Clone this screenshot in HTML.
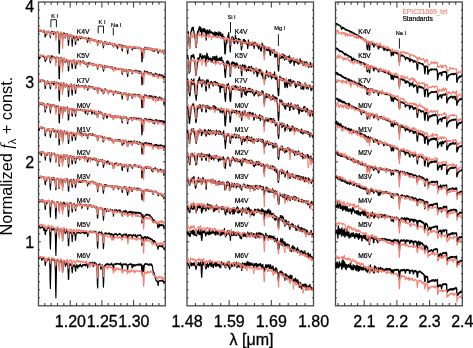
<!DOCTYPE html>
<html><head><meta charset="utf-8"><style>
html,body{margin:0;padding:0;background:#fff;overflow:hidden;width:473px;height:348px;}
svg{display:block;}
svg{will-change:transform;}
text{font-family:"Liberation Sans",sans-serif;}
.sl{font-size:6.7px;fill:#000;stroke:#000;stroke-width:0.22px;}
.ax{font-size:16px;fill:#000;stroke:#000;stroke-width:0.3px;}
.mk{font-size:5.6px;fill:#000;stroke:#000;stroke-width:0.18px;}
</style></head><body>
<svg width="473" height="348" viewBox="0 0 473 348">
<rect width="473" height="348" fill="#fff"/>
<rect x="38.50" y="2.00" width="126.80" height="303.80" stroke="#4a4a4a" stroke-width="1.3" fill="none"/>
<path d="M44.84 305.80v-2.8M44.84 2.00v2.8M51.18 305.80v-2.8M51.18 2.00v2.8M57.52 305.80v-2.8M57.52 2.00v2.8M63.86 305.80v-2.8M63.86 2.00v2.8M76.54 305.80v-2.8M76.54 2.00v2.8M82.88 305.80v-2.8M82.88 2.00v2.8M89.22 305.80v-2.8M89.22 2.00v2.8M95.56 305.80v-2.8M95.56 2.00v2.8M108.24 305.80v-2.8M108.24 2.00v2.8M114.58 305.80v-2.8M114.58 2.00v2.8M120.92 305.80v-2.8M120.92 2.00v2.8M127.26 305.80v-2.8M127.26 2.00v2.8M139.94 305.80v-2.8M139.94 2.00v2.8M146.28 305.80v-2.8M146.28 2.00v2.8M152.62 305.80v-2.8M152.62 2.00v2.8M158.96 305.80v-2.8M158.96 2.00v2.8M70.20 305.80v-5.6M70.20 2.00v5.6M101.90 305.80v-5.6M101.90 2.00v5.6M133.60 305.80v-5.6M133.60 2.00v5.6" stroke="#333" stroke-width="1" fill="none"/>
<path d="M38.50 297.81h1.3M165.30 297.81h-1.3M38.50 289.81h1.3M165.30 289.81h-1.3M38.50 281.82h1.3M165.30 281.82h-1.3M38.50 273.82h1.3M165.30 273.82h-1.3M38.50 265.83h1.3M165.30 265.83h-1.3M38.50 257.83h1.3M165.30 257.83h-1.3M38.50 249.84h1.3M165.30 249.84h-1.3M38.50 241.84h2.4M165.30 241.84h-2.4M38.50 233.85h1.3M165.30 233.85h-1.3M38.50 225.85h1.3M165.30 225.85h-1.3M38.50 217.86h1.3M165.30 217.86h-1.3M38.50 209.86h1.3M165.30 209.86h-1.3M38.50 201.87h1.3M165.30 201.87h-1.3M38.50 193.87h1.3M165.30 193.87h-1.3M38.50 185.88h1.3M165.30 185.88h-1.3M38.50 177.88h1.3M165.30 177.88h-1.3M38.50 169.89h1.3M165.30 169.89h-1.3M38.50 161.89h2.4M165.30 161.89h-2.4M38.50 153.90h1.3M165.30 153.90h-1.3M38.50 145.91h1.3M165.30 145.91h-1.3M38.50 137.91h1.3M165.30 137.91h-1.3M38.50 129.92h1.3M165.30 129.92h-1.3M38.50 121.92h1.3M165.30 121.92h-1.3M38.50 113.93h1.3M165.30 113.93h-1.3M38.50 105.93h1.3M165.30 105.93h-1.3M38.50 97.94h1.3M165.30 97.94h-1.3M38.50 89.94h1.3M165.30 89.94h-1.3M38.50 81.95h2.4M165.30 81.95h-2.4M38.50 73.95h1.3M165.30 73.95h-1.3M38.50 65.96h1.3M165.30 65.96h-1.3M38.50 57.96h1.3M165.30 57.96h-1.3M38.50 49.97h1.3M165.30 49.97h-1.3M38.50 41.97h1.3M165.30 41.97h-1.3M38.50 33.98h1.3M165.30 33.98h-1.3M38.50 25.98h1.3M165.30 25.98h-1.3M38.50 17.99h1.3M165.30 17.99h-1.3M38.50 9.99h1.3M165.30 9.99h-1.3" stroke="#333" stroke-width="1" fill="none"/>
<rect x="187.00" y="2.00" width="126.50" height="303.80" stroke="#4a4a4a" stroke-width="1.3" fill="none"/>
<path d="M195.43 305.80v-2.8M195.43 2.00v2.8M203.87 305.80v-2.8M203.87 2.00v2.8M212.30 305.80v-2.8M212.30 2.00v2.8M220.73 305.80v-2.8M220.73 2.00v2.8M237.60 305.80v-2.8M237.60 2.00v2.8M246.03 305.80v-2.8M246.03 2.00v2.8M254.47 305.80v-2.8M254.47 2.00v2.8M262.90 305.80v-2.8M262.90 2.00v2.8M279.77 305.80v-2.8M279.77 2.00v2.8M288.20 305.80v-2.8M288.20 2.00v2.8M296.63 305.80v-2.8M296.63 2.00v2.8M305.07 305.80v-2.8M305.07 2.00v2.8M229.17 305.80v-5.6M229.17 2.00v5.6M271.33 305.80v-5.6M271.33 2.00v5.6" stroke="#333" stroke-width="1" fill="none"/>
<path d="M187.00 297.81h1.3M313.50 297.81h-1.3M187.00 289.81h1.3M313.50 289.81h-1.3M187.00 281.82h1.3M313.50 281.82h-1.3M187.00 273.82h1.3M313.50 273.82h-1.3M187.00 265.83h1.3M313.50 265.83h-1.3M187.00 257.83h1.3M313.50 257.83h-1.3M187.00 249.84h1.3M313.50 249.84h-1.3M187.00 241.84h2.4M313.50 241.84h-2.4M187.00 233.85h1.3M313.50 233.85h-1.3M187.00 225.85h1.3M313.50 225.85h-1.3M187.00 217.86h1.3M313.50 217.86h-1.3M187.00 209.86h1.3M313.50 209.86h-1.3M187.00 201.87h1.3M313.50 201.87h-1.3M187.00 193.87h1.3M313.50 193.87h-1.3M187.00 185.88h1.3M313.50 185.88h-1.3M187.00 177.88h1.3M313.50 177.88h-1.3M187.00 169.89h1.3M313.50 169.89h-1.3M187.00 161.89h2.4M313.50 161.89h-2.4M187.00 153.90h1.3M313.50 153.90h-1.3M187.00 145.91h1.3M313.50 145.91h-1.3M187.00 137.91h1.3M313.50 137.91h-1.3M187.00 129.92h1.3M313.50 129.92h-1.3M187.00 121.92h1.3M313.50 121.92h-1.3M187.00 113.93h1.3M313.50 113.93h-1.3M187.00 105.93h1.3M313.50 105.93h-1.3M187.00 97.94h1.3M313.50 97.94h-1.3M187.00 89.94h1.3M313.50 89.94h-1.3M187.00 81.95h2.4M313.50 81.95h-2.4M187.00 73.95h1.3M313.50 73.95h-1.3M187.00 65.96h1.3M313.50 65.96h-1.3M187.00 57.96h1.3M313.50 57.96h-1.3M187.00 49.97h1.3M313.50 49.97h-1.3M187.00 41.97h1.3M313.50 41.97h-1.3M187.00 33.98h1.3M313.50 33.98h-1.3M187.00 25.98h1.3M313.50 25.98h-1.3M187.00 17.99h1.3M313.50 17.99h-1.3M187.00 9.99h1.3M313.50 9.99h-1.3" stroke="#333" stroke-width="1" fill="none"/>
<rect x="335.50" y="2.00" width="126.80" height="303.80" stroke="#4a4a4a" stroke-width="1.3" fill="none"/>
<path d="M338.05 305.80v-2.8M338.05 2.00v2.8M344.59 305.80v-2.8M344.59 2.00v2.8M351.13 305.80v-2.8M351.13 2.00v2.8M357.67 305.80v-2.8M357.67 2.00v2.8M370.75 305.80v-2.8M370.75 2.00v2.8M377.29 305.80v-2.8M377.29 2.00v2.8M383.83 305.80v-2.8M383.83 2.00v2.8M390.37 305.80v-2.8M390.37 2.00v2.8M403.44 305.80v-2.8M403.44 2.00v2.8M409.98 305.80v-2.8M409.98 2.00v2.8M416.52 305.80v-2.8M416.52 2.00v2.8M423.06 305.80v-2.8M423.06 2.00v2.8M436.14 305.80v-2.8M436.14 2.00v2.8M442.68 305.80v-2.8M442.68 2.00v2.8M449.22 305.80v-2.8M449.22 2.00v2.8M455.76 305.80v-2.8M455.76 2.00v2.8M364.21 305.80v-5.6M364.21 2.00v5.6M396.91 305.80v-5.6M396.91 2.00v5.6M429.60 305.80v-5.6M429.60 2.00v5.6" stroke="#333" stroke-width="1" fill="none"/>
<path d="M335.50 297.81h1.3M462.30 297.81h-1.3M335.50 289.81h1.3M462.30 289.81h-1.3M335.50 281.82h1.3M462.30 281.82h-1.3M335.50 273.82h1.3M462.30 273.82h-1.3M335.50 265.83h1.3M462.30 265.83h-1.3M335.50 257.83h1.3M462.30 257.83h-1.3M335.50 249.84h1.3M462.30 249.84h-1.3M335.50 241.84h2.4M462.30 241.84h-2.4M335.50 233.85h1.3M462.30 233.85h-1.3M335.50 225.85h1.3M462.30 225.85h-1.3M335.50 217.86h1.3M462.30 217.86h-1.3M335.50 209.86h1.3M462.30 209.86h-1.3M335.50 201.87h1.3M462.30 201.87h-1.3M335.50 193.87h1.3M462.30 193.87h-1.3M335.50 185.88h1.3M462.30 185.88h-1.3M335.50 177.88h1.3M462.30 177.88h-1.3M335.50 169.89h1.3M462.30 169.89h-1.3M335.50 161.89h2.4M462.30 161.89h-2.4M335.50 153.90h1.3M462.30 153.90h-1.3M335.50 145.91h1.3M462.30 145.91h-1.3M335.50 137.91h1.3M462.30 137.91h-1.3M335.50 129.92h1.3M462.30 129.92h-1.3M335.50 121.92h1.3M462.30 121.92h-1.3M335.50 113.93h1.3M462.30 113.93h-1.3M335.50 105.93h1.3M462.30 105.93h-1.3M335.50 97.94h1.3M462.30 97.94h-1.3M335.50 89.94h1.3M462.30 89.94h-1.3M335.50 81.95h2.4M462.30 81.95h-2.4M335.50 73.95h1.3M462.30 73.95h-1.3M335.50 65.96h1.3M462.30 65.96h-1.3M335.50 57.96h1.3M462.30 57.96h-1.3M335.50 49.97h1.3M462.30 49.97h-1.3M335.50 41.97h1.3M462.30 41.97h-1.3M335.50 33.98h1.3M462.30 33.98h-1.3M335.50 25.98h1.3M462.30 25.98h-1.3M335.50 17.99h1.3M462.30 17.99h-1.3M335.50 9.99h1.3M462.30 9.99h-1.3" stroke="#333" stroke-width="1" fill="none"/>
<polyline points="38.9,30.8 39.1,31.2 39.4,30.6 39.6,30.0 39.9,30.8 40.1,30.6 40.4,31.3 40.6,31.0 40.9,30.1 41.1,30.4 41.4,31.4 41.6,31.4 41.9,30.9 42.1,31.5 42.4,31.8 42.6,31.7 42.9,31.7 43.1,31.3 43.4,31.2 43.6,31.2 43.9,31.9 44.1,30.3 44.4,31.3 44.6,31.9 44.9,33.1 45.1,36.9 45.4,36.8 45.6,34.9 45.9,32.4 46.1,32.9 46.4,34.6 46.6,34.7 46.9,33.0 47.1,31.4 47.4,32.6 47.6,31.6 47.9,31.4 48.1,31.8 48.4,31.7 48.6,32.2 48.9,31.8 49.1,31.8 49.4,31.5 49.6,32.5 49.9,32.9 50.1,36.0 50.4,37.7 50.6,34.9 50.9,32.3 51.1,32.6 51.4,33.3 51.6,31.5 51.9,31.4 52.1,32.3 52.4,31.6 52.6,31.8 52.9,32.2 53.1,33.6 53.4,34.3 53.6,34.5 53.9,33.1 54.1,32.0 54.4,32.0 54.6,31.7 54.9,32.3 55.1,32.1 55.4,33.4 55.6,37.0 55.9,37.6 56.1,36.2 56.4,34.2 56.6,32.5 56.9,32.3 57.1,32.6 57.4,32.5 57.6,31.8 57.9,32.8 58.1,32.2 58.4,32.4 58.6,35.2 58.9,43.0 59.1,53.4 59.4,53.1 59.6,45.2 59.9,35.7 60.1,33.4 60.4,33.2 60.6,32.6 60.9,32.5 61.1,33.0 61.4,33.3 61.6,33.4 61.9,34.8 62.1,36.0 62.4,38.7 62.6,40.1 62.9,37.9 63.1,35.1 63.4,33.7 63.6,33.6 63.9,32.7 64.2,34.0 64.4,33.4 64.7,33.5 64.9,35.7 65.2,38.0 65.4,37.9 65.7,36.0 65.9,34.0 66.2,35.5 66.4,34.5 66.7,33.6 66.9,33.8 67.2,34.3 67.4,33.6 67.7,34.9 67.9,36.3 68.2,41.4 68.4,45.5 68.7,43.2 68.9,40.0 69.2,35.5 69.4,35.6 69.7,35.0 69.9,35.2 70.2,34.4 70.4,35.9 70.7,36.1 70.9,34.6 71.2,35.4 71.4,35.3 71.7,37.4 71.9,41.1 72.2,46.2 72.4,42.8 72.7,38.5 72.9,36.5 73.2,35.5 73.4,36.2 73.7,36.9 73.9,38.1 74.2,37.9 74.4,37.7 74.7,36.9 74.9,37.3 75.2,40.6 75.4,44.3 75.7,44.3 75.9,39.7 76.2,37.1 76.4,36.3 76.7,36.9 76.9,37.7 77.2,39.1 77.4,37.6 77.7,37.4 77.9,39.2 78.2,40.5 78.4,39.4 78.7,37.0 78.9,37.4 79.2,37.2 79.4,36.4 79.7,37.6 79.9,37.1 80.2,37.6 80.4,38.8 80.7,38.5 80.9,38.0 81.2,36.8 81.4,38.5 81.7,37.3 81.9,36.9 82.2,38.0 82.4,37.6 82.7,37.9 82.9,37.7 83.2,37.8 83.4,38.0 83.7,37.6 83.9,38.4 84.2,37.8 84.4,37.7 84.7,38.2 84.9,38.4 85.2,38.1 85.4,37.9 85.7,38.7 85.9,37.5 86.2,37.9 86.4,38.5 86.7,37.9 86.9,38.9 87.2,39.9 87.4,42.3 87.7,42.2 87.9,40.9 88.2,39.7 88.4,37.7 88.7,40.5 88.9,38.6 89.2,38.7 89.4,39.5 89.7,39.2 89.9,38.4 90.2,39.9 90.4,40.3 90.7,39.5 90.9,39.4 91.2,39.6 91.4,39.0 91.7,39.8 91.9,40.0 92.2,40.0 92.4,39.6 92.7,39.9 92.9,39.4 93.2,40.3 93.4,39.9 93.7,40.3 93.9,40.0 94.2,40.2 94.4,39.7 94.7,40.5 94.9,41.1 95.2,40.1 95.4,40.1 95.7,40.4 95.9,40.3 96.2,40.3 96.4,40.7 96.7,40.6 96.9,41.8 97.2,42.3 97.4,44.3 97.7,45.3 97.9,43.4 98.2,42.7 98.4,40.9 98.7,40.7 98.9,41.0 99.2,41.2 99.4,40.7 99.7,41.6 99.9,41.2 100.2,42.8 100.4,41.8 100.7,41.3 100.9,41.2 101.2,41.5 101.4,41.6 101.7,41.3 101.9,41.4 102.2,41.8 102.4,41.8 102.7,42.9 102.9,44.3 103.2,46.1 103.4,47.8 103.7,45.7 103.9,44.5 104.2,42.9 104.4,42.7 104.7,43.2 104.9,41.3 105.2,42.6 105.4,42.0 105.7,42.9 105.9,42.0 106.2,42.6 106.4,43.5 106.7,44.3 106.9,44.1 107.2,43.4 107.4,43.1 107.7,43.8 107.9,43.9 108.2,43.4 108.4,44.4 108.7,43.7 108.9,43.7 109.2,43.1 109.4,43.8 109.7,42.9 109.9,43.7 110.2,43.2 110.4,43.9 110.7,44.1 110.9,43.3 111.2,43.7 111.4,43.7 111.7,44.4 111.9,44.2 112.2,43.3 112.4,44.2 112.7,44.5 112.9,45.8 113.2,45.4 113.4,46.9 113.7,47.0 113.9,44.3 114.2,43.8 114.4,44.6 114.7,44.9 114.9,44.1 115.2,44.8 115.4,44.6 115.7,45.5 115.9,45.2 116.2,45.9 116.4,44.8 116.7,45.0 116.9,45.4 117.2,47.5 117.4,48.7 117.7,47.5 117.9,46.6 118.2,45.7 118.4,45.1 118.7,45.1 118.9,45.1 119.2,44.4 119.4,45.4 119.7,45.5 119.9,45.0 120.2,45.9 120.4,44.9 120.7,45.3 120.9,45.4 121.2,46.7 121.4,45.1 121.7,47.0 121.9,49.4 122.2,51.0 122.4,50.6 122.7,47.1 122.9,45.2 123.2,46.5 123.4,45.6 123.7,46.0 123.9,45.6 124.2,46.8 124.4,46.7 124.7,45.9 124.9,46.8 125.2,46.4 125.4,46.3 125.7,46.4 125.9,46.3 126.2,46.7 126.4,46.6 126.7,46.4 126.9,47.5 127.2,48.5 127.4,52.3 127.7,53.7 127.9,51.6 128.2,47.7 128.4,47.7 128.7,46.8 128.9,46.6 129.2,46.4 129.4,47.0 129.7,46.8 129.9,46.4 130.2,46.5 130.4,46.8 130.7,46.6 130.9,47.4 131.2,47.6 131.4,47.4 131.7,47.7 131.9,48.6 132.2,50.0 132.4,49.9 132.7,49.1 132.9,47.9 133.2,47.5 133.4,48.1 133.7,47.8 133.9,47.3 134.2,47.3 134.4,47.4 134.7,48.2 134.9,47.3 135.2,48.0 135.4,48.2 135.7,47.4 135.9,48.2 136.2,47.8 136.4,47.3 136.7,47.7 136.9,47.6 137.2,47.4 137.4,47.5 137.7,47.7 137.9,48.2 138.2,47.9 138.4,48.3 138.7,47.2 138.9,47.9 139.2,48.0 139.4,47.8 139.7,47.9 139.9,48.1 140.2,47.5 140.4,47.7 140.7,48.1 140.9,48.4 141.2,48.6 141.4,51.9 141.7,55.9 141.9,61.8 142.2,61.3 142.4,54.7 142.7,49.8 142.9,48.7 143.2,50.7 143.4,53.3 143.7,53.4 143.9,51.6 144.2,49.3 144.4,48.8 144.7,47.2 144.9,48.4 145.2,48.3 145.4,47.6 145.7,49.4 145.9,47.7 146.2,47.9 146.4,47.8 146.7,49.0 146.9,48.0 147.2,48.8 147.4,48.8 147.7,48.7 147.9,47.9 148.2,48.3 148.4,49.5 148.7,48.0 148.9,48.3 149.2,48.6 149.4,49.1 149.7,48.9 149.9,49.2 150.2,48.3 150.4,49.3 150.7,49.1 150.9,48.1 151.2,49.7 151.4,50.1 151.7,48.6 151.9,49.0 152.2,49.8 152.4,48.7 152.7,49.6 152.9,51.3 153.2,51.5 153.4,50.1 153.7,49.8 153.9,49.5 154.2,49.2 154.4,50.6 154.7,51.1 154.9,50.3 155.2,49.9 155.4,49.4 155.7,49.9 155.9,48.9 156.2,49.8 156.4,49.5 156.7,50.1 156.9,49.9 157.2,49.2 157.4,50.2 157.7,52.0 157.9,52.4 158.2,53.3 158.4,52.7 158.7,51.6 158.9,51.8 159.2,51.1 159.4,50.6 159.7,50.3 159.9,50.3 160.2,50.5 160.4,50.1 160.7,51.1 160.9,51.6 161.2,51.8 161.4,50.8 161.7,50.9 161.9,50.7 162.2,51.8 162.4,51.1 162.7,50.1 162.9,51.2 163.2,52.1 163.4,52.1 163.7,53.6 163.9,54.2 164.2,52.3 164.4,51.1 164.7,50.8" fill="none" stroke="#000" stroke-width="1.15" stroke-linejoin="round"/>
<polyline points="38.9,31.0 39.1,30.7 39.4,30.1 39.6,30.3 39.9,31.8 40.1,31.0 40.4,31.1 40.6,30.7 40.9,30.5 41.1,31.4 41.4,30.9 41.6,30.6 41.9,31.0 42.1,30.6 42.4,31.2 42.6,31.7 42.9,30.7 43.1,32.0 43.4,30.8 43.6,31.3 43.9,30.8 44.1,31.2 44.4,31.4 44.6,31.4 44.9,32.2 45.1,33.7 45.4,33.9 45.6,32.5 45.9,32.3 46.1,32.7 46.4,33.7 46.6,33.9 46.9,34.2 47.1,32.2 47.4,31.5 47.6,32.7 47.9,31.1 48.1,32.3 48.4,31.2 48.6,32.0 48.9,30.7 49.1,32.3 49.4,31.8 49.6,31.6 49.9,33.9 50.1,35.1 50.4,35.8 50.6,34.6 50.9,33.2 51.1,32.2 51.4,32.4 51.6,32.6 51.9,32.3 52.1,33.0 52.4,33.3 52.6,32.3 52.9,32.1 53.1,32.1 53.4,32.5 53.6,32.8 53.9,31.7 54.1,32.4 54.4,31.9 54.6,33.3 54.9,32.2 55.1,33.1 55.4,34.3 55.6,37.8 55.9,40.4 56.1,38.1 56.4,35.0 56.6,32.1 56.9,32.8 57.1,31.9 57.4,33.4 57.6,32.4 57.9,33.2 58.1,31.8 58.4,32.9 58.6,33.1 58.9,36.0 59.1,39.7 59.4,40.0 59.6,37.2 59.9,34.5 60.1,33.3 60.4,32.7 60.6,32.0 60.9,32.4 61.1,32.8 61.4,31.8 61.6,33.6 61.9,34.5 62.1,38.9 62.4,46.3 62.6,48.4 62.9,43.1 63.1,36.3 63.4,34.3 63.6,33.9 63.9,33.9 64.2,36.3 64.4,36.5 64.7,34.4 64.9,35.5 65.2,35.8 65.4,37.3 65.7,35.9 65.9,33.8 66.2,33.6 66.4,34.1 66.7,34.0 66.9,35.0 67.2,34.7 67.4,34.2 67.7,34.9 67.9,34.3 68.2,37.5 68.4,39.8 68.7,39.0 68.9,36.7 69.2,35.8 69.4,36.0 69.7,35.0 69.9,34.3 70.2,35.8 70.4,34.0 70.7,35.4 70.9,34.8 71.2,35.8 71.4,35.2 71.7,37.5 71.9,38.9 72.2,39.0 72.4,37.8 72.7,36.7 72.9,36.6 73.2,35.8 73.4,35.8 73.7,35.7 73.9,36.3 74.2,36.1 74.4,36.1 74.7,35.5 74.9,37.3 75.2,38.9 75.4,39.3 75.7,41.1 75.9,38.7 76.2,38.0 76.4,38.4 76.7,39.7 76.9,38.2 77.2,36.6 77.4,35.7 77.7,37.3 77.9,36.4 78.2,36.6 78.4,38.5 78.7,38.2 78.9,37.6 79.2,36.9 79.4,37.5 79.7,35.9 79.9,37.3 80.2,36.9 80.4,36.6 80.7,36.5 80.9,37.7 81.2,37.6 81.4,37.6 81.7,38.1 81.9,37.4 82.2,37.7 82.4,38.1 82.7,38.8 82.9,38.8 83.2,37.9 83.4,38.3 83.7,37.3 83.9,37.8 84.2,37.6 84.4,37.4 84.7,39.2 84.9,38.7 85.2,37.8 85.4,37.9 85.7,38.3 85.9,37.6 86.2,38.7 86.4,37.8 86.7,38.3 86.9,38.1 87.2,39.0 87.4,39.6 87.7,40.0 87.9,40.3 88.2,40.3 88.4,40.1 88.7,39.6 88.9,39.9 89.2,39.5 89.4,39.1 89.7,40.4 89.9,41.1 90.2,43.1 90.4,41.6 90.7,39.2 90.9,39.8 91.2,39.8 91.4,38.0 91.7,39.2 91.9,39.7 92.2,39.1 92.4,39.5 92.7,39.3 92.9,40.1 93.2,40.0 93.4,41.4 93.7,39.8 93.9,40.6 94.2,40.1 94.4,40.2 94.7,39.5 94.9,39.2 95.2,39.9 95.4,40.8 95.7,41.3 95.9,40.8 96.2,40.8 96.4,40.1 96.7,41.5 96.9,41.8 97.2,42.0 97.4,44.1 97.7,44.4 97.9,44.7 98.2,42.7 98.4,41.7 98.7,41.6 98.9,41.5 99.2,41.0 99.4,40.6 99.7,40.6 99.9,40.4 100.2,41.7 100.4,42.7 100.7,40.6 100.9,41.7 101.2,41.9 101.4,41.2 101.7,41.9 101.9,41.3 102.2,42.6 102.4,41.7 102.7,42.3 102.9,43.5 103.2,44.4 103.4,44.7 103.7,45.4 103.9,45.7 104.2,44.3 104.4,43.3 104.7,42.0 104.9,42.6 105.2,42.9 105.4,42.6 105.7,43.7 105.9,42.5 106.2,42.1 106.4,41.9 106.7,43.4 106.9,42.8 107.2,43.5 107.4,43.2 107.7,43.9 107.9,43.7 108.2,42.9 108.4,43.3 108.7,43.8 108.9,42.6 109.2,44.1 109.4,44.1 109.7,44.1 109.9,43.5 110.2,43.7 110.4,42.9 110.7,43.6 110.9,43.3 111.2,43.7 111.4,43.5 111.7,43.9 111.9,44.5 112.2,43.2 112.4,44.4 112.7,43.0 112.9,43.6 113.2,46.1 113.4,47.1 113.7,46.5 113.9,44.1 114.2,44.5 114.4,44.7 114.7,45.3 114.9,44.5 115.2,44.8 115.4,44.0 115.7,44.5 115.9,44.4 116.2,45.1 116.4,44.2 116.7,44.3 116.9,45.2 117.2,45.9 117.4,45.1 117.7,45.2 117.9,44.9 118.2,45.9 118.4,46.0 118.7,46.9 118.9,46.0 119.2,45.0 119.4,45.1 119.7,45.2 119.9,45.6 120.2,47.3 120.4,46.6 120.7,45.1 120.9,46.7 121.2,46.0 121.4,45.9 121.7,47.6 121.9,48.6 122.2,48.9 122.4,47.4 122.7,47.1 122.9,46.8 123.2,45.4 123.4,47.1 123.7,46.8 123.9,46.0 124.2,46.4 124.4,46.3 124.7,46.2 124.9,46.6 125.2,47.4 125.4,45.7 125.7,46.6 125.9,46.5 126.2,46.1 126.4,46.3 126.7,45.8 126.9,46.2 127.2,47.5 127.4,49.1 127.7,49.0 127.9,50.1 128.2,46.9 128.4,46.8 128.7,46.6 128.9,46.5 129.2,47.4 129.4,46.5 129.7,47.5 129.9,47.4 130.2,46.3 130.4,47.7 130.7,47.0 130.9,48.8 131.2,46.9 131.4,46.5 131.7,46.3 131.9,47.5 132.2,48.7 132.4,48.1 132.7,47.0 132.9,46.8 133.2,47.0 133.4,47.9 133.7,46.2 133.9,46.9 134.2,46.7 134.4,46.4 134.7,46.5 134.9,46.8 135.2,47.7 135.4,47.2 135.7,47.0 135.9,47.7 136.2,47.6 136.4,47.5 136.7,47.9 136.9,47.2 137.2,47.9 137.4,47.8 137.7,47.3 137.9,46.9 138.2,48.4 138.4,47.7 138.7,49.3 138.9,47.3 139.2,48.2 139.4,47.5 139.7,47.9 139.9,48.2 140.2,47.4 140.4,47.8 140.7,48.0 140.9,48.1 141.2,48.8 141.4,50.1 141.7,51.4 141.9,52.3 142.2,51.5 142.4,49.3 142.7,48.4 142.9,49.0 143.2,52.8 143.4,57.1 143.7,58.3 143.9,55.8 144.2,50.5 144.4,48.4 144.7,48.2 144.9,48.5 145.2,47.0 145.4,47.9 145.7,48.8 145.9,48.7 146.2,48.3 146.4,48.3 146.7,49.2 146.9,48.2 147.2,48.9 147.4,49.0 147.7,48.3 147.9,48.8 148.2,48.4 148.4,48.3 148.7,48.0 148.9,49.2 149.2,48.5 149.4,48.4 149.7,48.2 149.9,50.2 150.2,50.2 150.4,49.9 150.7,49.2 150.9,48.5 151.2,49.5 151.4,49.4 151.7,48.3 151.9,49.7 152.2,49.5 152.4,48.8 152.7,49.8 152.9,50.8 153.2,51.0 153.4,49.9 153.7,48.5 153.9,50.0 154.2,49.4 154.4,49.9 154.7,50.0 154.9,49.4 155.2,50.1 155.4,50.4 155.7,50.2 155.9,49.4 156.2,49.1 156.4,49.5 156.7,49.1 156.9,49.3 157.2,48.6 157.4,50.0 157.7,50.2 157.9,51.4 158.2,51.6 158.4,50.9 158.7,51.2 158.9,50.2 159.2,49.3 159.4,50.2 159.7,49.9 159.9,50.5 160.2,50.2 160.4,51.0 160.7,52.3 160.9,52.4 161.2,50.7 161.4,50.5 161.7,50.7 161.9,51.4 162.2,50.6 162.4,50.6 162.7,51.2 162.9,51.2 163.2,51.9 163.4,51.9 163.7,52.5 163.9,53.9 164.2,53.5 164.4,51.5 164.7,51.5" fill="none" stroke="#f47e70" stroke-width="1.1" stroke-linejoin="round"/>
<polyline points="187.4,32.7 187.7,32.7 187.9,34.0 188.2,31.6 188.4,33.4 188.7,37.5 188.9,39.0 189.2,45.5 189.4,46.0 189.7,48.1 189.9,44.1 190.2,41.2 190.4,38.8 190.7,36.4 190.9,32.2 191.2,31.6 191.4,29.9 191.7,31.2 191.9,27.9 192.2,30.0 192.4,27.7 192.7,27.3 192.9,27.7 193.2,27.1 193.4,29.0 193.7,30.7 193.9,31.0 194.2,33.3 194.4,35.3 194.7,34.2 194.9,36.1 195.2,38.6 195.4,40.3 195.7,46.2 195.9,44.5 196.2,47.5 196.4,44.8 196.7,43.3 196.9,38.4 197.2,34.3 197.4,33.5 197.7,31.3 197.9,32.1 198.2,32.5 198.4,31.0 198.7,29.8 198.9,28.5 199.2,29.3 199.4,26.7 199.7,29.2 199.9,28.0 200.2,31.3 200.4,31.5 200.7,27.1 200.9,29.8 201.2,30.3 201.4,31.3 201.7,35.3 201.9,33.0 202.2,28.9 202.4,29.6 202.7,29.5 202.9,30.2 203.2,29.2 203.4,31.8 203.7,31.4 203.9,28.5 204.2,28.9 204.4,29.7 204.7,29.1 204.9,32.1 205.2,30.3 205.4,29.8 205.7,33.2 205.9,37.7 206.2,40.1 206.4,33.1 206.7,31.0 206.9,30.9 207.2,30.3 207.4,33.6 207.7,29.9 207.9,31.5 208.2,31.2 208.4,32.9 208.7,31.3 208.9,34.5 209.2,31.1 209.4,31.0 209.7,29.9 209.9,30.6 210.2,32.4 210.4,32.8 210.7,32.4 210.9,33.0 211.2,32.5 211.4,31.7 211.7,33.0 211.9,33.0 212.2,32.3 212.4,33.3 212.7,34.0 212.9,32.9 213.2,32.8 213.4,34.7 213.7,36.1 213.9,33.1 214.2,33.3 214.4,33.5 214.7,35.6 214.9,31.8 215.2,34.4 215.4,35.0 215.7,32.3 215.9,35.4 216.2,34.2 216.4,33.0 216.7,34.3 216.9,32.7 217.2,34.5 217.4,37.3 217.7,33.3 217.9,36.7 218.2,34.2 218.4,35.7 218.7,34.5 218.9,31.6 219.2,33.8 219.4,34.9 219.7,33.2 219.9,33.0 220.2,35.3 220.4,34.0 220.7,32.7 220.9,34.0 221.2,36.1 221.4,34.5 221.7,36.8 221.9,38.0 222.2,36.1 222.4,34.3 222.7,34.1 222.9,36.3 223.2,37.8 223.4,36.7 223.7,37.0 223.9,36.6 224.2,39.5 224.4,42.2 224.7,49.1 224.9,53.8 225.2,53.8 225.4,51.9 225.7,46.8 225.9,42.6 226.2,41.2 226.4,38.8 226.7,43.4 226.9,41.4 227.2,37.9 227.4,38.1 227.7,36.9 227.9,35.5 228.2,37.8 228.4,35.5 228.7,32.6 228.9,38.0 229.2,37.2 229.4,42.1 229.7,42.9 229.9,46.1 230.2,51.9 230.4,47.6 230.7,45.9 230.9,43.8 231.2,39.4 231.4,37.9 231.7,37.7 231.9,38.6 232.2,36.5 232.4,38.4 232.7,38.4 232.9,40.8 233.2,37.7 233.4,38.1 233.7,42.3 233.9,42.1 234.2,43.4 234.4,43.4 234.7,43.4 234.9,38.9 235.2,38.6 235.4,35.2 235.7,37.4 235.9,40.6 236.2,38.0 236.4,38.5 236.7,38.9 236.9,42.0 237.2,41.7 237.4,40.6 237.7,43.6 237.9,41.9 238.2,41.1 238.4,38.7 238.7,41.7 238.9,40.0 239.2,39.4 239.4,39.0 239.7,39.4 239.9,40.9 240.2,39.5 240.4,41.4 240.7,41.2 240.9,43.7 241.2,46.6 241.4,50.0 241.7,48.5 241.9,47.5 242.2,43.9 242.4,41.3 242.7,41.4 242.9,40.1 243.2,40.3 243.4,39.7 243.7,42.8 243.9,41.3 244.2,40.5 244.4,39.5 244.7,41.1 244.9,43.3 245.2,42.1 245.4,40.6 245.7,43.5 245.9,43.6 246.2,43.2 246.4,43.3 246.7,44.0 246.9,43.3 247.2,44.5 247.4,44.4 247.7,48.5 247.9,45.4 248.2,46.0 248.4,40.0 248.7,43.6 248.9,44.5 249.2,43.7 249.4,45.2 249.7,44.9 249.9,44.1 250.2,42.4 250.4,42.9 250.7,44.5 250.9,44.9 251.2,43.4 251.4,43.4 251.7,43.7 251.9,45.1 252.2,42.9 252.4,42.8 252.7,44.4 252.9,42.4 253.2,43.1 253.4,44.4 253.7,46.5 253.9,46.3 254.2,48.5 254.4,43.4 254.7,45.2 254.9,42.1 255.2,42.5 255.4,45.1 255.7,43.8 255.9,43.3 256.1,43.8 256.4,45.1 256.6,44.5 256.9,44.6 257.1,46.0 257.4,43.9 257.6,44.5 257.9,44.8 258.1,47.5 258.4,48.0 258.6,49.0 258.9,46.7 259.1,45.5 259.4,46.4 259.6,44.8 259.9,46.7 260.1,47.9 260.4,48.3 260.6,50.4 260.9,49.7 261.1,51.0 261.4,50.8 261.6,46.3 261.9,46.1 262.1,43.1 262.4,46.4 262.6,46.2 262.9,45.0 263.1,47.8 263.4,45.7 263.6,49.3 263.9,52.4 264.1,53.2 264.4,56.2 264.6,53.7 264.9,47.5 265.1,46.1 265.4,48.9 265.6,48.9 265.9,47.7 266.1,48.8 266.4,49.6 266.6,49.9 266.9,50.4 267.1,48.9 267.4,50.5 267.6,50.0 267.9,49.2 268.1,49.8 268.4,50.3 268.6,49.6 268.9,47.2 269.1,50.0 269.4,49.2 269.6,52.0 269.9,51.8 270.1,54.7 270.4,55.3 270.6,55.3 270.9,51.1 271.1,49.5 271.4,50.1 271.6,49.3 271.9,50.2 272.1,50.1 272.4,50.6 272.6,52.9 272.9,50.1 273.1,50.9 273.4,50.7 273.6,51.8 273.9,49.5 274.1,50.3 274.4,51.9 274.6,54.8 274.9,57.0 275.1,57.5 275.4,55.0 275.6,54.5 275.9,55.8 276.1,56.2 276.4,56.6 276.6,55.4 276.9,52.2 277.1,53.0 277.4,54.4 277.6,58.0 277.9,62.0 278.1,65.1 278.4,70.9 278.6,71.1 278.9,65.4 279.1,62.0 279.4,58.5 279.6,57.6 279.9,54.3 280.1,58.5 280.4,55.9 280.6,58.1 280.9,56.6 281.1,56.4 281.4,56.7 281.6,57.8 281.9,55.5 282.1,55.9 282.4,55.4 282.6,53.9 282.9,57.9 283.1,56.6 283.4,55.7 283.6,57.3 283.9,54.6 284.1,56.1 284.4,59.4 284.6,60.2 284.9,57.6 285.1,55.7 285.4,56.8 285.6,58.4 285.9,56.7 286.1,57.9 286.4,59.4 286.6,57.1 286.9,57.9 287.1,58.3 287.4,57.9 287.6,57.9 287.9,56.7 288.1,58.3 288.4,57.1 288.6,59.4 288.9,61.2 289.1,57.0 289.4,55.7 289.6,59.6 289.9,62.6 290.1,63.4 290.4,61.8 290.6,58.2 290.9,57.8 291.1,60.7 291.4,58.3 291.6,61.9 291.9,60.0 292.1,60.7 292.4,60.3 292.6,60.3 292.9,60.5 293.1,58.2 293.4,60.1 293.6,60.5 293.9,62.7 294.1,65.4 294.4,62.7 294.6,60.4 294.9,59.7 295.1,60.6 295.4,62.2 295.6,59.8 295.9,62.0 296.1,60.9 296.4,60.6 296.6,60.0 296.9,62.6 297.1,62.8 297.4,59.0 297.6,62.8 297.9,63.5 298.1,61.7 298.4,61.8 298.6,64.3 298.9,63.1 299.1,61.0 299.4,62.9 299.6,62.6 299.9,61.9 300.1,58.7 300.4,62.7 300.6,60.9 300.9,62.0 301.1,61.7 301.4,63.1 301.6,61.6 301.9,61.1 302.1,62.9 302.4,64.1 302.6,62.2 302.9,65.1 303.1,64.2 303.4,62.9 303.6,65.1 303.9,61.9 304.1,64.9 304.4,63.6 304.6,64.8 304.9,62.0 305.1,62.1 305.4,64.6 305.6,63.5 305.9,63.4 306.1,62.9 306.4,64.1 306.6,61.8 306.9,62.3 307.1,63.9 307.4,63.6 307.6,64.0 307.9,64.6 308.1,64.4 308.4,64.6 308.6,67.5 308.9,66.6 309.1,66.8 309.4,65.6 309.6,65.5 309.9,64.2 310.1,64.9 310.4,62.3 310.6,64.2 310.9,66.0 311.1,67.2 311.4,66.4 311.6,64.1 311.9,66.0 312.1,64.4 312.4,66.5 312.6,65.4 312.9,66.8" fill="none" stroke="#000" stroke-width="1.25" stroke-linejoin="round"/>
<polyline points="187.4,33.0 187.7,35.7 187.9,34.3 188.2,34.4 188.4,36.3 188.7,36.5 188.9,36.5 189.2,40.9 189.4,46.4 189.7,48.6 189.9,43.5 190.2,38.6 190.4,36.5 190.7,34.8 190.9,35.0 191.2,34.9 191.4,33.5 191.7,33.7 191.9,32.4 192.2,34.9 192.4,37.8 192.7,37.0 192.9,38.0 193.2,36.2 193.4,34.5 193.7,34.4 193.9,34.5 194.2,33.7 194.4,34.2 194.7,34.4 194.9,35.0 195.2,35.9 195.4,37.3 195.7,43.8 195.9,47.2 196.2,47.1 196.4,42.2 196.7,37.1 196.9,35.1 197.2,35.7 197.4,36.1 197.7,36.3 197.9,35.6 198.2,35.7 198.4,34.5 198.7,36.1 198.9,34.8 199.2,32.3 199.4,34.3 199.7,36.0 199.9,34.7 200.2,34.4 200.4,34.1 200.7,35.9 200.9,35.7 201.2,35.8 201.4,36.4 201.7,38.0 201.9,37.2 202.2,34.6 202.4,35.7 202.7,35.1 202.9,34.9 203.2,35.7 203.4,35.1 203.7,32.9 203.9,37.0 204.2,36.8 204.4,35.7 204.7,35.1 204.9,35.5 205.2,34.3 205.4,35.9 205.7,36.6 205.9,37.9 206.2,37.3 206.4,36.1 206.7,36.6 206.9,36.5 207.2,35.9 207.4,35.4 207.7,34.8 207.9,36.1 208.2,36.9 208.4,34.7 208.7,37.6 208.9,35.5 209.2,37.0 209.4,37.2 209.7,35.3 209.9,34.7 210.2,36.0 210.4,36.5 210.7,35.6 210.9,37.7 211.2,37.4 211.4,40.1 211.7,37.9 211.9,36.8 212.2,36.6 212.4,36.3 212.7,37.5 212.9,37.8 213.2,36.5 213.4,36.0 213.7,35.2 213.9,35.6 214.2,36.2 214.4,36.3 214.7,36.5 214.9,36.6 215.2,37.3 215.4,36.2 215.7,36.4 215.9,37.7 216.2,37.2 216.4,36.0 216.7,37.5 216.9,35.9 217.2,36.3 217.4,35.0 217.7,37.2 217.9,36.6 218.2,37.4 218.4,37.2 218.7,36.7 218.9,36.8 219.2,37.7 219.4,36.7 219.7,36.7 219.9,37.0 220.2,37.6 220.4,37.8 220.7,38.9 220.9,37.7 221.2,38.9 221.4,37.1 221.7,38.1 221.9,37.9 222.2,39.3 222.4,38.2 222.7,37.2 222.9,38.0 223.2,37.9 223.4,37.4 223.7,37.4 223.9,37.0 224.2,40.0 224.4,38.1 224.7,39.4 224.9,39.4 225.2,41.6 225.4,42.7 225.7,40.8 225.9,39.7 226.2,37.5 226.4,38.7 226.7,39.5 226.9,37.6 227.2,39.1 227.4,37.6 227.7,38.7 227.9,38.8 228.2,39.9 228.4,38.1 228.7,38.8 228.9,39.5 229.2,37.9 229.4,39.1 229.7,39.7 229.9,42.3 230.2,45.4 230.4,44.7 230.7,44.4 230.9,43.3 231.2,43.8 231.4,41.6 231.7,39.9 231.9,39.6 232.2,37.6 232.4,41.0 232.7,39.7 232.9,39.7 233.2,39.9 233.4,40.8 233.7,41.4 233.9,40.3 234.2,40.9 234.4,40.5 234.7,39.9 234.9,40.8 235.2,40.6 235.4,39.4 235.7,41.4 235.9,39.1 236.2,40.4 236.4,39.4 236.7,39.6 236.9,39.7 237.2,40.9 237.4,39.4 237.7,40.3 237.9,41.8 238.2,40.0 238.4,40.6 238.7,41.2 238.9,40.2 239.2,41.1 239.4,40.3 239.7,41.4 239.9,41.0 240.2,40.2 240.4,42.2 240.7,41.1 240.9,41.5 241.2,42.6 241.4,45.4 241.7,46.2 241.9,44.3 242.2,43.1 242.4,40.5 242.7,41.2 242.9,42.5 243.2,41.7 243.4,42.0 243.7,43.0 243.9,42.0 244.2,42.2 244.4,41.9 244.7,43.7 244.9,44.0 245.2,43.4 245.4,44.1 245.7,41.9 245.9,43.2 246.2,42.8 246.4,42.1 246.7,42.0 246.9,41.2 247.2,43.8 247.4,43.3 247.7,42.9 247.9,43.3 248.2,42.1 248.4,42.2 248.7,42.4 248.9,42.6 249.2,46.7 249.4,45.1 249.7,44.6 249.9,45.5 250.2,42.3 250.4,44.3 250.7,43.6 250.9,42.5 251.2,43.7 251.4,41.8 251.7,43.5 251.9,44.2 252.2,41.7 252.4,42.4 252.7,43.8 252.9,44.3 253.2,43.9 253.4,44.6 253.7,45.1 253.9,44.6 254.2,45.6 254.4,43.9 254.7,43.0 254.9,42.8 255.2,45.5 255.4,44.3 255.7,45.9 255.9,43.2 256.1,44.0 256.4,44.6 256.6,44.3 256.9,44.9 257.1,44.6 257.4,44.1 257.6,42.8 257.9,43.9 258.1,46.1 258.4,45.4 258.6,46.0 258.9,44.5 259.1,44.8 259.4,44.4 259.6,45.4 259.9,45.3 260.1,46.0 260.4,47.7 260.6,45.8 260.9,46.6 261.1,44.6 261.4,46.5 261.6,45.4 261.9,45.8 262.1,46.0 262.4,47.4 262.6,46.1 262.9,45.9 263.1,45.5 263.4,47.4 263.6,48.8 263.9,53.8 264.1,59.1 264.4,60.0 264.6,54.5 264.9,50.8 265.1,49.4 265.4,46.2 265.6,48.4 265.9,49.2 266.1,47.1 266.4,48.1 266.6,46.6 266.9,48.1 267.1,47.7 267.4,48.3 267.6,47.4 267.9,47.7 268.1,48.0 268.4,47.9 268.6,48.0 268.9,48.5 269.1,47.8 269.4,48.7 269.6,49.3 269.9,47.2 270.1,49.3 270.4,48.7 270.6,48.7 270.9,49.0 271.1,49.6 271.4,49.4 271.6,50.2 271.9,49.1 272.1,51.6 272.4,50.4 272.6,51.3 272.9,51.4 273.1,49.5 273.4,51.5 273.6,52.5 273.9,50.9 274.1,52.8 274.4,53.3 274.6,53.2 274.9,52.0 275.1,51.3 275.4,52.3 275.6,52.7 275.9,52.2 276.1,53.5 276.4,53.2 276.6,52.9 276.9,51.9 277.1,54.1 277.4,53.9 277.6,51.8 277.9,54.8 278.1,59.6 278.4,64.6 278.6,64.4 278.9,59.2 279.1,56.0 279.4,54.8 279.6,53.1 279.9,55.4 280.1,56.2 280.4,57.3 280.6,56.1 280.9,54.1 281.1,53.9 281.4,54.8 281.6,55.0 281.9,54.8 282.1,56.0 282.4,55.0 282.6,54.4 282.9,55.2 283.1,55.4 283.4,55.5 283.6,56.7 283.9,56.4 284.1,57.1 284.4,57.1 284.6,57.2 284.9,59.0 285.1,57.9 285.4,57.5 285.6,55.9 285.9,56.8 286.1,56.7 286.4,57.5 286.6,58.8 286.9,59.2 287.1,58.0 287.4,57.3 287.6,58.7 287.9,59.7 288.1,60.5 288.4,60.4 288.6,58.7 288.9,57.6 289.1,59.1 289.4,57.9 289.6,58.7 289.9,60.7 290.1,59.5 290.4,58.3 290.6,58.1 290.9,59.0 291.1,59.0 291.4,59.1 291.6,58.6 291.9,58.3 292.1,59.9 292.4,58.1 292.6,59.2 292.9,58.4 293.1,59.2 293.4,59.5 293.6,60.7 293.9,57.5 294.1,60.9 294.4,59.2 294.6,60.2 294.9,60.7 295.1,59.5 295.4,60.1 295.6,60.7 295.9,60.2 296.1,59.8 296.4,60.7 296.6,60.8 296.9,59.8 297.1,62.1 297.4,61.1 297.6,59.0 297.9,60.3 298.1,62.5 298.4,62.5 298.6,61.5 298.9,60.0 299.1,61.2 299.4,62.2 299.6,61.8 299.9,61.3 300.1,61.1 300.4,62.6 300.6,62.2 300.9,62.8 301.1,62.7 301.4,63.4 301.6,62.3 301.9,63.0 302.1,62.6 302.4,66.0 302.6,65.2 302.9,63.2 303.1,60.8 303.4,62.2 303.6,63.0 303.9,65.5 304.1,65.3 304.4,65.3 304.6,64.5 304.9,64.4 305.1,62.8 305.4,64.0 305.6,65.4 305.9,67.2 306.1,66.1 306.4,64.7 306.6,63.0 306.9,63.9 307.1,63.5 307.4,66.4 307.6,64.6 307.9,66.9 308.1,66.0 308.4,63.6 308.6,65.3 308.9,65.2 309.1,63.9 309.4,66.2 309.6,66.0 309.9,66.5 310.1,65.3 310.4,65.5 310.6,65.6 310.9,65.2 311.1,65.0 311.4,65.3 311.6,64.5 311.9,65.6 312.1,63.4 312.4,66.7 312.6,65.6 312.9,66.0" fill="none" stroke="#f47e70" stroke-width="1.0" stroke-linejoin="round"/>
<polyline points="335.9,23.2 336.1,23.8 336.4,23.7 336.6,23.7 336.9,24.2 337.1,24.4 337.4,23.9 337.6,24.4 337.9,24.4 338.1,24.7 338.4,24.6 338.6,25.1 338.9,25.2 339.1,25.3 339.4,25.2 339.6,25.6 339.9,25.5 340.1,25.6 340.4,26.2 340.6,26.0 340.9,26.9 341.1,27.5 341.4,27.8 341.6,29.2 341.9,28.4 342.1,28.1 342.4,27.8 342.6,27.2 342.9,27.8 343.1,27.8 343.4,28.3 343.6,27.8 343.9,28.5 344.1,28.1 344.4,28.5 344.6,28.5 344.9,29.3 345.1,29.2 345.4,29.9 345.6,29.5 345.9,29.7 346.1,29.8 346.4,29.5 346.6,29.8 346.9,30.4 347.1,30.0 347.4,30.3 347.6,30.3 347.9,30.6 348.1,30.5 348.4,30.7 348.6,30.9 348.9,31.0 349.1,30.8 349.4,31.5 349.6,30.9 349.9,31.1 350.1,31.2 350.4,32.0 350.6,31.7 350.9,31.7 351.1,31.7 351.4,32.3 351.6,32.0 351.9,32.1 352.1,32.8 352.4,32.3 352.6,32.7 352.9,32.9 353.1,32.9 353.4,33.2 353.6,33.7 353.9,33.3 354.1,33.2 354.4,33.1 354.6,33.8 354.9,33.8 355.1,34.2 355.4,34.1 355.6,34.2 355.9,34.2 356.1,34.4 356.4,34.7 356.6,34.7 356.9,35.0 357.1,35.7 357.4,35.4 357.6,35.0 357.9,36.1 358.1,35.8 358.4,35.6 358.6,36.3 358.9,36.2 359.1,36.2 359.4,36.3 359.6,36.4 359.9,36.8 360.1,37.3 360.4,37.0 360.6,37.4 360.9,38.0 361.1,37.2 361.4,37.8 361.6,37.8 361.9,37.7 362.1,37.9 362.4,38.3 362.6,38.6 362.9,38.5 363.1,38.8 363.4,39.1 363.6,39.2 363.9,39.5 364.1,39.5 364.4,39.7 364.6,40.2 364.9,40.0 365.1,40.0 365.4,40.4 365.6,40.0 365.9,40.3 366.1,40.8 366.4,41.0 366.6,42.1 366.9,44.3 367.1,47.8 367.4,49.5 367.6,45.8 367.9,42.3 368.1,42.2 368.4,41.8 368.6,41.4 368.9,42.9 369.1,45.9 369.4,50.2 369.6,49.1 369.9,45.5 370.1,43.1 370.4,42.5 370.6,42.4 370.9,42.8 371.1,43.2 371.4,43.4 371.6,43.6 371.9,44.0 372.1,44.1 372.4,43.4 372.6,43.3 372.9,43.1 373.1,44.5 373.4,45.2 373.6,46.2 373.9,47.0 374.1,45.9 374.4,43.8 374.6,44.1 374.9,44.2 375.1,44.6 375.4,44.5 375.6,44.6 375.9,44.7 376.1,45.4 376.4,45.6 376.6,44.9 376.9,44.8 377.1,46.0 377.4,45.0 377.6,45.3 377.9,45.9 378.1,47.3 378.4,48.9 378.6,48.6 378.9,46.9 379.1,46.5 379.4,46.2 379.6,46.8 379.9,46.3 380.1,46.0 380.4,46.2 380.6,47.1 380.9,46.6 381.1,46.2 381.4,46.7 381.6,47.0 381.9,47.5 382.1,46.9 382.4,47.5 382.6,47.7 382.9,47.3 383.1,47.6 383.4,48.3 383.6,48.7 383.9,49.5 384.1,50.3 384.4,50.2 384.6,48.9 384.9,48.4 385.1,48.2 385.4,48.5 385.6,48.6 385.9,49.5 386.1,48.7 386.4,49.3 386.6,49.5 386.9,49.5 387.1,50.7 387.4,50.1 387.6,50.4 387.9,50.1 388.1,48.9 388.4,49.4 388.6,50.1 388.9,49.8 389.1,49.7 389.4,50.0 389.6,50.0 389.9,50.5 390.1,50.5 390.4,50.4 390.6,50.5 390.9,51.4 391.1,53.7 391.4,55.7 391.6,55.6 391.9,53.1 392.1,51.3 392.4,51.2 392.6,52.0 392.9,53.2 393.1,54.9 393.4,55.0 393.6,53.9 393.9,52.4 394.1,52.0 394.4,52.0 394.6,52.3 394.9,52.4 395.1,52.7 395.4,52.8 395.6,53.0 395.9,53.0 396.1,52.7 396.4,52.9 396.6,53.2 396.9,53.1 397.1,53.4 397.4,53.7 397.6,53.2 397.9,53.0 398.1,54.0 398.4,53.9 398.6,55.0 398.9,56.6 399.1,60.9 399.4,62.4 399.6,60.6 399.9,57.4 400.1,55.6 400.4,55.2 400.6,55.6 400.9,55.6 401.1,56.0 401.4,55.3 401.6,55.3 401.9,55.4 402.1,54.8 402.4,55.8 402.6,55.6 402.9,55.8 403.1,56.0 403.4,55.8 403.6,56.4 403.9,56.1 404.1,56.2 404.4,56.3 404.6,56.8 404.9,57.3 405.1,58.0 405.4,58.9 405.6,59.7 405.9,58.0 406.1,58.0 406.4,57.5 406.6,57.4 406.9,57.5 407.1,58.0 407.4,58.2 407.6,58.0 407.9,58.5 408.1,58.9 408.4,58.4 408.6,58.2 408.9,58.4 409.1,58.7 409.4,60.0 409.6,61.5 409.9,61.6 410.1,60.9 410.4,59.0 410.6,59.1 410.9,60.1 411.1,59.9 411.4,59.9 411.6,60.0 411.9,60.5 412.1,60.2 412.4,60.2 412.6,59.9 412.9,60.6 413.1,61.2 413.4,62.2 413.6,62.2 413.9,61.5 414.1,60.9 414.4,61.2 414.6,60.6 414.9,61.1 415.1,61.8 415.4,61.3 415.6,61.8 415.9,61.9 416.1,62.0 416.4,62.0 416.6,62.0 416.9,64.4 417.1,67.9 417.4,69.7 417.6,68.1 417.9,64.5 418.1,62.5 418.4,62.7 418.6,62.6 418.9,62.5 419.1,62.5 419.4,62.8 419.6,62.9 419.9,63.0 420.1,63.2 420.4,63.2 420.6,63.5 420.9,63.7 421.1,63.8 421.4,63.6 421.6,63.7 421.9,64.2 422.1,64.1 422.4,64.3 422.6,63.7 422.9,63.8 423.1,64.8 423.4,64.9 423.6,65.4 423.9,65.4 424.1,65.9 424.4,67.9 424.6,71.0 424.9,73.8 425.1,71.5 425.4,68.5 425.6,66.6 425.9,66.2 426.1,66.5 426.4,66.2 426.6,66.3 426.9,66.3 427.1,66.6 427.4,67.3 427.6,66.8 427.9,74.2 428.1,73.2 428.4,72.4 428.6,71.9 428.9,70.8 429.1,70.9 429.4,70.9 429.6,70.0 429.9,70.0 430.1,69.6 430.4,69.8 430.6,69.3 430.9,70.1 431.1,69.5 431.4,69.1 431.6,70.0 431.9,69.7 432.1,69.5 432.4,69.5 432.6,69.2 432.9,69.3 433.1,69.5 433.4,69.6 433.6,69.6 433.9,69.4 434.1,69.2 434.4,69.2 434.6,69.6 434.9,69.7 435.1,69.2 435.4,69.2 435.6,69.7 435.9,69.6 436.1,69.6 436.4,69.0 436.6,69.4 436.9,69.9 437.1,71.2 437.4,71.3 437.6,79.7 437.9,77.5 438.1,76.0 438.4,74.6 438.6,74.4 438.9,74.4 439.1,73.2 439.4,73.4 439.6,73.3 439.9,72.7 440.1,73.0 440.4,72.5 440.6,72.9 440.9,72.8 441.1,73.4 441.4,75.3 441.6,75.5 441.9,74.4 442.1,72.4 442.4,72.0 442.6,72.4 442.9,72.3 443.1,72.0 443.4,72.2 443.6,71.7 443.9,72.0 444.1,71.6 444.4,72.0 444.6,71.7 444.9,71.7 445.1,71.9 445.4,72.4 445.6,71.5 445.9,71.6 446.1,72.1 446.4,71.6 446.6,72.3 446.9,80.3 447.1,79.2 447.4,78.4 447.6,78.1 447.9,77.2 448.1,76.6 448.4,76.1 448.6,75.2 448.9,75.2 449.1,75.6 449.4,75.2 449.6,75.0 449.9,74.9 450.1,74.4 450.4,74.6 450.6,74.1 450.9,74.4 451.1,74.0 451.4,74.1 451.6,74.3 451.9,74.0 452.1,74.3 452.4,74.2 452.6,74.1 452.9,74.4 453.1,73.5 453.4,73.5 453.6,74.1 453.9,74.2 454.1,74.5 454.4,74.1 454.6,74.1 454.9,73.6 455.1,74.1 455.4,74.1 455.6,73.5 455.9,73.6 456.1,73.8 456.4,73.9 456.6,72.9 456.9,82.3 457.1,81.3 457.4,80.3 457.6,79.7 457.9,79.1 458.1,78.2 458.4,78.2 458.6,77.7 458.9,77.2 459.1,77.3 459.4,77.5 459.6,76.4 459.9,76.2 460.1,76.1 460.4,77.1 460.6,76.4 460.9,76.3 461.1,76.1 461.4,76.0 461.6,75.7 461.9,76.3" fill="none" stroke="#000" stroke-width="1.4" stroke-linejoin="round"/>
<polyline points="335.9,31.9 336.1,32.1 336.4,32.2 336.6,31.1 336.9,29.9 337.1,29.9 337.4,29.8 337.6,31.2 337.9,32.6 338.1,31.9 338.4,31.1 338.6,32.5 338.9,33.9 339.1,33.4 339.4,33.0 339.6,33.0 339.9,33.0 340.1,32.9 340.4,32.9 340.6,33.4 340.9,33.9 341.1,33.3 341.4,32.6 341.6,33.5 341.9,34.4 342.1,33.5 342.4,32.7 342.6,32.8 342.9,32.9 343.1,32.6 343.4,32.4 343.6,33.2 343.9,34.1 344.1,33.8 344.4,33.5 344.6,33.0 344.9,32.4 345.1,34.3 345.4,36.1 345.6,34.7 345.9,33.3 346.1,33.5 346.4,33.7 346.6,34.1 346.9,34.5 347.1,35.4 347.4,36.3 347.6,35.2 347.9,34.1 348.1,34.7 348.4,35.3 348.6,35.0 348.9,34.7 349.1,33.9 349.4,33.0 349.6,34.4 349.9,35.9 350.1,36.1 350.4,36.3 350.6,35.6 350.9,35.0 351.1,35.4 351.4,35.7 351.6,34.8 351.9,33.8 352.1,33.8 352.4,33.8 352.6,34.6 352.9,35.3 353.1,36.0 353.4,36.7 353.6,36.1 353.9,35.5 354.1,36.1 354.4,36.6 354.6,37.1 354.9,37.5 355.1,37.1 355.4,36.7 355.6,37.0 355.9,37.4 356.1,37.9 356.4,38.5 356.6,37.0 356.9,35.6 357.1,36.8 357.4,38.1 357.6,36.7 357.9,35.3 358.1,36.7 358.4,38.1 358.6,38.1 358.9,38.1 359.1,37.8 359.4,37.4 359.6,37.2 359.9,37.0 360.1,37.7 360.4,38.4 360.6,38.3 360.9,38.2 361.1,38.6 361.4,39.0 361.6,38.5 361.9,38.1 362.1,39.0 362.4,39.9 362.6,39.1 362.9,38.3 363.1,38.9 363.4,39.4 363.6,39.4 363.9,39.5 364.1,40.5 364.4,41.5 364.6,40.1 364.9,38.7 365.1,39.4 365.4,40.1 365.6,41.0 365.9,42.0 366.1,41.1 366.4,40.3 366.6,40.3 366.9,41.0 367.1,43.4 367.4,44.5 367.6,42.9 367.9,41.6 368.1,41.9 368.4,42.5 368.6,41.7 368.9,41.2 369.1,43.0 369.4,45.0 369.6,45.1 369.9,44.0 370.1,43.3 370.4,43.3 370.6,42.3 370.9,41.2 371.1,42.6 371.4,44.0 371.6,42.9 371.9,41.7 372.1,41.5 372.4,41.3 372.6,41.6 372.9,42.0 373.1,42.7 373.4,43.7 373.6,44.0 373.9,43.9 374.1,43.9 374.4,44.0 374.6,44.0 374.9,44.1 375.1,44.0 375.4,44.0 375.6,43.8 375.9,43.6 376.1,44.7 376.4,45.8 376.6,43.9 376.9,42.5 377.1,44.2 377.4,46.0 377.6,46.2 377.9,45.4 378.1,44.4 378.4,44.5 378.6,44.3 378.9,44.3 379.1,45.6 379.4,45.8 379.6,44.9 379.9,44.5 380.1,43.7 380.4,43.0 380.6,44.7 380.9,46.4 381.1,46.7 381.4,47.0 381.6,47.1 381.9,47.4 382.1,47.2 382.4,46.8 382.6,47.0 382.9,46.9 383.1,46.2 383.4,45.6 383.6,46.2 383.9,46.8 384.1,46.5 384.4,46.2 384.6,46.8 384.9,47.4 385.1,47.1 385.4,46.9 385.6,47.6 385.9,48.3 386.1,48.3 386.4,48.3 386.6,48.6 386.9,48.9 387.1,47.7 387.4,46.5 387.6,46.5 387.9,46.5 388.1,47.6 388.4,48.7 388.6,48.3 388.9,48.0 389.1,48.5 389.4,49.0 389.6,49.0 389.9,49.1 390.1,49.1 390.4,49.1 390.6,49.6 390.9,50.2 391.1,50.8 391.4,51.6 391.6,51.6 391.9,50.7 392.1,49.5 392.4,48.8 392.6,50.1 392.9,51.6 393.1,51.5 393.4,50.9 393.6,51.0 393.9,51.1 394.1,50.7 394.4,50.5 394.6,50.9 394.9,51.4 395.1,51.0 395.4,50.6 395.6,50.7 395.9,50.8 396.1,50.9 396.4,50.9 396.6,50.6 396.9,50.4 397.1,50.5 397.4,50.6 397.6,50.9 397.9,51.1 398.1,51.3 398.4,51.6 398.6,52.4 398.9,55.3 399.1,61.6 399.4,65.6 399.6,61.7 399.9,55.6 400.1,52.7 400.4,51.9 400.6,52.8 400.9,53.9 401.1,52.7 401.4,51.5 401.6,52.2 401.9,52.8 402.1,52.8 402.4,52.8 402.6,52.5 402.9,52.2 403.1,51.8 403.4,51.3 403.6,51.3 403.9,51.3 404.1,52.0 404.4,52.6 404.6,52.9 404.9,53.3 405.1,52.9 405.4,52.5 405.6,53.4 405.9,53.7 406.1,52.9 406.4,52.5 406.6,53.2 406.9,53.9 407.1,53.6 407.4,53.4 407.6,53.0 407.9,52.7 408.1,52.9 408.4,53.1 408.6,53.3 408.9,53.6 409.1,54.3 409.4,55.3 409.6,56.8 409.9,57.6 410.1,56.0 410.4,54.4 410.6,54.3 410.9,54.2 411.1,54.6 411.4,54.9 411.6,54.7 411.9,54.6 412.1,54.9 412.4,55.3 412.6,55.3 412.9,55.4 413.1,55.8 413.4,56.1 413.6,55.9 413.9,55.2 414.1,55.3 414.4,55.7 414.6,56.1 414.9,56.5 415.1,56.3 415.4,56.1 415.6,56.8 415.9,57.5 416.1,57.3 416.4,57.2 416.6,57.2 416.9,58.1 417.1,61.1 417.4,63.2 417.6,60.9 417.9,57.7 418.1,57.5 418.4,58.2 418.6,58.5 418.9,58.9 419.1,58.1 419.4,57.4 419.6,57.6 419.9,57.7 420.1,58.3 420.4,58.9 420.6,59.3 420.9,59.7 421.1,59.4 421.4,59.2 421.6,59.2 421.9,59.1 422.1,59.2 422.4,59.6 422.6,59.4 422.9,59.2 423.1,58.7 423.4,58.3 423.6,58.8 423.9,59.3 424.1,59.7 424.4,60.9 424.6,62.1 424.9,62.6 425.1,62.5 425.4,61.6 425.6,60.3 425.9,59.7 426.1,60.3 426.4,61.0 426.6,60.2 426.9,59.4 427.1,59.8 427.4,60.1 427.6,60.0 427.9,64.3 428.1,64.9 428.4,65.6 428.6,65.2 428.9,64.9 429.1,64.8 429.4,64.7 429.6,64.5 429.9,64.4 430.1,64.1 430.4,63.8 430.6,63.8 430.9,63.7 431.1,62.7 431.4,61.6 431.6,62.4 431.9,63.2 432.1,62.8 432.4,62.5 432.6,62.6 432.9,62.6 433.1,62.3 433.4,61.9 433.6,62.9 433.9,63.9 434.1,63.5 434.4,63.0 434.6,62.4 434.9,61.7 435.1,62.5 435.4,63.4 435.6,63.1 435.9,62.9 436.1,62.5 436.4,62.1 436.6,62.4 436.9,62.7 437.1,62.6 437.4,62.4 437.6,67.4 437.9,66.2 438.1,66.1 438.4,66.1 438.6,66.6 438.9,67.1 439.1,66.9 439.4,66.6 439.6,66.5 439.9,66.3 440.1,65.7 440.4,65.0 440.6,65.2 440.9,65.5 441.1,66.2 441.4,67.4 441.6,68.0 441.9,67.5 442.1,66.1 442.4,65.3 442.6,65.8 442.9,66.6 443.1,67.5 443.4,67.5 443.6,66.4 443.9,65.8 444.1,65.6 444.4,65.4 444.6,65.3 444.9,65.1 445.1,65.2 445.4,65.2 445.6,66.1 445.9,67.0 446.1,66.8 446.4,66.5 446.6,66.0 446.9,71.4 447.1,70.5 447.4,69.7 447.6,70.4 447.9,71.3 448.1,71.0 448.4,70.7 448.6,70.4 448.9,70.1 449.1,69.8 449.4,69.6 449.6,68.4 449.9,67.2 450.1,67.4 450.4,67.6 450.6,68.4 450.9,69.1 451.1,68.7 451.4,68.4 451.6,68.6 451.9,68.8 452.1,68.5 452.4,68.2 452.6,68.1 452.9,68.1 453.1,68.6 453.4,69.0 453.6,68.7 453.9,68.3 454.1,68.5 454.4,68.7 454.6,68.8 454.9,68.9 455.1,68.9 455.4,68.9 455.6,69.3 455.9,69.7 456.1,69.8 456.4,69.9 456.6,68.8 456.9,73.7 457.1,73.6 457.4,73.5 457.6,73.0 457.9,72.5 458.1,72.8 458.4,73.1 458.6,72.2 458.9,71.3 459.1,72.0 459.4,72.6 459.6,72.5 459.9,72.4 460.1,72.3 460.4,72.3 460.6,71.6 460.9,70.9 461.1,71.2 461.4,71.5 461.6,71.2 461.9,70.8" fill="none" stroke="#f47e70" stroke-width="1.1" stroke-linejoin="round"/>
<polyline points="38.9,55.7 39.1,57.4 39.4,58.8 39.6,58.7 39.9,57.5 40.1,56.7 40.4,57.5 40.6,56.1 40.9,55.7 41.1,55.9 41.4,55.6 41.6,55.6 41.9,55.2 42.1,55.8 42.4,55.6 42.6,56.4 42.9,56.4 43.1,56.4 43.4,57.0 43.6,56.3 43.9,56.9 44.1,56.8 44.4,57.7 44.6,57.0 44.9,59.4 45.1,61.2 45.4,61.4 45.6,59.4 45.9,56.8 46.1,57.4 46.4,59.8 46.6,58.8 46.9,57.8 47.1,57.0 47.4,56.7 47.6,56.3 47.9,56.3 48.1,56.8 48.4,56.7 48.6,56.0 48.9,56.5 49.1,56.6 49.4,56.1 49.6,57.2 49.9,58.1 50.1,61.7 50.4,62.8 50.6,61.3 50.9,58.4 51.1,57.2 51.4,55.9 51.6,56.3 51.9,57.1 52.1,55.9 52.4,57.4 52.6,56.2 52.9,57.4 53.1,56.7 53.4,57.5 53.6,57.2 53.9,56.4 54.1,57.9 54.4,58.0 54.6,57.3 54.9,57.3 55.1,57.7 55.4,58.6 55.6,62.0 55.9,62.5 56.1,61.5 56.4,58.9 56.6,57.7 56.9,57.0 57.1,58.3 57.4,57.6 57.6,58.2 57.9,57.8 58.1,57.5 58.4,58.4 58.6,61.4 58.9,69.9 59.1,78.7 59.4,78.8 59.6,69.4 59.9,61.6 60.1,59.7 60.4,57.9 60.6,57.7 60.9,58.4 61.1,59.0 61.4,57.6 61.6,58.4 61.9,58.9 62.1,60.5 62.4,65.0 62.6,66.1 62.9,64.3 63.1,61.2 63.4,60.1 63.6,59.1 63.9,59.7 64.2,59.7 64.4,59.4 64.7,60.4 64.9,60.3 65.2,62.5 65.4,62.7 65.7,61.6 65.9,61.1 66.2,61.3 66.4,60.0 66.7,59.5 66.9,59.6 67.2,60.3 67.4,60.2 67.7,60.3 67.9,61.5 68.2,65.4 68.4,70.9 68.7,70.4 68.9,65.1 69.2,61.7 69.4,60.6 69.7,60.7 69.9,61.3 70.2,60.8 70.4,61.5 70.7,60.2 70.9,61.6 71.2,61.5 71.4,61.4 71.7,63.0 71.9,66.5 72.2,68.6 72.4,66.8 72.7,63.8 72.9,60.6 73.2,60.6 73.4,61.0 73.7,59.9 73.9,59.8 74.2,61.0 74.4,60.9 74.7,60.9 74.9,62.0 75.2,64.8 75.4,68.2 75.7,68.4 75.9,64.1 76.2,61.6 76.4,63.2 76.7,64.2 76.9,64.3 77.2,62.2 77.4,61.4 77.7,60.9 77.9,61.0 78.2,61.6 78.4,61.1 78.7,61.7 78.9,61.8 79.2,62.7 79.4,61.0 79.7,62.2 79.9,61.7 80.2,61.8 80.4,61.1 80.7,61.7 80.9,62.3 81.2,62.0 81.4,62.1 81.7,62.0 81.9,62.7 82.2,62.2 82.4,61.1 82.7,61.9 82.9,61.3 83.2,60.8 83.4,62.2 83.7,63.1 83.9,62.5 84.2,62.0 84.4,62.1 84.7,63.3 84.9,63.1 85.2,63.7 85.4,64.3 85.7,64.2 85.9,63.8 86.2,63.3 86.4,63.1 86.7,62.5 86.9,63.6 87.2,64.1 87.4,66.9 87.7,66.5 87.9,65.6 88.2,64.0 88.4,62.8 88.7,64.3 88.9,64.2 89.2,63.3 89.4,63.9 89.7,63.8 89.9,62.3 90.2,63.8 90.4,63.7 90.7,63.8 90.9,63.3 91.2,63.7 91.4,63.8 91.7,64.5 91.9,64.2 92.2,64.0 92.4,64.8 92.7,63.8 92.9,64.0 93.2,63.3 93.4,65.0 93.7,64.8 93.9,64.8 94.2,64.7 94.4,64.6 94.7,65.2 94.9,65.5 95.2,65.5 95.4,65.0 95.7,65.5 95.9,64.9 96.2,64.6 96.4,64.4 96.7,64.5 96.9,66.1 97.2,66.8 97.4,68.7 97.7,69.3 97.9,67.5 98.2,66.2 98.4,65.7 98.7,64.9 98.9,65.0 99.2,65.0 99.4,65.2 99.7,64.4 99.9,65.1 100.2,64.9 100.4,65.8 100.7,65.0 100.9,65.7 101.2,66.2 101.4,65.4 101.7,65.3 101.9,65.7 102.2,65.7 102.4,65.3 102.7,66.4 102.9,68.2 103.2,69.2 103.4,71.1 103.7,70.4 103.9,69.0 104.2,66.4 104.4,65.7 104.7,66.8 104.9,65.7 105.2,66.8 105.4,67.0 105.7,66.4 105.9,66.6 106.2,67.4 106.4,66.4 106.7,66.2 106.9,65.9 107.2,66.6 107.4,67.4 107.7,67.2 107.9,66.3 108.2,66.5 108.4,66.9 108.7,67.4 108.9,67.1 109.2,67.2 109.4,67.2 109.7,66.9 109.9,67.1 110.2,67.3 110.4,67.2 110.7,67.5 110.9,68.3 111.2,67.7 111.4,67.5 111.7,66.6 111.9,67.7 112.2,66.6 112.4,66.9 112.7,68.2 112.9,68.8 113.2,69.8 113.4,70.0 113.7,69.8 113.9,68.3 114.2,68.4 114.4,69.2 114.7,68.2 114.9,67.7 115.2,67.6 115.4,68.3 115.7,68.4 115.9,68.3 116.2,69.1 116.4,68.3 116.7,69.2 116.9,69.1 117.2,69.2 117.4,68.5 117.7,69.2 117.9,69.3 118.2,69.5 118.4,69.4 118.7,68.5 118.9,68.3 119.2,69.4 119.4,68.9 119.7,69.2 119.9,69.6 120.2,68.3 120.4,68.9 120.7,69.4 120.9,69.5 121.2,69.2 121.4,70.1 121.7,70.5 121.9,72.0 122.2,74.1 122.4,74.1 122.7,71.6 122.9,69.1 123.2,70.5 123.4,70.2 123.7,70.6 123.9,69.7 124.2,69.8 124.4,69.4 124.7,71.3 124.9,69.9 125.2,70.8 125.4,69.8 125.7,70.4 125.9,69.7 126.2,70.5 126.4,71.0 126.7,69.7 126.9,71.2 127.2,72.6 127.4,75.1 127.7,76.6 127.9,74.1 128.2,71.5 128.4,70.3 128.7,70.0 128.9,70.2 129.2,69.9 129.4,69.8 129.7,70.4 129.9,70.9 130.2,69.7 130.4,70.5 130.7,70.2 130.9,70.1 131.2,71.0 131.4,70.5 131.7,72.0 131.9,72.1 132.2,73.9 132.4,73.0 132.7,71.3 132.9,71.3 133.2,70.7 133.4,71.1 133.7,70.8 133.9,70.3 134.2,70.8 134.4,70.9 134.7,71.4 134.9,70.5 135.2,71.0 135.4,70.2 135.7,71.4 135.9,70.5 136.2,70.3 136.4,71.3 136.7,71.9 136.9,70.6 137.2,70.7 137.4,70.9 137.7,70.7 137.9,71.5 138.2,70.9 138.4,71.0 138.7,71.9 138.9,71.9 139.2,73.5 139.4,73.1 139.7,72.1 139.9,70.9 140.2,72.5 140.4,71.4 140.7,71.7 140.9,71.6 141.2,72.2 141.4,74.3 141.7,80.5 141.9,84.7 142.2,84.6 142.4,79.5 142.7,74.3 142.9,73.4 143.2,74.3 143.4,75.5 143.7,76.1 143.9,75.0 144.2,73.8 144.4,70.8 144.7,72.2 144.9,71.4 145.2,72.5 145.4,71.5 145.7,72.0 145.9,71.4 146.2,71.7 146.4,73.0 146.7,72.7 146.9,72.2 147.2,72.0 147.4,71.5 147.7,72.3 147.9,72.6 148.2,72.6 148.4,72.9 148.7,73.0 148.9,74.1 149.2,74.0 149.4,74.0 149.7,74.0 149.9,72.9 150.2,72.6 150.4,73.0 150.7,72.8 150.9,72.8 151.2,73.2 151.4,72.9 151.7,74.2 151.9,74.2 152.2,74.3 152.4,74.1 152.7,74.8 152.9,76.0 153.2,76.2 153.4,74.7 153.7,74.2 153.9,74.3 154.2,74.6 154.4,76.4 154.7,75.3 154.9,74.6 155.2,74.1 155.4,73.1 155.7,74.2 155.9,74.3 156.2,74.2 156.4,74.1 156.7,74.2 156.9,73.9 157.2,74.4 157.4,74.6 157.7,76.1 157.9,76.9 158.2,77.4 158.4,76.0 158.7,75.0 158.9,74.6 159.2,75.2 159.4,74.1 159.7,75.2 159.9,75.2 160.2,75.2 160.4,75.3 160.7,74.9 160.9,75.1 161.2,75.6 161.4,75.6 161.7,75.5 161.9,74.7 162.2,75.8 162.4,76.1 162.7,76.1 162.9,75.9 163.2,75.5 163.4,77.8 163.7,78.7 163.9,78.3 164.2,79.2 164.4,77.0 164.7,76.1" fill="none" stroke="#000" stroke-width="1.15" stroke-linejoin="round"/>
<polyline points="38.9,55.3 39.1,55.7 39.4,56.3 39.6,55.8 39.9,55.2 40.1,54.4 40.4,56.9 40.6,55.9 40.9,56.4 41.1,55.5 41.4,56.7 41.6,56.0 41.9,55.8 42.1,55.3 42.4,56.0 42.6,55.5 42.9,55.7 43.1,55.0 43.4,55.6 43.6,56.0 43.9,55.3 44.1,56.0 44.4,56.4 44.6,56.2 44.9,57.1 45.1,58.7 45.4,59.8 45.6,57.0 45.9,56.6 46.1,56.7 46.4,57.9 46.6,58.2 46.9,56.9 47.1,57.8 47.4,56.5 47.6,55.6 47.9,55.9 48.1,56.5 48.4,56.8 48.6,55.7 48.9,56.9 49.1,55.8 49.4,56.2 49.6,57.4 49.9,58.8 50.1,59.4 50.4,60.4 50.6,60.9 50.9,58.8 51.1,58.6 51.4,57.7 51.6,57.7 51.9,57.7 52.1,58.3 52.4,59.3 52.6,57.7 52.9,57.9 53.1,56.8 53.4,56.6 53.6,57.0 53.9,57.2 54.1,57.6 54.4,57.2 54.6,57.7 54.9,58.0 55.1,58.0 55.4,59.7 55.6,64.5 55.9,66.1 56.1,62.5 56.4,59.6 56.6,58.3 56.9,57.0 57.1,57.3 57.4,57.0 57.6,58.6 57.9,58.6 58.1,58.3 58.4,58.9 58.6,58.8 58.9,61.6 59.1,66.3 59.4,64.9 59.6,63.0 59.9,58.9 60.1,58.5 60.4,59.3 60.6,58.3 60.9,57.8 61.1,59.6 61.4,58.1 61.6,58.6 61.9,60.1 62.1,62.8 62.4,69.5 62.6,71.9 62.9,67.9 63.1,63.6 63.4,61.3 63.6,60.5 63.9,57.4 64.2,58.8 64.4,59.1 64.7,58.1 64.9,60.5 65.2,61.6 65.4,61.9 65.7,60.7 65.9,59.9 66.2,59.5 66.4,58.8 66.7,59.7 66.9,60.1 67.2,60.2 67.4,59.5 67.7,60.3 67.9,61.3 68.2,63.5 68.4,65.8 68.7,65.4 68.9,62.4 69.2,61.0 69.4,60.6 69.7,60.7 69.9,60.0 70.2,60.5 70.4,61.0 70.7,60.3 70.9,62.0 71.2,62.1 71.4,61.3 71.7,61.0 71.9,62.7 72.2,63.3 72.4,63.9 72.7,62.6 72.9,60.1 73.2,60.4 73.4,61.4 73.7,60.8 73.9,60.8 74.2,60.7 74.4,61.6 74.7,61.7 74.9,61.4 75.2,61.9 75.4,63.3 75.7,64.9 75.9,62.5 76.2,62.3 76.4,61.5 76.7,60.5 76.9,61.4 77.2,61.9 77.4,60.8 77.7,61.1 77.9,62.4 78.2,60.5 78.4,60.9 78.7,62.2 78.9,61.8 79.2,61.1 79.4,61.1 79.7,62.9 79.9,65.0 80.2,66.0 80.4,65.3 80.7,64.4 80.9,62.6 81.2,61.6 81.4,63.2 81.7,61.4 81.9,62.1 82.2,62.2 82.4,63.0 82.7,61.9 82.9,62.2 83.2,61.4 83.4,62.6 83.7,62.7 83.9,62.9 84.2,62.1 84.4,62.8 84.7,62.2 84.9,62.6 85.2,62.9 85.4,63.8 85.7,63.2 85.9,63.6 86.2,62.9 86.4,62.8 86.7,62.7 86.9,63.1 87.2,64.2 87.4,64.2 87.7,66.0 87.9,65.4 88.2,66.3 88.4,65.3 88.7,64.5 88.9,63.8 89.2,64.2 89.4,63.7 89.7,64.2 89.9,63.4 90.2,63.5 90.4,64.6 90.7,62.8 90.9,63.3 91.2,63.8 91.4,64.9 91.7,63.9 91.9,65.2 92.2,66.2 92.4,65.0 92.7,64.4 92.9,65.1 93.2,63.9 93.4,63.7 93.7,64.8 93.9,64.2 94.2,65.3 94.4,64.8 94.7,63.5 94.9,64.6 95.2,64.5 95.4,64.3 95.7,65.5 95.9,64.0 96.2,64.3 96.4,64.7 96.7,65.8 96.9,65.0 97.2,66.5 97.4,67.9 97.7,68.0 97.9,67.4 98.2,65.3 98.4,65.0 98.7,65.4 98.9,65.2 99.2,65.7 99.4,65.6 99.7,65.2 99.9,64.5 100.2,64.6 100.4,65.4 100.7,64.9 100.9,67.2 101.2,65.0 101.4,65.7 101.7,64.7 101.9,65.4 102.2,65.3 102.4,65.6 102.7,66.7 102.9,66.7 103.2,67.6 103.4,69.3 103.7,67.9 103.9,66.9 104.2,67.1 104.4,66.6 104.7,66.7 104.9,66.5 105.2,66.2 105.4,65.4 105.7,66.0 105.9,66.1 106.2,66.8 106.4,67.0 106.7,66.8 106.9,66.1 107.2,67.6 107.4,67.4 107.7,66.6 107.9,66.9 108.2,67.1 108.4,66.9 108.7,66.8 108.9,67.2 109.2,67.0 109.4,67.2 109.7,66.2 109.9,66.3 110.2,68.1 110.4,66.4 110.7,67.5 110.9,67.5 111.2,67.5 111.4,67.0 111.7,68.0 111.9,67.7 112.2,67.4 112.4,66.9 112.7,67.7 112.9,68.3 113.2,69.5 113.4,71.5 113.7,70.6 113.9,69.2 114.2,68.2 114.4,68.0 114.7,69.0 114.9,69.3 115.2,70.7 115.4,69.9 115.7,68.7 115.9,69.2 116.2,69.8 116.4,68.7 116.7,68.5 116.9,68.3 117.2,69.7 117.4,68.6 117.7,68.6 117.9,68.9 118.2,68.0 118.4,68.7 118.7,68.2 118.9,68.9 119.2,69.3 119.4,69.6 119.7,68.9 119.9,69.6 120.2,69.0 120.4,68.4 120.7,69.7 120.9,69.3 121.2,69.5 121.4,68.1 121.7,70.2 121.9,71.5 122.2,72.7 122.4,72.7 122.7,70.5 122.9,71.2 123.2,70.3 123.4,70.2 123.7,68.6 123.9,68.9 124.2,70.8 124.4,70.3 124.7,70.6 124.9,69.9 125.2,70.1 125.4,70.5 125.7,69.8 125.9,71.0 126.2,69.7 126.4,70.4 126.7,70.2 126.9,70.8 127.2,72.1 127.4,72.2 127.7,73.7 127.9,72.4 128.2,71.6 128.4,70.6 128.7,70.3 128.9,70.9 129.2,71.4 129.4,71.1 129.7,70.8 129.9,71.0 130.2,69.9 130.4,70.5 130.7,70.7 130.9,70.6 131.2,70.5 131.4,71.0 131.7,71.6 131.9,73.3 132.2,72.6 132.4,72.2 132.7,72.3 132.9,71.3 133.2,70.7 133.4,72.0 133.7,71.1 133.9,71.1 134.2,70.9 134.4,70.8 134.7,71.4 134.9,70.8 135.2,72.8 135.4,71.6 135.7,71.3 135.9,71.1 136.2,71.7 136.4,72.1 136.7,71.7 136.9,71.0 137.2,71.6 137.4,70.8 137.7,72.8 137.9,73.0 138.2,73.5 138.4,73.5 138.7,72.3 138.9,72.0 139.2,72.5 139.4,72.0 139.7,72.4 139.9,72.2 140.2,72.3 140.4,72.3 140.7,72.8 140.9,72.3 141.2,73.6 141.4,73.9 141.7,75.3 141.9,76.2 142.2,76.6 142.4,74.2 142.7,73.9 142.9,73.2 143.2,77.1 143.4,81.1 143.7,84.1 143.9,79.6 144.2,75.7 144.4,73.0 144.7,72.5 144.9,73.0 145.2,71.9 145.4,72.3 145.7,73.8 145.9,72.6 146.2,73.6 146.4,72.7 146.7,72.4 146.9,73.1 147.2,73.9 147.4,73.4 147.7,73.3 147.9,74.1 148.2,73.4 148.4,74.5 148.7,74.3 148.9,73.4 149.2,74.4 149.4,74.6 149.7,73.9 149.9,74.1 150.2,74.0 150.4,73.6 150.7,74.7 150.9,73.8 151.2,74.7 151.4,74.1 151.7,73.9 151.9,74.9 152.2,74.8 152.4,76.0 152.7,75.7 152.9,76.8 153.2,76.7 153.4,75.8 153.7,76.2 153.9,76.2 154.2,75.6 154.4,74.7 154.7,75.5 154.9,75.3 155.2,75.1 155.4,74.6 155.7,76.0 155.9,76.2 156.2,75.8 156.4,76.0 156.7,76.7 156.9,76.9 157.2,76.1 157.4,74.7 157.7,77.5 157.9,78.1 158.2,78.4 158.4,76.8 158.7,76.0 158.9,76.8 159.2,76.4 159.4,76.7 159.7,76.9 159.9,76.8 160.2,76.0 160.4,77.2 160.7,76.7 160.9,76.9 161.2,77.3 161.4,76.4 161.7,77.1 161.9,76.3 162.2,77.1 162.4,77.7 162.7,77.6 162.9,78.0 163.2,79.2 163.4,79.2 163.7,79.0 163.9,80.6 164.2,79.5 164.4,79.0 164.7,78.0" fill="none" stroke="#f47e70" stroke-width="1.1" stroke-linejoin="round"/>
<polyline points="187.4,56.0 187.7,55.4 187.9,57.7 188.2,59.7 188.4,60.6 188.7,60.5 188.9,63.4 189.2,73.0 189.4,70.8 189.7,71.7 189.9,71.4 190.2,67.8 190.4,66.9 190.7,61.3 190.9,60.7 191.2,55.3 191.4,57.7 191.7,56.9 191.9,56.2 192.2,56.0 192.4,55.9 192.7,56.7 192.9,56.9 193.2,54.4 193.4,57.1 193.7,54.8 193.9,56.8 194.2,57.3 194.4,59.5 194.7,59.9 194.9,63.4 195.2,66.0 195.4,69.7 195.7,75.4 195.9,75.4 196.2,74.3 196.4,72.9 196.7,67.8 196.9,68.2 197.2,64.2 197.4,63.7 197.7,59.6 197.9,58.0 198.2,58.3 198.4,58.7 198.7,58.7 198.9,60.2 199.2,58.8 199.4,57.3 199.7,57.6 199.9,54.0 200.2,56.4 200.4,56.2 200.7,53.8 200.9,56.6 201.2,57.0 201.4,56.5 201.7,58.6 201.9,59.3 202.2,58.4 202.4,57.7 202.7,55.3 202.9,55.9 203.2,57.5 203.4,58.1 203.7,56.7 203.9,56.7 204.2,57.7 204.4,57.6 204.7,56.9 204.9,55.3 205.2,56.3 205.4,58.5 205.7,61.7 205.9,65.2 206.2,62.0 206.4,59.3 206.7,56.0 206.9,53.2 207.2,55.5 207.4,54.7 207.7,58.8 207.9,57.7 208.2,56.5 208.4,58.0 208.7,58.9 208.9,60.5 209.2,58.7 209.4,59.4 209.7,58.1 209.9,59.3 210.2,59.5 210.4,58.9 210.7,58.0 210.9,60.1 211.2,58.9 211.4,61.6 211.7,59.9 211.9,59.9 212.2,62.5 212.4,58.3 212.7,58.4 212.9,56.7 213.2,57.2 213.4,57.8 213.7,57.0 213.9,59.9 214.2,57.4 214.4,56.9 214.7,60.2 214.9,60.0 215.2,56.4 215.4,59.5 215.7,63.2 215.9,61.4 216.2,60.5 216.4,59.1 216.7,56.0 216.9,57.8 217.2,60.0 217.4,60.9 217.7,59.0 217.9,59.0 218.2,59.9 218.4,59.5 218.7,60.0 218.9,58.3 219.2,59.5 219.4,60.2 219.7,60.4 219.9,57.7 220.2,60.8 220.4,60.1 220.7,60.4 220.9,58.1 221.2,60.6 221.4,58.3 221.7,57.0 221.9,60.4 222.2,60.4 222.4,60.7 222.7,61.0 222.9,60.7 223.2,62.2 223.4,61.9 223.7,63.1 223.9,64.7 224.2,63.4 224.4,65.9 224.7,71.6 224.9,73.1 225.2,77.0 225.4,77.4 225.7,71.9 225.9,70.8 226.2,67.8 226.4,61.8 226.7,61.6 226.9,63.8 227.2,64.6 227.4,60.8 227.7,64.2 227.9,63.6 228.2,61.1 228.4,62.2 228.7,61.8 228.9,62.9 229.2,63.8 229.4,65.6 229.7,69.3 229.9,73.1 230.2,76.4 230.4,76.3 230.7,72.9 230.9,66.6 231.2,64.0 231.4,62.9 231.7,65.2 231.9,63.9 232.2,62.3 232.4,61.9 232.7,62.1 232.9,63.6 233.2,62.2 233.4,63.9 233.7,66.1 233.9,64.4 234.2,65.8 234.4,62.7 234.7,65.7 234.9,65.7 235.2,63.7 235.4,66.3 235.7,64.4 235.9,63.5 236.2,64.1 236.4,65.8 236.7,62.9 236.9,64.9 237.2,63.5 237.4,65.2 237.7,64.3 237.9,65.1 238.2,67.0 238.4,67.3 238.7,68.1 238.9,67.3 239.2,66.2 239.4,65.8 239.7,65.6 239.9,66.4 240.2,67.2 240.4,68.2 240.7,68.2 240.9,65.2 241.2,69.0 241.4,73.1 241.7,75.7 241.9,72.7 242.2,66.5 242.4,67.7 242.7,64.7 242.9,66.1 243.2,65.5 243.4,65.9 243.7,68.9 243.9,66.2 244.2,66.3 244.4,67.2 244.7,68.5 244.9,65.0 245.2,69.4 245.4,66.4 245.7,66.2 245.9,67.7 246.2,68.5 246.4,71.2 246.7,69.0 246.9,67.3 247.2,68.4 247.4,68.0 247.7,70.0 247.9,69.9 248.2,68.5 248.4,70.6 248.7,66.7 248.9,68.1 249.2,67.4 249.4,67.9 249.7,66.6 249.9,70.1 250.2,67.7 250.4,68.8 250.7,70.6 250.9,71.2 251.2,70.7 251.4,66.3 251.7,68.9 251.9,68.9 252.2,68.5 252.4,68.4 252.7,68.8 252.9,70.3 253.2,69.1 253.4,68.4 253.7,69.7 253.9,73.7 254.2,71.1 254.4,72.4 254.7,69.7 254.9,69.4 255.2,70.5 255.4,69.8 255.7,71.2 255.9,68.6 256.1,67.9 256.4,73.0 256.6,71.2 256.9,69.1 257.1,76.6 257.4,72.8 257.6,75.6 257.9,73.7 258.1,72.0 258.4,70.9 258.6,70.0 258.9,72.6 259.1,70.8 259.4,72.7 259.6,70.8 259.9,69.1 260.1,70.2 260.4,71.3 260.6,70.6 260.9,71.5 261.1,70.3 261.4,74.4 261.6,73.0 261.9,75.4 262.1,71.9 262.4,74.2 262.6,75.7 262.9,77.2 263.1,78.3 263.4,76.4 263.6,76.9 263.9,78.0 264.1,78.3 264.4,81.1 264.6,81.0 264.9,77.8 265.1,77.6 265.4,75.5 265.6,78.3 265.9,74.2 266.1,75.0 266.4,73.5 266.6,70.7 266.9,72.1 267.1,72.6 267.4,75.0 267.6,73.2 267.9,73.6 268.1,73.8 268.4,77.0 268.6,73.4 268.9,76.4 269.1,73.8 269.4,72.5 269.6,73.9 269.9,73.2 270.1,73.9 270.4,72.4 270.6,73.1 270.9,77.0 271.1,75.0 271.4,75.6 271.6,78.6 271.9,75.1 272.1,77.7 272.4,75.2 272.6,75.2 272.9,74.3 273.1,75.4 273.4,76.9 273.6,77.0 273.9,75.9 274.1,76.7 274.4,74.2 274.6,72.0 274.9,77.3 275.1,78.7 275.4,76.8 275.6,75.6 275.9,77.0 276.1,79.4 276.4,76.7 276.6,78.0 276.9,78.4 277.1,76.9 277.4,82.8 277.6,84.3 277.9,90.1 278.1,91.4 278.4,95.4 278.6,95.8 278.9,90.5 279.1,87.1 279.4,79.3 279.6,79.4 279.9,76.1 280.1,78.2 280.4,79.8 280.6,79.3 280.9,77.3 281.1,79.1 281.4,79.7 281.6,78.8 281.9,79.9 282.1,80.4 282.4,80.6 282.6,78.6 282.9,79.8 283.1,78.5 283.4,79.4 283.6,81.1 283.9,79.5 284.1,79.1 284.4,79.4 284.6,83.0 284.9,87.5 285.1,87.4 285.4,84.1 285.6,83.9 285.9,83.1 286.1,83.1 286.4,81.2 286.6,85.5 286.9,86.5 287.1,86.7 287.4,87.6 287.6,84.5 287.9,82.6 288.1,83.6 288.4,81.4 288.6,79.7 288.9,82.1 289.1,79.8 289.4,80.4 289.6,82.6 289.9,84.7 290.1,85.9 290.4,82.5 290.6,79.4 290.9,80.8 291.1,82.1 291.4,82.3 291.6,83.4 291.9,82.2 292.1,82.5 292.4,83.0 292.6,82.8 292.9,81.0 293.1,81.2 293.4,80.9 293.6,83.5 293.9,81.4 294.1,82.1 294.4,81.4 294.6,81.4 294.9,82.8 295.1,85.2 295.4,84.8 295.6,87.4 295.9,84.5 296.1,84.4 296.4,86.6 296.6,86.6 296.9,84.1 297.1,83.7 297.4,83.3 297.6,84.4 297.9,81.4 298.1,83.4 298.4,84.4 298.6,83.4 298.9,82.7 299.1,85.6 299.4,82.1 299.6,83.5 299.9,83.4 300.1,83.6 300.4,83.0 300.6,86.0 300.9,86.0 301.1,89.0 301.4,84.3 301.6,85.9 301.9,84.9 302.1,87.8 302.4,88.8 302.6,85.4 302.9,88.5 303.1,87.4 303.4,88.3 303.6,89.3 303.9,87.8 304.1,85.9 304.4,86.0 304.6,85.6 304.9,84.9 305.1,82.8 305.4,85.1 305.6,84.8 305.9,86.5 306.1,84.7 306.4,88.5 306.6,86.7 306.9,85.4 307.1,86.9 307.4,85.7 307.6,87.8 307.9,86.0 308.1,89.1 308.4,86.4 308.6,87.6 308.9,86.7 309.1,85.4 309.4,86.1 309.6,86.6 309.9,85.1 310.1,85.6 310.4,87.4 310.6,86.0 310.9,89.7 311.1,90.7 311.4,88.8 311.6,89.4 311.9,88.6 312.1,88.2 312.4,86.5 312.6,88.2 312.9,86.6" fill="none" stroke="#000" stroke-width="1.25" stroke-linejoin="round"/>
<polyline points="187.4,59.0 187.7,61.0 187.9,60.4 188.2,60.5 188.4,61.4 188.7,60.2 188.9,61.4 189.2,65.3 189.4,69.8 189.7,71.4 189.9,68.3 190.2,63.7 190.4,61.4 190.7,59.9 190.9,60.7 191.2,61.4 191.4,60.6 191.7,61.1 191.9,60.1 192.2,61.1 192.4,61.2 192.7,60.3 192.9,59.6 193.2,60.7 193.4,60.9 193.7,62.0 193.9,60.6 194.2,62.2 194.4,59.0 194.7,60.7 194.9,60.7 195.2,61.5 195.4,64.0 195.7,69.5 195.9,75.5 196.2,73.5 196.4,69.4 196.7,63.7 196.9,61.8 197.2,59.3 197.4,61.2 197.7,61.6 197.9,60.2 198.2,60.7 198.4,60.5 198.7,62.8 198.9,60.4 199.2,60.6 199.4,59.0 199.7,59.9 199.9,61.3 200.2,60.1 200.4,59.0 200.7,60.9 200.9,61.3 201.2,61.8 201.4,62.8 201.7,63.1 201.9,65.4 202.2,61.6 202.4,61.7 202.7,60.1 202.9,60.6 203.2,59.9 203.4,61.3 203.7,60.8 203.9,60.5 204.2,60.0 204.4,62.5 204.7,62.6 204.9,62.3 205.2,61.8 205.4,63.7 205.7,65.7 205.9,66.6 206.2,66.6 206.4,63.2 206.7,61.9 206.9,60.1 207.2,62.8 207.4,60.6 207.7,61.4 207.9,61.7 208.2,60.6 208.4,61.2 208.7,61.8 208.9,61.2 209.2,61.1 209.4,61.1 209.7,60.8 209.9,61.3 210.2,61.7 210.4,61.8 210.7,62.4 210.9,61.6 211.2,61.2 211.4,62.3 211.7,61.9 211.9,62.4 212.2,61.8 212.4,62.1 212.7,62.1 212.9,62.5 213.2,61.7 213.4,62.9 213.7,63.1 213.9,63.8 214.2,62.0 214.4,62.3 214.7,61.8 214.9,60.4 215.2,63.2 215.4,63.5 215.7,65.2 215.9,63.4 216.2,63.8 216.4,62.9 216.7,61.4 216.9,62.9 217.2,61.9 217.4,62.7 217.7,60.9 217.9,61.6 218.2,61.9 218.4,61.6 218.7,63.4 218.9,64.4 219.2,62.9 219.4,63.2 219.7,64.0 219.9,64.1 220.2,64.7 220.4,63.9 220.7,64.7 220.9,63.1 221.2,62.9 221.4,64.0 221.7,63.8 221.9,62.0 222.2,63.3 222.4,62.9 222.7,64.0 222.9,63.4 223.2,64.1 223.4,62.9 223.7,63.1 223.9,63.0 224.2,63.4 224.4,63.5 224.7,65.3 224.9,65.5 225.2,68.7 225.4,68.3 225.7,66.8 225.9,66.0 226.2,64.0 226.4,64.5 226.7,63.5 226.9,63.7 227.2,64.5 227.4,65.7 227.7,64.8 227.9,64.3 228.2,65.3 228.4,64.9 228.7,65.5 228.9,65.0 229.2,65.3 229.4,67.8 229.7,69.7 229.9,72.0 230.2,74.3 230.4,71.8 230.7,69.7 230.9,65.1 231.2,64.7 231.4,64.9 231.7,65.6 231.9,64.9 232.2,65.6 232.4,65.9 232.7,66.8 232.9,65.2 233.2,65.1 233.4,65.2 233.7,64.1 233.9,64.9 234.2,66.5 234.4,66.7 234.7,68.3 234.9,67.0 235.2,67.2 235.4,68.6 235.7,67.0 235.9,66.3 236.2,65.6 236.4,65.9 236.7,67.8 236.9,65.9 237.2,65.6 237.4,66.2 237.7,66.9 237.9,66.7 238.2,67.0 238.4,65.4 238.7,65.7 238.9,66.3 239.2,66.6 239.4,67.7 239.7,65.6 239.9,67.2 240.2,66.6 240.4,67.3 240.7,66.5 240.9,66.2 241.2,69.4 241.4,70.8 241.7,69.8 241.9,70.4 242.2,67.4 242.4,67.7 242.7,67.6 242.9,66.4 243.2,68.3 243.4,67.1 243.7,69.1 243.9,68.7 244.2,69.0 244.4,69.1 244.7,71.2 244.9,69.0 245.2,68.4 245.4,67.7 245.7,68.9 245.9,68.8 246.2,68.1 246.4,68.3 246.7,66.8 246.9,69.4 247.2,68.1 247.4,68.4 247.7,68.1 247.9,69.0 248.2,68.3 248.4,68.6 248.7,68.7 248.9,68.2 249.2,68.2 249.4,69.1 249.7,69.1 249.9,69.5 250.2,70.1 250.4,68.0 250.7,67.6 250.9,68.8 251.2,70.2 251.4,69.4 251.7,68.4 251.9,71.5 252.2,70.7 252.4,69.3 252.7,69.7 252.9,70.0 253.2,69.3 253.4,69.8 253.7,71.1 253.9,71.7 254.2,72.7 254.4,70.5 254.7,71.3 254.9,69.5 255.2,69.1 255.4,68.4 255.7,69.5 255.9,70.3 256.1,71.0 256.4,67.6 256.6,70.3 256.9,69.7 257.1,71.0 257.4,70.1 257.6,70.8 257.9,72.1 258.1,70.8 258.4,70.6 258.6,71.6 258.9,71.3 259.1,71.7 259.4,72.1 259.6,74.2 259.9,73.1 260.1,73.9 260.4,73.0 260.6,71.7 260.9,72.9 261.1,70.5 261.4,71.8 261.6,71.6 261.9,70.7 262.1,72.1 262.4,72.5 262.6,73.0 262.9,72.2 263.1,72.9 263.4,72.3 263.6,76.0 263.9,80.8 264.1,84.4 264.4,85.1 264.6,79.7 264.9,75.8 265.1,73.1 265.4,73.0 265.6,71.7 265.9,74.3 266.1,73.1 266.4,73.9 266.6,73.5 266.9,73.0 267.1,74.8 267.4,74.2 267.6,72.2 267.9,73.5 268.1,73.4 268.4,73.0 268.6,75.5 268.9,72.9 269.1,75.2 269.4,72.6 269.6,75.1 269.9,73.7 270.1,72.4 270.4,74.5 270.6,74.7 270.9,73.7 271.1,75.3 271.4,73.2 271.6,75.5 271.9,75.2 272.1,76.3 272.4,74.8 272.6,76.1 272.9,75.0 273.1,76.0 273.4,75.7 273.6,76.7 273.9,75.7 274.1,77.2 274.4,76.6 274.6,77.2 274.9,75.7 275.1,75.9 275.4,76.7 275.6,76.7 275.9,74.3 276.1,76.2 276.4,77.2 276.6,76.4 276.9,75.3 277.1,76.6 277.4,77.0 277.6,77.0 277.9,79.9 278.1,83.2 278.4,87.8 278.6,87.6 278.9,84.9 279.1,80.1 279.4,79.3 279.6,78.3 279.9,77.7 280.1,78.4 280.4,80.0 280.6,77.9 280.9,78.3 281.1,80.6 281.4,78.9 281.6,78.3 281.9,80.7 282.1,78.9 282.4,79.8 282.6,79.1 282.9,79.2 283.1,79.3 283.4,80.4 283.6,81.4 283.9,79.8 284.1,81.4 284.4,79.8 284.6,80.6 284.9,82.2 285.1,81.2 285.4,79.9 285.6,81.3 285.9,79.5 286.1,78.3 286.4,77.5 286.6,80.5 286.9,80.4 287.1,82.5 287.4,80.6 287.6,80.4 287.9,80.9 288.1,81.8 288.4,82.0 288.6,81.4 288.9,81.3 289.1,81.9 289.4,82.8 289.6,82.1 289.9,82.7 290.1,83.3 290.4,82.3 290.6,81.9 290.9,84.3 291.1,85.2 291.4,86.6 291.6,85.7 291.9,83.5 292.1,82.9 292.4,83.1 292.6,82.6 292.9,83.1 293.1,83.6 293.4,82.8 293.6,83.8 293.9,81.8 294.1,82.6 294.4,83.4 294.6,81.9 294.9,82.0 295.1,82.6 295.4,83.2 295.6,83.2 295.9,83.5 296.1,84.7 296.4,83.3 296.6,83.2 296.9,84.2 297.1,83.6 297.4,84.2 297.6,84.3 297.9,82.7 298.1,81.9 298.4,84.1 298.6,83.7 298.9,84.1 299.1,83.2 299.4,84.6 299.6,83.9 299.9,84.6 300.1,84.9 300.4,84.4 300.6,84.4 300.9,84.3 301.1,87.6 301.4,84.7 301.6,86.0 301.9,83.8 302.1,84.2 302.4,86.0 302.6,84.4 302.9,85.9 303.1,84.8 303.4,85.9 303.6,84.1 303.9,84.4 304.1,86.6 304.4,85.9 304.6,85.0 304.9,85.5 305.1,83.5 305.4,85.4 305.6,84.6 305.9,85.0 306.1,87.0 306.4,85.4 306.6,85.4 306.9,85.1 307.1,86.7 307.4,87.0 307.6,86.2 307.9,85.4 308.1,86.2 308.4,86.4 308.6,84.8 308.9,87.5 309.1,86.1 309.4,87.0 309.6,86.1 309.9,86.0 310.1,87.4 310.4,86.8 310.6,85.5 310.9,87.1 311.1,87.6 311.4,86.9 311.6,87.9 311.9,86.3 312.1,87.8 312.4,87.3 312.6,87.3 312.9,88.3" fill="none" stroke="#f47e70" stroke-width="1.0" stroke-linejoin="round"/>
<polyline points="335.9,47.9 336.1,47.9 336.4,48.7 336.6,48.5 336.9,48.2 337.1,48.7 337.4,49.0 337.6,48.9 337.9,48.9 338.1,49.6 338.4,50.1 338.6,49.8 338.9,49.9 339.1,50.8 339.4,51.5 339.6,51.3 339.9,51.3 340.1,51.3 340.4,50.9 340.6,50.8 340.9,51.4 341.1,51.5 341.4,51.9 341.6,51.3 341.9,51.6 342.1,51.7 342.4,51.5 342.6,52.3 342.9,52.6 343.1,52.3 343.4,53.2 343.6,53.2 343.9,53.3 344.1,53.5 344.4,54.3 344.6,54.3 344.9,55.1 345.1,54.6 345.4,53.5 345.6,54.3 345.9,54.2 346.1,54.7 346.4,54.4 346.6,54.7 346.9,55.0 347.1,54.7 347.4,55.4 347.6,55.3 347.9,55.6 348.1,55.4 348.4,56.1 348.6,56.1 348.9,56.0 349.1,56.4 349.4,56.8 349.6,57.1 349.9,56.1 350.1,57.1 350.4,57.1 350.6,57.0 350.9,56.9 351.1,57.8 351.4,57.2 351.6,58.5 351.9,60.2 352.1,60.7 352.4,60.8 352.6,59.1 352.9,58.8 353.1,59.1 353.4,59.4 353.6,58.2 353.9,58.8 354.1,59.5 354.4,60.0 354.6,59.7 354.9,59.4 355.1,59.9 355.4,59.9 355.6,60.0 355.9,59.9 356.1,60.5 356.4,60.6 356.6,60.6 356.9,60.6 357.1,60.4 357.4,60.8 357.6,61.5 357.9,61.1 358.1,60.7 358.4,61.8 358.6,61.6 358.9,62.3 359.1,61.7 359.4,61.6 359.6,61.3 359.9,62.4 360.1,63.0 360.4,61.9 360.6,62.0 360.9,62.6 361.1,62.2 361.4,62.5 361.6,62.6 361.9,62.8 362.1,63.3 362.4,63.0 362.6,63.4 362.9,63.0 363.1,63.4 363.4,62.6 363.6,63.0 363.9,63.9 364.1,63.5 364.4,64.0 364.6,64.1 364.9,64.5 365.1,64.4 365.4,64.6 365.6,64.3 365.9,64.2 366.1,64.3 366.4,64.5 366.6,65.0 366.9,67.5 367.1,71.1 367.4,71.7 367.6,68.6 367.9,65.5 368.1,65.4 368.4,65.5 368.6,66.0 368.9,66.8 369.1,69.1 369.4,72.2 369.6,72.8 369.9,69.2 370.1,67.4 370.4,67.1 370.6,66.1 370.9,66.6 371.1,66.7 371.4,66.8 371.6,66.9 371.9,66.9 372.1,67.0 372.4,66.5 372.6,67.1 372.9,67.0 373.1,67.7 373.4,68.5 373.6,70.4 373.9,70.8 374.1,69.4 374.4,68.3 374.6,68.0 374.9,67.9 375.1,68.1 375.4,68.1 375.6,68.5 375.9,68.4 376.1,68.7 376.4,68.2 376.6,69.0 376.9,68.6 377.1,68.7 377.4,69.0 377.6,69.0 377.9,69.7 378.1,70.6 378.4,71.9 378.6,71.9 378.9,71.3 379.1,70.0 379.4,69.4 379.6,69.9 379.9,69.5 380.1,70.7 380.4,69.7 380.6,70.5 380.9,70.6 381.1,70.0 381.4,70.7 381.6,71.1 381.9,71.0 382.1,71.0 382.4,71.3 382.6,71.2 382.9,71.3 383.1,71.3 383.4,71.6 383.6,71.2 383.9,71.9 384.1,71.5 384.4,71.4 384.6,72.0 384.9,72.6 385.1,72.4 385.4,72.0 385.6,72.6 385.9,72.2 386.1,72.5 386.4,72.6 386.6,71.9 386.9,72.9 387.1,72.5 387.4,72.8 387.6,72.6 387.9,72.7 388.1,73.0 388.4,73.7 388.6,74.1 388.9,73.6 389.1,74.1 389.4,73.7 389.6,73.3 389.9,74.1 390.1,74.3 390.4,74.1 390.6,74.6 390.9,75.3 391.1,76.8 391.4,78.9 391.6,79.1 391.9,76.9 392.1,75.4 392.4,75.6 392.6,76.2 392.9,76.8 393.1,79.2 393.4,79.7 393.6,77.9 393.9,76.7 394.1,75.8 394.4,76.3 394.6,76.8 394.9,76.5 395.1,76.1 395.4,76.6 395.6,77.0 395.9,76.8 396.1,76.6 396.4,77.4 396.6,76.5 396.9,77.3 397.1,77.2 397.4,76.9 397.6,77.8 397.9,77.6 398.1,77.3 398.4,78.3 398.6,78.9 398.9,80.7 399.1,84.3 399.4,86.3 399.6,84.8 399.9,81.5 400.1,79.4 400.4,79.0 400.6,78.7 400.9,79.3 401.1,79.0 401.4,79.2 401.6,79.4 401.9,78.9 402.1,79.2 402.4,80.0 402.6,79.7 402.9,79.6 403.1,80.0 403.4,79.8 403.6,80.2 403.9,79.9 404.1,80.4 404.4,79.9 404.6,81.0 404.9,80.8 405.1,81.4 405.4,83.1 405.6,83.0 405.9,82.1 406.1,81.0 406.4,81.5 406.6,82.7 406.9,81.1 407.1,81.7 407.4,81.6 407.6,81.9 407.9,81.3 408.1,81.7 408.4,82.3 408.6,82.3 408.9,83.0 409.1,82.6 409.4,83.9 409.6,86.4 409.9,85.4 410.1,84.1 410.4,83.4 410.6,83.2 410.9,83.6 411.1,83.5 411.4,83.7 411.6,84.4 411.9,85.2 412.1,84.4 412.4,82.9 412.6,83.9 412.9,84.0 413.1,85.4 413.4,86.1 413.6,87.0 413.9,86.4 414.1,86.7 414.4,86.3 414.6,85.5 414.9,85.1 415.1,85.4 415.4,85.2 415.6,85.0 415.9,85.7 416.1,85.4 416.4,85.5 416.6,85.9 416.9,88.0 417.1,91.5 417.4,92.8 417.6,92.3 417.9,88.8 418.1,86.7 418.4,86.7 418.6,86.5 418.9,86.6 419.1,85.7 419.4,86.5 419.6,86.9 419.9,87.4 420.1,87.6 420.4,87.5 420.6,86.7 420.9,86.5 421.1,87.5 421.4,87.4 421.6,87.9 421.9,87.6 422.1,87.8 422.4,87.3 422.6,88.1 422.9,87.9 423.1,88.2 423.4,88.4 423.6,88.3 423.9,88.6 424.1,89.1 424.4,91.4 424.6,94.9 424.9,96.6 425.1,94.7 425.4,92.2 425.6,89.7 425.9,89.7 426.1,89.5 426.4,89.2 426.6,89.3 426.9,89.7 427.1,89.8 427.4,90.0 427.6,89.5 427.9,96.7 428.1,96.0 428.4,95.8 428.6,93.8 428.9,94.2 429.1,93.5 429.4,93.5 429.6,92.9 429.9,92.9 430.1,93.2 430.4,92.6 430.6,92.5 430.9,92.4 431.1,92.0 431.4,92.4 431.6,92.0 431.9,91.8 432.1,92.0 432.4,91.9 432.6,92.2 432.9,91.9 433.1,91.7 433.4,92.4 433.6,92.2 433.9,92.3 434.1,92.1 434.4,91.9 434.6,91.7 434.9,91.8 435.1,92.2 435.4,91.9 435.6,91.4 435.9,91.9 436.1,91.4 436.4,92.0 436.6,91.5 436.9,91.5 437.1,92.0 437.4,91.9 437.6,99.4 437.9,99.3 438.1,99.1 438.4,97.2 438.6,97.8 438.9,96.5 439.1,96.2 439.4,96.0 439.6,95.3 439.9,96.1 440.1,95.7 440.4,95.1 440.6,95.2 440.9,94.8 441.1,96.0 441.4,98.0 441.6,97.7 441.9,96.8 442.1,95.6 442.4,95.3 442.6,95.3 442.9,94.6 443.1,94.4 443.4,94.8 443.6,94.5 443.9,94.5 444.1,94.9 444.4,95.1 444.6,94.6 444.9,94.4 445.1,94.6 445.4,93.8 445.6,94.4 445.9,94.0 446.1,95.2 446.4,94.6 446.6,94.3 446.9,102.9 447.1,101.1 447.4,101.3 447.6,100.9 447.9,99.5 448.1,99.4 448.4,99.0 448.6,97.9 448.9,98.5 449.1,98.4 449.4,97.8 449.6,97.5 449.9,97.6 450.1,96.7 450.4,97.2 450.6,97.4 450.9,96.5 451.1,97.2 451.4,96.7 451.6,96.1 451.9,96.7 452.1,96.4 452.4,97.2 452.6,97.4 452.9,98.4 453.1,97.2 453.4,96.9 453.6,96.4 453.9,96.4 454.1,96.9 454.4,96.5 454.6,96.4 454.9,96.8 455.1,99.0 455.4,99.6 455.6,98.3 455.9,97.1 456.1,96.1 456.4,96.0 456.6,96.0 456.9,105.2 457.1,104.1 457.4,102.8 457.6,102.6 457.9,102.0 458.1,101.3 458.4,101.2 458.6,100.4 458.9,100.2 459.1,100.1 459.4,99.7 459.6,99.9 459.9,99.0 460.1,99.8 460.4,98.9 460.6,99.1 460.9,98.6 461.1,99.2 461.4,99.4 461.6,99.3 461.9,99.1" fill="none" stroke="#000" stroke-width="1.4" stroke-linejoin="round"/>
<polyline points="335.9,56.7 336.1,57.7 336.4,57.7 336.6,57.0 336.9,56.5 337.1,56.1 337.4,55.8 337.6,56.9 337.9,57.9 338.1,56.4 338.4,54.9 338.6,56.5 338.9,58.2 339.1,57.3 339.4,56.4 339.6,56.5 339.9,56.6 340.1,56.1 340.4,55.6 340.6,56.5 340.9,57.3 341.1,57.3 341.4,57.3 341.6,57.6 341.9,58.0 342.1,57.5 342.4,57.1 342.6,57.6 342.9,58.0 343.1,59.2 343.4,60.3 343.6,59.5 343.9,58.6 344.1,58.1 344.4,57.5 344.6,58.5 344.9,59.5 345.1,58.9 345.4,58.3 345.6,58.8 345.9,59.3 346.1,59.4 346.4,59.5 346.6,59.0 346.9,58.5 347.1,57.6 347.4,56.7 347.6,57.8 347.9,58.9 348.1,59.6 348.4,60.2 348.6,59.7 348.9,59.3 349.1,59.9 349.4,60.5 349.6,60.9 349.9,61.4 350.1,60.7 350.4,60.0 350.6,61.1 350.9,62.1 351.1,62.4 351.4,62.7 351.6,62.5 351.9,62.2 352.1,62.4 352.4,62.5 352.6,62.6 352.9,62.6 353.1,63.4 353.4,64.2 353.6,63.1 353.9,61.9 354.1,61.9 354.4,61.9 354.6,62.4 354.9,62.8 355.1,62.0 355.4,61.3 355.6,61.0 355.9,60.7 356.1,61.2 356.4,61.7 356.6,62.5 356.9,63.3 357.1,63.4 357.4,63.6 357.6,62.5 357.9,61.4 358.1,61.4 358.4,61.4 358.6,62.3 358.9,63.2 359.1,63.3 359.4,63.7 359.6,64.1 359.9,64.2 360.1,64.4 360.4,64.6 360.6,64.9 360.9,65.3 361.1,64.8 361.4,64.3 361.6,64.6 361.9,64.9 362.1,64.0 362.4,63.1 362.6,63.1 362.9,63.1 363.1,64.0 363.4,64.8 363.6,65.1 363.9,65.4 364.1,65.6 364.4,66.0 364.6,66.8 364.9,67.5 365.1,67.3 365.4,66.6 365.6,66.2 365.9,66.1 366.1,64.8 366.4,63.5 366.6,64.4 366.9,66.2 367.1,68.7 367.4,69.8 367.6,68.5 367.9,67.1 368.1,65.5 368.4,64.3 368.6,65.9 368.9,67.8 369.1,68.5 369.4,69.5 369.6,69.4 369.9,67.7 370.1,66.8 370.4,66.8 370.6,67.0 370.9,67.3 371.1,66.3 371.4,65.2 371.6,66.5 371.9,67.9 372.1,67.5 372.4,67.0 372.6,66.7 372.9,66.3 373.1,66.7 373.4,67.4 373.6,66.9 373.9,66.1 374.1,66.5 374.4,67.0 374.6,67.4 374.9,67.8 375.1,67.4 375.4,67.1 375.6,67.3 375.9,67.6 376.1,67.7 376.4,67.9 376.6,68.1 376.9,68.2 377.1,68.8 377.4,69.3 377.6,68.9 377.9,68.6 378.1,68.9 378.4,69.3 378.6,69.7 378.9,69.7 379.1,70.2 379.4,71.2 379.6,70.6 379.9,70.1 380.1,70.4 380.4,70.3 380.6,68.9 380.9,67.9 381.1,69.4 381.4,70.9 381.6,70.6 381.9,70.4 382.1,70.8 382.4,71.2 382.6,70.6 382.9,70.0 383.1,69.6 383.4,69.2 383.6,70.2 383.9,71.2 384.1,71.2 384.4,71.2 384.6,70.6 384.9,69.9 385.1,69.7 385.4,69.5 385.6,70.5 385.9,71.4 386.1,71.2 386.4,71.0 386.6,72.4 386.9,73.7 387.1,72.3 387.4,71.0 387.6,71.1 387.9,71.2 388.1,71.5 388.4,71.7 388.6,71.1 388.9,70.5 389.1,70.9 389.4,71.4 389.6,72.6 389.9,73.8 390.1,73.1 390.4,72.4 390.6,72.3 390.9,72.4 391.1,73.0 391.4,73.6 391.6,74.4 391.9,74.4 392.1,73.9 392.4,73.8 392.6,73.8 392.9,74.0 393.1,74.3 393.4,74.2 393.6,74.1 393.9,74.1 394.1,74.1 394.4,74.2 394.6,73.9 394.9,73.5 395.1,74.1 395.4,74.8 395.6,73.7 395.9,72.7 396.1,73.1 396.4,73.5 396.6,74.0 396.9,74.5 397.1,74.7 397.4,74.9 397.6,74.5 397.9,74.2 398.1,74.9 398.4,75.8 398.6,77.4 398.9,81.1 399.1,86.1 399.4,88.6 399.6,85.9 399.9,80.8 400.1,77.7 400.4,76.8 400.6,76.5 400.9,76.4 401.1,75.8 401.4,75.3 401.6,75.7 401.9,76.1 402.1,76.8 402.4,77.5 402.6,76.6 402.9,75.7 403.1,76.2 403.4,76.9 403.6,77.3 403.9,78.3 404.1,78.7 404.4,77.8 404.6,76.8 404.9,76.6 405.1,77.6 405.4,78.8 405.6,78.8 405.9,78.3 406.1,77.9 406.4,77.8 406.6,77.2 406.9,76.5 407.1,77.1 407.4,77.6 407.6,77.9 407.9,78.2 408.1,78.6 408.4,78.9 408.6,78.8 408.9,78.8 409.1,79.1 409.4,79.7 409.6,80.6 409.9,80.8 410.1,80.2 410.4,79.6 410.6,78.9 410.9,78.3 411.1,78.7 411.4,79.2 411.6,79.0 411.9,78.8 412.1,78.2 412.4,77.6 412.6,78.0 412.9,78.5 413.1,80.5 413.4,82.6 413.6,81.3 413.9,79.6 414.1,79.0 414.4,78.5 414.6,79.3 414.9,80.1 415.1,81.0 415.4,81.9 415.6,81.4 415.9,80.9 416.1,81.2 416.4,81.5 416.6,81.7 416.9,82.7 417.1,85.0 417.4,86.5 417.6,85.9 417.9,84.3 418.1,83.0 418.4,82.6 418.6,82.3 418.9,82.1 419.1,82.5 419.4,83.0 419.6,83.3 419.9,83.7 420.1,83.7 420.4,83.5 420.6,83.5 420.9,83.3 421.1,83.2 421.4,83.2 421.6,82.9 421.9,82.7 422.1,83.5 422.4,84.3 422.6,83.8 422.9,83.4 423.1,83.2 423.4,83.1 423.6,82.8 423.9,82.5 424.1,83.0 424.4,84.2 424.6,87.1 424.9,89.3 425.1,87.3 425.4,84.6 425.6,84.3 425.9,84.8 426.1,84.5 426.4,84.2 426.6,84.7 426.9,85.1 427.1,85.2 427.4,85.3 427.6,84.8 427.9,88.8 428.1,88.5 428.4,88.2 428.6,88.0 428.9,87.8 429.1,87.6 429.4,87.4 429.6,87.2 429.9,87.0 430.1,86.7 430.4,86.5 430.6,86.8 430.9,87.2 431.1,87.4 431.4,87.6 431.6,87.3 431.9,87.0 432.1,86.4 432.4,85.9 432.6,86.4 432.9,86.8 433.1,86.7 433.4,86.5 433.6,86.7 433.9,86.9 434.1,87.4 434.4,88.0 434.6,87.2 434.9,86.4 435.1,86.5 435.4,86.5 435.6,86.2 435.9,85.9 436.1,86.1 436.4,86.4 436.6,86.3 436.9,86.2 437.1,87.0 437.4,87.9 437.6,93.0 437.9,92.0 438.1,91.2 438.4,90.5 438.6,91.2 438.9,91.9 439.1,90.4 439.4,89.0 439.6,89.7 439.9,90.5 440.1,90.5 440.4,90.4 440.6,90.2 440.9,90.1 441.1,90.3 441.4,90.9 441.6,91.3 441.9,90.5 442.1,89.6 442.4,89.2 442.6,89.6 442.9,90.0 443.1,88.8 443.4,87.8 443.6,89.2 443.9,90.8 444.1,91.1 444.4,90.5 444.6,89.5 444.9,89.0 445.1,88.5 445.4,88.0 445.6,88.6 445.9,89.3 446.1,89.1 446.4,88.9 446.6,89.5 446.9,96.1 447.1,95.8 447.4,95.5 447.6,94.6 447.9,93.7 448.1,92.6 448.4,91.7 448.6,92.4 448.9,92.9 449.1,92.4 449.4,91.9 449.6,92.4 449.9,93.0 450.1,93.4 450.4,93.7 450.6,93.1 450.9,92.6 451.1,93.2 451.4,93.9 451.6,93.7 451.9,93.5 452.1,93.2 452.4,92.8 452.6,92.2 452.9,91.6 453.1,92.0 453.4,92.4 453.6,91.8 453.9,91.2 454.1,92.1 454.4,93.1 454.6,92.8 454.9,92.6 455.1,93.2 455.4,93.6 455.6,93.0 455.9,92.5 456.1,91.6 456.4,90.7 456.6,91.7 456.9,98.8 457.1,98.2 457.4,97.8 457.6,97.7 457.9,97.7 458.1,96.3 458.4,95.0 458.6,94.8 458.9,94.7 459.1,94.9 459.4,95.2 459.6,94.7 459.9,94.1 460.1,93.9 460.4,93.7 460.6,93.8 460.9,93.9 461.1,95.3 461.4,96.7 461.6,95.4 461.9,94.1" fill="none" stroke="#f47e70" stroke-width="1.1" stroke-linejoin="round"/>
<polyline points="38.9,79.0 39.1,80.3 39.4,80.2 39.6,79.7 39.9,80.0 40.1,81.1 40.4,80.0 40.6,79.9 40.9,80.6 41.1,80.4 41.4,80.5 41.6,80.1 41.9,80.5 42.1,80.8 42.4,79.8 42.6,80.1 42.9,81.5 43.1,81.3 43.4,80.6 43.6,80.3 43.9,80.8 44.1,80.4 44.4,80.9 44.6,82.6 44.9,84.3 45.1,88.5 45.4,88.4 45.6,85.4 45.9,83.3 46.1,81.8 46.4,83.6 46.6,84.3 46.9,83.5 47.1,82.9 47.4,82.0 47.6,80.9 47.9,81.6 48.1,81.4 48.4,81.5 48.6,83.2 48.9,82.2 49.1,83.6 49.4,83.3 49.6,83.8 49.9,84.6 50.1,87.4 50.4,89.0 50.6,87.9 50.9,83.8 51.1,82.3 51.4,81.7 51.6,82.8 51.9,82.0 52.1,81.7 52.4,82.0 52.6,83.5 52.9,82.3 53.1,83.3 53.4,84.2 53.6,84.8 53.9,83.9 54.1,82.9 54.4,82.4 54.6,81.4 54.9,83.8 55.1,83.4 55.4,84.4 55.6,86.7 55.9,87.8 56.1,87.3 56.4,84.3 56.6,83.3 56.9,82.0 57.1,82.9 57.4,83.7 57.6,82.6 57.9,83.1 58.1,82.8 58.4,83.8 58.6,86.0 58.9,91.8 59.1,99.4 59.4,100.9 59.6,93.6 59.9,86.2 60.1,83.9 60.4,83.4 60.6,82.7 60.9,83.1 61.1,84.7 61.4,83.7 61.6,83.5 61.9,85.4 62.1,86.2 62.4,88.6 62.6,90.2 62.9,87.9 63.1,85.7 63.4,84.6 63.6,82.7 63.9,84.3 64.2,83.2 64.4,84.1 64.7,84.5 64.9,85.6 65.2,87.0 65.4,87.3 65.7,85.3 65.9,84.8 66.2,84.8 66.4,84.8 66.7,85.9 66.9,85.3 67.2,85.2 67.4,85.6 67.7,85.1 67.9,86.2 68.2,90.2 68.4,96.5 68.7,95.6 68.9,90.8 69.2,86.4 69.4,85.4 69.7,86.3 69.9,86.2 70.2,86.1 70.4,86.1 70.7,86.3 70.9,84.7 71.2,84.1 71.4,85.1 71.7,88.0 71.9,93.1 72.2,95.1 72.4,92.2 72.7,87.5 72.9,85.9 73.2,85.4 73.4,85.1 73.7,85.3 73.9,85.1 74.2,86.4 74.4,84.4 74.7,86.0 74.9,86.6 75.2,90.5 75.4,93.4 75.7,93.1 75.9,89.3 76.2,86.6 76.4,86.3 76.7,85.1 76.9,86.2 77.2,85.7 77.4,86.0 77.7,86.6 77.9,86.4 78.2,86.9 78.4,84.8 78.7,85.5 78.9,86.5 79.2,85.4 79.4,85.9 79.7,86.9 79.9,86.5 80.2,85.6 80.4,86.4 80.7,86.5 80.9,86.2 81.2,86.2 81.4,86.3 81.7,85.5 81.9,86.3 82.2,85.8 82.4,86.5 82.7,86.6 82.9,85.9 83.2,86.7 83.4,86.6 83.7,86.4 83.9,86.8 84.2,86.3 84.4,86.4 84.7,86.6 84.9,86.5 85.2,87.1 85.4,85.4 85.7,86.5 85.9,85.6 86.2,86.4 86.4,86.8 86.7,86.7 86.9,87.5 87.2,88.2 87.4,88.6 87.7,90.2 87.9,90.0 88.2,88.4 88.4,87.0 88.7,86.1 88.9,88.0 89.2,85.9 89.4,87.1 89.7,86.9 89.9,87.2 90.2,86.6 90.4,87.1 90.7,87.8 90.9,86.9 91.2,86.4 91.4,87.1 91.7,87.2 91.9,87.1 92.2,86.8 92.4,87.5 92.7,87.3 92.9,86.8 93.2,87.5 93.4,87.6 93.7,88.2 93.9,88.4 94.2,89.4 94.4,89.3 94.7,88.7 94.9,88.1 95.2,88.0 95.4,88.3 95.7,88.5 95.9,88.9 96.2,88.3 96.4,87.9 96.7,88.5 96.9,87.8 97.2,90.2 97.4,92.0 97.7,93.0 97.9,91.8 98.2,89.7 98.4,88.1 98.7,88.5 98.9,88.3 99.2,88.8 99.4,89.0 99.7,88.4 99.9,89.3 100.2,89.6 100.4,88.9 100.7,89.5 100.9,88.5 101.2,89.4 101.4,90.9 101.7,90.0 101.9,90.2 102.2,89.3 102.4,90.2 102.7,90.4 102.9,90.7 103.2,93.2 103.4,93.1 103.7,93.9 103.9,92.2 104.2,91.9 104.4,89.4 104.7,90.3 104.9,89.8 105.2,88.7 105.4,89.7 105.7,90.0 105.9,90.5 106.2,90.3 106.4,90.1 106.7,90.7 106.9,90.5 107.2,90.2 107.4,90.2 107.7,91.5 107.9,92.2 108.2,93.2 108.4,91.9 108.7,92.6 108.9,91.4 109.2,91.4 109.4,90.3 109.7,90.4 109.9,90.7 110.2,91.4 110.4,91.0 110.7,91.4 110.9,91.2 111.2,91.6 111.4,91.2 111.7,90.9 111.9,91.5 112.2,91.3 112.4,92.2 112.7,91.4 112.9,92.2 113.2,93.4 113.4,95.1 113.7,94.1 113.9,92.8 114.2,91.4 114.4,91.3 114.7,92.1 114.9,92.3 115.2,92.6 115.4,91.0 115.7,91.9 115.9,91.2 116.2,91.6 116.4,92.1 116.7,92.7 116.9,92.0 117.2,91.9 117.4,92.2 117.7,93.0 117.9,93.6 118.2,91.7 118.4,92.4 118.7,92.4 118.9,93.2 119.2,92.9 119.4,93.5 119.7,92.3 119.9,92.9 120.2,92.7 120.4,92.4 120.7,92.9 120.9,92.5 121.2,94.2 121.4,93.5 121.7,93.6 121.9,96.0 122.2,99.1 122.4,97.1 122.7,95.4 122.9,94.1 123.2,94.1 123.4,93.9 123.7,93.5 123.9,93.3 124.2,92.8 124.4,93.7 124.7,93.8 124.9,93.6 125.2,93.7 125.4,93.2 125.7,94.9 125.9,93.6 126.2,93.3 126.4,93.6 126.7,93.9 126.9,94.7 127.2,94.8 127.4,99.3 127.7,100.0 127.9,97.8 128.2,95.8 128.4,94.7 128.7,93.8 128.9,94.1 129.2,95.1 129.4,95.0 129.7,95.0 129.9,94.8 130.2,95.2 130.4,94.6 130.7,94.1 130.9,93.9 131.2,94.7 131.4,94.8 131.7,95.9 131.9,96.4 132.2,98.3 132.4,96.8 132.7,96.1 132.9,95.0 133.2,94.3 133.4,94.1 133.7,94.6 133.9,94.5 134.2,95.2 134.4,94.4 134.7,94.0 134.9,94.7 135.2,95.7 135.4,95.6 135.7,94.5 135.9,94.7 136.2,95.0 136.4,94.6 136.7,94.8 136.9,94.8 137.2,94.4 137.4,94.7 137.7,94.8 137.9,95.2 138.2,94.5 138.4,95.1 138.7,94.6 138.9,94.7 139.2,94.6 139.4,97.2 139.7,95.8 139.9,95.9 140.2,95.7 140.4,95.2 140.7,95.5 140.9,96.1 141.2,97.4 141.4,100.2 141.7,105.4 141.9,107.7 142.2,107.7 142.4,102.4 142.7,97.3 142.9,96.3 143.2,98.3 143.4,99.8 143.7,101.4 143.9,98.9 144.2,97.0 144.4,95.4 144.7,94.7 144.9,95.5 145.2,95.7 145.4,95.6 145.7,95.1 145.9,96.1 146.2,95.9 146.4,96.0 146.7,95.7 146.9,96.9 147.2,96.8 147.4,96.4 147.7,96.4 147.9,96.8 148.2,97.3 148.4,97.7 148.7,96.2 148.9,96.0 149.2,95.4 149.4,97.7 149.7,95.8 149.9,96.8 150.2,96.7 150.4,97.1 150.7,96.0 150.9,95.7 151.2,96.6 151.4,96.8 151.7,97.2 151.9,95.8 152.2,96.5 152.4,97.0 152.7,97.6 152.9,99.6 153.2,100.0 153.4,98.4 153.7,96.9 153.9,97.4 154.2,97.5 154.4,97.3 154.7,97.4 154.9,96.2 155.2,97.3 155.4,97.4 155.7,97.0 155.9,97.2 156.2,96.9 156.4,97.9 156.7,97.2 156.9,96.9 157.2,97.6 157.4,98.0 157.7,99.5 157.9,100.5 158.2,100.6 158.4,99.6 158.7,99.3 158.9,98.0 159.2,97.1 159.4,97.9 159.7,97.5 159.9,97.0 160.2,97.6 160.4,97.8 160.7,98.5 160.9,99.0 161.2,98.8 161.4,98.6 161.7,98.0 161.9,98.4 162.2,98.5 162.4,99.4 162.7,98.7 162.9,99.2 163.2,100.3 163.4,100.4 163.7,102.2 163.9,104.7 164.2,103.5 164.4,100.8 164.7,99.6" fill="none" stroke="#000" stroke-width="1.15" stroke-linejoin="round"/>
<polyline points="38.9,80.3 39.1,79.6 39.4,80.6 39.6,80.7 39.9,79.9 40.1,79.0 40.4,80.0 40.6,79.5 40.9,79.6 41.1,80.2 41.4,81.1 41.6,80.4 41.9,80.4 42.1,79.6 42.4,80.5 42.6,80.3 42.9,81.4 43.1,80.6 43.4,80.8 43.6,80.8 43.9,80.8 44.1,81.5 44.4,81.3 44.6,81.2 44.9,82.7 45.1,84.7 45.4,85.4 45.6,83.2 45.9,82.7 46.1,81.8 46.4,83.3 46.6,83.9 46.9,85.0 47.1,82.7 47.4,81.6 47.6,82.2 47.9,81.4 48.1,81.4 48.4,82.3 48.6,81.8 48.9,82.4 49.1,81.7 49.4,82.4 49.6,82.9 49.9,83.4 50.1,86.3 50.4,86.2 50.6,85.2 50.9,83.5 51.1,83.0 51.4,82.0 51.6,81.9 51.9,82.3 52.1,82.9 52.4,82.0 52.6,81.6 52.9,82.2 53.1,82.6 53.4,82.0 53.6,82.4 53.9,81.3 54.1,82.4 54.4,82.5 54.6,82.8 54.9,82.7 55.1,83.5 55.4,84.3 55.6,88.4 55.9,89.0 56.1,87.8 56.4,85.5 56.6,83.6 56.9,81.7 57.1,83.0 57.4,82.5 57.6,82.6 57.9,84.2 58.1,85.6 58.4,86.5 58.6,84.6 58.9,86.8 59.1,90.1 59.4,89.5 59.6,88.1 59.9,85.5 60.1,83.0 60.4,83.3 60.6,83.0 60.9,83.3 61.1,82.8 61.4,83.7 61.6,82.9 61.9,85.4 62.1,88.2 62.4,94.5 62.6,94.2 62.9,91.2 63.1,85.8 63.4,84.2 63.6,84.0 63.9,83.3 64.2,83.0 64.4,83.0 64.7,84.3 64.9,85.9 65.2,87.3 65.4,86.9 65.7,85.1 65.9,84.4 66.2,83.5 66.4,83.4 66.7,84.9 66.9,84.3 67.2,85.0 67.4,85.7 67.7,87.8 67.9,88.4 68.2,88.3 68.4,90.1 68.7,89.5 68.9,88.3 69.2,86.4 69.4,84.9 69.7,86.2 69.9,85.0 70.2,84.4 70.4,84.0 70.7,85.1 70.9,85.3 71.2,84.9 71.4,85.5 71.7,86.6 71.9,87.7 72.2,89.7 72.4,89.4 72.7,86.9 72.9,85.3 73.2,85.7 73.4,85.7 73.7,86.6 73.9,85.2 74.2,84.6 74.4,85.7 74.7,85.8 74.9,85.9 75.2,87.9 75.4,89.6 75.7,89.9 75.9,87.1 76.2,86.6 76.4,87.6 76.7,87.4 76.9,87.5 77.2,86.4 77.4,85.8 77.7,86.7 77.9,86.2 78.2,86.4 78.4,86.4 78.7,85.9 78.9,85.9 79.2,86.0 79.4,85.4 79.7,85.9 79.9,86.5 80.2,86.3 80.4,85.6 80.7,87.5 80.9,85.6 81.2,86.5 81.4,86.6 81.7,87.0 81.9,85.9 82.2,86.5 82.4,86.4 82.7,87.1 82.9,86.6 83.2,86.6 83.4,86.7 83.7,87.7 83.9,87.7 84.2,89.3 84.4,89.1 84.7,89.0 84.9,86.6 85.2,87.2 85.4,86.7 85.7,86.2 85.9,86.0 86.2,86.6 86.4,86.8 86.7,86.4 86.9,86.7 87.2,87.3 87.4,88.1 87.7,88.7 87.9,88.2 88.2,88.0 88.4,87.3 88.7,86.7 88.9,87.9 89.2,87.7 89.4,86.9 89.7,87.6 89.9,86.8 90.2,86.7 90.4,86.7 90.7,88.0 90.9,87.2 91.2,87.4 91.4,87.3 91.7,87.1 91.9,87.7 92.2,87.9 92.4,88.5 92.7,87.0 92.9,88.3 93.2,87.9 93.4,86.7 93.7,88.2 93.9,88.6 94.2,88.4 94.4,88.0 94.7,88.0 94.9,86.8 95.2,88.2 95.4,88.1 95.7,87.6 95.9,88.3 96.2,87.8 96.4,89.5 96.7,87.7 96.9,88.3 97.2,89.0 97.4,92.3 97.7,93.9 97.9,92.5 98.2,89.9 98.4,89.5 98.7,88.9 98.9,89.4 99.2,88.8 99.4,87.9 99.7,88.9 99.9,88.4 100.2,89.5 100.4,88.8 100.7,89.0 100.9,89.2 101.2,88.4 101.4,89.1 101.7,89.8 101.9,89.1 102.2,89.4 102.4,89.6 102.7,89.5 102.9,90.6 103.2,92.6 103.4,93.1 103.7,92.5 103.9,90.9 104.2,89.5 104.4,89.2 104.7,91.0 104.9,90.7 105.2,89.9 105.4,90.6 105.7,90.7 105.9,90.7 106.2,90.0 106.4,89.4 106.7,89.6 106.9,90.2 107.2,91.1 107.4,91.4 107.7,90.7 107.9,91.6 108.2,93.7 108.4,94.6 108.7,91.9 108.9,91.5 109.2,90.9 109.4,90.6 109.7,90.7 109.9,90.7 110.2,90.9 110.4,90.3 110.7,91.5 110.9,92.5 111.2,92.6 111.4,92.1 111.7,91.5 111.9,91.4 112.2,92.4 112.4,91.3 112.7,91.6 112.9,92.9 113.2,93.6 113.4,93.8 113.7,93.4 113.9,92.2 114.2,91.7 114.4,91.5 114.7,92.3 114.9,92.2 115.2,92.2 115.4,91.7 115.7,92.6 115.9,92.6 116.2,93.3 116.4,91.8 116.7,92.1 116.9,93.0 117.2,91.7 117.4,92.5 117.7,92.5 117.9,92.5 118.2,92.0 118.4,92.6 118.7,91.8 118.9,93.3 119.2,92.5 119.4,93.0 119.7,93.0 119.9,93.3 120.2,93.6 120.4,94.1 120.7,93.9 120.9,94.0 121.2,93.0 121.4,92.8 121.7,93.3 121.9,94.5 122.2,95.5 122.4,95.5 122.7,95.2 122.9,95.0 123.2,94.7 123.4,94.6 123.7,94.1 123.9,95.2 124.2,92.8 124.4,93.9 124.7,93.0 124.9,94.5 125.2,93.7 125.4,94.1 125.7,94.0 125.9,94.3 126.2,92.4 126.4,93.4 126.7,94.1 126.9,93.9 127.2,96.7 127.4,99.3 127.7,98.1 127.9,96.4 128.2,95.3 128.4,95.3 128.7,94.9 128.9,94.8 129.2,94.0 129.4,94.5 129.7,94.5 129.9,94.1 130.2,94.7 130.4,94.3 130.7,94.3 130.9,95.7 131.2,94.5 131.4,95.8 131.7,94.9 131.9,95.9 132.2,96.1 132.4,96.3 132.7,97.1 132.9,96.2 133.2,94.8 133.4,96.2 133.7,94.8 133.9,95.3 134.2,95.7 134.4,94.9 134.7,97.3 134.9,97.4 135.2,96.0 135.4,95.7 135.7,95.1 135.9,94.9 136.2,95.1 136.4,94.5 136.7,95.1 136.9,95.1 137.2,96.4 137.4,94.6 137.7,96.2 137.9,95.9 138.2,95.6 138.4,95.2 138.7,96.6 138.9,96.4 139.2,95.7 139.4,95.6 139.7,95.8 139.9,96.8 140.2,95.3 140.4,95.9 140.7,96.5 140.9,95.2 141.2,96.1 141.4,97.4 141.7,98.1 141.9,99.8 142.2,98.9 142.4,98.3 142.7,96.3 142.9,97.2 143.2,100.8 143.4,105.3 143.7,107.8 143.9,104.1 144.2,99.4 144.4,97.5 144.7,96.4 144.9,95.3 145.2,97.0 145.4,97.0 145.7,96.3 145.9,96.2 146.2,97.3 146.4,96.5 146.7,96.6 146.9,96.6 147.2,98.3 147.4,96.6 147.7,95.6 147.9,97.0 148.2,96.8 148.4,97.0 148.7,98.5 148.9,97.9 149.2,98.1 149.4,97.1 149.7,97.9 149.9,97.9 150.2,97.4 150.4,97.8 150.7,98.5 150.9,98.1 151.2,97.1 151.4,97.9 151.7,97.9 151.9,98.4 152.2,97.7 152.4,98.7 152.7,98.8 152.9,99.8 153.2,99.6 153.4,98.8 153.7,98.1 153.9,98.3 154.2,97.7 154.4,97.6 154.7,98.5 154.9,99.6 155.2,100.6 155.4,102.2 155.7,102.2 155.9,101.5 156.2,98.4 156.4,99.7 156.7,97.3 156.9,97.6 157.2,98.8 157.4,98.4 157.7,99.6 157.9,100.4 158.2,99.9 158.4,99.0 158.7,98.9 158.9,99.2 159.2,99.4 159.4,99.2 159.7,98.9 159.9,99.8 160.2,98.0 160.4,99.3 160.7,100.0 160.9,100.4 161.2,100.4 161.4,100.5 161.7,100.3 161.9,99.8 162.2,98.5 162.4,99.5 162.7,99.6 162.9,100.7 163.2,99.7 163.4,100.2 163.7,101.7 163.9,101.5 164.2,101.5 164.4,100.9 164.7,100.0" fill="none" stroke="#f47e70" stroke-width="1.1" stroke-linejoin="round"/>
<polyline points="187.4,80.6 187.7,79.0 187.9,80.1 188.2,81.8 188.4,86.0 188.7,86.3 188.9,89.3 189.2,93.8 189.4,93.8 189.7,95.4 189.9,95.9 190.2,93.2 190.4,90.1 190.7,89.4 190.9,84.2 191.2,81.9 191.4,79.2 191.7,80.9 191.9,81.7 192.2,80.4 192.4,84.3 192.7,83.6 192.9,84.0 193.2,81.0 193.4,82.0 193.7,81.5 193.9,78.8 194.2,83.5 194.4,86.5 194.7,86.6 194.9,90.1 195.2,93.6 195.4,94.7 195.7,95.3 195.9,97.9 196.2,100.2 196.4,96.6 196.7,95.7 196.9,91.9 197.2,88.3 197.4,87.0 197.7,80.9 197.9,83.4 198.2,81.7 198.4,81.0 198.7,78.9 198.9,81.5 199.2,80.5 199.4,77.2 199.7,79.3 199.9,79.5 200.2,79.8 200.4,80.4 200.7,80.1 200.9,83.3 201.2,83.3 201.4,83.4 201.7,86.7 201.9,87.0 202.2,83.2 202.4,79.9 202.7,81.9 202.9,83.3 203.2,80.1 203.4,81.5 203.7,82.7 203.9,83.1 204.2,82.7 204.4,82.1 204.7,81.4 204.9,80.9 205.2,83.5 205.4,85.5 205.7,87.9 205.9,90.7 206.2,91.1 206.4,86.3 206.7,81.5 206.9,79.7 207.2,82.0 207.4,82.9 207.7,83.2 207.9,83.0 208.2,80.0 208.4,82.4 208.7,82.8 208.9,83.5 209.2,88.0 209.4,83.4 209.7,82.9 209.9,82.0 210.2,83.3 210.4,84.0 210.7,82.1 210.9,82.5 211.2,82.0 211.4,81.3 211.7,82.5 211.9,83.3 212.2,83.2 212.4,83.9 212.7,82.9 212.9,85.6 213.2,84.3 213.4,85.8 213.7,83.5 213.9,82.9 214.2,81.7 214.4,82.7 214.7,83.2 214.9,83.6 215.2,81.3 215.4,82.7 215.7,84.8 215.9,83.7 216.2,83.5 216.4,84.0 216.7,82.5 216.9,82.3 217.2,83.2 217.4,85.4 217.7,85.3 217.9,83.7 218.2,84.9 218.4,84.8 218.7,86.0 218.9,83.5 219.2,84.7 219.4,86.2 219.7,85.3 219.9,90.2 220.2,92.3 220.4,90.3 220.7,87.1 220.9,85.7 221.2,85.9 221.4,86.4 221.7,85.2 221.9,87.6 222.2,84.2 222.4,85.0 222.7,87.0 222.9,86.8 223.2,85.6 223.4,84.5 223.7,87.0 223.9,84.8 224.2,84.9 224.4,91.4 224.7,93.1 224.9,97.4 225.2,99.2 225.4,101.3 225.7,97.7 225.9,94.5 226.2,90.2 226.4,87.2 226.7,86.6 226.9,84.7 227.2,85.3 227.4,84.8 227.7,86.4 227.9,86.9 228.2,87.0 228.4,83.6 228.7,88.7 228.9,86.7 229.2,87.8 229.4,89.8 229.7,93.1 229.9,99.0 230.2,100.7 230.4,101.6 230.7,100.2 230.9,97.0 231.2,91.2 231.4,88.8 231.7,86.6 231.9,86.5 232.2,89.6 232.4,89.5 232.7,89.3 232.9,89.2 233.2,88.3 233.4,88.8 233.7,89.3 233.9,86.1 234.2,89.1 234.4,88.6 234.7,86.3 234.9,87.7 235.2,87.2 235.4,85.8 235.7,87.9 235.9,85.8 236.2,88.2 236.4,87.1 236.7,87.8 236.9,89.0 237.2,88.0 237.4,86.8 237.7,88.2 237.9,88.9 238.2,89.4 238.4,87.3 238.7,90.1 238.9,88.4 239.2,87.8 239.4,90.1 239.7,89.6 239.9,89.9 240.2,89.1 240.4,86.4 240.7,89.3 240.9,89.8 241.2,91.0 241.4,97.2 241.7,96.7 241.9,95.7 242.2,91.7 242.4,88.1 242.7,87.7 242.9,88.4 243.2,88.8 243.4,89.8 243.7,88.2 243.9,87.7 244.2,92.0 244.4,90.0 244.7,91.8 244.9,94.3 245.2,91.3 245.4,87.6 245.7,92.2 245.9,92.7 246.2,95.4 246.4,90.4 246.7,91.4 246.9,91.8 247.2,92.6 247.4,91.6 247.7,91.1 247.9,89.8 248.2,89.8 248.4,88.5 248.7,91.1 248.9,91.9 249.2,90.7 249.4,88.9 249.7,88.2 249.9,89.4 250.2,92.2 250.4,90.4 250.7,89.0 250.9,89.9 251.2,91.5 251.4,89.6 251.7,89.9 251.9,89.9 252.2,89.5 252.4,93.3 252.7,89.8 252.9,91.2 253.2,92.5 253.4,91.4 253.7,92.6 253.9,95.0 254.2,95.9 254.4,95.4 254.7,94.3 254.9,92.7 255.2,92.1 255.4,93.9 255.7,91.1 255.9,92.7 256.1,91.5 256.4,90.6 256.6,90.7 256.9,93.3 257.1,91.7 257.4,93.7 257.6,92.1 257.9,94.6 258.1,91.6 258.4,95.2 258.6,96.0 258.9,95.3 259.1,93.9 259.4,94.8 259.6,93.7 259.9,92.8 260.1,94.0 260.4,92.8 260.6,93.4 260.9,95.0 261.1,94.1 261.4,93.9 261.6,94.2 261.9,93.0 262.1,90.6 262.4,93.0 262.6,93.5 262.9,92.3 263.1,91.6 263.4,95.0 263.6,94.9 263.9,99.4 264.1,102.3 264.4,104.2 264.6,100.6 264.9,98.3 265.1,97.4 265.4,94.9 265.6,97.0 265.9,97.3 266.1,93.3 266.4,94.0 266.6,95.6 266.9,97.7 267.1,95.2 267.4,94.4 267.6,94.3 267.9,96.8 268.1,96.4 268.4,95.2 268.6,96.5 268.9,95.7 269.1,97.8 269.4,94.6 269.6,95.9 269.9,98.2 270.1,96.5 270.4,96.8 270.6,97.5 270.9,99.8 271.1,97.6 271.4,99.2 271.6,96.8 271.9,98.4 272.1,99.4 272.4,98.4 272.6,97.2 272.9,95.0 273.1,98.7 273.4,99.1 273.6,98.9 273.9,96.3 274.1,96.9 274.4,98.2 274.6,97.8 274.9,100.4 275.1,97.6 275.4,98.7 275.6,97.8 275.9,97.1 276.1,100.8 276.4,99.8 276.6,98.9 276.9,100.1 277.1,98.2 277.4,105.3 277.6,105.7 277.9,108.8 278.1,114.7 278.4,120.5 278.6,120.2 278.9,116.1 279.1,110.3 279.4,105.3 279.6,104.3 279.9,99.6 280.1,102.3 280.4,102.3 280.6,102.2 280.9,101.7 281.1,101.3 281.4,101.4 281.6,100.1 281.9,101.7 282.1,103.9 282.4,104.5 282.6,102.1 282.9,102.5 283.1,103.7 283.4,105.2 283.6,105.1 283.9,104.8 284.1,106.2 284.4,103.4 284.6,106.8 284.9,108.5 285.1,108.0 285.4,107.3 285.6,109.1 285.9,105.4 286.1,106.2 286.4,104.2 286.6,104.1 286.9,104.4 287.1,105.2 287.4,104.6 287.6,103.7 287.9,106.4 288.1,106.3 288.4,103.0 288.6,105.2 288.9,104.6 289.1,104.7 289.4,105.9 289.6,110.4 289.9,108.2 290.1,110.0 290.4,104.8 290.6,105.6 290.9,106.5 291.1,103.0 291.4,106.9 291.6,106.1 291.9,105.4 292.1,105.4 292.4,105.7 292.6,105.9 292.9,106.3 293.1,108.8 293.4,109.6 293.6,107.1 293.9,108.5 294.1,108.9 294.4,108.8 294.6,107.5 294.9,105.5 295.1,106.9 295.4,107.1 295.6,106.8 295.9,105.0 296.1,107.8 296.4,108.7 296.6,106.8 296.9,108.4 297.1,107.6 297.4,108.0 297.6,109.0 297.9,104.8 298.1,109.6 298.4,109.1 298.6,107.0 298.9,112.9 299.1,113.9 299.4,112.0 299.6,109.8 299.9,107.5 300.1,110.1 300.4,109.3 300.6,110.2 300.9,110.7 301.1,108.8 301.4,109.4 301.6,111.5 301.9,111.6 302.1,111.0 302.4,109.0 302.6,110.9 302.9,111.2 303.1,108.6 303.4,109.9 303.6,106.9 303.9,109.1 304.1,108.0 304.4,109.6 304.6,108.7 304.9,106.5 305.1,110.5 305.4,108.6 305.6,111.7 305.9,112.1 306.1,110.9 306.4,110.0 306.6,110.4 306.9,108.4 307.1,110.4 307.4,111.6 307.6,111.4 307.9,109.2 308.1,112.6 308.4,111.6 308.6,110.4 308.9,113.0 309.1,111.1 309.4,111.1 309.6,112.0 309.9,115.2 310.1,116.4 310.4,110.5 310.6,111.6 310.9,111.3 311.1,112.4 311.4,112.1 311.6,110.9 311.9,112.2 312.1,111.2 312.4,112.1 312.6,115.7 312.9,115.9" fill="none" stroke="#000" stroke-width="1.25" stroke-linejoin="round"/>
<polyline points="187.4,81.3 187.7,80.2 187.9,79.9 188.2,80.1 188.4,80.6 188.7,81.9 188.9,83.1 189.2,87.5 189.4,93.0 189.7,92.4 189.9,87.9 190.2,83.8 190.4,80.7 190.7,80.9 190.9,80.8 191.2,82.3 191.4,80.0 191.7,81.1 191.9,81.1 192.2,81.2 192.4,80.9 192.7,83.3 192.9,81.7 193.2,81.8 193.4,82.1 193.7,81.6 193.9,82.8 194.2,80.8 194.4,82.4 194.7,82.9 194.9,82.9 195.2,83.5 195.4,84.4 195.7,88.3 195.9,94.8 196.2,93.7 196.4,90.1 196.7,85.4 196.9,85.5 197.2,83.7 197.4,81.7 197.7,82.1 197.9,82.5 198.2,81.7 198.4,81.6 198.7,81.6 198.9,82.0 199.2,82.1 199.4,83.7 199.7,82.5 199.9,80.7 200.2,82.7 200.4,81.9 200.7,82.0 200.9,82.1 201.2,83.2 201.4,81.4 201.7,83.9 201.9,84.0 202.2,82.5 202.4,80.8 202.7,81.0 202.9,82.2 203.2,83.2 203.4,80.6 203.7,81.7 203.9,82.4 204.2,82.6 204.4,83.5 204.7,85.1 204.9,85.5 205.2,83.6 205.4,84.8 205.7,84.8 205.9,86.0 206.2,86.5 206.4,84.7 206.7,85.0 206.9,84.1 207.2,83.7 207.4,83.6 207.7,82.4 207.9,83.0 208.2,83.6 208.4,83.5 208.7,83.3 208.9,82.0 209.2,82.0 209.4,82.0 209.7,84.4 209.9,82.9 210.2,83.7 210.4,83.1 210.7,83.1 210.9,83.1 211.2,82.9 211.4,83.4 211.7,84.4 211.9,83.6 212.2,85.2 212.4,84.8 212.7,84.3 212.9,84.8 213.2,85.1 213.4,82.6 213.7,83.8 213.9,84.6 214.2,84.4 214.4,82.5 214.7,84.3 214.9,83.6 215.2,83.6 215.4,84.6 215.7,83.2 215.9,84.3 216.2,84.8 216.4,83.7 216.7,83.4 216.9,86.0 217.2,83.5 217.4,85.4 217.7,83.9 217.9,84.6 218.2,84.1 218.4,84.7 218.7,84.7 218.9,83.8 219.2,84.6 219.4,85.5 219.7,84.2 219.9,83.0 220.2,85.1 220.4,84.2 220.7,85.2 220.9,84.7 221.2,84.4 221.4,84.9 221.7,85.4 221.9,85.6 222.2,84.6 222.4,84.6 222.7,84.6 222.9,86.4 223.2,85.5 223.4,84.7 223.7,85.3 223.9,86.6 224.2,84.7 224.4,85.6 224.7,87.7 224.9,90.3 225.2,92.7 225.4,91.2 225.7,89.2 225.9,85.1 226.2,85.8 226.4,85.5 226.7,85.6 226.9,87.1 227.2,86.4 227.4,86.9 227.7,87.7 227.9,88.1 228.2,85.7 228.4,86.9 228.7,86.2 228.9,85.2 229.2,86.1 229.4,87.1 229.7,87.9 229.9,90.2 230.2,92.6 230.4,91.6 230.7,89.7 230.9,89.0 231.2,90.9 231.4,87.8 231.7,88.3 231.9,86.7 232.2,87.7 232.4,86.1 232.7,85.2 232.9,87.5 233.2,88.0 233.4,85.9 233.7,88.2 233.9,88.9 234.2,88.1 234.4,88.7 234.7,87.0 234.9,88.3 235.2,88.6 235.4,88.1 235.7,89.6 235.9,91.1 236.2,89.1 236.4,88.6 236.7,88.2 236.9,89.7 237.2,88.9 237.4,88.1 237.7,87.2 237.9,88.3 238.2,88.5 238.4,88.0 238.7,89.2 238.9,87.9 239.2,88.2 239.4,85.9 239.7,89.6 239.9,87.9 240.2,87.5 240.4,87.8 240.7,87.1 240.9,88.6 241.2,91.1 241.4,92.6 241.7,93.0 241.9,91.4 242.2,89.6 242.4,88.5 242.7,88.3 242.9,88.8 243.2,89.0 243.4,88.4 243.7,89.1 243.9,88.0 244.2,87.5 244.4,87.5 244.7,89.7 244.9,89.9 245.2,91.8 245.4,91.1 245.7,90.1 245.9,89.7 246.2,88.2 246.4,88.8 246.7,90.6 246.9,91.0 247.2,89.6 247.4,89.7 247.7,89.1 247.9,88.8 248.2,90.3 248.4,90.7 248.7,90.1 248.9,90.2 249.2,89.3 249.4,90.8 249.7,90.1 249.9,89.5 250.2,90.9 250.4,89.4 250.7,89.4 250.9,90.3 251.2,89.5 251.4,89.5 251.7,90.9 251.9,90.6 252.2,90.2 252.4,91.2 252.7,91.0 252.9,91.8 253.2,92.2 253.4,92.3 253.7,91.3 253.9,93.7 254.2,92.9 254.4,92.4 254.7,91.5 254.9,92.0 255.2,91.3 255.4,91.1 255.7,92.0 255.9,91.3 256.1,90.7 256.4,91.5 256.6,91.5 256.9,91.5 257.1,91.8 257.4,91.5 257.6,91.9 257.9,95.1 258.1,92.4 258.4,94.1 258.6,94.6 258.9,93.4 259.1,92.5 259.4,91.7 259.6,91.6 259.9,94.1 260.1,92.8 260.4,94.1 260.6,95.7 260.9,92.9 261.1,94.3 261.4,93.1 261.6,94.3 261.9,92.6 262.1,92.8 262.4,94.1 262.6,93.3 262.9,93.1 263.1,94.6 263.4,94.4 263.6,95.8 263.9,101.0 264.1,106.4 264.4,106.5 264.6,104.3 264.9,98.2 265.1,95.5 265.4,95.3 265.6,95.9 265.9,94.6 266.1,94.8 266.4,95.2 266.6,95.1 266.9,95.2 267.1,93.2 267.4,94.9 267.6,95.4 267.9,96.4 268.1,95.0 268.4,95.9 268.6,96.1 268.9,96.9 269.1,98.3 269.4,97.7 269.6,97.7 269.9,95.6 270.1,96.1 270.4,98.0 270.6,97.6 270.9,99.5 271.1,100.8 271.4,96.7 271.6,98.2 271.9,97.8 272.1,98.3 272.4,97.7 272.6,96.5 272.9,97.5 273.1,97.3 273.4,97.0 273.6,98.1 273.9,98.6 274.1,98.0 274.4,100.0 274.6,100.7 274.9,101.6 275.1,101.0 275.4,99.4 275.6,101.3 275.9,99.8 276.1,100.2 276.4,99.3 276.6,99.7 276.9,100.5 277.1,99.3 277.4,100.4 277.6,102.1 277.9,102.9 278.1,107.5 278.4,110.4 278.6,111.6 278.9,108.8 279.1,105.6 279.4,103.9 279.6,102.1 279.9,101.9 280.1,102.8 280.4,102.5 280.6,102.0 280.9,103.3 281.1,102.0 281.4,102.1 281.6,102.8 281.9,104.2 282.1,102.3 282.4,102.4 282.6,102.6 282.9,102.5 283.1,102.4 283.4,104.3 283.6,104.6 283.9,104.0 284.1,103.6 284.4,103.2 284.6,104.9 284.9,105.5 285.1,104.7 285.4,104.5 285.6,103.0 285.9,103.5 286.1,103.2 286.4,104.4 286.6,103.4 286.9,104.3 287.1,103.0 287.4,104.4 287.6,105.1 287.9,105.4 288.1,105.8 288.4,105.7 288.6,105.5 288.9,104.8 289.1,104.4 289.4,103.9 289.6,104.7 289.9,106.4 290.1,106.1 290.4,106.0 290.6,105.8 290.9,105.3 291.1,104.8 291.4,105.1 291.6,105.9 291.9,104.2 292.1,106.2 292.4,106.2 292.6,105.3 292.9,105.8 293.1,105.9 293.4,106.9 293.6,106.5 293.9,105.6 294.1,103.9 294.4,108.5 294.6,108.3 294.9,107.3 295.1,105.8 295.4,106.2 295.6,105.8 295.9,108.0 296.1,108.1 296.4,106.7 296.6,108.5 296.9,107.4 297.1,108.4 297.4,107.7 297.6,106.3 297.9,106.2 298.1,107.4 298.4,108.1 298.6,108.6 298.9,108.6 299.1,107.6 299.4,107.9 299.6,108.2 299.9,107.8 300.1,108.9 300.4,108.0 300.6,109.4 300.9,109.8 301.1,109.7 301.4,109.9 301.6,108.7 301.9,109.1 302.1,108.8 302.4,108.8 302.6,109.9 302.9,108.5 303.1,108.8 303.4,109.6 303.6,109.4 303.9,109.2 304.1,109.0 304.4,108.2 304.6,109.5 304.9,109.0 305.1,110.3 305.4,109.9 305.6,107.9 305.9,110.2 306.1,110.9 306.4,110.3 306.6,110.5 306.9,110.5 307.1,111.2 307.4,111.3 307.6,114.0 307.9,115.7 308.1,112.6 308.4,112.5 308.6,109.4 308.9,111.2 309.1,111.8 309.4,111.9 309.6,110.7 309.9,113.8 310.1,112.2 310.4,112.4 310.6,110.6 310.9,110.9 311.1,111.7 311.4,113.7 311.6,115.4 311.9,113.7 312.1,113.3 312.4,112.8 312.6,112.8 312.9,111.7" fill="none" stroke="#f47e70" stroke-width="1.0" stroke-linejoin="round"/>
<polyline points="335.9,73.2 336.1,72.5 336.4,72.8 336.6,73.3 336.9,73.2 337.1,72.6 337.4,74.6 337.6,73.3 337.9,73.6 338.1,73.8 338.4,74.5 338.6,75.1 338.9,74.4 339.1,74.5 339.4,74.9 339.6,74.8 339.9,75.1 340.1,74.8 340.4,75.6 340.6,75.7 340.9,74.7 341.1,75.8 341.4,76.1 341.6,76.4 341.9,76.0 342.1,75.9 342.4,76.2 342.6,77.0 342.9,76.5 343.1,76.7 343.4,77.6 343.6,77.0 343.9,77.1 344.1,77.6 344.4,77.8 344.6,78.3 344.9,77.7 345.1,77.6 345.4,78.3 345.6,78.8 345.9,78.0 346.1,78.5 346.4,79.0 346.6,79.0 346.9,79.1 347.1,79.0 347.4,78.9 347.6,79.0 347.9,79.9 348.1,79.1 348.4,80.1 348.6,79.2 348.9,81.0 349.1,79.2 349.4,80.7 349.6,79.8 349.9,80.2 350.1,80.3 350.4,80.2 350.6,81.4 350.9,80.7 351.1,80.2 351.4,81.1 351.6,81.2 351.9,80.6 352.1,81.3 352.4,81.3 352.6,81.7 352.9,81.7 353.1,81.5 353.4,81.5 353.6,82.1 353.9,82.0 354.1,81.3 354.4,81.8 354.6,81.9 354.9,82.1 355.1,83.2 355.4,82.3 355.6,82.9 355.9,83.9 356.1,83.9 356.4,83.8 356.6,83.7 356.9,83.2 357.1,83.3 357.4,83.6 357.6,83.6 357.9,83.3 358.1,83.2 358.4,83.8 358.6,84.5 358.9,84.0 359.1,84.6 359.4,84.5 359.6,84.3 359.9,83.5 360.1,84.8 360.4,84.7 360.6,84.3 360.9,85.3 361.1,85.2 361.4,85.5 361.6,85.2 361.9,85.7 362.1,85.5 362.4,86.4 362.6,86.4 362.9,86.3 363.1,86.9 363.4,86.6 363.6,86.4 363.9,86.1 364.1,87.1 364.4,86.5 364.6,87.6 364.9,86.8 365.1,87.2 365.4,87.3 365.6,87.5 365.9,88.7 366.1,87.5 366.4,88.7 366.6,88.8 366.9,90.3 367.1,94.0 367.4,94.3 367.6,91.8 367.9,88.8 368.1,88.9 368.4,88.5 368.6,88.8 368.9,89.5 369.1,91.9 369.4,95.3 369.6,94.5 369.9,90.8 370.1,90.2 370.4,89.3 370.6,89.4 370.9,88.7 371.1,89.6 371.4,89.4 371.6,90.0 371.9,89.9 372.1,90.1 372.4,89.7 372.6,89.2 372.9,90.4 373.1,90.5 373.4,91.3 373.6,92.7 373.9,92.8 374.1,91.2 374.4,90.4 374.6,90.6 374.9,91.3 375.1,90.9 375.4,91.4 375.6,90.4 375.9,91.4 376.1,90.8 376.4,91.7 376.6,91.6 376.9,91.2 377.1,91.4 377.4,91.9 377.6,91.2 377.9,91.1 378.1,93.5 378.4,95.4 378.6,93.7 378.9,93.2 379.1,91.7 379.4,91.9 379.6,91.7 379.9,92.5 380.1,92.0 380.4,92.2 380.6,91.9 380.9,92.7 381.1,92.3 381.4,92.4 381.6,92.6 381.9,92.2 382.1,92.9 382.4,92.3 382.6,92.9 382.9,92.9 383.1,92.9 383.4,93.1 383.6,93.0 383.9,93.6 384.1,93.7 384.4,93.9 384.6,94.1 384.9,93.6 385.1,93.7 385.4,93.6 385.6,93.1 385.9,94.6 386.1,93.8 386.4,93.8 386.6,94.3 386.9,93.4 387.1,94.1 387.4,94.5 387.6,94.3 387.9,94.5 388.1,94.4 388.4,94.5 388.6,94.7 388.9,94.9 389.1,94.5 389.4,95.2 389.6,95.4 389.9,95.2 390.1,95.4 390.4,95.8 390.6,96.4 390.9,97.1 391.1,98.4 391.4,100.8 391.6,100.7 391.9,98.8 392.1,97.2 392.4,97.2 392.6,98.0 392.9,99.0 393.1,101.1 393.4,101.5 393.6,99.4 393.9,98.3 394.1,98.0 394.4,98.0 394.6,98.9 394.9,98.7 395.1,97.5 395.4,98.4 395.6,98.9 395.9,99.1 396.1,98.9 396.4,99.3 396.6,99.4 396.9,99.5 397.1,100.1 397.4,100.0 397.6,99.9 397.9,100.2 398.1,100.5 398.4,100.3 398.6,101.5 398.9,104.2 399.1,107.7 399.4,108.2 399.6,108.6 399.9,104.2 400.1,102.8 400.4,101.3 400.6,102.1 400.9,101.9 401.1,102.0 401.4,102.0 401.6,102.2 401.9,102.7 402.1,102.2 402.4,102.5 402.6,102.6 402.9,102.2 403.1,103.0 403.4,103.1 403.6,103.0 403.9,102.8 404.1,103.3 404.4,103.5 404.6,103.8 404.9,104.2 405.1,104.7 405.4,106.9 405.6,106.8 405.9,105.8 406.1,105.1 406.4,105.3 406.6,105.0 406.9,105.3 407.1,105.1 407.4,105.1 407.6,105.4 407.9,105.0 408.1,105.3 408.4,105.6 408.6,105.4 408.9,104.8 409.1,105.9 409.4,106.9 409.6,109.1 409.9,108.3 410.1,107.6 410.4,107.5 410.6,105.6 410.9,106.5 411.1,106.5 411.4,106.1 411.6,106.9 411.9,106.7 412.1,106.1 412.4,107.0 412.6,107.0 412.9,108.3 413.1,108.7 413.4,109.1 413.6,109.6 413.9,109.4 414.1,107.6 414.4,107.6 414.6,108.1 414.9,108.2 415.1,108.4 415.4,107.8 415.6,108.6 415.9,108.2 416.1,108.4 416.4,109.3 416.6,109.2 416.9,111.8 417.1,115.0 417.4,117.3 417.6,115.4 417.9,112.2 418.1,110.4 418.4,109.4 418.6,110.4 418.9,110.1 419.1,110.3 419.4,110.4 419.6,109.9 419.9,110.2 420.1,110.4 420.4,110.5 420.6,111.2 420.9,111.4 421.1,112.1 421.4,111.6 421.6,111.6 421.9,111.0 422.1,110.8 422.4,111.2 422.6,111.2 422.9,111.0 423.1,111.4 423.4,111.8 423.6,111.8 423.9,112.3 424.1,112.8 424.4,114.7 424.6,118.6 424.9,120.2 425.1,118.4 425.4,115.6 425.6,113.5 425.9,112.1 426.1,112.8 426.4,113.5 426.6,113.1 426.9,113.5 427.1,112.5 427.4,113.4 427.6,112.5 427.9,120.8 428.1,119.1 428.4,119.4 428.6,118.0 428.9,117.8 429.1,117.3 429.4,116.8 429.6,115.9 429.9,116.6 430.1,115.9 430.4,116.9 430.6,115.7 430.9,115.8 431.1,115.5 431.4,116.3 431.6,116.1 431.9,115.7 432.1,115.9 432.4,115.0 432.6,115.0 432.9,115.9 433.1,115.0 433.4,115.2 433.6,114.6 433.9,115.1 434.1,115.4 434.4,115.2 434.6,114.6 434.9,115.5 435.1,115.3 435.4,114.2 435.6,114.7 435.9,115.0 436.1,115.0 436.4,115.2 436.6,115.6 436.9,115.1 437.1,115.1 437.4,115.7 437.6,124.1 437.9,122.4 438.1,122.4 438.4,120.4 438.6,121.2 438.9,120.3 439.1,119.5 439.4,119.3 439.6,119.3 439.9,119.6 440.1,119.2 440.4,118.8 440.6,118.5 440.9,118.8 441.1,119.1 441.4,121.1 441.6,121.6 441.9,120.4 442.1,119.3 442.4,118.5 442.6,117.6 442.9,118.5 443.1,118.0 443.4,118.1 443.6,117.6 443.9,117.8 444.1,117.7 444.4,118.4 444.6,117.3 444.9,118.1 445.1,117.7 445.4,117.9 445.6,117.4 445.9,116.9 446.1,117.9 446.4,117.4 446.6,117.7 446.9,126.7 447.1,124.7 447.4,124.3 447.6,123.7 447.9,123.4 448.1,122.9 448.4,122.5 448.6,121.8 448.9,122.1 449.1,121.3 449.4,121.1 449.6,120.7 449.9,120.3 450.1,120.6 450.4,120.6 450.6,120.6 450.9,121.2 451.1,120.4 451.4,120.4 451.6,119.7 451.9,120.0 452.1,120.1 452.4,120.2 452.6,119.9 452.9,120.1 453.1,119.5 453.4,120.3 453.6,120.3 453.9,119.4 454.1,119.2 454.4,119.5 454.6,119.8 454.9,119.4 455.1,119.8 455.4,120.0 455.6,120.0 455.9,120.1 456.1,119.0 456.4,118.8 456.6,119.7 456.9,128.2 457.1,127.1 457.4,126.1 457.6,125.6 457.9,125.4 458.1,124.1 458.4,123.7 458.6,124.3 458.9,123.8 459.1,122.7 459.4,122.4 459.6,123.1 459.9,123.1 460.1,123.5 460.4,122.8 460.6,122.7 460.9,122.3 461.1,122.3 461.4,122.0 461.6,122.6 461.9,122.3" fill="none" stroke="#000" stroke-width="1.4" stroke-linejoin="round"/>
<polyline points="335.9,80.1 336.1,80.0 336.4,79.9 336.6,80.0 336.9,80.1 337.1,80.6 337.4,81.1 337.6,80.3 337.9,79.4 338.1,80.4 338.4,81.3 338.6,80.8 338.9,80.3 339.1,80.5 339.4,80.7 339.6,80.6 339.9,80.4 340.1,81.2 340.4,82.0 340.6,81.9 340.9,81.9 341.1,81.4 341.4,81.0 341.6,80.8 341.9,80.5 342.1,82.1 342.4,83.6 342.6,82.8 342.9,82.0 343.1,81.0 343.4,80.0 343.6,80.7 343.9,81.5 344.1,81.5 344.4,81.5 344.6,82.1 344.9,82.6 345.1,82.1 345.4,81.5 345.6,81.3 345.9,81.0 346.1,82.4 346.4,83.8 346.6,81.8 346.9,79.8 347.1,80.2 347.4,80.6 347.6,81.3 347.9,81.9 348.1,82.0 348.4,82.0 348.6,82.4 348.9,82.7 349.1,82.8 349.4,83.0 349.6,83.6 349.9,84.3 350.1,82.9 350.4,81.4 350.6,84.3 350.9,87.3 351.1,86.3 351.4,85.0 351.6,83.9 351.9,82.9 352.1,83.0 352.4,83.2 352.6,83.3 352.9,83.4 353.1,82.5 353.4,81.5 353.6,83.1 353.9,84.8 354.1,84.0 354.4,83.1 354.6,83.5 354.9,84.0 355.1,83.7 355.4,83.5 355.6,83.8 355.9,84.2 356.1,84.6 356.4,85.1 356.6,84.4 356.9,83.7 357.1,85.5 357.4,87.2 357.6,85.7 357.9,84.2 358.1,84.7 358.4,85.3 358.6,85.6 358.9,86.0 359.1,86.5 359.4,86.9 359.6,86.8 359.9,86.7 360.1,86.7 360.4,86.7 360.6,87.0 360.9,87.4 361.1,87.4 361.4,87.4 361.6,86.8 361.9,86.1 362.1,87.1 362.4,88.1 362.6,87.5 362.9,86.9 363.1,86.7 363.4,86.5 363.6,87.2 363.9,87.9 364.1,87.8 364.4,87.7 364.6,88.2 364.9,88.7 365.1,88.8 365.4,88.9 365.6,88.5 365.9,88.1 366.1,88.8 366.4,89.4 366.6,89.6 366.9,90.6 367.1,91.6 367.4,91.1 367.6,91.2 367.9,91.6 368.1,90.4 368.4,89.6 368.6,89.6 368.9,90.2 369.1,92.6 369.4,95.4 369.6,94.0 369.9,90.5 370.1,89.3 370.4,89.3 370.6,90.2 370.9,91.3 371.1,90.0 371.4,88.6 371.6,89.0 371.9,89.5 372.1,90.8 372.4,92.1 372.6,91.6 372.9,91.1 373.1,90.4 373.4,90.0 373.6,91.1 373.9,91.7 374.1,91.7 374.4,91.7 374.6,90.9 374.9,90.3 375.1,91.1 375.4,91.7 375.6,91.8 375.9,91.7 376.1,91.4 376.4,91.3 376.6,92.0 376.9,92.8 377.1,92.2 377.4,91.5 377.6,91.5 377.9,91.5 378.1,92.1 378.4,92.8 378.6,92.5 378.9,91.8 379.1,91.3 379.4,91.1 379.6,91.4 379.9,91.8 380.1,91.6 380.4,91.5 380.6,92.7 380.9,94.0 381.1,94.2 381.4,94.4 381.6,93.2 381.9,92.1 382.1,91.0 382.4,89.9 382.6,91.1 382.9,92.3 383.1,92.9 383.4,93.4 383.6,92.9 383.9,92.3 384.1,93.0 384.4,93.7 384.6,93.7 384.9,93.7 385.1,93.2 385.4,92.7 385.6,93.0 385.9,93.4 386.1,93.3 386.4,93.0 386.6,93.1 386.9,93.3 387.1,93.0 387.4,92.7 387.6,93.1 387.9,93.4 388.1,94.3 388.4,95.3 388.6,94.6 388.9,93.8 389.1,94.5 389.4,95.2 389.6,95.0 389.9,94.7 390.1,94.0 390.4,93.3 390.6,94.0 390.9,95.0 391.1,95.6 391.4,96.4 391.6,96.1 391.9,94.9 392.1,94.6 392.4,94.9 392.6,95.8 392.9,96.9 393.1,97.5 393.4,97.6 393.6,96.5 393.9,95.6 394.1,95.4 394.4,95.3 394.6,95.7 394.9,96.1 395.1,96.3 395.4,96.6 395.6,97.2 395.9,97.7 396.1,96.9 396.4,96.2 396.6,96.1 396.9,96.0 397.1,96.5 397.4,96.9 397.6,96.2 397.9,95.5 398.1,96.4 398.4,97.5 398.6,99.0 398.9,102.9 399.1,107.4 399.4,109.5 399.6,107.9 399.9,103.7 400.1,99.7 400.4,98.0 400.6,98.0 400.9,98.3 401.1,98.4 401.4,98.5 401.6,98.6 401.9,98.8 402.1,99.0 402.4,99.2 402.6,99.1 402.9,99.0 403.1,98.5 403.4,98.1 403.6,99.4 403.9,100.6 404.1,100.4 404.4,100.1 404.6,100.5 404.9,101.1 405.1,101.6 405.4,102.3 405.6,102.7 405.9,102.5 406.1,101.7 406.4,101.5 406.6,102.0 406.9,102.6 407.1,103.7 407.4,104.4 407.6,103.6 407.9,103.3 408.1,103.6 408.4,104.3 408.6,104.8 408.9,104.4 409.1,104.0 409.4,104.5 409.6,103.9 409.9,102.6 410.1,102.7 410.4,102.8 410.6,103.0 410.9,103.4 411.1,103.6 411.4,103.9 411.6,103.4 411.9,103.0 412.1,103.4 412.4,103.8 412.6,103.4 412.9,103.1 413.1,103.9 413.4,104.7 413.6,104.0 413.9,103.0 414.1,103.3 414.4,103.9 414.6,104.8 414.9,105.7 415.1,104.7 415.4,103.6 415.6,104.4 415.9,105.2 416.1,104.6 416.4,104.0 416.6,104.7 416.9,106.6 417.1,110.3 417.4,112.6 417.6,109.8 417.9,106.3 418.1,105.4 418.4,105.5 418.6,105.4 418.9,105.3 419.1,104.5 419.4,103.6 419.6,104.7 419.9,105.8 420.1,106.2 420.4,106.7 420.6,105.9 420.9,105.2 421.1,105.3 421.4,105.5 421.6,105.7 421.9,106.0 422.1,106.6 422.4,107.3 422.6,106.8 422.9,106.4 423.1,107.2 423.4,108.0 423.6,108.0 423.9,108.1 424.1,107.4 424.4,107.5 424.6,109.5 424.9,110.8 425.1,110.4 425.4,109.3 425.6,108.3 425.9,108.6 426.1,110.4 426.4,111.3 426.6,110.6 426.9,110.0 427.1,109.1 427.4,108.4 427.6,109.2 427.9,114.4 428.1,113.8 428.4,113.2 428.6,112.6 428.9,112.1 429.1,112.2 429.4,112.5 429.6,111.7 429.9,111.1 430.1,111.3 430.4,111.5 430.6,111.1 430.9,110.6 431.1,110.5 431.4,110.4 431.6,111.3 431.9,112.3 432.1,112.3 432.4,112.4 432.6,111.8 432.9,111.2 433.1,111.5 433.4,111.9 433.6,111.3 433.9,110.8 434.1,110.6 434.4,110.5 434.6,111.0 434.9,111.5 435.1,111.9 435.4,112.3 435.6,111.7 435.9,111.1 436.1,111.2 436.4,111.2 436.6,111.2 436.9,111.1 437.1,110.8 437.4,110.4 437.6,115.7 437.9,114.7 438.1,115.1 438.4,115.5 438.6,114.6 438.9,113.8 439.1,114.8 439.4,115.8 439.6,115.1 439.9,114.4 440.1,114.5 440.4,114.6 440.6,114.6 440.9,114.8 441.1,114.5 441.4,114.7 441.6,115.0 441.9,114.2 442.1,114.3 442.4,115.0 442.6,114.6 442.9,114.2 443.1,114.0 443.4,113.8 443.6,114.1 443.9,114.3 444.1,113.1 444.4,112.0 444.6,113.2 444.9,114.4 445.1,114.1 445.4,113.7 445.6,113.8 445.9,113.9 446.1,114.0 446.4,114.1 446.6,114.6 446.9,121.1 447.1,120.0 447.4,118.9 447.6,118.2 447.9,117.5 448.1,116.9 448.4,116.3 448.6,117.5 448.9,118.7 449.1,116.7 449.4,114.8 449.6,115.4 449.9,116.0 450.1,115.9 450.4,115.8 450.6,115.5 450.9,115.1 451.1,115.2 451.4,115.3 451.6,115.4 451.9,115.6 452.1,115.1 452.4,114.6 452.6,114.9 452.9,115.2 453.1,115.5 453.4,115.7 453.6,115.0 453.9,114.2 454.1,114.8 454.4,115.5 454.6,115.6 454.9,115.7 455.1,115.6 455.4,115.4 455.6,115.5 455.9,115.5 456.1,115.5 456.4,115.5 456.6,115.4 456.9,121.3 457.1,120.6 457.4,120.1 457.6,120.6 457.9,121.5 458.1,121.2 458.4,120.3 458.6,119.6 458.9,119.3 459.1,119.7 459.4,120.2 459.6,120.0 459.9,119.8 460.1,119.2 460.4,118.5 460.6,119.4 460.9,120.2 461.1,119.5 461.4,118.8 461.6,119.3 461.9,119.7" fill="none" stroke="#f47e70" stroke-width="1.1" stroke-linejoin="round"/>
<polyline points="38.9,104.2 39.1,104.0 39.4,103.5 39.6,102.9 39.9,104.0 40.1,104.5 40.4,104.1 40.6,103.1 40.9,104.3 41.1,103.4 41.4,102.6 41.6,103.9 41.9,102.4 42.1,103.9 42.4,104.4 42.6,104.4 42.9,105.3 43.1,104.3 43.4,103.5 43.6,104.3 43.9,104.3 44.1,103.8 44.4,103.5 44.6,105.5 44.9,108.3 45.1,112.0 45.4,112.0 45.6,108.7 45.9,105.9 46.1,106.3 46.4,106.8 46.6,108.0 46.9,105.4 47.1,104.9 47.4,103.7 47.6,103.9 47.9,104.9 48.1,104.0 48.4,105.2 48.6,105.3 48.9,104.8 49.1,104.4 49.4,104.2 49.6,104.9 49.9,107.4 50.1,110.5 50.4,112.9 50.6,110.5 50.9,107.8 51.1,104.6 51.4,105.3 51.6,105.5 51.9,104.6 52.1,105.9 52.4,106.0 52.6,105.7 52.9,104.7 53.1,105.6 53.4,104.6 53.6,105.2 53.9,104.9 54.1,105.6 54.4,105.2 54.6,105.8 54.9,106.2 55.1,105.8 55.4,108.0 55.6,110.1 55.9,111.8 56.1,110.3 56.4,107.5 56.6,106.2 56.9,106.6 57.1,106.6 57.4,106.2 57.6,106.6 57.9,106.8 58.1,106.7 58.4,105.7 58.6,108.8 58.9,115.3 59.1,122.0 59.4,122.9 59.6,116.9 59.9,111.6 60.1,108.7 60.4,108.0 60.6,107.0 60.9,106.9 61.1,107.2 61.4,107.6 61.6,107.1 61.9,108.1 62.1,110.1 62.4,113.2 62.6,115.1 62.9,112.8 63.1,109.5 63.4,107.8 63.6,107.4 63.9,106.9 64.2,107.5 64.4,108.4 64.7,107.8 64.9,108.9 65.2,111.1 65.4,110.7 65.7,109.5 65.9,107.7 66.2,108.4 66.4,108.7 66.7,108.0 66.9,108.6 67.2,108.6 67.4,106.9 67.7,109.4 67.9,109.9 68.2,115.4 68.4,120.1 68.7,119.2 68.9,114.1 69.2,110.1 69.4,108.7 69.7,108.5 69.9,108.4 70.2,108.7 70.4,108.9 70.7,108.7 70.9,109.0 71.2,108.5 71.4,109.2 71.7,110.8 71.9,114.6 72.2,116.2 72.4,115.8 72.7,111.8 72.9,108.9 73.2,109.6 73.4,109.8 73.7,110.2 73.9,110.2 74.2,109.9 74.4,109.4 74.7,110.1 74.9,110.5 75.2,113.5 75.4,116.1 75.7,116.0 75.9,112.5 76.2,109.8 76.4,109.0 76.7,109.2 76.9,110.0 77.2,109.7 77.4,109.7 77.7,109.5 77.9,109.7 78.2,110.0 78.4,109.5 78.7,109.8 78.9,109.6 79.2,109.5 79.4,109.8 79.7,109.7 79.9,109.9 80.2,109.3 80.4,109.3 80.7,109.4 80.9,109.4 81.2,110.5 81.4,109.5 81.7,110.1 81.9,110.3 82.2,110.7 82.4,109.9 82.7,109.7 82.9,110.1 83.2,111.0 83.4,110.0 83.7,110.6 83.9,110.6 84.2,109.6 84.4,110.8 84.7,110.8 84.9,110.6 85.2,113.3 85.4,113.7 85.7,111.9 85.9,110.9 86.2,110.8 86.4,110.6 86.7,110.0 86.9,110.1 87.2,111.4 87.4,113.3 87.7,114.7 87.9,112.3 88.2,110.9 88.4,110.2 88.7,111.2 88.9,111.4 89.2,110.9 89.4,111.1 89.7,111.0 89.9,110.3 90.2,110.6 90.4,111.3 90.7,111.2 90.9,109.9 91.2,110.6 91.4,111.7 91.7,112.6 91.9,114.3 92.2,113.3 92.4,112.3 92.7,110.6 92.9,111.1 93.2,112.0 93.4,111.5 93.7,112.0 93.9,111.6 94.2,112.5 94.4,113.1 94.7,114.1 94.9,113.8 95.2,112.6 95.4,111.5 95.7,112.3 95.9,112.9 96.2,114.4 96.4,113.4 96.7,113.5 96.9,113.9 97.2,115.3 97.4,117.6 97.7,116.7 97.9,115.4 98.2,114.0 98.4,112.2 98.7,111.0 98.9,111.9 99.2,113.4 99.4,112.3 99.7,111.9 99.9,112.4 100.2,113.3 100.4,112.5 100.7,112.2 100.9,113.7 101.2,112.9 101.4,113.3 101.7,112.2 101.9,113.8 102.2,113.2 102.4,114.0 102.7,114.2 102.9,114.9 103.2,117.2 103.4,118.5 103.7,118.8 103.9,115.7 104.2,114.9 104.4,114.5 104.7,113.5 104.9,113.9 105.2,115.0 105.4,114.2 105.7,113.8 105.9,114.6 106.2,114.7 106.4,116.9 106.7,117.4 106.9,118.1 107.2,117.7 107.4,117.0 107.7,115.7 107.9,115.4 108.2,114.9 108.4,114.9 108.7,114.9 108.9,114.9 109.2,115.6 109.4,115.0 109.7,115.8 109.9,114.6 110.2,114.4 110.4,116.9 110.7,115.0 110.9,116.1 111.2,115.8 111.4,116.3 111.7,117.1 111.9,116.1 112.2,116.4 112.4,115.9 112.7,116.6 112.9,116.3 113.2,119.1 113.4,119.3 113.7,117.9 113.9,117.0 114.2,116.4 114.4,117.0 114.7,115.6 114.9,116.0 115.2,116.8 115.4,116.2 115.7,116.5 115.9,116.8 116.2,116.1 116.4,116.8 116.7,116.0 116.9,116.3 117.2,117.1 117.4,116.4 117.7,116.3 117.9,116.2 118.2,116.7 118.4,116.6 118.7,116.8 118.9,117.1 119.2,117.7 119.4,116.7 119.7,117.5 119.9,117.0 120.2,117.1 120.4,118.1 120.7,117.4 120.9,118.0 121.2,116.6 121.4,117.3 121.7,118.4 121.9,120.4 122.2,123.0 122.4,120.6 122.7,118.8 122.9,117.6 123.2,117.9 123.4,116.5 123.7,116.4 123.9,117.2 124.2,117.9 124.4,117.7 124.7,117.5 124.9,117.4 125.2,117.6 125.4,117.9 125.7,117.2 125.9,116.9 126.2,117.7 126.4,117.1 126.7,118.5 126.9,117.9 127.2,119.8 127.4,121.9 127.7,123.8 127.9,121.1 128.2,118.6 128.4,118.5 128.7,118.8 128.9,119.4 129.2,118.7 129.4,118.7 129.7,118.2 129.9,117.7 130.2,118.4 130.4,117.8 130.7,117.7 130.9,117.7 131.2,118.3 131.4,117.5 131.7,117.7 131.9,119.7 132.2,120.7 132.4,120.3 132.7,119.3 132.9,119.3 133.2,118.3 133.4,118.0 133.7,117.6 133.9,117.9 134.2,117.7 134.4,117.6 134.7,118.3 134.9,119.0 135.2,118.6 135.4,118.5 135.7,118.2 135.9,118.4 136.2,118.4 136.4,118.1 136.7,119.4 136.9,119.1 137.2,119.1 137.4,118.3 137.7,119.5 137.9,119.3 138.2,118.2 138.4,118.1 138.7,118.2 138.9,119.1 139.2,119.4 139.4,118.5 139.7,118.1 139.9,118.3 140.2,119.1 140.4,118.9 140.7,118.7 140.9,118.5 141.2,118.9 141.4,122.5 141.7,129.0 141.9,135.0 142.2,132.4 142.4,126.3 142.7,120.8 142.9,119.9 143.2,122.2 143.4,124.1 143.7,124.0 143.9,123.6 144.2,120.1 144.4,119.4 144.7,118.4 144.9,119.1 145.2,119.6 145.4,120.1 145.7,120.2 145.9,119.7 146.2,120.2 146.4,118.7 146.7,120.0 146.9,119.4 147.2,119.6 147.4,119.5 147.7,119.4 147.9,119.9 148.2,119.4 148.4,119.8 148.7,119.8 148.9,119.9 149.2,120.5 149.4,120.7 149.7,119.1 149.9,120.4 150.2,119.5 150.4,119.9 150.7,120.5 150.9,119.1 151.2,120.3 151.4,119.9 151.7,119.9 151.9,120.1 152.2,119.8 152.4,119.9 152.7,121.5 152.9,122.6 153.2,123.3 153.4,121.1 153.7,121.0 153.9,120.4 154.2,122.6 154.4,123.9 154.7,122.9 154.9,121.0 155.2,121.8 155.4,119.5 155.7,120.9 155.9,120.0 156.2,119.9 156.4,119.8 156.7,119.9 156.9,120.1 157.2,120.6 157.4,121.6 157.7,122.5 157.9,123.4 158.2,123.0 158.4,121.8 158.7,122.4 158.9,120.1 159.2,121.7 159.4,121.1 159.7,120.9 159.9,122.5 160.2,121.2 160.4,120.6 160.7,121.2 160.9,121.6 161.2,121.5 161.4,121.3 161.7,120.9 161.9,120.6 162.2,121.3 162.4,121.6 162.7,121.0 162.9,120.7 163.2,120.7 163.4,121.3 163.7,123.3 163.9,123.7 164.2,124.0 164.4,121.3 164.7,121.1" fill="none" stroke="#000" stroke-width="1.15" stroke-linejoin="round"/>
<polyline points="38.9,102.9 39.1,102.8 39.4,104.3 39.6,104.2 39.9,104.0 40.1,103.6 40.4,103.4 40.6,104.0 40.9,103.8 41.1,103.4 41.4,102.7 41.6,102.3 41.9,103.0 42.1,103.7 42.4,104.3 42.6,103.6 42.9,104.3 43.1,104.6 43.4,105.3 43.6,104.1 43.9,104.8 44.1,104.2 44.4,103.4 44.6,103.2 44.9,105.9 45.1,108.3 45.4,109.6 45.6,106.2 45.9,105.3 46.1,104.9 46.4,104.6 46.6,106.5 46.9,105.3 47.1,104.0 47.4,105.5 47.6,104.7 47.9,106.0 48.1,105.6 48.4,104.8 48.6,104.6 48.9,105.0 49.1,104.3 49.4,103.9 49.6,106.2 49.9,106.7 50.1,108.1 50.4,109.8 50.6,107.8 50.9,106.7 51.1,106.4 51.4,104.7 51.6,106.0 51.9,105.7 52.1,105.0 52.4,105.3 52.6,105.1 52.9,105.1 53.1,104.3 53.4,106.3 53.6,105.1 53.9,105.7 54.1,105.6 54.4,106.0 54.6,106.0 54.9,105.2 55.1,106.6 55.4,108.3 55.6,111.6 55.9,114.6 56.1,112.4 56.4,108.0 56.6,107.2 56.9,107.9 57.1,108.7 57.4,107.8 57.6,107.3 57.9,105.6 58.1,105.5 58.4,106.7 58.6,107.2 58.9,111.0 59.1,113.2 59.4,113.9 59.6,110.7 59.9,106.9 60.1,107.2 60.4,107.2 60.6,107.3 60.9,106.8 61.1,107.3 61.4,106.9 61.6,107.1 61.9,107.8 62.1,111.4 62.4,115.8 62.6,118.4 62.9,114.2 63.1,109.5 63.4,107.9 63.6,107.5 63.9,106.6 64.2,106.9 64.4,107.3 64.7,108.1 64.9,109.2 65.2,110.8 65.4,110.5 65.7,108.9 65.9,107.5 66.2,108.1 66.4,107.8 66.7,108.3 66.9,108.6 67.2,109.2 67.4,107.7 67.7,108.8 67.9,108.5 68.2,112.3 68.4,113.5 68.7,113.8 68.9,110.8 69.2,110.3 69.4,109.1 69.7,109.2 69.9,108.6 70.2,109.0 70.4,108.2 70.7,108.6 70.9,109.8 71.2,108.5 71.4,110.5 71.7,112.0 71.9,112.9 72.2,113.6 72.4,112.4 72.7,111.5 72.9,109.9 73.2,109.7 73.4,108.5 73.7,109.4 73.9,109.2 74.2,109.4 74.4,108.2 74.7,108.7 74.9,109.7 75.2,110.7 75.4,113.5 75.7,114.0 75.9,111.2 76.2,110.4 76.4,109.8 76.7,109.6 76.9,109.0 77.2,110.0 77.4,108.8 77.7,109.2 77.9,109.2 78.2,108.9 78.4,109.2 78.7,109.5 78.9,110.2 79.2,109.6 79.4,110.4 79.7,109.9 79.9,109.8 80.2,110.2 80.4,110.0 80.7,110.6 80.9,110.0 81.2,109.9 81.4,110.8 81.7,109.4 81.9,109.4 82.2,109.9 82.4,110.1 82.7,109.8 82.9,110.5 83.2,110.2 83.4,110.2 83.7,109.4 83.9,111.0 84.2,110.2 84.4,109.7 84.7,110.9 84.9,110.2 85.2,109.8 85.4,109.6 85.7,110.3 85.9,110.0 86.2,109.8 86.4,110.4 86.7,110.4 86.9,110.3 87.2,111.6 87.4,112.8 87.7,113.2 87.9,111.5 88.2,110.6 88.4,109.7 88.7,110.4 88.9,110.1 89.2,110.7 89.4,110.5 89.7,111.0 89.9,110.7 90.2,111.0 90.4,111.1 90.7,109.5 90.9,110.2 91.2,110.9 91.4,110.8 91.7,110.9 91.9,110.6 92.2,111.3 92.4,110.7 92.7,110.9 92.9,110.7 93.2,111.5 93.4,111.6 93.7,111.2 93.9,111.5 94.2,110.2 94.4,111.9 94.7,110.5 94.9,111.7 95.2,111.8 95.4,113.7 95.7,113.2 95.9,113.5 96.2,111.3 96.4,110.7 96.7,113.3 96.9,114.5 97.2,116.6 97.4,117.6 97.7,117.1 97.9,116.8 98.2,114.4 98.4,112.9 98.7,112.2 98.9,112.3 99.2,112.6 99.4,111.5 99.7,112.0 99.9,113.4 100.2,113.3 100.4,112.8 100.7,113.1 100.9,113.4 101.2,113.7 101.4,112.9 101.7,112.7 101.9,113.7 102.2,113.0 102.4,112.8 102.7,113.9 102.9,114.5 103.2,116.4 103.4,117.5 103.7,117.0 103.9,115.0 104.2,114.3 104.4,113.8 104.7,114.5 104.9,114.6 105.2,114.3 105.4,114.9 105.7,113.9 105.9,114.0 106.2,115.4 106.4,114.6 106.7,114.2 106.9,114.9 107.2,114.7 107.4,115.5 107.7,115.2 107.9,114.5 108.2,115.8 108.4,114.6 108.7,116.3 108.9,115.5 109.2,114.2 109.4,116.6 109.7,115.0 109.9,114.2 110.2,116.7 110.4,115.2 110.7,115.6 110.9,115.7 111.2,115.9 111.4,116.3 111.7,115.0 111.9,117.5 112.2,116.5 112.4,116.2 112.7,116.8 112.9,117.2 113.2,118.9 113.4,119.7 113.7,119.0 113.9,117.4 114.2,116.5 114.4,116.6 114.7,116.3 114.9,116.8 115.2,115.7 115.4,115.8 115.7,117.5 115.9,116.9 116.2,118.5 116.4,118.3 116.7,115.9 116.9,116.9 117.2,117.6 117.4,116.3 117.7,117.5 117.9,116.0 118.2,115.4 118.4,116.1 118.7,116.2 118.9,117.2 119.2,116.6 119.4,116.4 119.7,116.4 119.9,117.6 120.2,115.7 120.4,116.0 120.7,116.5 120.9,116.8 121.2,117.3 121.4,117.6 121.7,117.1 121.9,119.1 122.2,119.3 122.4,120.9 122.7,118.0 122.9,116.5 123.2,117.7 123.4,117.2 123.7,117.8 123.9,117.7 124.2,116.3 124.4,117.7 124.7,117.1 124.9,117.1 125.2,117.4 125.4,117.4 125.7,117.6 125.9,118.2 126.2,117.9 126.4,118.2 126.7,118.8 126.9,117.9 127.2,119.1 127.4,120.4 127.7,121.6 127.9,119.3 128.2,118.6 128.4,118.6 128.7,118.2 128.9,118.4 129.2,118.0 129.4,118.4 129.7,118.1 129.9,118.7 130.2,118.2 130.4,118.0 130.7,118.4 130.9,118.1 131.2,119.9 131.4,118.8 131.7,118.9 131.9,119.6 132.2,121.0 132.4,119.9 132.7,119.1 132.9,118.5 133.2,118.5 133.4,118.5 133.7,118.2 133.9,119.0 134.2,118.2 134.4,119.1 134.7,119.5 134.9,118.6 135.2,118.7 135.4,119.6 135.7,118.7 135.9,119.4 136.2,119.8 136.4,120.1 136.7,119.5 136.9,119.8 137.2,119.3 137.4,119.1 137.7,119.1 137.9,118.7 138.2,119.7 138.4,119.7 138.7,120.3 138.9,119.1 139.2,120.5 139.4,119.6 139.7,120.3 139.9,118.7 140.2,119.8 140.4,120.0 140.7,118.9 140.9,120.0 141.2,120.5 141.4,120.1 141.7,122.7 141.9,123.9 142.2,124.1 142.4,121.7 142.7,120.1 142.9,121.0 143.2,124.5 143.4,128.0 143.7,131.2 143.9,127.4 144.2,122.8 144.4,119.2 144.7,119.7 144.9,120.1 145.2,120.0 145.4,120.5 145.7,119.9 145.9,120.0 146.2,120.9 146.4,120.8 146.7,120.4 146.9,120.2 147.2,119.6 147.4,120.9 147.7,120.4 147.9,121.6 148.2,120.4 148.4,120.8 148.7,120.5 148.9,121.1 149.2,122.4 149.4,120.8 149.7,120.5 149.9,121.3 150.2,121.2 150.4,120.2 150.7,121.7 150.9,120.6 151.2,121.8 151.4,121.4 151.7,121.0 151.9,121.6 152.2,121.1 152.4,121.0 152.7,122.2 152.9,123.4 153.2,122.6 153.4,122.4 153.7,121.2 153.9,122.1 154.2,121.9 154.4,122.2 154.7,121.3 154.9,122.5 155.2,120.9 155.4,121.6 155.7,121.1 155.9,122.8 156.2,121.9 156.4,122.1 156.7,122.4 156.9,121.9 157.2,122.6 157.4,121.7 157.7,123.8 157.9,124.5 158.2,124.1 158.4,122.1 158.7,121.6 158.9,121.8 159.2,122.2 159.4,122.9 159.7,122.4 159.9,122.5 160.2,122.6 160.4,122.3 160.7,122.3 160.9,122.6 161.2,123.3 161.4,122.9 161.7,123.1 161.9,123.7 162.2,122.1 162.4,122.6 162.7,123.7 162.9,124.3 163.2,124.5 163.4,124.0 163.7,125.1 163.9,125.4 164.2,125.3 164.4,123.5 164.7,123.6" fill="none" stroke="#f47e70" stroke-width="1.1" stroke-linejoin="round"/>
<polyline points="187.4,107.0 187.7,107.7 187.9,107.6 188.2,109.1 188.4,111.3 188.7,113.3 188.9,117.0 189.2,119.7 189.4,123.5 189.7,121.8 189.9,119.2 190.2,116.5 190.4,114.2 190.7,113.4 190.9,110.3 191.2,106.1 191.4,106.6 191.7,106.4 191.9,106.4 192.2,106.0 192.4,105.0 192.7,106.1 192.9,105.2 193.2,103.5 193.4,105.0 193.7,105.1 193.9,107.1 194.2,107.8 194.4,106.8 194.7,109.8 194.9,112.2 195.2,113.7 195.4,116.3 195.7,120.9 195.9,122.6 196.2,121.7 196.4,117.9 196.7,117.8 196.9,114.2 197.2,110.9 197.4,109.0 197.7,106.5 197.9,107.4 198.2,107.0 198.4,107.3 198.7,108.6 198.9,107.4 199.2,105.4 199.4,106.9 199.7,106.5 199.9,104.6 200.2,105.4 200.4,106.4 200.7,105.4 200.9,107.6 201.2,108.7 201.4,108.7 201.7,111.1 201.9,111.6 202.2,107.1 202.4,105.5 202.7,105.8 202.9,104.8 203.2,104.8 203.4,106.4 203.7,105.8 203.9,106.6 204.2,106.9 204.4,105.8 204.7,106.3 204.9,106.1 205.2,105.8 205.4,106.4 205.7,109.8 205.9,112.0 206.2,112.1 206.4,110.0 206.7,108.1 206.9,105.5 207.2,105.7 207.4,106.3 207.7,106.7 207.9,107.6 208.2,105.8 208.4,106.5 208.7,107.4 208.9,108.5 209.2,108.8 209.4,106.7 209.7,107.6 209.9,107.1 210.2,108.6 210.4,108.1 210.7,107.4 210.9,107.3 211.2,108.4 211.4,109.2 211.7,107.5 211.9,107.8 212.2,108.2 212.4,108.0 212.7,108.2 212.9,106.9 213.2,107.3 213.4,105.8 213.7,108.0 213.9,109.0 214.2,105.9 214.4,107.4 214.7,109.0 214.9,108.1 215.2,106.5 215.4,109.6 215.7,107.0 215.9,109.7 216.2,107.8 216.4,107.7 216.7,108.5 216.9,108.5 217.2,109.2 217.4,109.1 217.7,108.5 217.9,110.0 218.2,109.5 218.4,109.1 218.7,109.0 218.9,108.8 219.2,108.8 219.4,109.8 219.7,110.2 219.9,110.8 220.2,112.4 220.4,110.4 220.7,110.1 220.9,110.1 221.2,108.0 221.4,109.0 221.7,111.4 221.9,109.9 222.2,113.2 222.4,111.3 222.7,112.1 222.9,109.3 223.2,109.0 223.4,109.0 223.7,108.9 223.9,110.9 224.2,111.7 224.4,114.0 224.7,117.1 224.9,123.1 225.2,125.9 225.4,125.6 225.7,121.3 225.9,118.6 226.2,114.6 226.4,111.5 226.7,111.0 226.9,110.6 227.2,109.5 227.4,110.5 227.7,110.7 227.9,111.0 228.2,110.1 228.4,109.6 228.7,110.1 228.9,111.7 229.2,113.5 229.4,112.9 229.7,115.7 229.9,120.5 230.2,122.4 230.4,121.7 230.7,118.9 230.9,113.8 231.2,112.8 231.4,111.8 231.7,112.1 231.9,112.3 232.2,111.5 232.4,112.8 232.7,110.1 232.9,110.9 233.2,110.9 233.4,111.2 233.7,111.8 233.9,110.5 234.2,112.6 234.4,112.2 234.7,111.5 234.9,112.2 235.2,111.6 235.4,110.7 235.7,112.9 235.9,112.6 236.2,111.9 236.4,110.3 236.7,110.9 236.9,113.2 237.2,112.2 237.4,112.3 237.7,111.6 237.9,112.8 238.2,113.3 238.4,112.6 238.7,111.4 238.9,112.1 239.2,111.0 239.4,111.6 239.7,112.6 239.9,111.6 240.2,112.4 240.4,114.7 240.7,113.5 240.9,114.5 241.2,114.9 241.4,117.8 241.7,120.4 241.9,117.0 242.2,112.1 242.4,111.9 242.7,112.9 242.9,115.1 243.2,112.8 243.4,113.0 243.7,113.5 243.9,113.2 244.2,112.6 244.4,114.7 244.7,114.4 244.9,110.7 245.2,114.2 245.4,113.8 245.7,114.3 245.9,113.5 246.2,114.3 246.4,115.4 246.7,115.3 246.9,115.4 247.2,114.7 247.4,114.6 247.7,114.7 247.9,112.7 248.2,116.1 248.4,114.2 248.7,114.3 248.9,114.2 249.2,114.6 249.4,112.1 249.7,114.5 249.9,113.1 250.2,113.4 250.4,112.6 250.7,112.8 250.9,115.1 251.2,114.1 251.4,114.5 251.7,114.5 251.9,113.6 252.2,114.1 252.4,113.6 252.7,114.6 252.9,112.7 253.2,114.7 253.4,116.5 253.7,118.3 253.9,120.1 254.2,119.2 254.4,115.9 254.7,116.6 254.9,115.9 255.2,115.7 255.4,114.2 255.7,115.9 255.9,117.0 256.1,116.5 256.4,116.2 256.6,117.8 256.9,117.5 257.1,117.0 257.4,117.0 257.6,116.4 257.9,116.8 258.1,118.3 258.4,117.7 258.6,116.8 258.9,117.2 259.1,115.8 259.4,117.0 259.6,114.9 259.9,118.6 260.1,118.4 260.4,120.6 260.6,115.5 260.9,115.4 261.1,118.2 261.4,117.0 261.6,117.2 261.9,117.1 262.1,117.2 262.4,117.8 262.6,116.6 262.9,117.9 263.1,120.0 263.4,120.2 263.6,121.1 263.9,123.6 264.1,126.5 264.4,125.3 264.6,122.6 264.9,120.3 265.1,119.3 265.4,119.6 265.6,118.1 265.9,119.1 266.1,120.6 266.4,118.1 266.6,119.9 266.9,120.1 267.1,119.3 267.4,118.5 267.6,120.5 267.9,121.7 268.1,120.2 268.4,119.4 268.6,119.4 268.9,120.9 269.1,120.5 269.4,119.3 269.6,118.4 269.9,118.3 270.1,119.3 270.4,119.3 270.6,119.9 270.9,118.6 271.1,119.7 271.4,120.5 271.6,118.5 271.9,122.6 272.1,120.9 272.4,120.8 272.6,119.1 272.9,119.4 273.1,121.6 273.4,121.6 273.6,118.6 273.9,122.5 274.1,122.0 274.4,121.9 274.6,120.4 274.9,122.8 275.1,123.6 275.4,125.5 275.6,125.9 275.9,123.6 276.1,124.3 276.4,123.7 276.6,122.7 276.9,123.0 277.1,124.0 277.4,125.8 277.6,127.0 277.9,131.4 278.1,135.2 278.4,136.8 278.6,138.3 278.9,135.4 279.1,130.3 279.4,126.9 279.6,123.0 279.9,123.9 280.1,124.9 280.4,123.5 280.6,124.2 280.9,124.1 281.1,123.1 281.4,124.3 281.6,123.6 281.9,127.6 282.1,124.8 282.4,123.4 282.6,123.2 282.9,126.7 283.1,126.0 283.4,125.6 283.6,123.6 283.9,124.3 284.1,123.8 284.4,126.7 284.6,126.7 284.9,131.2 285.1,130.2 285.4,128.8 285.6,130.0 285.9,125.8 286.1,126.2 286.4,126.0 286.6,127.2 286.9,127.2 287.1,126.5 287.4,124.5 287.6,125.8 287.9,125.4 288.1,127.8 288.4,126.3 288.6,127.4 288.9,128.7 289.1,127.0 289.4,128.3 289.6,128.9 289.9,131.2 290.1,131.2 290.4,129.3 290.6,128.1 290.9,127.5 291.1,130.2 291.4,127.9 291.6,128.6 291.9,127.9 292.1,125.9 292.4,129.2 292.6,128.6 292.9,127.1 293.1,127.8 293.4,127.0 293.6,129.0 293.9,130.4 294.1,130.2 294.4,128.3 294.6,128.4 294.9,130.6 295.1,131.3 295.4,129.4 295.6,130.3 295.9,128.0 296.1,129.3 296.4,129.9 296.6,129.2 296.9,129.4 297.1,130.4 297.4,129.2 297.6,128.9 297.9,130.9 298.1,130.8 298.4,129.7 298.6,131.0 298.9,129.8 299.1,131.1 299.4,130.9 299.6,130.9 299.9,130.3 300.1,131.0 300.4,130.7 300.6,132.7 300.9,130.8 301.1,129.6 301.4,133.0 301.6,129.0 301.9,132.8 302.1,130.4 302.4,132.9 302.6,132.1 302.9,134.0 303.1,133.8 303.4,132.9 303.6,132.6 303.9,131.2 304.1,132.3 304.4,130.8 304.6,131.2 304.9,131.5 305.1,132.0 305.4,133.4 305.6,131.4 305.9,131.5 306.1,131.3 306.4,132.1 306.6,133.2 306.9,132.2 307.1,133.1 307.4,133.1 307.6,133.8 307.9,131.5 308.1,134.0 308.4,134.2 308.6,132.4 308.9,133.3 309.1,132.7 309.4,134.9 309.6,134.8 309.9,137.0 310.1,133.8 310.4,133.2 310.6,133.8 310.9,133.0 311.1,134.4 311.4,134.5 311.6,135.4 311.9,135.5 312.1,135.3 312.4,136.8 312.6,135.5 312.9,135.6" fill="none" stroke="#000" stroke-width="1.25" stroke-linejoin="round"/>
<polyline points="187.4,105.8 187.7,105.7 187.9,104.5 188.2,105.7 188.4,104.8 188.7,105.4 188.9,106.7 189.2,111.3 189.4,114.4 189.7,116.2 189.9,113.5 190.2,110.0 190.4,108.1 190.7,106.0 190.9,107.5 191.2,106.2 191.4,106.6 191.7,106.5 191.9,105.2 192.2,105.6 192.4,105.4 192.7,105.9 192.9,107.0 193.2,105.9 193.4,106.0 193.7,109.5 193.9,106.6 194.2,106.5 194.4,105.8 194.7,104.6 194.9,106.4 195.2,107.4 195.4,109.4 195.7,115.0 195.9,119.2 196.2,116.8 196.4,113.0 196.7,107.2 196.9,105.4 197.2,106.0 197.4,106.4 197.7,105.0 197.9,106.8 198.2,108.0 198.4,107.4 198.7,107.2 198.9,106.7 199.2,105.7 199.4,105.2 199.7,106.4 199.9,106.6 200.2,105.9 200.4,106.2 200.7,105.8 200.9,105.6 201.2,105.7 201.4,106.1 201.7,108.8 201.9,107.4 202.2,106.8 202.4,107.7 202.7,105.8 202.9,106.6 203.2,105.1 203.4,105.7 203.7,106.8 203.9,106.0 204.2,105.1 204.4,105.1 204.7,106.6 204.9,105.6 205.2,107.0 205.4,107.0 205.7,107.7 205.9,109.2 206.2,109.7 206.4,107.7 206.7,106.0 206.9,106.8 207.2,106.3 207.4,106.4 207.7,107.1 207.9,106.9 208.2,107.5 208.4,106.6 208.7,106.4 208.9,106.6 209.2,107.2 209.4,106.3 209.7,106.7 209.9,106.4 210.2,106.6 210.4,107.5 210.7,110.4 210.9,108.6 211.2,108.7 211.4,107.9 211.7,107.4 211.9,107.6 212.2,109.3 212.4,107.7 212.7,109.2 212.9,108.3 213.2,107.1 213.4,107.3 213.7,107.5 213.9,107.3 214.2,110.2 214.4,111.7 214.7,112.9 214.9,110.5 215.2,110.5 215.4,109.4 215.7,111.4 215.9,108.9 216.2,108.8 216.4,108.8 216.7,108.1 216.9,108.2 217.2,108.3 217.4,109.3 217.7,108.1 217.9,108.6 218.2,109.0 218.4,108.5 218.7,107.8 218.9,107.9 219.2,108.6 219.4,108.2 219.7,109.7 219.9,109.0 220.2,109.0 220.4,108.2 220.7,109.4 220.9,108.8 221.2,108.3 221.4,108.6 221.7,111.0 221.9,108.7 222.2,108.5 222.4,110.1 222.7,109.8 222.9,109.0 223.2,110.4 223.4,108.2 223.7,109.0 223.9,108.1 224.2,110.5 224.4,109.6 224.7,112.3 224.9,112.7 225.2,115.3 225.4,114.4 225.7,112.0 225.9,110.3 226.2,110.5 226.4,108.8 226.7,107.8 226.9,110.3 227.2,110.4 227.4,109.0 227.7,110.0 227.9,110.6 228.2,110.8 228.4,109.1 228.7,111.0 228.9,110.6 229.2,111.4 229.4,110.5 229.7,110.5 229.9,114.0 230.2,116.4 230.4,113.9 230.7,111.4 230.9,110.3 231.2,110.1 231.4,109.8 231.7,108.9 231.9,109.1 232.2,110.4 232.4,110.8 232.7,109.8 232.9,110.8 233.2,112.4 233.4,111.2 233.7,111.2 233.9,110.9 234.2,111.5 234.4,111.1 234.7,111.1 234.9,110.7 235.2,111.3 235.4,111.4 235.7,111.2 235.9,113.1 236.2,112.7 236.4,115.4 236.7,113.6 236.9,112.8 237.2,113.0 237.4,111.5 237.7,111.4 237.9,111.6 238.2,112.7 238.4,113.0 238.7,112.4 238.9,114.5 239.2,117.5 239.4,116.7 239.7,113.7 239.9,113.2 240.2,113.2 240.4,113.4 240.7,112.2 240.9,113.7 241.2,113.5 241.4,117.6 241.7,116.8 241.9,116.6 242.2,113.6 242.4,113.8 242.7,114.2 242.9,114.1 243.2,113.6 243.4,112.2 243.7,112.2 243.9,110.4 244.2,114.2 244.4,114.1 244.7,114.4 244.9,113.6 245.2,117.3 245.4,114.0 245.7,114.5 245.9,112.4 246.2,113.6 246.4,115.2 246.7,115.0 246.9,113.7 247.2,116.0 247.4,118.3 247.7,115.5 247.9,116.2 248.2,113.3 248.4,114.8 248.7,115.2 248.9,118.8 249.2,119.8 249.4,118.7 249.7,115.9 249.9,113.9 250.2,114.2 250.4,113.6 250.7,114.0 250.9,115.1 251.2,114.5 251.4,116.3 251.7,117.0 251.9,117.2 252.2,114.8 252.4,115.4 252.7,116.1 252.9,115.7 253.2,116.1 253.4,116.6 253.7,115.0 253.9,117.5 254.2,117.4 254.4,115.9 254.7,114.4 254.9,115.5 255.2,115.3 255.4,117.0 255.7,116.6 255.9,115.3 256.1,114.9 256.4,115.4 256.6,116.4 256.9,116.1 257.1,118.4 257.4,115.6 257.6,116.2 257.9,116.3 258.1,116.9 258.4,116.3 258.6,116.7 258.9,116.6 259.1,116.6 259.4,115.9 259.6,116.1 259.9,116.6 260.1,118.0 260.4,115.6 260.6,117.1 260.9,118.0 261.1,115.9 261.4,118.8 261.6,119.6 261.9,118.8 262.1,119.0 262.4,118.8 262.6,117.2 262.9,117.6 263.1,117.2 263.4,119.2 263.6,122.8 263.9,126.6 264.1,131.7 264.4,130.3 264.6,125.1 264.9,122.3 265.1,120.7 265.4,120.4 265.6,119.5 265.9,118.2 266.1,117.9 266.4,119.6 266.6,119.1 266.9,118.6 267.1,118.9 267.4,118.4 267.6,118.0 267.9,118.5 268.1,118.9 268.4,117.7 268.6,117.9 268.9,117.9 269.1,119.3 269.4,120.7 269.6,119.8 269.9,121.1 270.1,122.1 270.4,122.4 270.6,120.2 270.9,119.9 271.1,120.4 271.4,123.3 271.6,120.8 271.9,119.8 272.1,119.8 272.4,120.9 272.6,121.1 272.9,120.7 273.1,119.4 273.4,122.2 273.6,122.4 273.9,121.9 274.1,121.4 274.4,121.1 274.6,122.3 274.9,121.8 275.1,124.1 275.4,123.5 275.6,123.8 275.9,124.0 276.1,123.4 276.4,122.4 276.6,122.9 276.9,124.1 277.1,123.0 277.4,122.8 277.6,124.7 277.9,125.4 278.1,130.4 278.4,134.3 278.6,134.2 278.9,128.3 279.1,126.1 279.4,124.2 279.6,121.5 279.9,123.1 280.1,123.0 280.4,123.7 280.6,123.5 280.9,123.0 281.1,123.5 281.4,124.1 281.6,124.0 281.9,123.9 282.1,125.9 282.4,124.7 282.6,123.5 282.9,124.5 283.1,124.8 283.4,123.9 283.6,124.8 283.9,124.2 284.1,123.2 284.4,125.6 284.6,126.6 284.9,127.6 285.1,127.0 285.4,125.8 285.6,125.9 285.9,126.0 286.1,126.5 286.4,126.9 286.6,126.6 286.9,125.8 287.1,127.2 287.4,127.9 287.6,130.3 287.9,128.9 288.1,128.1 288.4,127.1 288.6,128.0 288.9,126.3 289.1,127.2 289.4,127.1 289.6,128.0 289.9,127.7 290.1,128.5 290.4,126.7 290.6,127.5 290.9,127.1 291.1,127.8 291.4,126.4 291.6,127.5 291.9,128.0 292.1,127.1 292.4,131.6 292.6,131.3 292.9,129.5 293.1,130.5 293.4,129.9 293.6,127.6 293.9,131.0 294.1,132.9 294.4,135.1 294.6,133.6 294.9,131.8 295.1,130.8 295.4,128.3 295.6,129.9 295.9,130.6 296.1,129.5 296.4,130.4 296.6,130.8 296.9,129.8 297.1,130.0 297.4,130.1 297.6,129.5 297.9,131.7 298.1,130.3 298.4,130.5 298.6,130.9 298.9,131.4 299.1,129.2 299.4,129.5 299.6,130.6 299.9,130.9 300.1,129.6 300.4,129.6 300.6,131.3 300.9,131.4 301.1,130.6 301.4,130.7 301.6,130.6 301.9,130.4 302.1,131.2 302.4,132.4 302.6,131.9 302.9,132.4 303.1,130.4 303.4,130.2 303.6,132.0 303.9,130.9 304.1,131.5 304.4,131.9 304.6,130.9 304.9,130.8 305.1,132.3 305.4,130.1 305.6,133.1 305.9,131.5 306.1,133.5 306.4,132.9 306.6,133.0 306.9,133.7 307.1,133.8 307.4,132.6 307.6,134.3 307.9,133.7 308.1,133.8 308.4,133.1 308.6,133.0 308.9,134.0 309.1,134.1 309.4,133.6 309.6,132.6 309.9,132.9 310.1,132.9 310.4,134.7 310.6,134.3 310.9,134.0 311.1,134.1 311.4,134.1 311.6,135.5 311.9,133.8 312.1,133.8 312.4,135.1 312.6,135.0 312.9,134.6" fill="none" stroke="#f47e70" stroke-width="1.0" stroke-linejoin="round"/>
<polyline points="335.9,98.3 336.1,98.7 336.4,98.6 336.6,98.7 336.9,98.7 337.1,99.1 337.4,98.6 337.6,99.3 337.9,100.0 338.1,99.2 338.4,99.7 338.6,101.1 338.9,99.5 339.1,99.3 339.4,100.0 339.6,101.1 339.9,101.4 340.1,100.0 340.4,101.0 340.6,100.8 340.9,100.7 341.1,100.2 341.4,101.7 341.6,100.9 341.9,101.6 342.1,101.6 342.4,102.5 342.6,102.4 342.9,101.4 343.1,102.0 343.4,102.7 343.6,101.7 343.9,102.3 344.1,102.7 344.4,102.0 344.6,102.3 344.9,102.2 345.1,103.2 345.4,102.9 345.6,103.7 345.9,103.5 346.1,103.8 346.4,103.7 346.6,104.2 346.9,103.9 347.1,103.6 347.4,104.7 347.6,104.8 347.9,105.5 348.1,104.5 348.4,104.4 348.6,104.2 348.9,103.2 349.1,104.5 349.4,105.4 349.6,105.0 349.9,104.4 350.1,106.1 350.4,105.6 350.6,105.8 350.9,105.8 351.1,106.0 351.4,106.4 351.6,105.6 351.9,106.4 352.1,106.4 352.4,107.3 352.6,106.4 352.9,107.7 353.1,107.3 353.4,107.9 353.6,107.0 353.9,107.8 354.1,107.7 354.4,107.0 354.6,107.7 354.9,107.7 355.1,107.6 355.4,107.9 355.6,107.7 355.9,108.2 356.1,108.7 356.4,108.3 356.6,108.1 356.9,109.4 357.1,108.9 357.4,109.1 357.6,109.1 357.9,109.1 358.1,109.7 358.4,109.3 358.6,109.6 358.9,109.1 359.1,109.1 359.4,109.7 359.6,110.9 359.9,110.2 360.1,111.1 360.4,110.6 360.6,110.9 360.9,111.4 361.1,113.2 361.4,114.5 361.6,113.1 361.9,111.1 362.1,110.9 362.4,111.7 362.6,111.0 362.9,111.9 363.1,111.4 363.4,112.3 363.6,112.6 363.9,112.2 364.1,112.0 364.4,112.0 364.6,112.0 364.9,112.1 365.1,112.8 365.4,112.9 365.6,112.6 365.9,112.0 366.1,112.4 366.4,112.9 366.6,113.3 366.9,114.4 367.1,117.8 367.4,119.0 367.6,115.2 367.9,114.0 368.1,114.2 368.4,113.3 368.6,113.4 368.9,114.3 369.1,116.4 369.4,118.3 369.6,118.6 369.9,115.1 370.1,114.7 370.4,114.2 370.6,114.0 370.9,114.3 371.1,114.3 371.4,114.9 371.6,114.2 371.9,114.4 372.1,113.9 372.4,114.1 372.6,114.6 372.9,114.1 373.1,114.7 373.4,115.5 373.6,117.4 373.9,117.9 374.1,117.1 374.4,114.7 374.6,115.2 374.9,115.7 375.1,116.0 375.4,116.1 375.6,114.9 375.9,115.4 376.1,116.0 376.4,116.2 376.6,116.0 376.9,116.1 377.1,116.1 377.4,115.8 377.6,116.3 377.9,117.0 378.1,117.7 378.4,119.8 378.6,117.9 378.9,117.7 379.1,117.8 379.4,117.2 379.6,117.6 379.9,117.1 380.1,116.6 380.4,117.0 380.6,118.0 380.9,116.6 381.1,117.1 381.4,116.8 381.6,117.5 381.9,117.6 382.1,118.2 382.4,117.6 382.6,118.9 382.9,118.5 383.1,118.1 383.4,118.0 383.6,117.8 383.9,118.7 384.1,119.6 384.4,118.7 384.6,118.4 384.9,119.0 385.1,118.9 385.4,118.8 385.6,118.5 385.9,119.4 386.1,120.2 386.4,120.2 386.6,120.1 386.9,119.9 387.1,120.1 387.4,120.5 387.6,120.1 387.9,120.3 388.1,120.1 388.4,120.9 388.6,120.1 388.9,120.9 389.1,121.1 389.4,121.2 389.6,121.3 389.9,120.8 390.1,120.9 390.4,121.1 390.6,121.3 390.9,121.6 391.1,123.9 391.4,126.1 391.6,125.8 391.9,124.1 392.1,122.2 392.4,122.3 392.6,123.3 392.9,124.8 393.1,126.0 393.4,126.8 393.6,124.8 393.9,124.4 394.1,123.7 394.4,123.5 394.6,123.2 394.9,123.7 395.1,124.5 395.4,124.2 395.6,123.8 395.9,124.0 396.1,123.2 396.4,123.0 396.6,123.5 396.9,123.6 397.1,124.2 397.4,123.9 397.6,124.3 397.9,123.6 398.1,125.3 398.4,125.1 398.6,125.4 398.9,128.2 399.1,131.9 399.4,133.6 399.6,131.5 399.9,128.7 400.1,126.8 400.4,125.3 400.6,125.1 400.9,125.6 401.1,126.4 401.4,126.8 401.6,126.3 401.9,127.0 402.1,126.9 402.4,126.5 402.6,126.3 402.9,126.5 403.1,126.9 403.4,127.6 403.6,127.5 403.9,126.6 404.1,126.8 404.4,127.8 404.6,127.7 404.9,127.6 405.1,129.4 405.4,130.9 405.6,130.6 405.9,129.2 406.1,129.1 406.4,128.2 406.6,128.2 406.9,128.2 407.1,129.6 407.4,129.8 407.6,128.9 407.9,129.3 408.1,129.4 408.4,129.7 408.6,129.9 408.9,129.8 409.1,129.9 409.4,130.7 409.6,132.0 409.9,131.6 410.1,131.5 410.4,130.2 410.6,130.3 410.9,130.3 411.1,130.0 411.4,130.3 411.6,130.8 411.9,130.8 412.1,130.4 412.4,130.6 412.6,131.3 412.9,131.5 413.1,132.4 413.4,133.2 413.6,133.5 413.9,132.4 414.1,133.0 414.4,131.5 414.6,131.5 414.9,132.7 415.1,132.0 415.4,131.8 415.6,132.4 415.9,131.3 416.1,132.7 416.4,132.7 416.6,133.6 416.9,135.1 417.1,139.5 417.4,141.1 417.6,139.1 417.9,136.0 418.1,133.7 418.4,133.5 418.6,132.8 418.9,133.0 419.1,133.8 419.4,133.8 419.6,134.2 419.9,133.6 420.1,134.0 420.4,133.8 420.6,134.3 420.9,134.7 421.1,134.9 421.4,134.8 421.6,134.3 421.9,134.8 422.1,134.4 422.4,134.1 422.6,135.1 422.9,135.3 423.1,135.9 423.4,136.1 423.6,135.1 423.9,135.3 424.1,136.2 424.4,138.3 424.6,142.0 424.9,143.3 425.1,141.9 425.4,139.0 425.6,138.0 425.9,136.9 426.1,138.8 426.4,137.7 426.6,136.5 426.9,137.4 427.1,136.4 427.4,136.4 427.6,137.3 427.9,144.7 428.1,143.3 428.4,142.2 428.6,141.2 428.9,141.4 429.1,139.9 429.4,139.9 429.6,140.8 429.9,140.3 430.1,140.4 430.4,139.9 430.6,139.0 430.9,139.7 431.1,138.6 431.4,139.6 431.6,139.8 431.9,138.7 432.1,139.6 432.4,139.1 432.6,139.0 432.9,138.1 433.1,138.9 433.4,139.3 433.6,138.1 433.9,138.7 434.1,138.5 434.4,138.1 434.6,139.3 434.9,138.8 435.1,138.8 435.4,139.2 435.6,138.4 435.9,140.2 436.1,138.5 436.4,138.2 436.6,139.0 436.9,138.9 437.1,138.3 437.4,138.3 437.6,147.7 437.9,146.5 438.1,145.7 438.4,145.3 438.6,144.1 438.9,144.5 439.1,143.6 439.4,143.6 439.6,142.6 439.9,143.1 440.1,142.7 440.4,143.6 440.6,142.3 440.9,143.2 441.1,143.7 441.4,146.0 441.6,146.1 441.9,144.6 442.1,141.6 442.4,141.4 442.6,142.3 442.9,142.3 443.1,143.3 443.4,143.6 443.6,143.5 443.9,142.0 444.1,141.6 444.4,142.0 444.6,141.9 444.9,141.2 445.1,141.3 445.4,141.4 445.6,141.2 445.9,141.2 446.1,140.8 446.4,141.4 446.6,140.6 446.9,149.9 447.1,149.8 447.4,149.2 447.6,148.4 447.9,147.1 448.1,146.2 448.4,146.4 448.6,146.4 448.9,145.4 449.1,144.9 449.4,144.1 449.6,143.9 449.9,145.3 450.1,143.7 450.4,144.0 450.6,144.1 450.9,144.2 451.1,143.4 451.4,144.2 451.6,144.1 451.9,143.9 452.1,143.5 452.4,143.6 452.6,142.8 452.9,143.9 453.1,143.4 453.4,142.9 453.6,143.5 453.9,143.7 454.1,143.6 454.4,143.7 454.6,143.9 454.9,143.1 455.1,143.4 455.4,143.4 455.6,142.6 455.9,143.7 456.1,143.0 456.4,143.3 456.6,143.3 456.9,152.0 457.1,151.6 457.4,150.8 457.6,149.7 457.9,147.7 458.1,149.1 458.4,148.0 458.6,147.4 458.9,147.1 459.1,146.6 459.4,146.7 459.6,147.0 459.9,146.1 460.1,146.5 460.4,146.0 460.6,146.1 460.9,145.9 461.1,146.2 461.4,146.4 461.6,145.9 461.9,146.2" fill="none" stroke="#000" stroke-width="1.4" stroke-linejoin="round"/>
<polyline points="335.9,105.0 336.1,105.8 336.4,106.5 336.6,105.2 336.9,103.9 337.1,103.1 337.4,102.2 337.6,102.8 337.9,103.3 338.1,104.1 338.4,104.8 338.6,106.3 338.9,107.8 339.1,107.0 339.4,106.1 339.6,106.6 339.9,107.2 340.1,105.8 340.4,104.4 340.6,104.7 340.9,105.0 341.1,105.1 341.4,105.3 341.6,106.3 341.9,107.3 342.1,106.3 342.4,105.2 342.6,105.4 342.9,105.7 343.1,106.9 343.4,108.2 343.6,106.7 343.9,105.1 344.1,105.7 344.4,106.3 344.6,105.5 344.9,104.7 345.1,105.5 345.4,106.2 345.6,106.9 345.9,107.7 346.1,108.0 346.4,108.4 346.6,107.0 346.9,105.5 347.1,104.7 347.4,104.0 347.6,105.9 347.9,107.9 348.1,108.7 348.4,109.4 348.6,108.1 348.9,106.7 349.1,107.4 349.4,108.0 349.6,108.0 349.9,107.9 350.1,106.6 350.4,105.4 350.6,105.2 350.9,104.9 351.1,106.6 351.4,108.2 351.6,108.6 351.9,109.0 352.1,107.9 352.4,106.8 352.6,107.6 352.9,108.4 353.1,108.2 353.4,108.0 353.6,108.0 353.9,107.9 354.1,107.8 354.4,107.7 354.6,109.2 354.9,110.8 355.1,110.1 355.4,109.5 355.6,109.5 355.9,109.4 356.1,109.3 356.4,109.3 356.6,109.9 356.9,110.4 357.1,110.0 357.4,109.5 357.6,110.0 357.9,110.5 358.1,110.0 358.4,109.5 358.6,110.3 358.9,111.0 359.1,110.7 359.4,110.4 359.6,110.9 359.9,111.5 360.1,110.4 360.4,109.2 360.6,109.7 360.9,110.2 361.1,110.1 361.4,109.9 361.6,111.5 361.9,113.2 362.1,112.0 362.4,110.9 362.6,111.3 362.9,111.6 363.1,110.8 363.4,110.0 363.6,110.5 363.9,111.0 364.1,110.6 364.4,110.3 364.6,111.2 364.9,112.2 365.1,111.8 365.4,111.4 365.6,112.8 365.9,114.2 366.1,113.0 366.4,111.8 366.6,113.2 366.9,115.6 367.1,116.9 367.4,116.7 367.6,115.3 367.9,114.3 368.1,113.1 368.4,112.4 368.6,113.0 368.9,114.2 369.1,116.5 369.4,119.1 369.6,118.5 369.9,115.4 370.1,114.3 370.4,114.6 370.6,113.5 370.9,112.5 371.1,113.3 371.4,114.0 371.6,114.1 371.9,114.1 372.1,114.4 372.4,114.6 372.6,114.0 372.9,113.5 373.1,114.6 373.4,115.9 373.6,115.6 373.9,115.0 374.1,114.8 374.4,114.6 374.6,114.4 374.9,114.3 375.1,114.6 375.4,115.0 375.6,115.5 375.9,115.9 376.1,117.3 376.4,118.6 376.6,115.9 376.9,113.4 377.1,115.9 377.4,118.6 377.6,118.6 377.9,117.9 378.1,118.1 378.4,118.7 378.6,118.1 378.9,117.2 379.1,117.0 379.4,117.1 379.6,117.8 379.9,118.6 380.1,117.8 380.4,117.1 380.6,117.2 380.9,117.4 381.1,117.4 381.4,117.4 381.6,117.7 381.9,118.0 382.1,118.7 382.4,119.4 382.6,118.2 382.9,117.1 383.1,118.1 383.4,119.2 383.6,117.6 383.9,116.1 384.1,117.5 384.4,118.8 384.6,118.5 384.9,118.2 385.1,119.1 385.4,119.9 385.6,119.8 385.9,119.7 386.1,119.7 386.4,119.8 386.6,119.9 386.9,119.9 387.1,119.9 387.4,119.9 387.6,118.9 387.9,117.9 388.1,118.9 388.4,120.0 388.6,119.4 388.9,118.7 389.1,119.9 389.4,121.1 389.6,120.4 389.9,119.7 390.1,120.1 390.4,120.5 390.6,120.4 390.9,120.6 391.1,121.7 391.4,122.9 391.6,122.9 391.9,122.1 392.1,121.7 392.4,121.8 392.6,121.2 392.9,120.8 393.1,122.6 393.4,124.0 393.6,122.5 393.9,121.1 394.1,121.5 394.4,121.9 394.6,121.0 394.9,120.0 395.1,121.4 395.4,122.7 395.6,123.1 395.9,123.5 396.1,123.7 396.4,123.9 396.6,123.7 396.9,123.5 397.1,123.6 397.4,123.7 397.6,123.3 397.9,122.9 398.1,123.2 398.4,123.6 398.6,125.1 398.9,129.1 399.1,135.3 399.4,139.4 399.6,136.7 399.9,130.3 400.1,126.0 400.4,124.5 400.6,124.6 400.9,125.0 401.1,124.9 401.4,124.9 401.6,124.8 401.9,124.8 402.1,124.6 402.4,124.4 402.6,124.9 402.9,125.5 403.1,125.5 403.4,125.6 403.6,126.2 403.9,126.8 404.1,126.3 404.4,125.8 404.6,126.3 404.9,126.9 405.1,126.6 405.4,126.5 405.6,127.7 405.9,128.3 406.1,126.7 406.4,125.4 406.6,126.0 406.9,126.7 407.1,126.8 407.4,127.0 407.6,127.4 407.9,127.5 408.1,127.9 408.4,128.0 408.6,127.5 408.9,127.0 409.1,127.4 409.4,128.1 409.6,129.0 409.9,129.2 410.1,129.0 410.4,128.9 410.6,128.8 410.9,128.9 411.1,129.2 411.4,129.5 411.6,129.0 411.9,128.6 412.1,128.2 412.4,127.7 412.6,129.1 412.9,130.5 413.1,130.3 413.4,130.1 413.6,128.9 413.9,127.2 414.1,128.3 414.4,129.6 414.6,129.3 414.9,129.0 415.1,128.9 415.4,128.7 415.6,128.8 415.9,129.0 416.1,129.3 416.4,129.7 416.6,129.8 416.9,130.7 417.1,133.4 417.4,135.1 417.6,133.8 417.9,131.5 418.1,130.4 418.4,130.1 418.6,130.4 418.9,130.7 419.1,130.8 419.4,130.8 419.6,131.4 419.9,132.0 420.1,131.6 420.4,131.2 420.6,130.7 420.9,130.3 421.1,130.7 421.4,131.2 421.6,132.0 421.9,132.8 422.1,132.9 422.4,133.0 422.6,132.1 422.9,131.2 423.1,131.9 423.4,132.6 423.6,132.2 423.9,131.9 424.1,132.3 424.4,133.5 424.6,134.8 424.9,135.4 425.1,134.5 425.4,132.9 425.6,132.5 425.9,132.9 426.1,133.1 426.4,133.4 426.6,133.6 426.9,133.8 427.1,133.4 427.4,133.0 427.6,133.3 427.9,138.1 428.1,137.7 428.4,137.4 428.6,137.0 428.9,137.0 429.1,136.7 429.4,136.3 429.6,136.5 429.9,136.0 430.1,135.7 430.4,136.0 430.6,136.1 430.9,136.3 431.1,135.7 431.4,135.0 431.6,135.7 431.9,136.5 432.1,134.8 432.4,133.2 432.6,134.9 432.9,136.5 433.1,135.7 433.4,134.9 433.6,135.1 433.9,135.4 434.1,135.0 434.4,134.6 434.6,134.5 434.9,134.4 435.1,134.7 435.4,135.0 435.6,135.2 435.9,135.3 436.1,134.8 436.4,134.3 436.6,135.1 436.9,135.8 437.1,135.3 437.4,134.8 437.6,140.6 437.9,140.2 438.1,139.5 438.4,138.8 438.6,138.5 438.9,138.5 439.1,138.9 439.4,138.9 439.6,137.9 439.9,137.0 440.1,137.6 440.4,138.3 440.6,137.5 440.9,136.7 441.1,137.9 441.4,139.4 441.6,139.1 441.9,137.7 442.1,137.2 442.4,137.3 442.6,137.0 442.9,136.8 443.1,137.6 443.4,138.3 443.6,138.5 443.9,138.7 444.1,137.9 444.4,137.0 444.6,137.4 444.9,137.7 445.1,137.7 445.4,137.6 445.6,137.9 445.9,138.1 446.1,138.3 446.4,138.3 446.6,138.6 446.9,144.9 447.1,143.6 447.4,142.4 447.6,141.3 447.9,140.2 448.1,140.9 448.4,141.7 448.6,141.1 448.9,140.5 449.1,140.5 449.4,140.5 449.6,140.9 449.9,141.4 450.1,141.5 450.4,141.6 450.6,141.0 450.9,140.4 451.1,140.8 451.4,141.3 451.6,141.0 451.9,140.6 452.1,140.8 452.4,140.9 452.6,140.6 452.9,140.2 453.1,140.8 453.4,141.3 453.6,140.6 453.9,139.8 454.1,140.0 454.4,140.3 454.6,140.6 454.9,140.9 455.1,140.2 455.4,139.4 455.6,139.9 455.9,140.5 456.1,140.5 456.4,140.5 456.6,140.7 456.9,146.8 457.1,146.5 457.4,146.4 457.6,144.4 457.9,142.5 458.1,143.5 458.4,144.5 458.6,144.0 458.9,143.6 459.1,143.8 459.4,144.0 459.6,143.7 459.9,143.4 460.1,142.8 460.4,142.2 460.6,142.2 460.9,142.2 461.1,142.0 461.4,141.8 461.6,142.6 461.9,143.5" fill="none" stroke="#f47e70" stroke-width="1.1" stroke-linejoin="round"/>
<polyline points="38.9,128.2 39.1,130.5 39.4,128.9 39.6,128.8 39.9,128.1 40.1,128.2 40.4,127.2 40.6,127.5 40.9,128.3 41.1,127.9 41.4,127.9 41.6,128.4 41.9,126.7 42.1,127.8 42.4,128.8 42.6,127.8 42.9,128.1 43.1,128.3 43.4,128.4 43.6,128.4 43.9,127.8 44.1,128.5 44.4,128.2 44.6,130.0 44.9,131.3 45.1,135.4 45.4,135.8 45.6,133.1 45.9,130.0 46.1,130.2 46.4,130.9 46.6,131.6 46.9,130.3 47.1,129.4 47.4,129.0 47.6,128.8 47.9,129.2 48.1,130.2 48.4,129.7 48.6,129.1 48.9,128.9 49.1,128.8 49.4,129.5 49.6,129.7 49.9,131.7 50.1,135.3 50.4,137.5 50.6,136.1 50.9,134.2 51.1,132.3 51.4,131.8 51.6,129.8 51.9,129.6 52.1,130.2 52.4,128.7 52.6,129.0 52.9,129.4 53.1,128.6 53.4,131.0 53.6,129.8 53.9,131.7 54.1,131.4 54.4,131.7 54.6,130.7 54.9,129.9 55.1,130.6 55.4,131.6 55.6,134.6 55.9,137.5 56.1,135.3 56.4,132.6 56.6,132.4 56.9,130.3 57.1,131.0 57.4,131.9 57.6,130.6 57.9,130.1 58.1,131.2 58.4,130.6 58.6,132.9 58.9,138.2 59.1,145.0 59.4,143.9 59.6,138.6 59.9,133.5 60.1,131.4 60.4,130.3 60.6,130.8 60.9,131.6 61.1,130.7 61.4,131.0 61.6,130.7 61.9,130.9 62.1,135.4 62.4,139.7 62.6,142.3 62.9,139.7 63.1,135.6 63.4,133.1 63.6,132.4 63.9,131.4 64.2,131.3 64.4,130.8 64.7,132.1 64.9,132.0 65.2,133.0 65.4,134.0 65.7,133.7 65.9,133.1 66.2,133.7 66.4,133.0 66.7,132.5 66.9,132.5 67.2,132.6 67.4,133.0 67.7,132.9 67.9,134.6 68.2,138.5 68.4,143.4 68.7,143.2 68.9,138.0 69.2,134.2 69.4,133.3 69.7,132.9 69.9,132.6 70.2,132.4 70.4,133.0 70.7,132.9 70.9,132.7 71.2,132.9 71.4,133.2 71.7,132.9 71.9,137.2 72.2,141.0 72.4,140.0 72.7,135.4 72.9,134.2 73.2,133.5 73.4,133.3 73.7,133.8 73.9,135.2 74.2,135.6 74.4,134.3 74.7,133.3 74.9,134.3 75.2,137.0 75.4,140.0 75.7,139.7 75.9,136.3 76.2,133.0 76.4,133.0 76.7,134.0 76.9,134.1 77.2,133.4 77.4,133.1 77.7,133.4 77.9,133.5 78.2,133.4 78.4,132.3 78.7,133.5 78.9,133.7 79.2,133.5 79.4,134.5 79.7,132.7 79.9,132.6 80.2,135.2 80.4,133.0 80.7,132.3 80.9,133.3 81.2,134.0 81.4,133.3 81.7,133.4 81.9,134.1 82.2,134.7 82.4,134.1 82.7,133.9 82.9,133.6 83.2,134.2 83.4,135.3 83.7,133.3 83.9,133.4 84.2,133.7 84.4,134.3 84.7,134.3 84.9,133.9 85.2,133.8 85.4,134.7 85.7,134.4 85.9,135.2 86.2,134.9 86.4,135.7 86.7,134.3 86.9,135.6 87.2,135.3 87.4,137.3 87.7,138.4 87.9,136.6 88.2,134.8 88.4,134.7 88.7,134.1 88.9,135.4 89.2,134.1 89.4,135.0 89.7,134.4 89.9,133.9 90.2,133.5 90.4,134.6 90.7,134.0 90.9,134.9 91.2,134.5 91.4,134.7 91.7,134.7 91.9,135.6 92.2,134.7 92.4,134.1 92.7,133.7 92.9,135.4 93.2,135.0 93.4,135.7 93.7,134.3 93.9,135.0 94.2,134.8 94.4,135.5 94.7,135.1 94.9,136.0 95.2,135.2 95.4,135.3 95.7,135.2 95.9,135.8 96.2,136.1 96.4,135.9 96.7,135.5 96.9,135.8 97.2,137.4 97.4,140.2 97.7,140.8 97.9,139.3 98.2,137.9 98.4,136.6 98.7,136.2 98.9,135.9 99.2,136.1 99.4,136.1 99.7,136.3 99.9,136.3 100.2,136.5 100.4,136.1 100.7,137.2 100.9,136.8 101.2,136.8 101.4,137.1 101.7,136.2 101.9,136.2 102.2,136.2 102.4,136.8 102.7,138.0 102.9,139.0 103.2,141.9 103.4,141.7 103.7,141.4 103.9,138.3 104.2,137.2 104.4,136.9 104.7,138.2 104.9,137.7 105.2,138.3 105.4,137.8 105.7,138.2 105.9,138.2 106.2,138.3 106.4,138.1 106.7,138.7 106.9,138.5 107.2,138.6 107.4,138.5 107.7,138.2 107.9,137.7 108.2,138.2 108.4,139.5 108.7,138.9 108.9,138.5 109.2,139.0 109.4,139.6 109.7,140.0 109.9,138.1 110.2,138.3 110.4,138.1 110.7,139.0 110.9,138.9 111.2,140.0 111.4,139.8 111.7,139.3 111.9,140.8 112.2,139.4 112.4,140.0 112.7,140.4 112.9,140.2 113.2,142.1 113.4,143.2 113.7,142.2 113.9,141.6 114.2,140.7 114.4,140.1 114.7,140.7 114.9,140.1 115.2,140.7 115.4,140.2 115.7,140.6 115.9,140.3 116.2,139.6 116.4,140.4 116.7,140.0 116.9,141.2 117.2,140.0 117.4,140.8 117.7,139.3 117.9,140.2 118.2,139.6 118.4,140.5 118.7,140.0 118.9,141.2 119.2,140.8 119.4,141.3 119.7,140.1 119.9,139.4 120.2,140.6 120.4,141.3 120.7,140.8 120.9,141.6 121.2,140.6 121.4,140.5 121.7,141.9 121.9,144.3 122.2,145.5 122.4,144.5 122.7,142.1 122.9,142.2 123.2,140.0 123.4,142.2 123.7,142.7 123.9,144.1 124.2,143.0 124.4,141.0 124.7,141.3 124.9,140.8 125.2,140.8 125.4,140.4 125.7,141.8 125.9,140.2 126.2,141.3 126.4,142.2 126.7,141.5 126.9,142.4 127.2,143.6 127.4,146.5 127.7,146.5 127.9,144.9 128.2,142.7 128.4,141.7 128.7,141.0 128.9,141.0 129.2,141.7 129.4,142.4 129.7,142.8 129.9,141.7 130.2,141.7 130.4,141.4 130.7,141.8 130.9,141.2 131.2,141.7 131.4,141.2 131.7,142.1 131.9,143.9 132.2,145.2 132.4,143.6 132.7,142.9 132.9,141.7 133.2,142.8 133.4,142.1 133.7,142.0 133.9,142.9 134.2,140.5 134.4,141.6 134.7,142.4 134.9,142.1 135.2,142.6 135.4,142.3 135.7,142.5 135.9,142.6 136.2,142.9 136.4,143.3 136.7,141.7 136.9,142.6 137.2,141.3 137.4,142.3 137.7,143.2 137.9,143.5 138.2,144.5 138.4,144.1 138.7,144.3 138.9,142.9 139.2,142.3 139.4,141.7 139.7,142.4 139.9,143.0 140.2,143.8 140.4,142.8 140.7,142.6 140.9,142.7 141.2,143.4 141.4,145.5 141.7,149.9 141.9,154.0 142.2,153.6 142.4,148.4 142.7,145.2 142.9,143.0 143.2,145.4 143.4,147.2 143.7,147.9 143.9,146.4 144.2,144.3 144.4,142.9 144.7,143.1 144.9,143.2 145.2,143.3 145.4,143.6 145.7,143.1 145.9,142.3 146.2,143.2 146.4,143.4 146.7,143.5 146.9,142.5 147.2,143.9 147.4,144.3 147.7,143.6 147.9,144.1 148.2,144.2 148.4,144.4 148.7,143.0 148.9,144.2 149.2,143.6 149.4,143.1 149.7,143.9 149.9,143.8 150.2,144.4 150.4,144.4 150.7,143.6 150.9,144.3 151.2,144.4 151.4,143.4 151.7,144.3 151.9,144.1 152.2,144.9 152.4,145.0 152.7,145.5 152.9,146.8 153.2,145.9 153.4,146.3 153.7,145.3 153.9,145.1 154.2,145.0 154.4,145.5 154.7,144.7 154.9,145.0 155.2,145.0 155.4,144.8 155.7,145.8 155.9,144.8 156.2,144.4 156.4,144.3 156.7,145.3 156.9,144.7 157.2,144.8 157.4,145.0 157.7,146.0 157.9,148.3 158.2,146.9 158.4,147.5 158.7,145.2 158.9,145.7 159.2,145.1 159.4,145.7 159.7,145.7 159.9,145.6 160.2,146.4 160.4,144.9 160.7,145.5 160.9,145.2 161.2,145.7 161.4,145.4 161.7,145.2 161.9,145.6 162.2,145.6 162.4,145.8 162.7,145.9 162.9,145.4 163.2,145.8 163.4,146.7 163.7,149.5 163.9,150.4 164.2,149.1 164.4,147.3 164.7,145.7" fill="none" stroke="#000" stroke-width="1.15" stroke-linejoin="round"/>
<polyline points="38.9,126.6 39.1,127.0 39.4,127.3 39.6,128.0 39.9,127.8 40.1,127.5 40.4,127.4 40.6,128.5 40.9,127.4 41.1,127.3 41.4,127.5 41.6,128.0 41.9,127.9 42.1,127.6 42.4,127.7 42.6,128.3 42.9,128.4 43.1,128.3 43.4,127.7 43.6,128.3 43.9,129.0 44.1,128.0 44.4,129.4 44.6,129.0 44.9,130.7 45.1,131.5 45.4,133.2 45.6,130.8 45.9,129.6 46.1,129.9 46.4,131.4 46.6,130.8 46.9,130.7 47.1,129.7 47.4,128.4 47.6,128.5 47.9,128.4 48.1,129.1 48.4,129.4 48.6,129.6 48.9,129.9 49.1,129.5 49.4,128.8 49.6,130.8 49.9,131.1 50.1,132.9 50.4,133.6 50.6,133.6 50.9,130.3 51.1,130.6 51.4,129.8 51.6,128.6 51.9,129.4 52.1,130.7 52.4,128.6 52.6,129.4 52.9,128.5 53.1,129.8 53.4,130.8 53.6,129.7 53.9,129.7 54.1,129.6 54.4,129.6 54.6,129.6 54.9,130.3 55.1,131.0 55.4,130.7 55.6,133.4 55.9,137.2 56.1,135.5 56.4,131.3 56.6,130.3 56.9,130.3 57.1,130.4 57.4,130.1 57.6,130.3 57.9,130.0 58.1,130.6 58.4,130.4 58.6,131.4 58.9,134.2 59.1,137.5 59.4,138.6 59.6,135.4 59.9,133.0 60.1,132.1 60.4,132.3 60.6,131.4 60.9,130.4 61.1,129.6 61.4,130.6 61.6,130.9 61.9,133.1 62.1,135.9 62.4,140.5 62.6,143.1 62.9,137.9 63.1,133.9 63.4,132.1 63.6,131.2 63.9,131.4 64.2,132.3 64.4,132.4 64.7,133.1 64.9,131.8 65.2,134.4 65.4,135.3 65.7,132.7 65.9,131.5 66.2,131.9 66.4,131.7 66.7,132.0 66.9,131.5 67.2,132.0 67.4,132.3 67.7,130.9 67.9,133.5 68.2,137.0 68.4,139.2 68.7,138.4 68.9,136.2 69.2,132.9 69.4,132.7 69.7,132.8 69.9,132.9 70.2,131.6 70.4,132.7 70.7,132.4 70.9,132.5 71.2,135.0 71.4,135.5 71.7,134.4 71.9,135.8 72.2,136.9 72.4,136.0 72.7,133.0 72.9,133.4 73.2,132.0 73.4,131.9 73.7,132.4 73.9,133.5 74.2,133.2 74.4,133.7 74.7,132.8 74.9,133.8 75.2,134.8 75.4,136.5 75.7,136.8 75.9,134.7 76.2,132.4 76.4,133.5 76.7,132.8 76.9,134.2 77.2,133.2 77.4,133.4 77.7,132.4 77.9,133.9 78.2,133.7 78.4,132.8 78.7,133.1 78.9,132.7 79.2,134.5 79.4,132.7 79.7,134.1 79.9,132.9 80.2,134.8 80.4,134.4 80.7,134.1 80.9,133.9 81.2,134.4 81.4,135.8 81.7,136.4 81.9,136.4 82.2,137.1 82.4,135.2 82.7,133.8 82.9,133.8 83.2,134.1 83.4,134.2 83.7,133.9 83.9,134.0 84.2,133.0 84.4,135.0 84.7,133.9 84.9,133.4 85.2,134.4 85.4,133.2 85.7,134.0 85.9,132.6 86.2,133.9 86.4,133.6 86.7,134.1 86.9,134.9 87.2,135.6 87.4,135.6 87.7,137.1 87.9,137.1 88.2,136.8 88.4,135.9 88.7,135.5 88.9,135.4 89.2,133.6 89.4,135.0 89.7,134.5 89.9,135.8 90.2,134.5 90.4,135.0 90.7,134.3 90.9,133.9 91.2,134.7 91.4,134.2 91.7,135.2 91.9,135.2 92.2,134.9 92.4,134.7 92.7,134.9 92.9,134.6 93.2,134.9 93.4,135.1 93.7,135.3 93.9,134.9 94.2,135.3 94.4,134.6 94.7,135.4 94.9,136.4 95.2,135.5 95.4,135.4 95.7,135.3 95.9,134.8 96.2,135.7 96.4,136.0 96.7,135.9 96.9,136.0 97.2,137.5 97.4,139.0 97.7,140.6 97.9,138.4 98.2,137.5 98.4,135.9 98.7,135.6 98.9,136.2 99.2,136.2 99.4,136.0 99.7,136.8 99.9,135.6 100.2,136.3 100.4,136.6 100.7,136.4 100.9,137.0 101.2,136.0 101.4,135.9 101.7,136.8 101.9,136.9 102.2,137.6 102.4,137.8 102.7,138.4 102.9,139.4 103.2,140.8 103.4,140.6 103.7,140.6 103.9,138.6 104.2,138.2 104.4,137.0 104.7,138.3 104.9,138.4 105.2,137.9 105.4,139.0 105.7,137.0 105.9,137.6 106.2,138.0 106.4,138.4 106.7,138.2 106.9,138.4 107.2,138.6 107.4,138.1 107.7,139.3 107.9,139.8 108.2,139.5 108.4,139.8 108.7,140.3 108.9,139.7 109.2,139.6 109.4,139.0 109.7,139.3 109.9,138.4 110.2,139.1 110.4,139.2 110.7,139.5 110.9,139.6 111.2,139.6 111.4,139.5 111.7,138.9 111.9,139.5 112.2,140.6 112.4,140.3 112.7,140.4 112.9,139.8 113.2,142.4 113.4,143.4 113.7,142.0 113.9,139.9 114.2,140.9 114.4,139.7 114.7,140.1 114.9,140.5 115.2,140.6 115.4,140.5 115.7,138.9 115.9,140.2 116.2,139.9 116.4,140.4 116.7,139.9 116.9,141.3 117.2,139.5 117.4,141.0 117.7,140.4 117.9,140.8 118.2,140.4 118.4,140.4 118.7,140.5 118.9,141.8 119.2,140.9 119.4,140.5 119.7,140.8 119.9,140.7 120.2,140.4 120.4,140.8 120.7,140.9 120.9,141.6 121.2,140.1 121.4,139.7 121.7,141.0 121.9,143.6 122.2,144.1 122.4,143.2 122.7,141.6 122.9,140.2 123.2,141.7 123.4,141.6 123.7,142.2 123.9,141.2 124.2,142.7 124.4,142.0 124.7,141.6 124.9,140.6 125.2,141.2 125.4,140.8 125.7,141.3 125.9,140.3 126.2,140.7 126.4,141.1 126.7,140.5 126.9,142.7 127.2,145.3 127.4,146.8 127.7,146.3 127.9,144.0 128.2,143.0 128.4,142.8 128.7,143.5 128.9,143.2 129.2,142.4 129.4,142.3 129.7,142.5 129.9,143.3 130.2,142.8 130.4,142.9 130.7,144.0 130.9,143.7 131.2,143.2 131.4,142.7 131.7,142.1 131.9,143.1 132.2,144.4 132.4,144.4 132.7,142.9 132.9,143.7 133.2,142.7 133.4,142.6 133.7,141.9 133.9,143.0 134.2,142.3 134.4,142.5 134.7,141.6 134.9,143.3 135.2,143.7 135.4,142.8 135.7,142.6 135.9,142.8 136.2,142.6 136.4,143.2 136.7,143.2 136.9,142.8 137.2,142.3 137.4,142.7 137.7,143.0 137.9,142.7 138.2,144.2 138.4,142.3 138.7,142.6 138.9,143.1 139.2,143.8 139.4,143.1 139.7,143.0 139.9,143.8 140.2,144.4 140.4,143.2 140.7,144.1 140.9,144.3 141.2,143.9 141.4,144.2 141.7,146.1 141.9,147.5 142.2,147.8 142.4,145.4 142.7,145.9 142.9,145.8 143.2,148.4 143.4,153.3 143.7,154.8 143.9,150.6 144.2,146.9 144.4,145.0 144.7,144.1 144.9,144.7 145.2,144.3 145.4,144.6 145.7,144.5 145.9,145.4 146.2,143.9 146.4,144.4 146.7,144.3 146.9,145.4 147.2,143.9 147.4,144.7 147.7,145.2 147.9,144.6 148.2,145.4 148.4,144.8 148.7,145.1 148.9,145.5 149.2,145.5 149.4,144.7 149.7,145.8 149.9,144.8 150.2,146.3 150.4,144.9 150.7,145.6 150.9,145.1 151.2,146.1 151.4,146.1 151.7,145.7 151.9,145.9 152.2,144.5 152.4,146.1 152.7,148.2 152.9,149.4 153.2,148.7 153.4,147.3 153.7,147.1 153.9,146.1 154.2,146.0 154.4,146.2 154.7,146.6 154.9,146.7 155.2,146.5 155.4,147.1 155.7,146.5 155.9,146.6 156.2,146.4 156.4,147.3 156.7,146.6 156.9,147.4 157.2,146.4 157.4,147.3 157.7,147.8 157.9,148.1 158.2,147.0 158.4,149.2 158.7,149.1 158.9,148.3 159.2,147.1 159.4,147.6 159.7,147.2 159.9,146.5 160.2,148.8 160.4,147.2 160.7,147.0 160.9,147.6 161.2,146.6 161.4,147.5 161.7,148.5 161.9,147.7 162.2,147.7 162.4,147.9 162.7,147.6 162.9,146.8 163.2,148.0 163.4,148.7 163.7,149.1 163.9,149.6 164.2,149.5 164.4,148.6 164.7,149.0" fill="none" stroke="#f47e70" stroke-width="1.1" stroke-linejoin="round"/>
<polyline points="187.4,129.6 187.7,132.5 187.9,132.6 188.2,132.3 188.4,134.9 188.7,133.9 188.9,138.8 189.2,140.6 189.4,143.6 189.7,142.7 189.9,141.2 190.2,138.7 190.4,136.4 190.7,135.2 190.9,133.2 191.2,131.8 191.4,133.2 191.7,130.8 191.9,129.0 192.2,130.9 192.4,130.1 192.7,130.8 192.9,131.4 193.2,129.2 193.4,128.6 193.7,129.5 193.9,131.6 194.2,133.1 194.4,133.8 194.7,133.0 194.9,135.0 195.2,137.5 195.4,138.6 195.7,141.3 195.9,142.1 196.2,143.3 196.4,140.5 196.7,140.8 196.9,137.5 197.2,134.7 197.4,131.3 197.7,132.0 197.9,131.3 198.2,132.6 198.4,132.1 198.7,134.4 198.9,131.8 199.2,129.9 199.4,132.1 199.7,129.8 199.9,130.9 200.2,130.0 200.4,131.9 200.7,129.9 200.9,132.0 201.2,130.6 201.4,135.5 201.7,134.5 201.9,134.7 202.2,133.5 202.4,131.2 202.7,131.6 202.9,132.8 203.2,131.3 203.4,131.1 203.7,132.4 203.9,131.9 204.2,132.0 204.4,132.8 204.7,130.1 204.9,129.4 205.2,130.9 205.4,132.7 205.7,133.1 205.9,135.7 206.2,136.2 206.4,134.2 206.7,132.5 206.9,130.8 207.2,131.9 207.4,131.2 207.7,131.6 207.9,132.6 208.2,134.0 208.4,129.7 208.7,130.9 208.9,130.0 209.2,130.5 209.4,133.1 209.7,134.6 209.9,133.2 210.2,131.8 210.4,130.6 210.7,130.0 210.9,133.0 211.2,132.8 211.4,131.5 211.7,133.1 211.9,132.7 212.2,133.4 212.4,132.1 212.7,133.7 212.9,130.7 213.2,132.4 213.4,133.5 213.7,131.7 213.9,132.5 214.2,132.4 214.4,131.9 214.7,131.4 214.9,131.2 215.2,132.3 215.4,135.2 215.7,132.7 215.9,132.8 216.2,134.2 216.4,130.1 216.7,131.4 216.9,131.8 217.2,132.5 217.4,131.8 217.7,132.2 217.9,131.8 218.2,132.0 218.4,132.6 218.7,131.3 218.9,134.4 219.2,130.6 219.4,133.6 219.7,133.6 219.9,132.9 220.2,133.6 220.4,131.5 220.7,134.0 220.9,133.3 221.2,133.8 221.4,134.2 221.7,134.0 221.9,134.7 222.2,133.8 222.4,134.7 222.7,132.4 222.9,134.5 223.2,131.8 223.4,133.0 223.7,130.9 223.9,134.6 224.2,137.3 224.4,135.1 224.7,138.6 224.9,142.5 225.2,145.4 225.4,148.4 225.7,142.8 225.9,142.6 226.2,138.6 226.4,135.2 226.7,136.3 226.9,134.7 227.2,133.9 227.4,134.4 227.7,135.6 227.9,134.5 228.2,134.4 228.4,134.4 228.7,133.9 228.9,135.5 229.2,135.7 229.4,136.1 229.7,139.0 229.9,141.9 230.2,142.0 230.4,143.3 230.7,140.3 230.9,139.1 231.2,135.9 231.4,136.1 231.7,136.1 231.9,137.1 232.2,137.5 232.4,137.5 232.7,136.3 232.9,135.1 233.2,134.6 233.4,137.5 233.7,135.3 233.9,135.2 234.2,134.3 234.4,135.4 234.7,133.9 234.9,135.4 235.2,136.3 235.4,135.6 235.7,138.1 235.9,136.7 236.2,137.7 236.4,135.1 236.7,134.9 236.9,135.1 237.2,136.9 237.4,134.9 237.7,136.8 237.9,136.4 238.2,138.0 238.4,136.1 238.7,136.2 238.9,137.8 239.2,135.2 239.4,137.5 239.7,137.1 239.9,136.5 240.2,136.7 240.4,138.0 240.7,138.1 240.9,138.7 241.2,140.3 241.4,141.7 241.7,144.6 241.9,142.5 242.2,142.6 242.4,139.8 242.7,138.4 242.9,136.8 243.2,138.8 243.4,138.9 243.7,138.7 243.9,138.1 244.2,140.5 244.4,141.5 244.7,139.0 244.9,138.5 245.2,138.7 245.4,140.0 245.7,140.0 245.9,140.6 246.2,137.0 246.4,137.6 246.7,136.9 246.9,139.1 247.2,138.1 247.4,138.9 247.7,136.0 247.9,136.9 248.2,138.4 248.4,139.0 248.7,140.4 248.9,139.8 249.2,137.9 249.4,137.6 249.7,137.2 249.9,140.5 250.2,139.8 250.4,139.3 250.7,141.1 250.9,140.5 251.2,138.9 251.4,141.1 251.7,137.2 251.9,140.4 252.2,140.6 252.4,141.0 252.7,142.2 252.9,139.2 253.2,141.5 253.4,139.9 253.7,139.1 253.9,142.4 254.2,143.0 254.4,140.4 254.7,139.1 254.9,139.3 255.2,139.9 255.4,140.9 255.7,140.6 255.9,140.4 256.1,140.0 256.4,141.0 256.6,140.2 256.9,138.9 257.1,141.5 257.4,140.6 257.6,140.1 257.9,141.5 258.1,140.9 258.4,139.9 258.6,138.9 258.9,140.4 259.1,140.2 259.4,139.7 259.6,139.6 259.9,140.2 260.1,140.4 260.4,141.1 260.6,140.2 260.9,139.0 261.1,140.0 261.4,140.3 261.6,140.3 261.9,139.8 262.1,142.4 262.4,140.1 262.6,139.3 262.9,139.6 263.1,141.6 263.4,140.5 263.6,143.1 263.9,145.3 264.1,147.2 264.4,147.8 264.6,146.4 264.9,143.1 265.1,143.0 265.4,141.8 265.6,145.6 265.9,141.3 266.1,144.0 266.4,143.1 266.6,143.3 266.9,141.8 267.1,142.4 267.4,141.0 267.6,142.3 267.9,142.1 268.1,143.1 268.4,143.7 268.6,145.0 268.9,144.1 269.1,144.3 269.4,142.2 269.6,143.6 269.9,144.3 270.1,144.2 270.4,143.2 270.6,144.2 270.9,143.2 271.1,143.9 271.4,143.1 271.6,143.2 271.9,144.6 272.1,143.4 272.4,145.6 272.6,145.0 272.9,143.4 273.1,148.1 273.4,145.9 273.6,144.7 273.9,144.4 274.1,144.3 274.4,144.9 274.6,145.6 274.9,147.3 275.1,147.1 275.4,145.0 275.6,144.4 275.9,143.4 276.1,146.3 276.4,144.5 276.6,145.8 276.9,145.8 277.1,145.5 277.4,147.7 277.6,149.6 277.9,152.5 278.1,157.6 278.4,158.8 278.6,159.3 278.9,157.1 279.1,154.7 279.4,150.0 279.6,148.5 279.9,149.4 280.1,148.6 280.4,150.0 280.6,147.5 280.9,147.0 281.1,147.9 281.4,146.2 281.6,146.6 281.9,148.6 282.1,149.9 282.4,146.4 282.6,148.8 282.9,150.5 283.1,149.1 283.4,148.7 283.6,149.7 283.9,149.8 284.1,150.3 284.4,148.9 284.6,151.1 284.9,152.9 285.1,151.7 285.4,150.1 285.6,148.8 285.9,149.4 286.1,149.4 286.4,151.6 286.6,151.9 286.9,151.6 287.1,149.2 287.4,147.9 287.6,150.2 287.9,148.6 288.1,150.3 288.4,150.2 288.6,149.8 288.9,147.9 289.1,150.3 289.4,150.7 289.6,153.9 289.9,154.3 290.1,153.2 290.4,150.2 290.6,152.0 290.9,149.4 291.1,149.9 291.4,150.9 291.6,150.5 291.9,151.7 292.1,150.6 292.4,151.9 292.6,151.9 292.9,150.2 293.1,150.1 293.4,151.5 293.6,152.1 293.9,153.0 294.1,151.0 294.4,151.9 294.6,155.3 294.9,154.1 295.1,153.9 295.4,151.4 295.6,153.5 295.9,151.6 296.1,152.6 296.4,151.9 296.6,152.2 296.9,154.1 297.1,152.4 297.4,154.4 297.6,154.4 297.9,153.7 298.1,152.7 298.4,150.9 298.6,150.9 298.9,153.9 299.1,151.9 299.4,153.1 299.6,153.1 299.9,154.6 300.1,153.2 300.4,155.0 300.6,156.0 300.9,156.5 301.1,155.8 301.4,155.9 301.6,155.8 301.9,156.7 302.1,153.0 302.4,153.0 302.6,154.2 302.9,158.8 303.1,156.5 303.4,155.0 303.6,154.7 303.9,156.6 304.1,156.0 304.4,157.2 304.6,157.7 304.9,156.5 305.1,155.3 305.4,156.8 305.6,157.9 305.9,156.5 306.1,155.2 306.4,154.6 306.6,156.6 306.9,156.0 307.1,155.7 307.4,157.0 307.6,154.7 307.9,156.0 308.1,155.0 308.4,156.5 308.6,156.3 308.9,158.0 309.1,158.3 309.4,158.9 309.6,158.3 309.9,156.8 310.1,157.7 310.4,157.0 310.6,159.0 310.9,156.0 311.1,160.3 311.4,159.2 311.6,159.0 311.9,160.1 312.1,158.9 312.4,161.8 312.6,158.8 312.9,159.6" fill="none" stroke="#000" stroke-width="1.25" stroke-linejoin="round"/>
<polyline points="187.4,129.2 187.7,130.0 187.9,129.5 188.2,130.0 188.4,129.9 188.7,130.3 188.9,132.2 189.2,136.1 189.4,143.4 189.7,142.1 189.9,138.0 190.2,132.2 190.4,131.6 190.7,130.0 190.9,130.9 191.2,131.1 191.4,133.1 191.7,132.6 191.9,131.3 192.2,131.3 192.4,131.1 192.7,129.8 192.9,128.8 193.2,129.3 193.4,131.2 193.7,130.4 193.9,131.2 194.2,129.1 194.4,130.5 194.7,129.9 194.9,130.1 195.2,130.4 195.4,132.6 195.7,137.7 195.9,142.2 196.2,142.1 196.4,140.1 196.7,136.3 196.9,132.0 197.2,130.1 197.4,131.2 197.7,132.5 197.9,136.3 198.2,136.9 198.4,134.5 198.7,132.1 198.9,131.7 199.2,130.4 199.4,130.7 199.7,128.1 199.9,129.4 200.2,132.6 200.4,130.3 200.7,130.4 200.9,130.3 201.2,131.2 201.4,131.5 201.7,132.0 201.9,131.9 202.2,131.2 202.4,132.0 202.7,131.1 202.9,131.0 203.2,131.2 203.4,132.3 203.7,133.3 203.9,134.7 204.2,133.8 204.4,132.1 204.7,132.2 204.9,131.5 205.2,133.1 205.4,132.0 205.7,133.9 205.9,134.3 206.2,134.0 206.4,132.5 206.7,131.6 206.9,131.4 207.2,130.3 207.4,131.0 207.7,131.3 207.9,132.4 208.2,131.9 208.4,131.0 208.7,132.4 208.9,132.2 209.2,131.3 209.4,133.9 209.7,132.2 209.9,133.5 210.2,133.6 210.4,131.1 210.7,131.7 210.9,133.1 211.2,132.1 211.4,133.0 211.7,134.0 211.9,135.2 212.2,132.1 212.4,131.2 212.7,133.5 212.9,132.2 213.2,131.0 213.4,132.0 213.7,132.9 213.9,132.0 214.2,133.0 214.4,131.5 214.7,132.3 214.9,130.4 215.2,132.0 215.4,131.5 215.7,133.7 215.9,132.8 216.2,133.0 216.4,132.5 216.7,131.7 216.9,131.8 217.2,132.1 217.4,132.0 217.7,132.1 217.9,133.9 218.2,131.7 218.4,132.0 218.7,131.6 218.9,133.1 219.2,132.2 219.4,131.9 219.7,134.3 219.9,132.9 220.2,133.2 220.4,133.7 220.7,133.6 220.9,133.0 221.2,133.1 221.4,133.3 221.7,133.3 221.9,132.5 222.2,133.7 222.4,132.9 222.7,134.2 222.9,134.8 223.2,134.1 223.4,134.5 223.7,134.3 223.9,134.8 224.2,134.3 224.4,135.6 224.7,136.0 224.9,136.5 225.2,139.7 225.4,138.5 225.7,136.6 225.9,134.5 226.2,133.4 226.4,134.3 226.7,136.0 226.9,133.6 227.2,134.2 227.4,135.0 227.7,134.1 227.9,133.9 228.2,134.9 228.4,134.9 228.7,135.3 228.9,134.4 229.2,135.1 229.4,135.2 229.7,136.4 229.9,139.7 230.2,140.9 230.4,139.7 230.7,138.8 230.9,135.8 231.2,134.8 231.4,135.0 231.7,133.7 231.9,136.0 232.2,134.8 232.4,135.8 232.7,135.2 232.9,135.9 233.2,134.4 233.4,135.6 233.7,136.5 233.9,134.5 234.2,136.4 234.4,136.2 234.7,135.6 234.9,136.7 235.2,136.0 235.4,135.0 235.7,136.4 235.9,135.5 236.2,136.3 236.4,135.6 236.7,134.8 236.9,135.8 237.2,136.7 237.4,135.1 237.7,137.5 237.9,136.5 238.2,137.0 238.4,136.9 238.7,137.3 238.9,136.3 239.2,135.7 239.4,135.9 239.7,137.1 239.9,136.4 240.2,137.2 240.4,137.0 240.7,137.8 240.9,136.7 241.2,137.0 241.4,141.4 241.7,141.5 241.9,138.4 242.2,137.8 242.4,139.2 242.7,136.3 242.9,138.3 243.2,137.3 243.4,136.1 243.7,137.6 243.9,137.9 244.2,138.6 244.4,137.2 244.7,139.0 244.9,138.2 245.2,136.6 245.4,138.3 245.7,137.3 245.9,137.6 246.2,138.1 246.4,138.8 246.7,140.2 246.9,141.1 247.2,143.4 247.4,140.8 247.7,139.4 247.9,138.8 248.2,137.5 248.4,137.0 248.7,139.3 248.9,138.8 249.2,139.7 249.4,139.8 249.7,137.7 249.9,139.6 250.2,139.1 250.4,137.6 250.7,139.5 250.9,140.2 251.2,140.3 251.4,140.0 251.7,139.9 251.9,138.2 252.2,140.3 252.4,140.3 252.7,139.8 252.9,143.8 253.2,140.4 253.4,140.8 253.7,141.1 253.9,143.0 254.2,142.8 254.4,142.8 254.7,141.0 254.9,139.8 255.2,139.1 255.4,142.0 255.7,139.2 255.9,139.9 256.1,141.3 256.4,139.1 256.6,141.6 256.9,139.0 257.1,140.2 257.4,140.1 257.6,139.7 257.9,140.3 258.1,139.5 258.4,139.7 258.6,139.7 258.9,139.8 259.1,138.8 259.4,139.9 259.6,139.9 259.9,140.9 260.1,140.1 260.4,140.1 260.6,140.7 260.9,139.3 261.1,140.0 261.4,141.2 261.6,140.3 261.9,140.5 262.1,141.0 262.4,140.8 262.6,140.3 262.9,141.3 263.1,143.6 263.4,145.6 263.6,147.4 263.9,150.1 264.1,154.1 264.4,154.0 264.6,149.4 264.9,145.6 265.1,141.0 265.4,141.0 265.6,143.4 265.9,140.7 266.1,141.6 266.4,141.5 266.6,141.8 266.9,142.7 267.1,142.4 267.4,141.8 267.6,142.7 267.9,143.0 268.1,142.1 268.4,142.8 268.6,142.1 268.9,143.4 269.1,143.4 269.4,144.2 269.6,141.8 269.9,142.6 270.1,144.0 270.4,143.5 270.6,142.6 270.9,143.0 271.1,143.9 271.4,143.4 271.6,144.6 271.9,143.9 272.1,144.7 272.4,144.6 272.6,144.1 272.9,144.4 273.1,144.6 273.4,144.6 273.6,143.8 273.9,144.5 274.1,145.8 274.4,142.3 274.6,144.5 274.9,144.8 275.1,145.2 275.4,146.4 275.6,145.9 275.9,144.6 276.1,145.6 276.4,145.8 276.6,144.5 276.9,145.6 277.1,146.0 277.4,146.4 277.6,146.0 277.9,149.1 278.1,152.7 278.4,156.7 278.6,155.8 278.9,150.8 279.1,149.0 279.4,147.6 279.6,147.7 279.9,147.1 280.1,148.4 280.4,147.6 280.6,147.1 280.9,148.1 281.1,145.7 281.4,149.2 281.6,147.3 281.9,147.6 282.1,147.0 282.4,148.1 282.6,147.3 282.9,147.7 283.1,148.8 283.4,150.7 283.6,152.0 283.9,152.0 284.1,148.9 284.4,148.4 284.6,149.6 284.9,150.8 285.1,150.5 285.4,148.5 285.6,149.6 285.9,149.5 286.1,149.8 286.4,148.8 286.6,149.9 286.9,150.0 287.1,148.7 287.4,148.2 287.6,150.5 287.9,149.7 288.1,150.9 288.4,149.6 288.6,148.4 288.9,149.3 289.1,149.5 289.4,150.6 289.6,153.8 289.9,157.8 290.1,159.9 290.4,156.9 290.6,152.2 290.9,151.0 291.1,149.8 291.4,152.3 291.6,151.8 291.9,150.9 292.1,150.0 292.4,150.8 292.6,151.1 292.9,150.1 293.1,151.6 293.4,150.8 293.6,150.4 293.9,150.7 294.1,151.4 294.4,153.0 294.6,151.4 294.9,152.8 295.1,153.5 295.4,152.8 295.6,154.8 295.9,156.0 296.1,156.0 296.4,155.5 296.6,152.9 296.9,152.2 297.1,151.9 297.4,153.6 297.6,153.7 297.9,153.4 298.1,154.0 298.4,151.9 298.6,153.7 298.9,152.7 299.1,151.9 299.4,154.7 299.6,152.4 299.9,154.3 300.1,154.2 300.4,156.7 300.6,156.5 300.9,156.7 301.1,153.7 301.4,153.7 301.6,154.1 301.9,155.7 302.1,154.1 302.4,154.7 302.6,154.0 302.9,155.6 303.1,155.2 303.4,156.7 303.6,156.0 303.9,155.9 304.1,155.3 304.4,157.2 304.6,158.8 304.9,157.5 305.1,158.2 305.4,155.7 305.6,156.6 305.9,155.8 306.1,155.3 306.4,155.9 306.6,154.3 306.9,157.1 307.1,157.9 307.4,157.7 307.6,159.5 307.9,162.2 308.1,167.3 308.4,168.2 308.6,166.3 308.9,162.8 309.1,162.9 309.4,161.6 309.6,159.3 309.9,158.5 310.1,157.1 310.4,158.3 310.6,161.2 310.9,164.5 311.1,165.4 311.4,161.9 311.6,161.8 311.9,158.9 312.1,160.4 312.4,161.9 312.6,160.7 312.9,160.5" fill="none" stroke="#f47e70" stroke-width="1.0" stroke-linejoin="round"/>
<polyline points="335.9,124.2 336.1,122.6 336.4,122.6 336.6,121.3 336.9,121.7 337.1,124.4 337.4,124.9 337.6,123.6 337.9,123.4 338.1,124.2 338.4,123.0 338.6,124.6 338.9,124.9 339.1,126.0 339.4,123.9 339.6,124.8 339.9,125.1 340.1,125.5 340.4,124.7 340.6,124.7 340.9,123.8 341.1,126.1 341.4,126.4 341.6,125.7 341.9,127.1 342.1,126.9 342.4,127.5 342.6,127.4 342.9,126.3 343.1,126.7 343.4,127.4 343.6,127.3 343.9,126.7 344.1,128.2 344.4,128.5 344.6,128.1 344.9,128.0 345.1,128.2 345.4,128.5 345.6,127.3 345.9,128.9 346.1,127.8 346.4,128.6 346.6,128.5 346.9,128.9 347.1,129.8 347.4,129.2 347.6,128.9 347.9,129.4 348.1,129.2 348.4,128.3 348.6,128.3 348.9,129.1 349.1,130.7 349.4,129.5 349.6,130.1 349.9,130.6 350.1,129.2 350.4,130.8 350.6,130.6 350.9,130.5 351.1,130.9 351.4,129.3 351.6,130.9 351.9,130.5 352.1,132.1 352.4,131.6 352.6,131.0 352.9,131.4 353.1,130.1 353.4,131.3 353.6,132.5 353.9,132.0 354.1,131.0 354.4,131.9 354.6,131.6 354.9,132.1 355.1,131.3 355.4,132.3 355.6,132.1 355.9,131.6 356.1,132.7 356.4,133.2 356.6,133.1 356.9,131.2 357.1,132.9 357.4,133.0 357.6,132.8 357.9,132.9 358.1,133.3 358.4,133.6 358.6,132.9 358.9,133.5 359.1,133.4 359.4,133.2 359.6,133.9 359.9,133.5 360.1,133.0 360.4,133.8 360.6,133.2 360.9,134.7 361.1,134.2 361.4,134.9 361.6,133.5 361.9,135.4 362.1,135.0 362.4,134.3 362.6,136.0 362.9,134.7 363.1,134.6 363.4,135.2 363.6,135.5 363.9,135.9 364.1,136.7 364.4,135.2 364.6,134.9 364.9,136.0 365.1,135.4 365.4,135.6 365.6,136.8 365.9,137.9 366.1,136.7 366.4,136.4 366.6,136.9 366.9,138.3 367.1,141.1 367.4,140.9 367.6,138.5 367.9,138.7 368.1,136.9 368.4,136.5 368.6,137.7 368.9,138.2 369.1,140.4 369.4,142.3 369.6,142.0 369.9,139.9 370.1,138.8 370.4,137.1 370.6,138.2 370.9,138.2 371.1,139.3 371.4,138.1 371.6,139.1 371.9,139.0 372.1,138.4 372.4,139.1 372.6,139.3 372.9,139.6 373.1,139.8 373.4,140.4 373.6,142.2 373.9,142.0 374.1,140.7 374.4,139.8 374.6,139.5 374.9,139.5 375.1,140.6 375.4,139.3 375.6,140.3 375.9,140.4 376.1,139.9 376.4,141.0 376.6,140.1 376.9,140.7 377.1,140.0 377.4,140.3 377.6,140.6 377.9,141.5 378.1,143.3 378.4,143.6 378.6,144.3 378.9,142.4 379.1,142.1 379.4,141.9 379.6,141.7 379.9,141.9 380.1,141.1 380.4,142.2 380.6,142.5 380.9,142.1 381.1,142.5 381.4,142.6 381.6,142.8 381.9,142.2 382.1,142.4 382.4,143.0 382.6,143.0 382.9,143.4 383.1,143.1 383.4,144.1 383.6,145.2 383.9,145.7 384.1,145.2 384.4,143.8 384.6,143.7 384.9,143.6 385.1,143.6 385.4,143.8 385.6,143.9 385.9,143.6 386.1,143.8 386.4,144.0 386.6,144.4 386.9,144.3 387.1,143.8 387.4,145.4 387.6,144.7 387.9,144.5 388.1,144.8 388.4,144.8 388.6,144.9 388.9,145.2 389.1,145.3 389.4,145.3 389.6,145.7 389.9,145.1 390.1,146.3 390.4,145.8 390.6,145.5 390.9,145.8 391.1,148.5 391.4,150.8 391.6,150.2 391.9,148.2 392.1,146.8 392.4,146.9 392.6,147.2 392.9,147.9 393.1,150.6 393.4,150.8 393.6,149.3 393.9,147.5 394.1,147.7 394.4,148.0 394.6,146.8 394.9,148.0 395.1,147.8 395.4,147.9 395.6,147.9 395.9,148.0 396.1,148.3 396.4,148.2 396.6,147.6 396.9,148.8 397.1,148.7 397.4,149.0 397.6,148.3 397.9,149.2 398.1,148.9 398.4,149.7 398.6,150.4 398.9,153.1 399.1,156.5 399.4,158.9 399.6,156.6 399.9,154.4 400.1,151.5 400.4,150.3 400.6,150.6 400.9,150.4 401.1,150.6 401.4,150.8 401.6,150.4 401.9,150.7 402.1,150.2 402.4,151.1 402.6,150.9 402.9,151.2 403.1,150.8 403.4,150.9 403.6,151.4 403.9,151.9 404.1,150.9 404.4,151.0 404.6,151.5 404.9,152.5 405.1,153.2 405.4,154.8 405.6,154.2 405.9,152.8 406.1,152.4 406.4,152.5 406.6,152.0 406.9,152.6 407.1,152.6 407.4,152.6 407.6,153.0 407.9,152.4 408.1,152.7 408.4,153.3 408.6,153.2 408.9,153.5 409.1,153.9 409.4,155.4 409.6,156.5 409.9,157.0 410.1,155.2 410.4,154.5 410.6,154.0 410.9,153.7 411.1,153.9 411.4,154.0 411.6,153.9 411.9,154.0 412.1,155.0 412.4,154.0 412.6,154.4 412.9,154.0 413.1,155.4 413.4,156.6 413.6,156.9 413.9,155.2 414.1,155.1 414.4,154.8 414.6,155.1 414.9,154.8 415.1,155.2 415.4,155.4 415.6,155.3 415.9,156.0 416.1,155.7 416.4,155.8 416.6,155.5 416.9,158.4 417.1,161.5 417.4,163.7 417.6,161.2 417.9,158.5 418.1,157.5 418.4,156.3 418.6,156.3 418.9,156.5 419.1,156.8 419.4,156.3 419.6,156.6 419.9,156.1 420.1,156.1 420.4,156.4 420.6,156.5 420.9,156.3 421.1,156.5 421.4,156.8 421.6,157.3 421.9,157.4 422.1,157.7 422.4,157.5 422.6,157.4 422.9,157.3 423.1,158.0 423.4,157.9 423.6,158.3 423.9,157.9 424.1,158.4 424.4,160.5 424.6,164.9 424.9,165.9 425.1,164.1 425.4,161.1 425.6,159.0 425.9,159.7 426.1,158.6 426.4,159.0 426.6,159.2 426.9,158.9 427.1,159.2 427.4,159.2 427.6,159.7 427.9,166.8 428.1,166.3 428.4,165.6 428.6,163.9 428.9,164.3 429.1,163.7 429.4,163.0 429.6,163.3 429.9,162.8 430.1,162.2 430.4,161.8 430.6,162.2 430.9,162.3 431.1,161.7 431.4,162.7 431.6,161.2 431.9,162.0 432.1,161.6 432.4,162.2 432.6,161.9 432.9,161.8 433.1,161.5 433.4,161.4 433.6,162.1 433.9,161.4 434.1,161.6 434.4,161.3 434.6,161.5 434.9,160.8 435.1,162.3 435.4,162.0 435.6,161.1 435.9,161.2 436.1,161.6 436.4,161.8 436.6,161.7 436.9,161.1 437.1,161.7 437.4,161.5 437.6,170.1 437.9,169.9 438.1,168.8 438.4,168.3 438.6,167.6 438.9,167.0 439.1,167.5 439.4,166.3 439.6,165.5 439.9,165.9 440.1,165.3 440.4,166.0 440.6,166.1 440.9,165.6 441.1,166.9 441.4,168.4 441.6,169.6 441.9,168.2 442.1,166.0 442.4,165.2 442.6,164.8 442.9,164.3 443.1,164.7 443.4,164.9 443.6,164.9 443.9,165.1 444.1,165.0 444.4,164.9 444.6,165.3 444.9,164.3 445.1,165.1 445.4,164.4 445.6,164.9 445.9,165.1 446.1,165.2 446.4,164.6 446.6,164.5 446.9,174.4 447.1,173.3 447.4,172.3 447.6,171.3 447.9,170.4 448.1,169.9 448.4,170.8 448.6,169.3 448.9,169.3 449.1,169.5 449.4,168.4 449.6,168.4 449.9,168.9 450.1,168.5 450.4,167.7 450.6,167.9 450.9,168.0 451.1,167.9 451.4,168.2 451.6,167.7 451.9,167.4 452.1,167.7 452.4,168.3 452.6,167.4 452.9,167.7 453.1,167.8 453.4,167.6 453.6,168.2 453.9,167.1 454.1,167.4 454.4,167.8 454.6,167.7 454.9,167.8 455.1,167.3 455.4,167.7 455.6,167.0 455.9,167.1 456.1,167.6 456.4,167.1 456.6,167.6 456.9,176.8 457.1,175.7 457.4,174.6 457.6,173.2 457.9,174.0 458.1,172.5 458.4,172.7 458.6,172.2 458.9,171.6 459.1,171.3 459.4,171.6 459.6,171.3 459.9,170.9 460.1,171.1 460.4,170.8 460.6,170.6 460.9,170.5 461.1,170.5 461.4,170.6 461.6,170.0 461.9,170.2" fill="none" stroke="#000" stroke-width="1.4" stroke-linejoin="round"/>
<polyline points="335.9,126.2 336.1,125.8 336.4,125.3 336.6,126.3 336.9,127.2 337.1,127.7 337.4,128.3 337.6,127.6 337.9,127.0 338.1,126.8 338.4,126.6 338.6,126.9 338.9,127.2 339.1,127.5 339.4,127.8 339.6,127.2 339.9,126.6 340.1,127.0 340.4,127.5 340.6,127.2 340.9,126.9 341.1,127.6 341.4,128.2 341.6,129.5 341.9,130.7 342.1,129.8 342.4,128.8 342.6,130.0 342.9,131.3 343.1,129.6 343.4,127.9 343.6,127.7 343.9,127.5 344.1,128.1 344.4,128.7 344.6,128.9 344.9,129.2 345.1,129.5 345.4,129.7 345.6,129.7 345.9,129.8 346.1,129.5 346.4,129.1 346.6,130.0 346.9,130.8 347.1,130.4 347.4,129.9 347.6,130.5 347.9,131.0 348.1,131.0 348.4,130.9 348.6,130.9 348.9,130.9 349.1,131.5 349.4,133.1 349.6,134.0 349.9,132.9 350.1,132.1 350.4,132.0 350.6,131.9 350.9,132.0 351.1,131.5 351.4,130.9 351.6,132.9 351.9,134.8 352.1,133.5 352.4,132.1 352.6,131.4 352.9,130.6 353.1,130.5 353.4,130.5 353.6,131.0 353.9,131.5 354.1,130.8 354.4,130.1 354.6,131.8 354.9,133.4 355.1,132.6 355.4,131.9 355.6,132.8 355.9,133.8 356.1,132.8 356.4,131.9 356.6,133.0 356.9,134.0 357.1,134.6 357.4,135.2 357.6,135.0 357.9,134.8 358.1,133.6 358.4,132.3 358.6,133.5 358.9,134.6 359.1,134.4 359.4,134.3 359.6,135.3 359.9,136.3 360.1,135.9 360.4,135.6 360.6,136.5 360.9,137.5 361.1,136.6 361.4,135.8 361.6,135.2 361.9,134.6 362.1,134.8 362.4,135.0 362.6,136.2 362.9,137.5 363.1,136.4 363.4,135.3 363.6,136.0 363.9,136.7 364.1,137.9 364.4,139.1 364.6,138.1 364.9,137.1 365.1,137.2 365.4,137.6 365.6,139.1 365.9,139.5 366.1,138.5 366.4,138.1 366.6,137.6 366.9,138.2 367.1,141.4 367.4,142.8 367.6,140.8 367.9,138.9 368.1,138.8 368.4,139.0 368.6,138.5 368.9,138.5 369.1,141.8 369.4,145.4 369.6,144.3 369.9,140.6 370.1,139.7 370.4,140.2 370.6,139.0 370.9,137.8 371.1,138.6 371.4,139.4 371.6,139.5 371.9,139.6 372.1,138.8 372.4,138.1 372.6,137.8 372.9,137.6 373.1,138.4 373.4,139.4 373.6,139.9 373.9,140.0 374.1,139.7 374.4,139.4 374.6,139.7 374.9,140.0 375.1,141.2 375.4,142.5 375.6,141.5 375.9,140.6 376.1,141.4 376.4,142.3 376.6,142.1 376.9,142.2 377.1,142.6 377.4,142.5 377.6,141.9 377.9,141.7 378.1,141.9 378.4,142.2 378.6,142.4 378.9,142.2 379.1,142.8 379.4,143.7 379.6,141.9 379.9,140.1 380.1,141.1 380.4,142.1 380.6,142.4 380.9,142.7 381.1,141.9 381.4,141.1 381.6,142.0 381.9,143.0 382.1,142.9 382.4,142.8 382.6,143.4 382.9,144.0 383.1,143.8 383.4,143.6 383.6,143.4 383.9,143.2 384.1,143.4 384.4,143.6 384.6,142.6 384.9,141.5 385.1,143.6 385.4,145.6 385.6,144.9 385.9,144.3 386.1,143.7 386.4,143.0 386.6,143.2 386.9,143.4 387.1,143.8 387.4,144.3 387.6,144.2 387.9,144.1 388.1,144.5 388.4,145.0 388.6,144.7 388.9,144.4 389.1,145.0 389.4,145.7 389.6,145.5 389.9,145.3 390.1,145.5 390.4,145.5 390.6,145.0 390.9,144.7 391.1,145.8 391.4,147.0 391.6,147.2 391.9,146.6 392.1,145.7 392.4,145.3 392.6,145.7 392.9,146.4 393.1,146.9 393.4,147.1 393.6,146.2 393.9,145.3 394.1,146.4 394.4,147.6 394.6,146.6 394.9,145.7 395.1,147.1 395.4,148.4 395.6,148.2 395.9,148.0 396.1,147.9 396.4,147.8 396.6,147.6 396.9,147.4 397.1,147.2 397.4,146.9 397.6,148.0 397.9,149.1 398.1,149.4 398.4,149.9 398.6,150.2 398.9,152.9 399.1,159.7 399.4,163.7 399.6,160.5 399.9,154.7 400.1,150.9 400.4,149.6 400.6,149.3 400.9,149.2 401.1,148.9 401.4,148.7 401.6,148.8 401.9,149.0 402.1,149.2 402.4,149.4 402.6,149.9 402.9,150.4 403.1,149.5 403.4,148.5 403.6,149.2 403.9,149.8 404.1,149.4 404.4,148.9 404.6,149.5 404.9,150.2 405.1,150.7 405.4,151.3 405.6,151.1 405.9,150.3 406.1,150.4 406.4,150.9 406.6,151.0 406.9,151.1 407.1,150.4 407.4,149.7 407.6,150.0 407.9,150.3 408.1,150.8 408.4,151.4 408.6,151.0 408.9,150.7 409.1,151.3 409.4,152.1 409.6,151.7 409.9,151.0 410.1,152.6 410.4,154.7 410.6,154.7 410.9,153.2 411.1,152.3 411.4,152.2 411.6,153.0 411.9,153.8 412.1,152.9 412.4,152.0 412.6,152.1 412.9,152.3 413.1,153.4 413.4,154.6 413.6,154.0 413.9,153.0 414.1,153.4 414.4,154.1 414.6,153.8 414.9,153.6 415.1,152.6 415.4,151.7 415.6,152.5 415.9,153.4 416.1,154.1 416.4,154.9 416.6,155.4 416.9,157.1 417.1,159.6 417.4,160.0 417.6,158.0 417.9,155.6 418.1,154.5 418.4,154.2 418.6,154.7 418.9,155.2 419.1,155.0 419.4,154.8 419.6,154.7 419.9,154.7 420.1,155.6 420.4,156.5 420.6,155.1 420.9,153.7 421.1,154.1 421.4,154.5 421.6,154.7 421.9,155.0 422.1,155.1 422.4,155.1 422.6,154.7 422.9,154.3 423.1,156.1 423.4,158.0 423.6,157.0 423.9,156.0 424.1,156.6 424.4,157.9 424.6,159.5 424.9,160.4 425.1,159.1 425.4,156.9 425.6,157.5 425.9,158.7 426.1,157.8 426.4,156.9 426.6,157.1 426.9,157.3 427.1,157.4 427.4,157.4 427.6,157.6 427.9,162.3 428.1,162.3 428.4,162.3 428.6,161.3 428.9,160.5 429.1,158.9 429.4,157.4 429.6,158.3 429.9,159.3 430.1,159.1 430.4,158.8 430.6,159.4 430.9,160.1 431.1,159.7 431.4,159.2 431.6,159.6 431.9,159.9 432.1,159.8 432.4,159.6 432.6,159.3 432.9,159.0 433.1,159.5 433.4,160.0 433.6,159.6 433.9,159.3 434.1,159.1 434.4,159.1 434.6,158.9 434.9,158.5 435.1,158.5 435.4,158.6 435.6,158.0 435.9,157.3 436.1,158.4 436.4,159.4 436.6,159.5 436.9,159.6 437.1,159.1 437.4,158.5 437.6,163.7 437.9,162.7 438.1,162.7 438.4,162.8 438.6,163.3 438.9,163.9 439.1,163.2 439.4,162.6 439.6,162.6 439.9,162.6 440.1,162.6 440.4,162.5 440.6,162.4 440.9,162.4 441.1,162.8 441.4,163.6 441.6,164.3 441.9,163.8 442.1,163.0 442.4,162.6 442.6,162.0 442.9,161.5 443.1,161.5 443.4,161.5 443.6,161.7 443.9,162.0 444.1,162.1 444.4,162.3 444.6,162.5 444.9,162.7 445.1,162.6 445.4,162.3 445.6,162.1 445.9,161.9 446.1,161.5 446.4,161.1 446.6,162.1 446.9,169.0 447.1,167.9 447.4,167.0 447.6,166.9 447.9,166.8 448.1,166.1 448.4,165.5 448.6,165.0 448.9,164.5 449.1,164.6 449.4,164.7 449.6,164.6 449.9,164.5 450.1,164.9 450.4,165.3 450.6,164.9 450.9,164.5 451.1,165.1 451.4,165.7 451.6,165.5 451.9,165.2 452.1,166.0 452.4,166.8 452.6,165.1 452.9,163.4 453.1,164.7 453.4,165.9 453.6,165.2 453.9,164.4 454.1,164.6 454.4,164.8 454.6,164.9 454.9,165.1 455.1,165.4 455.4,165.8 455.6,165.4 455.9,165.0 456.1,164.8 456.4,164.6 456.6,165.4 456.9,172.3 457.1,170.8 457.4,169.3 457.6,169.6 457.9,169.9 458.1,169.2 458.4,168.5 458.6,168.8 458.9,169.3 459.1,168.6 459.4,168.0 459.6,167.6 459.9,167.3 460.1,167.1 460.4,166.9 460.6,167.1 460.9,167.2 461.1,167.8 461.4,168.3 461.6,168.6 461.9,168.8" fill="none" stroke="#f47e70" stroke-width="1.1" stroke-linejoin="round"/>
<polyline points="38.9,151.9 39.1,152.9 39.4,152.3 39.6,152.4 39.9,152.0 40.1,151.7 40.4,152.3 40.6,151.8 40.9,153.3 41.1,155.3 41.4,155.6 41.6,154.5 41.9,152.6 42.1,152.7 42.4,152.5 42.6,151.5 42.9,151.8 43.1,152.0 43.4,152.9 43.6,153.1 43.9,153.5 44.1,153.3 44.4,153.2 44.6,153.8 44.9,155.4 45.1,158.5 45.4,160.2 45.6,156.4 45.9,153.9 46.1,153.7 46.4,154.5 46.6,154.9 46.9,155.3 47.1,154.6 47.4,154.5 47.6,153.8 47.9,153.3 48.1,152.7 48.4,152.9 48.6,152.7 48.9,152.6 49.1,153.1 49.4,154.0 49.6,152.8 49.9,156.3 50.1,160.4 50.4,161.8 50.6,160.3 50.9,156.3 51.1,153.8 51.4,153.3 51.6,152.8 51.9,154.4 52.1,154.8 52.4,154.4 52.6,153.5 52.9,153.9 53.1,154.0 53.4,153.4 53.6,153.8 53.9,154.2 54.1,153.8 54.4,153.2 54.6,153.5 54.9,154.3 55.1,154.6 55.4,156.6 55.6,160.9 55.9,162.2 56.1,160.0 56.4,157.2 56.6,156.8 56.9,154.7 57.1,155.8 57.4,155.5 57.6,154.6 57.9,154.6 58.1,155.5 58.4,155.3 58.6,156.3 58.9,161.3 59.1,165.3 59.4,166.0 59.6,161.6 59.9,157.1 60.1,155.6 60.4,155.1 60.6,155.9 60.9,156.9 61.1,157.4 61.4,157.0 61.6,156.6 61.9,156.7 62.1,158.3 62.4,162.7 62.6,162.7 62.9,160.5 63.1,157.7 63.4,155.1 63.6,156.3 63.9,155.0 64.2,154.8 64.4,155.2 64.7,155.5 64.9,157.0 65.2,158.5 65.4,159.4 65.7,157.4 65.9,156.3 66.2,155.3 66.4,156.1 66.7,155.4 66.9,154.9 67.2,156.5 67.4,155.4 67.7,155.8 67.9,157.9 68.2,163.3 68.4,166.9 68.7,166.9 68.9,162.2 69.2,158.8 69.4,156.3 69.7,156.2 69.9,155.7 70.2,157.2 70.4,156.1 70.7,156.2 70.9,156.3 71.2,155.8 71.4,156.5 71.7,157.2 71.9,161.9 72.2,164.2 72.4,162.7 72.7,159.6 72.9,156.4 73.2,157.2 73.4,157.3 73.7,156.1 73.9,156.9 74.2,156.7 74.4,157.9 74.7,158.5 74.9,158.9 75.2,161.4 75.4,163.4 75.7,163.0 75.9,160.1 76.2,158.1 76.4,157.4 76.7,156.9 76.9,158.6 77.2,158.0 77.4,157.9 77.7,156.9 77.9,157.6 78.2,157.2 78.4,157.0 78.7,157.1 78.9,156.2 79.2,158.1 79.4,159.4 79.7,159.8 79.9,159.6 80.2,158.1 80.4,157.5 80.7,157.1 80.9,157.6 81.2,157.6 81.4,157.3 81.7,157.2 81.9,157.1 82.2,157.0 82.4,157.6 82.7,157.1 82.9,156.7 83.2,157.5 83.4,158.0 83.7,157.3 83.9,157.9 84.2,157.8 84.4,157.0 84.7,157.7 84.9,157.5 85.2,158.0 85.4,156.2 85.7,158.1 85.9,158.1 86.2,157.3 86.4,158.3 86.7,157.7 86.9,158.1 87.2,159.5 87.4,161.7 87.7,161.9 87.9,160.7 88.2,158.9 88.4,157.7 88.7,158.8 88.9,158.4 89.2,158.1 89.4,158.6 89.7,158.3 89.9,157.8 90.2,158.6 90.4,158.2 90.7,158.5 90.9,158.7 91.2,158.7 91.4,159.2 91.7,158.5 91.9,158.7 92.2,159.2 92.4,159.7 92.7,159.9 92.9,159.1 93.2,158.2 93.4,158.3 93.7,158.5 93.9,159.5 94.2,158.3 94.4,159.0 94.7,158.2 94.9,159.1 95.2,160.3 95.4,159.2 95.7,160.2 95.9,158.4 96.2,159.3 96.4,158.8 96.7,159.4 96.9,159.9 97.2,162.3 97.4,164.7 97.7,165.7 97.9,163.7 98.2,162.3 98.4,161.1 98.7,160.6 98.9,160.0 99.2,160.3 99.4,161.1 99.7,160.0 99.9,161.0 100.2,159.6 100.4,159.9 100.7,160.5 100.9,160.6 101.2,160.7 101.4,161.2 101.7,160.3 101.9,161.0 102.2,160.7 102.4,159.3 102.7,160.7 102.9,162.4 103.2,165.4 103.4,167.3 103.7,165.9 103.9,165.0 104.2,162.9 104.4,162.5 104.7,162.1 104.9,160.9 105.2,162.1 105.4,162.0 105.7,161.5 105.9,161.6 106.2,161.7 106.4,161.8 106.7,162.5 106.9,162.2 107.2,161.3 107.4,161.3 107.7,162.4 107.9,160.9 108.2,161.5 108.4,162.1 108.7,162.4 108.9,163.2 109.2,162.7 109.4,164.4 109.7,162.8 109.9,163.2 110.2,163.4 110.4,162.9 110.7,163.5 110.9,163.4 111.2,163.4 111.4,163.3 111.7,163.7 111.9,164.2 112.2,163.6 112.4,163.8 112.7,164.1 112.9,165.1 113.2,167.0 113.4,168.4 113.7,167.5 113.9,166.2 114.2,164.8 114.4,163.7 114.7,163.5 114.9,164.2 115.2,163.1 115.4,163.6 115.7,164.4 115.9,163.8 116.2,163.6 116.4,164.6 116.7,162.7 116.9,164.0 117.2,163.8 117.4,163.9 117.7,164.8 117.9,165.5 118.2,165.4 118.4,165.0 118.7,164.8 118.9,164.7 119.2,164.7 119.4,163.7 119.7,164.1 119.9,164.6 120.2,164.3 120.4,164.8 120.7,163.6 120.9,164.2 121.2,164.0 121.4,165.2 121.7,165.6 121.9,168.5 122.2,170.6 122.4,169.8 122.7,166.4 122.9,164.9 123.2,166.2 123.4,165.2 123.7,166.2 123.9,165.8 124.2,167.0 124.4,166.5 124.7,166.6 124.9,166.2 125.2,166.0 125.4,165.2 125.7,165.1 125.9,164.6 126.2,164.4 126.4,165.8 126.7,165.4 126.9,166.0 127.2,167.2 127.4,169.7 127.7,171.7 127.9,169.8 128.2,166.1 128.4,165.8 128.7,165.8 128.9,164.8 129.2,165.5 129.4,165.2 129.7,165.9 129.9,165.9 130.2,164.3 130.4,165.2 130.7,166.1 130.9,165.8 131.2,165.4 131.4,166.0 131.7,166.0 131.9,167.7 132.2,167.8 132.4,168.5 132.7,167.0 132.9,166.6 133.2,166.2 133.4,166.1 133.7,166.1 133.9,166.0 134.2,164.7 134.4,166.0 134.7,165.4 134.9,164.6 135.2,166.6 135.4,165.8 135.7,165.0 135.9,166.0 136.2,166.1 136.4,166.0 136.7,166.7 136.9,165.4 137.2,166.5 137.4,165.5 137.7,166.3 137.9,166.4 138.2,165.9 138.4,167.4 138.7,165.3 138.9,165.4 139.2,166.0 139.4,165.8 139.7,166.8 139.9,166.0 140.2,167.0 140.4,166.1 140.7,166.8 140.9,166.8 141.2,166.9 141.4,168.9 141.7,172.9 141.9,178.0 142.2,177.6 142.4,171.6 142.7,168.5 142.9,168.0 143.2,168.9 143.4,171.8 143.7,172.9 143.9,169.0 144.2,167.7 144.4,167.7 144.7,167.3 144.9,167.0 145.2,167.3 145.4,167.3 145.7,167.9 145.9,166.6 146.2,167.4 146.4,168.4 146.7,168.3 146.9,167.4 147.2,167.2 147.4,166.4 147.7,166.5 147.9,166.9 148.2,167.9 148.4,167.9 148.7,168.2 148.9,168.0 149.2,168.0 149.4,167.8 149.7,167.3 149.9,168.4 150.2,167.7 150.4,167.0 150.7,168.2 150.9,168.1 151.2,169.4 151.4,168.7 151.7,170.6 151.9,170.9 152.2,171.1 152.4,170.1 152.7,170.3 152.9,171.9 153.2,170.7 153.4,170.1 153.7,168.6 153.9,168.8 154.2,168.2 154.4,168.3 154.7,168.7 154.9,169.2 155.2,168.9 155.4,167.7 155.7,169.3 155.9,168.9 156.2,169.4 156.4,169.7 156.7,169.6 156.9,168.9 157.2,169.2 157.4,170.1 157.7,171.5 157.9,172.0 158.2,172.0 158.4,170.5 158.7,170.3 158.9,169.6 159.2,171.1 159.4,170.5 159.7,170.7 159.9,170.5 160.2,170.0 160.4,169.1 160.7,171.1 160.9,170.6 161.2,169.6 161.4,172.1 161.7,171.1 161.9,171.7 162.2,170.9 162.4,170.2 162.7,170.8 162.9,171.7 163.2,170.4 163.4,171.8 163.7,174.1 163.9,175.3 164.2,174.1 164.4,171.4 164.7,171.8" fill="none" stroke="#000" stroke-width="1.15" stroke-linejoin="round"/>
<polyline points="38.9,152.2 39.1,151.6 39.4,152.2 39.6,152.0 39.9,152.2 40.1,151.2 40.4,151.9 40.6,152.4 40.9,152.0 41.1,151.7 41.4,151.3 41.6,151.8 41.9,153.0 42.1,151.9 42.4,152.9 42.6,152.0 42.9,152.9 43.1,152.1 43.4,152.7 43.6,153.0 43.9,153.3 44.1,152.6 44.4,153.1 44.6,153.6 44.9,155.3 45.1,156.5 45.4,156.4 45.6,155.0 45.9,152.7 46.1,152.9 46.4,154.0 46.6,154.6 46.9,153.6 47.1,153.7 47.4,152.6 47.6,153.9 47.9,152.9 48.1,153.5 48.4,152.3 48.6,152.7 48.9,153.0 49.1,154.0 49.4,153.1 49.6,154.3 49.9,154.3 50.1,157.8 50.4,157.9 50.6,156.1 50.9,153.8 51.1,153.9 51.4,153.4 51.6,153.6 51.9,153.5 52.1,153.9 52.4,154.5 52.6,153.6 52.9,153.9 53.1,153.6 53.4,152.9 53.6,153.8 53.9,154.8 54.1,153.6 54.4,155.3 54.6,154.4 54.9,154.5 55.1,155.2 55.4,156.3 55.6,159.2 55.9,161.6 56.1,158.9 56.4,156.5 56.6,154.4 56.9,154.7 57.1,156.4 57.4,155.5 57.6,154.7 57.9,154.5 58.1,155.9 58.4,155.9 58.6,156.2 58.9,160.6 59.1,164.1 59.4,164.5 59.6,160.7 59.9,157.5 60.1,155.3 60.4,154.9 60.6,156.0 60.9,155.2 61.1,154.6 61.4,155.6 61.6,155.3 61.9,156.7 62.1,161.5 62.4,165.6 62.6,166.2 62.9,162.1 63.1,158.3 63.4,155.6 63.6,155.8 63.9,155.8 64.2,156.0 64.4,155.7 64.7,155.2 64.9,156.9 65.2,158.4 65.4,158.7 65.7,158.0 65.9,155.6 66.2,155.8 66.4,155.5 66.7,155.4 66.9,156.3 67.2,155.6 67.4,157.1 67.7,155.1 67.9,159.1 68.2,161.7 68.4,163.6 68.7,162.9 68.9,159.4 69.2,157.6 69.4,157.0 69.7,155.8 69.9,156.2 70.2,156.4 70.4,156.4 70.7,156.1 70.9,157.0 71.2,156.5 71.4,155.7 71.7,157.3 71.9,158.7 72.2,160.2 72.4,160.1 72.7,158.1 72.9,156.9 73.2,156.8 73.4,157.0 73.7,156.2 73.9,156.6 74.2,157.3 74.4,156.3 74.7,156.4 74.9,156.9 75.2,159.3 75.4,160.2 75.7,160.8 75.9,158.2 76.2,157.3 76.4,157.0 76.7,156.5 76.9,156.3 77.2,157.4 77.4,156.7 77.7,157.2 77.9,157.3 78.2,156.2 78.4,157.7 78.7,157.3 78.9,157.2 79.2,157.4 79.4,157.9 79.7,158.6 79.9,159.4 80.2,157.7 80.4,156.8 80.7,157.1 80.9,158.4 81.2,157.3 81.4,158.3 81.7,156.9 81.9,156.9 82.2,156.7 82.4,156.8 82.7,157.3 82.9,157.5 83.2,156.4 83.4,156.9 83.7,157.0 83.9,157.3 84.2,158.3 84.4,159.0 84.7,159.7 84.9,161.1 85.2,159.6 85.4,158.8 85.7,156.9 85.9,157.8 86.2,158.4 86.4,159.0 86.7,158.3 86.9,158.0 87.2,157.9 87.4,158.1 87.7,159.4 87.9,158.0 88.2,158.0 88.4,157.7 88.7,157.1 88.9,156.9 89.2,157.8 89.4,157.6 89.7,158.4 89.9,159.4 90.2,161.3 90.4,162.2 90.7,160.5 90.9,159.4 91.2,159.6 91.4,157.7 91.7,158.0 91.9,159.0 92.2,158.6 92.4,158.0 92.7,158.6 92.9,158.1 93.2,159.0 93.4,158.5 93.7,158.6 93.9,158.8 94.2,157.6 94.4,158.7 94.7,159.1 94.9,158.9 95.2,158.7 95.4,159.0 95.7,159.9 95.9,159.5 96.2,159.0 96.4,160.5 96.7,161.1 96.9,161.4 97.2,161.2 97.4,163.8 97.7,163.4 97.9,162.7 98.2,161.4 98.4,160.3 98.7,159.1 98.9,159.3 99.2,160.2 99.4,160.5 99.7,160.0 99.9,159.9 100.2,161.1 100.4,161.1 100.7,160.3 100.9,160.1 101.2,160.7 101.4,159.7 101.7,160.5 101.9,160.6 102.2,161.2 102.4,161.0 102.7,160.0 102.9,163.2 103.2,164.4 103.4,164.2 103.7,163.4 103.9,162.8 104.2,160.7 104.4,161.7 104.7,160.7 104.9,160.5 105.2,162.3 105.4,162.5 105.7,161.5 105.9,163.1 106.2,163.4 106.4,164.2 106.7,163.3 106.9,163.4 107.2,164.0 107.4,164.0 107.7,163.9 107.9,163.6 108.2,163.2 108.4,162.7 108.7,163.3 108.9,163.0 109.2,162.4 109.4,162.1 109.7,162.3 109.9,162.0 110.2,162.5 110.4,163.2 110.7,164.2 110.9,163.9 111.2,163.6 111.4,163.4 111.7,163.4 111.9,164.1 112.2,163.6 112.4,162.6 112.7,163.8 112.9,163.8 113.2,166.3 113.4,168.1 113.7,166.4 113.9,164.9 114.2,165.4 114.4,165.6 114.7,167.6 114.9,166.7 115.2,165.2 115.4,163.9 115.7,164.8 115.9,164.3 116.2,164.4 116.4,164.1 116.7,164.8 116.9,163.3 117.2,164.3 117.4,164.6 117.7,165.7 117.9,163.3 118.2,163.6 118.4,164.1 118.7,164.4 118.9,163.8 119.2,164.7 119.4,164.2 119.7,164.4 119.9,163.6 120.2,164.6 120.4,164.5 120.7,165.2 120.9,164.9 121.2,165.3 121.4,164.8 121.7,164.7 121.9,166.8 122.2,166.7 122.4,166.2 122.7,165.3 122.9,165.5 123.2,165.9 123.4,165.0 123.7,165.6 123.9,165.9 124.2,164.6 124.4,163.9 124.7,164.8 124.9,165.8 125.2,165.1 125.4,165.5 125.7,166.7 125.9,165.5 126.2,164.4 126.4,165.4 126.7,165.7 126.9,165.0 127.2,166.1 127.4,167.9 127.7,168.2 127.9,167.8 128.2,166.5 128.4,165.8 128.7,166.1 128.9,165.1 129.2,164.8 129.4,164.6 129.7,165.0 129.9,164.7 130.2,165.2 130.4,165.9 130.7,166.3 130.9,165.8 131.2,165.8 131.4,165.7 131.7,166.2 131.9,166.5 132.2,167.2 132.4,166.6 132.7,166.1 132.9,166.0 133.2,165.6 133.4,165.8 133.7,166.8 133.9,166.0 134.2,166.1 134.4,165.8 134.7,166.1 134.9,165.3 135.2,166.2 135.4,166.3 135.7,166.4 135.9,165.1 136.2,165.8 136.4,166.7 136.7,166.4 136.9,165.2 137.2,165.6 137.4,165.4 137.7,166.3 137.9,166.6 138.2,166.0 138.4,165.2 138.7,166.2 138.9,165.1 139.2,166.7 139.4,165.7 139.7,165.7 139.9,165.6 140.2,166.2 140.4,166.3 140.7,166.7 140.9,166.9 141.2,167.8 141.4,169.1 141.7,170.1 141.9,170.6 142.2,170.4 142.4,168.9 142.7,167.2 142.9,167.7 143.2,170.9 143.4,176.9 143.7,179.7 143.9,174.2 144.2,168.9 144.4,167.2 144.7,167.0 144.9,167.0 145.2,166.3 145.4,167.1 145.7,166.7 145.9,166.8 146.2,166.9 146.4,166.6 146.7,166.8 146.9,167.6 147.2,166.7 147.4,167.1 147.7,167.6 147.9,167.5 148.2,167.6 148.4,166.9 148.7,166.8 148.9,167.5 149.2,167.3 149.4,166.7 149.7,167.7 149.9,168.0 150.2,168.6 150.4,167.8 150.7,167.8 150.9,167.6 151.2,168.2 151.4,167.9 151.7,169.2 151.9,167.8 152.2,169.0 152.4,168.6 152.7,169.2 152.9,171.2 153.2,170.9 153.4,170.5 153.7,169.8 153.9,169.7 154.2,169.2 154.4,168.7 154.7,168.9 154.9,169.4 155.2,169.6 155.4,170.1 155.7,170.3 155.9,168.9 156.2,169.1 156.4,169.0 156.7,168.9 156.9,170.1 157.2,170.0 157.4,169.8 157.7,169.9 157.9,171.7 158.2,171.4 158.4,170.6 158.7,170.1 158.9,169.7 159.2,171.2 159.4,170.5 159.7,170.5 159.9,171.4 160.2,171.3 160.4,170.7 160.7,170.3 160.9,171.1 161.2,172.1 161.4,172.6 161.7,171.7 161.9,171.3 162.2,170.1 162.4,170.0 162.7,170.9 162.9,171.6 163.2,172.0 163.4,171.7 163.7,172.1 163.9,173.3 164.2,172.9 164.4,171.5 164.7,171.6" fill="none" stroke="#f47e70" stroke-width="1.1" stroke-linejoin="round"/>
<polyline points="187.4,155.4 187.7,153.1 187.9,156.4 188.2,156.6 188.4,156.7 188.7,157.8 188.9,159.2 189.2,159.8 189.4,163.1 189.7,164.6 189.9,164.2 190.2,162.0 190.4,159.4 190.7,156.4 190.9,155.3 191.2,153.6 191.4,155.0 191.7,153.3 191.9,154.9 192.2,153.3 192.4,155.4 192.7,155.6 192.9,155.6 193.2,155.6 193.4,155.0 193.7,155.5 193.9,154.8 194.2,155.4 194.4,157.1 194.7,155.3 194.9,160.2 195.2,159.0 195.4,160.2 195.7,163.2 195.9,164.8 196.2,163.5 196.4,162.3 196.7,163.9 196.9,159.3 197.2,159.2 197.4,156.7 197.7,155.3 197.9,155.3 198.2,154.3 198.4,154.3 198.7,155.4 198.9,153.8 199.2,153.9 199.4,156.1 199.7,156.5 199.9,155.8 200.2,155.6 200.4,154.5 200.7,154.9 200.9,154.2 201.2,153.1 201.4,158.3 201.7,160.2 201.9,159.9 202.2,155.3 202.4,156.4 202.7,154.5 202.9,153.8 203.2,154.8 203.4,156.1 203.7,155.5 203.9,156.5 204.2,155.3 204.4,156.2 204.7,156.3 204.9,154.4 205.2,156.0 205.4,155.3 205.7,159.1 205.9,159.4 206.2,160.5 206.4,157.5 206.7,154.8 206.9,155.9 207.2,154.6 207.4,155.9 207.7,155.0 207.9,156.5 208.2,155.3 208.4,157.2 208.7,156.2 208.9,156.3 209.2,154.5 209.4,153.8 209.7,155.2 209.9,158.3 210.2,156.1 210.4,158.3 210.7,157.9 210.9,155.8 211.2,156.7 211.4,159.4 211.7,158.5 211.9,157.8 212.2,156.8 212.4,157.1 212.7,156.8 212.9,158.2 213.2,157.1 213.4,158.3 213.7,157.4 213.9,160.0 214.2,157.1 214.4,156.9 214.7,156.2 214.9,155.3 215.2,156.1 215.4,157.2 215.7,156.1 215.9,158.0 216.2,155.6 216.4,155.6 216.7,157.6 216.9,157.7 217.2,156.3 217.4,158.6 217.7,159.1 217.9,158.5 218.2,157.6 218.4,161.4 218.7,160.3 218.9,159.9 219.2,159.9 219.4,158.2 219.7,159.8 219.9,157.3 220.2,158.9 220.4,158.8 220.7,160.1 220.9,159.1 221.2,159.2 221.4,157.7 221.7,157.8 221.9,157.4 222.2,158.8 222.4,157.4 222.7,159.6 222.9,158.0 223.2,156.9 223.4,157.5 223.7,159.4 223.9,158.1 224.2,160.1 224.4,160.1 224.7,164.9 224.9,167.6 225.2,168.4 225.4,168.2 225.7,164.6 225.9,161.4 226.2,159.6 226.4,160.3 226.7,159.2 226.9,159.4 227.2,158.0 227.4,159.4 227.7,157.1 227.9,159.1 228.2,157.6 228.4,158.3 228.7,159.4 228.9,159.8 229.2,159.4 229.4,160.3 229.7,163.9 229.9,165.6 230.2,165.2 230.4,165.8 230.7,163.5 230.9,162.6 231.2,160.6 231.4,159.8 231.7,159.3 231.9,158.6 232.2,160.2 232.4,159.6 232.7,156.9 232.9,158.8 233.2,159.5 233.4,158.5 233.7,158.4 233.9,158.7 234.2,159.7 234.4,158.4 234.7,159.8 234.9,160.9 235.2,160.9 235.4,161.3 235.7,160.0 235.9,161.0 236.2,159.6 236.4,160.4 236.7,158.5 236.9,160.9 237.2,159.1 237.4,160.0 237.7,161.7 237.9,161.3 238.2,160.8 238.4,160.5 238.7,161.1 238.9,160.9 239.2,160.6 239.4,159.7 239.7,160.7 239.9,162.1 240.2,161.7 240.4,159.6 240.7,159.5 240.9,161.2 241.2,163.1 241.4,165.1 241.7,165.2 241.9,165.8 242.2,161.6 242.4,161.0 242.7,158.5 242.9,160.7 243.2,161.8 243.4,161.9 243.7,160.0 243.9,159.0 244.2,158.9 244.4,160.1 244.7,160.8 244.9,160.8 245.2,158.9 245.4,159.9 245.7,160.6 245.9,161.7 246.2,161.4 246.4,161.3 246.7,159.8 246.9,162.6 247.2,161.2 247.4,161.2 247.7,160.3 247.9,160.8 248.2,160.7 248.4,160.7 248.7,160.5 248.9,162.2 249.2,162.3 249.4,160.7 249.7,160.4 249.9,160.5 250.2,161.0 250.4,162.8 250.7,161.3 250.9,163.3 251.2,160.3 251.4,160.5 251.7,161.0 251.9,161.1 252.2,162.3 252.4,163.7 252.7,161.2 252.9,162.3 253.2,163.6 253.4,165.4 253.7,164.6 253.9,166.7 254.2,166.7 254.4,163.9 254.7,163.5 254.9,162.5 255.2,162.3 255.4,163.2 255.7,165.4 255.9,165.1 256.1,163.4 256.4,161.6 256.6,164.0 256.9,162.8 257.1,164.4 257.4,163.1 257.6,161.9 257.9,162.8 258.1,162.5 258.4,164.9 258.6,161.3 258.9,163.2 259.1,163.6 259.4,162.3 259.6,164.8 259.9,164.7 260.1,164.6 260.4,164.5 260.6,163.7 260.9,165.2 261.1,164.9 261.4,166.2 261.6,165.8 261.9,164.7 262.1,164.7 262.4,163.6 262.6,164.2 262.9,163.8 263.1,164.6 263.4,165.3 263.6,165.4 263.9,169.8 264.1,172.7 264.4,171.6 264.6,169.0 264.9,165.9 265.1,165.3 265.4,165.0 265.6,166.1 265.9,165.5 266.1,166.2 266.4,166.1 266.6,165.1 266.9,164.4 267.1,164.7 267.4,164.9 267.6,165.8 267.9,167.0 268.1,165.0 268.4,166.6 268.6,166.0 268.9,167.5 269.1,168.7 269.4,167.5 269.6,166.8 269.9,167.0 270.1,167.8 270.4,166.3 270.6,165.9 270.9,166.9 271.1,168.5 271.4,166.4 271.6,168.5 271.9,168.4 272.1,167.2 272.4,166.6 272.6,165.8 272.9,166.4 273.1,167.8 273.4,168.4 273.6,167.2 273.9,167.3 274.1,167.3 274.4,170.7 274.6,167.1 274.9,167.1 275.1,169.5 275.4,167.5 275.6,169.7 275.9,168.5 276.1,171.3 276.4,172.5 276.6,170.8 276.9,170.7 277.1,169.5 277.4,172.4 277.6,174.2 277.9,177.4 278.1,181.4 278.4,182.4 278.6,181.3 278.9,178.5 279.1,176.7 279.4,172.4 279.6,170.6 279.9,170.5 280.1,171.0 280.4,170.2 280.6,170.1 280.9,170.2 281.1,171.3 281.4,171.8 281.6,174.0 281.9,169.7 282.1,170.9 282.4,171.4 282.6,170.6 282.9,170.5 283.1,172.5 283.4,173.7 283.6,173.5 283.9,172.3 284.1,171.9 284.4,173.7 284.6,172.8 284.9,175.0 285.1,177.0 285.4,174.4 285.6,173.1 285.9,172.6 286.1,172.4 286.4,172.1 286.6,173.6 286.9,173.6 287.1,173.7 287.4,170.9 287.6,174.7 287.9,174.6 288.1,175.9 288.4,174.4 288.6,173.0 288.9,174.0 289.1,174.2 289.4,177.1 289.6,175.3 289.9,177.2 290.1,178.5 290.4,176.8 290.6,175.9 290.9,174.3 291.1,176.7 291.4,175.4 291.6,174.3 291.9,175.6 292.1,173.8 292.4,174.1 292.6,175.0 292.9,175.4 293.1,177.3 293.4,177.3 293.6,176.5 293.9,175.5 294.1,177.8 294.4,176.2 294.6,176.6 294.9,175.7 295.1,175.7 295.4,175.0 295.6,178.5 295.9,176.2 296.1,177.3 296.4,176.2 296.6,175.4 296.9,176.2 297.1,176.1 297.4,175.6 297.6,177.1 297.9,178.6 298.1,177.3 298.4,178.2 298.6,178.5 298.9,175.4 299.1,179.3 299.4,176.2 299.6,179.4 299.9,177.8 300.1,178.3 300.4,180.0 300.6,178.9 300.9,176.3 301.1,176.3 301.4,177.0 301.6,179.3 301.9,178.6 302.1,179.2 302.4,178.8 302.6,179.7 302.9,177.5 303.1,176.7 303.4,178.0 303.6,179.6 303.9,178.0 304.1,177.3 304.4,180.0 304.6,181.6 304.9,180.6 305.1,179.2 305.4,178.8 305.6,177.3 305.9,179.4 306.1,181.4 306.4,179.1 306.6,181.3 306.9,178.5 307.1,179.4 307.4,179.4 307.6,179.9 307.9,178.2 308.1,181.2 308.4,179.8 308.6,178.0 308.9,180.9 309.1,180.5 309.4,179.2 309.6,180.4 309.9,181.7 310.1,182.0 310.4,181.9 310.6,180.6 310.9,181.4 311.1,182.3 311.4,183.3 311.6,181.8 311.9,182.1 312.1,182.4 312.4,181.3 312.6,180.0 312.9,181.4" fill="none" stroke="#000" stroke-width="1.25" stroke-linejoin="round"/>
<polyline points="187.4,153.3 187.7,155.4 187.9,156.1 188.2,155.9 188.4,155.5 188.7,154.4 188.9,154.4 189.2,158.4 189.4,161.8 189.7,163.4 189.9,159.6 190.2,156.3 190.4,154.5 190.7,153.7 190.9,154.3 191.2,155.4 191.4,153.9 191.7,153.3 191.9,154.4 192.2,157.1 192.4,157.5 192.7,157.4 192.9,155.2 193.2,155.0 193.4,153.8 193.7,155.1 193.9,154.3 194.2,154.6 194.4,155.3 194.7,152.5 194.9,155.4 195.2,156.8 195.4,156.5 195.7,159.7 195.9,163.2 196.2,163.5 196.4,159.3 196.7,155.3 196.9,154.0 197.2,153.2 197.4,153.9 197.7,153.7 197.9,153.2 198.2,154.8 198.4,154.8 198.7,156.0 198.9,154.3 199.2,156.3 199.4,156.2 199.7,154.3 199.9,153.5 200.2,153.1 200.4,155.4 200.7,154.6 200.9,155.1 201.2,155.0 201.4,154.9 201.7,157.4 201.9,158.7 202.2,157.3 202.4,156.5 202.7,154.6 202.9,155.7 203.2,153.3 203.4,155.3 203.7,155.0 203.9,155.7 204.2,156.1 204.4,155.6 204.7,155.3 204.9,154.7 205.2,156.1 205.4,155.7 205.7,157.1 205.9,158.0 206.2,158.1 206.4,156.0 206.7,157.7 206.9,155.6 207.2,155.2 207.4,155.3 207.7,156.3 207.9,156.1 208.2,157.4 208.4,157.3 208.7,159.2 208.9,162.3 209.2,161.5 209.4,159.2 209.7,158.3 209.9,158.9 210.2,157.0 210.4,157.4 210.7,156.8 210.9,156.5 211.2,155.2 211.4,156.4 211.7,155.2 211.9,155.9 212.2,156.2 212.4,156.1 212.7,155.5 212.9,157.4 213.2,156.5 213.4,157.7 213.7,156.7 213.9,155.3 214.2,157.9 214.4,157.6 214.7,158.2 214.9,156.7 215.2,155.3 215.4,157.1 215.7,156.2 215.9,156.4 216.2,156.3 216.4,156.2 216.7,158.0 216.9,156.4 217.2,155.5 217.4,159.0 217.7,157.5 217.9,157.6 218.2,159.0 218.4,158.0 218.7,156.3 218.9,158.4 219.2,158.3 219.4,158.0 219.7,156.2 219.9,157.7 220.2,156.2 220.4,157.9 220.7,158.2 220.9,158.5 221.2,157.1 221.4,159.0 221.7,157.7 221.9,157.7 222.2,157.3 222.4,158.3 222.7,158.6 222.9,158.9 223.2,160.3 223.4,164.3 223.7,165.1 223.9,167.1 224.2,166.5 224.4,162.9 224.7,159.8 224.9,160.4 225.2,162.5 225.4,161.0 225.7,160.6 225.9,160.1 226.2,159.2 226.4,158.7 226.7,160.5 226.9,159.2 227.2,159.7 227.4,158.4 227.7,157.8 227.9,158.8 228.2,158.9 228.4,160.7 228.7,160.2 228.9,161.1 229.2,159.0 229.4,158.0 229.7,159.5 229.9,161.8 230.2,164.5 230.4,163.3 230.7,160.8 230.9,160.1 231.2,159.3 231.4,159.7 231.7,158.6 231.9,160.1 232.2,157.5 232.4,158.0 232.7,159.1 232.9,159.8 233.2,160.4 233.4,159.6 233.7,159.5 233.9,159.6 234.2,159.4 234.4,159.2 234.7,158.3 234.9,158.6 235.2,159.3 235.4,158.2 235.7,159.5 235.9,160.8 236.2,160.0 236.4,159.3 236.7,158.9 236.9,160.3 237.2,162.3 237.4,163.2 237.7,161.1 237.9,160.4 238.2,160.1 238.4,159.4 238.7,159.1 238.9,160.8 239.2,160.2 239.4,160.8 239.7,159.4 239.9,159.5 240.2,160.0 240.4,159.5 240.7,159.0 240.9,159.6 241.2,160.2 241.4,162.9 241.7,162.3 241.9,162.8 242.2,161.4 242.4,158.7 242.7,159.8 242.9,160.2 243.2,159.2 243.4,160.2 243.7,160.7 243.9,160.1 244.2,161.7 244.4,161.8 244.7,160.6 244.9,160.2 245.2,161.6 245.4,161.7 245.7,160.8 245.9,161.7 246.2,159.7 246.4,162.6 246.7,163.6 246.9,162.5 247.2,162.1 247.4,160.5 247.7,163.3 247.9,161.1 248.2,161.0 248.4,160.8 248.7,161.6 248.9,162.6 249.2,164.2 249.4,163.0 249.7,161.0 249.9,161.5 250.2,160.7 250.4,161.5 250.7,159.2 250.9,162.9 251.2,161.8 251.4,160.9 251.7,162.4 251.9,161.8 252.2,161.6 252.4,163.9 252.7,163.9 252.9,165.0 253.2,164.8 253.4,163.3 253.7,163.2 253.9,164.1 254.2,163.8 254.4,164.9 254.7,162.2 254.9,163.6 255.2,163.6 255.4,163.1 255.7,162.6 255.9,162.1 256.1,163.5 256.4,164.7 256.6,164.1 256.9,164.1 257.1,163.0 257.4,163.2 257.6,163.9 257.9,161.6 258.1,162.6 258.4,161.9 258.6,161.9 258.9,163.8 259.1,164.1 259.4,163.5 259.6,163.2 259.9,162.7 260.1,164.0 260.4,164.4 260.6,166.3 260.9,164.0 261.1,163.9 261.4,165.1 261.6,163.1 261.9,164.6 262.1,164.4 262.4,163.1 262.6,166.8 262.9,167.3 263.1,165.6 263.4,166.2 263.6,168.2 263.9,171.5 264.1,176.9 264.4,176.5 264.6,174.1 264.9,168.1 265.1,165.9 265.4,164.2 265.6,164.9 265.9,166.9 266.1,167.1 266.4,166.2 266.6,164.7 266.9,164.0 267.1,166.1 267.4,164.9 267.6,165.5 267.9,167.1 268.1,164.9 268.4,165.9 268.6,168.5 268.9,168.5 269.1,168.9 269.4,168.3 269.6,166.7 269.9,166.7 270.1,167.4 270.4,166.7 270.6,166.5 270.9,167.5 271.1,167.3 271.4,165.9 271.6,169.9 271.9,169.7 272.1,168.0 272.4,170.2 272.6,169.3 272.9,166.9 273.1,168.1 273.4,168.4 273.6,168.9 273.9,167.0 274.1,168.6 274.4,167.9 274.6,168.4 274.9,168.1 275.1,168.4 275.4,167.3 275.6,169.2 275.9,168.3 276.1,169.1 276.4,168.4 276.6,169.5 276.9,169.7 277.1,169.2 277.4,168.8 277.6,170.0 277.9,173.3 278.1,178.2 278.4,181.0 278.6,180.2 278.9,176.5 279.1,170.6 279.4,170.3 279.6,170.8 279.9,170.5 280.1,170.6 280.4,171.2 280.6,169.4 280.9,171.1 281.1,170.9 281.4,168.7 281.6,171.7 281.9,170.2 282.1,171.1 282.4,171.7 282.6,171.2 282.9,171.6 283.1,171.8 283.4,171.2 283.6,171.6 283.9,170.5 284.1,172.7 284.4,171.6 284.6,172.4 284.9,174.4 285.1,174.0 285.4,172.4 285.6,172.0 285.9,173.8 286.1,173.0 286.4,172.7 286.6,173.3 286.9,173.5 287.1,173.1 287.4,174.4 287.6,175.5 287.9,179.5 288.1,179.7 288.4,175.7 288.6,172.8 288.9,172.4 289.1,173.3 289.4,175.7 289.6,175.3 289.9,176.9 290.1,177.0 290.4,175.6 290.6,175.3 290.9,176.4 291.1,174.1 291.4,175.4 291.6,176.0 291.9,176.2 292.1,175.6 292.4,175.1 292.6,176.4 292.9,176.5 293.1,174.0 293.4,173.9 293.6,175.7 293.9,177.1 294.1,175.0 294.4,176.7 294.6,177.3 294.9,178.4 295.1,176.7 295.4,175.8 295.6,174.9 295.9,176.2 296.1,176.8 296.4,176.9 296.6,178.1 296.9,177.6 297.1,177.8 297.4,176.6 297.6,177.9 297.9,180.1 298.1,180.1 298.4,177.8 298.6,178.4 298.9,177.2 299.1,178.8 299.4,177.5 299.6,176.6 299.9,178.7 300.1,178.6 300.4,178.1 300.6,179.5 300.9,178.6 301.1,178.3 301.4,177.9 301.6,177.6 301.9,179.9 302.1,179.2 302.4,179.6 302.6,179.3 302.9,181.1 303.1,181.3 303.4,181.3 303.6,181.1 303.9,180.5 304.1,178.6 304.4,177.2 304.6,178.6 304.9,178.5 305.1,179.5 305.4,179.3 305.6,182.4 305.9,182.4 306.1,180.9 306.4,180.0 306.6,179.2 306.9,180.1 307.1,180.3 307.4,181.3 307.6,178.2 307.9,180.2 308.1,181.4 308.4,182.8 308.6,184.3 308.9,183.1 309.1,181.9 309.4,180.1 309.6,180.7 309.9,182.1 310.1,180.5 310.4,181.3 310.6,181.1 310.9,182.3 311.1,179.2 311.4,180.2 311.6,180.0 311.9,181.2 312.1,181.5 312.4,182.4 312.6,182.6 312.9,181.6" fill="none" stroke="#f47e70" stroke-width="1.0" stroke-linejoin="round"/>
<polyline points="335.9,151.6 336.1,152.1 336.4,152.0 336.6,151.8 336.9,152.2 337.1,152.9 337.4,151.7 337.6,154.9 337.9,152.2 338.1,153.1 338.4,155.0 338.6,153.4 338.9,153.8 339.1,154.4 339.4,155.4 339.6,153.5 339.9,155.5 340.1,153.5 340.4,156.1 340.6,155.6 340.9,155.2 341.1,154.7 341.4,156.3 341.6,155.9 341.9,156.3 342.1,154.4 342.4,155.6 342.6,155.9 342.9,156.2 343.1,154.6 343.4,154.8 343.6,156.6 343.9,156.0 344.1,156.6 344.4,155.7 344.6,156.7 344.9,156.1 345.1,156.0 345.4,156.1 345.6,157.4 345.9,156.0 346.1,156.0 346.4,156.8 346.6,157.8 346.9,158.1 347.1,158.2 347.4,158.5 347.6,157.5 347.9,157.7 348.1,159.3 348.4,158.1 348.6,158.6 348.9,157.8 349.1,158.9 349.4,157.8 349.6,158.4 349.9,158.7 350.1,158.8 350.4,159.5 350.6,159.7 350.9,159.9 351.1,159.4 351.4,159.0 351.6,159.5 351.9,159.3 352.1,159.2 352.4,161.0 352.6,159.1 352.9,160.5 353.1,159.8 353.4,159.0 353.6,161.7 353.9,160.2 354.1,159.8 354.4,162.2 354.6,160.5 354.9,160.9 355.1,162.0 355.4,160.4 355.6,160.5 355.9,161.7 356.1,161.6 356.4,160.9 356.6,160.6 356.9,160.8 357.1,162.1 357.4,162.7 357.6,162.8 357.9,162.4 358.1,162.5 358.4,160.9 358.6,162.4 358.9,162.2 359.1,163.5 359.4,162.6 359.6,162.9 359.9,163.0 360.1,163.3 360.4,163.5 360.6,164.5 360.9,164.2 361.1,163.7 361.4,163.1 361.6,164.7 361.9,164.3 362.1,163.9 362.4,163.6 362.6,163.5 362.9,164.8 363.1,164.9 363.4,164.4 363.6,164.4 363.9,165.6 364.1,165.0 364.4,164.7 364.6,164.5 364.9,165.5 365.1,165.5 365.4,164.6 365.6,164.0 365.9,165.7 366.1,165.8 366.4,166.2 366.6,166.4 366.9,166.4 367.1,170.0 367.4,169.5 367.6,168.8 367.9,166.8 368.1,166.0 368.4,165.6 368.6,166.1 368.9,167.1 369.1,168.5 369.4,171.3 369.6,170.4 369.9,168.6 370.1,166.7 370.4,166.4 370.6,166.4 370.9,166.3 371.1,167.4 371.4,167.6 371.6,166.7 371.9,166.8 372.1,167.7 372.4,167.4 372.6,167.6 372.9,166.8 373.1,168.5 373.4,168.8 373.6,170.3 373.9,170.2 374.1,169.0 374.4,168.0 374.6,167.6 374.9,167.9 375.1,168.2 375.4,167.6 375.6,167.9 375.9,168.3 376.1,168.3 376.4,169.5 376.6,167.8 376.9,168.5 377.1,168.2 377.4,168.3 377.6,168.5 377.9,169.1 378.1,171.1 378.4,172.9 378.6,172.9 378.9,171.6 379.1,169.5 379.4,168.7 379.6,169.3 379.9,167.6 380.1,169.4 380.4,169.6 380.6,168.9 380.9,169.1 381.1,168.9 381.4,168.6 381.6,169.3 381.9,169.2 382.1,168.9 382.4,169.6 382.6,168.8 382.9,169.6 383.1,169.5 383.4,169.5 383.6,169.5 383.9,169.5 384.1,168.9 384.4,168.6 384.6,169.4 384.9,170.0 385.1,169.6 385.4,169.7 385.6,169.7 385.9,169.8 386.1,169.8 386.4,169.9 386.6,169.0 386.9,169.8 387.1,169.3 387.4,170.2 387.6,169.3 387.9,169.6 388.1,170.1 388.4,169.8 388.6,170.1 388.9,169.6 389.1,170.9 389.4,170.0 389.6,169.7 389.9,170.4 390.1,169.9 390.4,170.2 390.6,170.2 390.9,170.9 391.1,172.5 391.4,175.1 391.6,174.6 391.9,171.9 392.1,171.0 392.4,170.4 392.6,170.7 392.9,171.9 393.1,173.6 393.4,174.6 393.6,172.4 393.9,171.2 394.1,171.1 394.4,170.2 394.6,170.5 394.9,170.6 395.1,170.5 395.4,170.5 395.6,170.4 395.9,170.0 396.1,170.7 396.4,171.5 396.6,170.5 396.9,170.9 397.1,170.9 397.4,170.6 397.6,170.8 397.9,171.2 398.1,170.9 398.4,171.1 398.6,172.2 398.9,174.0 399.1,177.0 399.4,179.1 399.6,177.4 399.9,174.3 400.1,173.1 400.4,171.2 400.6,171.2 400.9,171.8 401.1,172.0 401.4,171.4 401.6,171.6 401.9,171.4 402.1,172.1 402.4,171.8 402.6,172.0 402.9,171.7 403.1,172.1 403.4,172.1 403.6,172.3 403.9,172.3 404.1,171.6 404.4,171.9 404.6,173.2 404.9,172.9 405.1,174.1 405.4,175.0 405.6,174.9 405.9,174.0 406.1,173.0 406.4,173.0 406.6,173.2 406.9,172.7 407.1,173.4 407.4,172.8 407.6,172.5 407.9,172.8 408.1,173.3 408.4,174.0 408.6,173.3 408.9,173.5 409.1,173.6 409.4,175.1 409.6,176.6 409.9,176.9 410.1,175.5 410.4,173.8 410.6,174.1 410.9,173.8 411.1,174.1 411.4,174.0 411.6,174.0 411.9,174.4 412.1,174.3 412.4,174.6 412.6,174.8 412.9,174.5 413.1,176.0 413.4,177.6 413.6,177.0 413.9,175.5 414.1,175.6 414.4,175.5 414.6,175.2 414.9,174.9 415.1,175.0 415.4,175.3 415.6,175.3 415.9,175.4 416.1,175.7 416.4,176.1 416.6,176.3 416.9,177.8 417.1,181.1 417.4,182.4 417.6,180.7 417.9,178.3 418.1,176.7 418.4,176.4 418.6,175.9 418.9,176.5 419.1,175.9 419.4,176.5 419.6,176.0 419.9,176.7 420.1,176.8 420.4,176.6 420.6,177.1 420.9,177.3 421.1,177.5 421.4,177.4 421.6,177.7 421.9,177.0 422.1,178.1 422.4,177.8 422.6,177.4 422.9,177.9 423.1,177.7 423.4,178.2 423.6,178.3 423.9,178.4 424.1,178.5 424.4,180.6 424.6,184.3 424.9,186.0 425.1,183.8 425.4,180.6 425.6,179.4 425.9,179.4 426.1,179.3 426.4,179.7 426.6,179.6 426.9,179.1 427.1,179.7 427.4,179.2 427.6,179.8 427.9,185.2 428.1,184.7 428.4,184.2 428.6,183.8 428.9,183.4 429.1,183.2 429.4,182.4 429.6,182.8 429.9,182.5 430.1,182.4 430.4,182.8 430.6,182.4 430.9,182.0 431.1,182.4 431.4,181.6 431.6,182.1 431.9,181.4 432.1,182.3 432.4,182.6 432.6,181.9 432.9,181.7 433.1,181.3 433.4,182.1 433.6,181.8 433.9,181.8 434.1,182.1 434.4,181.6 434.6,182.0 434.9,182.5 435.1,181.7 435.4,181.8 435.6,182.1 435.9,182.0 436.1,181.6 436.4,181.7 436.6,181.5 436.9,182.0 437.1,181.1 437.4,181.9 437.6,188.7 437.9,188.8 438.1,188.0 438.4,187.8 438.6,187.6 438.9,187.2 439.1,186.1 439.4,186.7 439.6,186.5 439.9,186.3 440.1,186.4 440.4,186.2 440.6,184.9 440.9,186.5 441.1,187.3 441.4,188.8 441.6,189.2 441.9,188.0 442.1,186.6 442.4,186.1 442.6,185.5 442.9,185.7 443.1,185.5 443.4,185.8 443.6,185.1 443.9,185.8 444.1,186.0 444.4,186.1 444.6,185.9 444.9,185.8 445.1,185.4 445.4,185.2 445.6,185.4 445.9,185.4 446.1,185.3 446.4,185.3 446.6,185.1 446.9,192.7 447.1,191.7 447.4,191.7 447.6,190.8 447.9,190.2 448.1,190.4 448.4,190.2 448.6,189.2 448.9,189.4 449.1,189.0 449.4,189.4 449.6,189.5 449.9,188.8 450.1,188.9 450.4,189.0 450.6,189.1 450.9,188.9 451.1,188.8 451.4,188.5 451.6,188.6 451.9,188.9 452.1,188.1 452.4,188.5 452.6,187.8 452.9,188.2 453.1,188.7 453.4,188.7 453.6,189.1 453.9,189.3 454.1,188.8 454.4,188.5 454.6,188.5 454.9,188.9 455.1,189.3 455.4,188.4 455.6,189.0 455.9,187.8 456.1,188.2 456.4,188.4 456.6,188.2 456.9,195.6 457.1,194.3 457.4,194.4 457.6,193.6 457.9,194.0 458.1,193.0 458.4,193.1 458.6,192.6 458.9,193.0 459.1,192.1 459.4,192.1 459.6,192.5 459.9,192.3 460.1,192.3 460.4,191.5 460.6,192.0 460.9,191.5 461.1,191.4 461.4,191.4 461.6,191.8 461.9,192.1" fill="none" stroke="#000" stroke-width="1.4" stroke-linejoin="round"/>
<polyline points="335.9,149.9 336.1,150.5 336.4,151.1 336.6,151.5 336.9,152.0 337.1,151.3 337.4,150.7 337.6,151.1 337.9,151.4 338.1,152.3 338.4,153.2 338.6,153.6 338.9,154.0 339.1,154.0 339.4,153.9 339.6,153.7 339.9,153.5 340.1,154.2 340.4,154.9 340.6,154.0 340.9,153.1 341.1,153.4 341.4,153.7 341.6,153.8 341.9,153.8 342.1,154.7 342.4,155.5 342.6,154.5 342.9,153.6 343.1,153.9 343.4,154.3 343.6,155.7 343.9,157.1 344.1,155.9 344.4,154.7 344.6,154.0 344.9,153.3 345.1,155.0 345.4,156.7 345.6,157.0 345.9,157.2 346.1,156.2 346.4,155.2 346.6,155.3 346.9,155.4 347.1,155.7 347.4,156.0 347.6,156.5 347.9,157.1 348.1,157.9 348.4,158.7 348.6,158.6 348.9,158.6 349.1,157.3 349.4,156.0 349.6,157.9 349.9,159.7 350.1,158.4 350.4,157.2 350.6,157.9 350.9,158.7 351.1,158.6 351.4,158.5 351.6,158.5 351.9,158.4 352.1,158.0 352.4,157.7 352.6,159.8 352.9,161.8 353.1,160.8 353.4,160.2 353.6,161.9 353.9,163.0 354.1,161.2 354.4,159.4 354.6,160.1 354.9,160.9 355.1,160.4 355.4,159.9 355.6,160.5 355.9,161.2 356.1,161.6 356.4,162.1 356.6,161.1 356.9,160.2 357.1,160.7 357.4,161.2 357.6,161.6 357.9,162.1 358.1,162.9 358.4,164.2 358.6,164.7 358.9,164.3 359.1,162.8 359.4,161.7 359.6,161.5 359.9,161.3 360.1,161.8 360.4,162.4 360.6,163.1 360.9,163.8 361.1,164.0 361.4,164.2 361.6,163.0 361.9,161.8 362.1,161.6 362.4,161.4 362.6,162.2 362.9,163.0 363.1,163.6 363.4,164.2 363.6,164.8 363.9,165.4 364.1,164.4 364.4,163.4 364.6,163.9 364.9,164.3 365.1,165.0 365.4,165.8 365.6,165.0 365.9,164.1 366.1,165.2 366.4,166.9 366.6,169.4 366.9,172.2 367.1,172.9 367.4,171.4 367.6,169.3 367.9,168.1 368.1,166.6 368.4,165.6 368.6,165.1 368.9,165.3 369.1,169.2 369.4,173.5 369.6,172.8 369.9,169.6 370.1,168.1 370.4,167.9 370.6,167.3 370.9,166.8 371.1,166.2 371.4,165.6 371.6,166.0 371.9,166.4 372.1,166.6 372.4,166.7 372.6,166.6 372.9,166.5 373.1,167.1 373.4,167.9 373.6,168.5 373.9,168.7 374.1,167.9 374.4,167.2 374.6,166.5 374.9,166.0 375.1,165.7 375.4,165.5 375.6,166.7 375.9,167.9 376.1,167.9 376.4,168.0 376.6,167.7 376.9,167.5 377.1,168.7 377.4,169.9 377.6,168.9 377.9,168.0 378.1,169.0 378.4,170.1 378.6,170.1 378.9,169.6 379.1,168.7 379.4,168.1 379.6,169.1 379.9,170.0 380.1,169.7 380.4,169.3 380.6,169.3 380.9,169.2 381.1,168.5 381.4,167.8 381.6,168.1 381.9,168.4 382.1,168.3 382.4,168.2 382.6,168.6 382.9,169.1 383.1,169.2 383.4,169.3 383.6,169.7 383.9,170.1 384.1,169.0 384.4,168.0 384.6,168.8 384.9,169.7 385.1,169.7 385.4,169.9 385.6,170.9 385.9,172.5 386.1,171.6 386.4,170.1 386.6,171.4 386.9,172.3 387.1,170.7 387.4,169.4 387.6,169.6 387.9,169.9 388.1,169.6 388.4,169.5 388.6,169.4 388.9,169.3 389.1,170.1 389.4,171.0 389.6,171.0 389.9,170.9 390.1,171.1 390.4,171.4 390.6,171.1 390.9,170.9 391.1,171.0 391.4,171.3 391.6,172.1 391.9,172.1 392.1,171.4 392.4,171.2 392.6,171.7 392.9,172.6 393.1,172.5 393.4,172.1 393.6,171.4 393.9,170.7 394.1,171.0 394.4,171.5 394.6,171.0 394.9,170.5 395.1,170.8 395.4,171.2 395.6,171.3 395.9,171.4 396.1,171.7 396.4,171.9 396.6,171.8 396.9,171.6 397.1,171.5 397.4,171.3 397.6,171.8 397.9,172.3 398.1,172.6 398.4,173.1 398.6,174.4 398.9,178.1 399.1,183.8 399.4,186.9 399.6,183.8 399.9,178.1 400.1,175.1 400.4,174.3 400.6,173.2 400.9,172.5 401.1,172.0 401.4,171.6 401.6,172.2 401.9,172.8 402.1,173.5 402.4,174.1 402.6,173.1 402.9,172.1 403.1,172.1 403.4,171.9 403.6,173.4 403.9,174.9 404.1,173.8 404.4,172.7 404.6,173.6 404.9,174.6 405.1,174.7 405.4,174.9 405.6,175.6 405.9,175.6 406.1,174.4 406.4,173.5 406.6,173.7 406.9,173.8 407.1,174.4 407.4,175.0 407.6,174.9 407.9,174.8 408.1,175.2 408.4,175.6 408.6,176.1 408.9,176.6 409.1,176.0 409.4,175.7 409.6,176.6 409.9,176.9 410.1,176.3 410.4,175.8 410.6,175.6 410.9,175.5 411.1,176.1 411.4,176.7 411.6,176.3 411.9,175.9 412.1,176.3 412.4,176.7 412.6,177.2 412.9,177.8 413.1,177.2 413.4,176.7 413.6,177.1 413.9,177.0 414.1,176.9 414.4,177.0 414.6,177.0 414.9,177.0 415.1,177.6 415.4,178.3 415.6,178.1 415.9,178.0 416.1,178.0 416.4,178.0 416.6,178.1 416.9,179.1 417.1,182.4 417.4,184.7 417.6,181.6 417.9,177.6 418.1,176.9 418.4,177.0 418.6,177.6 418.9,178.3 419.1,178.9 419.4,179.6 419.6,179.0 419.9,178.4 420.1,178.8 420.4,179.1 420.6,178.6 420.9,178.1 421.1,178.7 421.4,179.4 421.6,179.5 421.9,179.5 422.1,179.9 422.4,180.2 422.6,179.9 422.9,179.7 423.1,179.7 423.4,179.7 423.6,179.9 423.9,180.2 424.1,180.0 424.4,180.6 424.6,183.2 424.9,185.0 425.1,184.4 425.4,183.0 425.6,181.6 425.9,181.0 426.1,181.8 426.4,182.6 426.6,182.5 426.9,182.3 427.1,181.9 427.4,181.4 427.6,182.2 427.9,189.4 428.1,188.0 428.4,186.7 428.6,186.8 428.9,187.1 429.1,185.8 429.4,184.5 429.6,184.6 429.9,184.7 430.1,183.9 430.4,183.1 430.6,183.8 430.9,184.4 431.1,184.2 431.4,183.9 431.6,183.9 431.9,183.9 432.1,184.6 432.4,185.4 432.6,185.4 432.9,185.4 433.1,185.5 433.4,185.6 433.6,185.0 433.9,184.4 434.1,184.9 434.4,185.3 434.6,184.2 434.9,183.2 435.1,183.4 435.4,183.7 435.6,184.2 435.9,184.7 436.1,184.6 436.4,184.6 436.6,184.5 436.9,184.4 437.1,185.2 437.4,185.9 437.6,193.6 437.9,193.0 438.1,191.5 438.4,190.2 438.6,190.3 438.9,190.6 439.1,189.6 439.4,188.8 439.6,188.5 439.9,188.2 440.1,188.6 440.4,189.1 440.6,188.8 440.9,188.6 441.1,188.3 441.4,188.5 441.6,189.5 441.9,189.4 442.1,188.8 442.4,188.8 442.6,187.7 442.9,186.7 443.1,187.0 443.4,187.4 443.6,187.7 443.9,188.1 444.1,187.6 444.4,187.0 444.6,187.1 444.9,187.2 445.1,188.0 445.4,188.8 445.6,189.1 445.9,189.4 446.1,188.7 446.4,187.8 446.6,187.6 446.9,195.5 447.1,194.6 447.4,193.9 447.6,192.7 447.9,191.6 448.1,192.0 448.4,192.5 448.6,192.4 448.9,192.2 449.1,192.1 449.4,192.0 449.6,192.4 449.9,192.7 450.1,191.5 450.4,190.3 450.6,191.0 450.9,191.8 451.1,191.4 451.4,191.0 451.6,190.7 451.9,190.5 452.1,191.0 452.4,191.5 452.6,191.1 452.9,190.7 453.1,190.5 453.4,190.3 453.6,190.9 453.9,191.5 454.1,191.0 454.4,190.5 454.6,190.8 454.9,191.2 455.1,191.4 455.4,191.6 455.6,191.5 455.9,191.3 456.1,190.8 456.4,190.2 456.6,191.0 456.9,199.7 457.1,198.9 457.4,198.3 457.6,196.8 457.9,195.5 458.1,195.1 458.4,194.7 458.6,193.9 458.9,193.1 459.1,193.8 459.4,194.4 459.6,193.8 459.9,193.3 460.1,193.8 460.4,194.4 460.6,194.4 460.9,194.5 461.1,194.8 461.4,195.1 461.6,194.5 461.9,193.9" fill="none" stroke="#f47e70" stroke-width="1.1" stroke-linejoin="round"/>
<polyline points="38.9,176.6 39.1,177.5 39.4,177.9 39.6,177.7 39.9,177.5 40.1,176.1 40.4,176.3 40.6,177.3 40.9,177.4 41.1,177.1 41.4,176.9 41.6,177.9 41.9,177.6 42.1,177.2 42.4,176.7 42.6,177.2 42.9,176.9 43.1,177.2 43.4,177.4 43.6,177.2 43.9,177.1 44.1,177.5 44.4,177.5 44.6,177.5 44.9,180.3 45.1,184.1 45.4,184.6 45.6,181.0 45.9,178.5 46.1,178.0 46.4,180.0 46.6,181.0 46.9,179.6 47.1,178.0 47.4,178.1 47.6,177.6 47.9,177.9 48.1,177.0 48.4,177.5 48.6,178.1 48.9,178.3 49.1,177.4 49.4,177.6 49.6,179.6 49.9,181.6 50.1,186.4 50.4,189.6 50.6,186.2 50.9,180.7 51.1,178.8 51.4,177.9 51.6,177.7 51.9,178.1 52.1,178.2 52.4,179.3 52.6,179.1 52.9,180.1 53.1,179.5 53.4,177.7 53.6,177.4 53.9,178.4 54.1,178.6 54.4,178.1 54.6,178.2 54.9,180.9 55.1,181.3 55.4,184.1 55.6,187.8 55.9,190.0 56.1,187.6 56.4,182.7 56.6,178.6 56.9,178.6 57.1,179.1 57.4,178.7 57.6,178.3 57.9,179.0 58.1,178.4 58.4,178.8 58.6,180.5 58.9,183.7 59.1,188.5 59.4,188.4 59.6,184.4 59.9,181.2 60.1,179.2 60.4,179.0 60.6,179.0 60.9,178.7 61.1,179.1 61.4,179.1 61.6,179.3 61.9,179.5 62.1,182.8 62.4,186.4 62.6,187.7 62.9,185.1 63.1,181.5 63.4,179.7 63.6,180.4 63.9,179.4 64.2,179.6 64.4,179.7 64.7,179.2 64.9,180.6 65.2,181.9 65.4,182.6 65.7,181.2 65.9,179.4 66.2,180.0 66.4,180.0 66.7,178.8 66.9,179.7 67.2,179.7 67.4,178.8 67.7,179.5 67.9,182.3 68.2,186.3 68.4,190.8 68.7,191.2 68.9,184.9 69.2,181.8 69.4,181.2 69.7,181.7 69.9,181.8 70.2,180.6 70.4,179.9 70.7,179.4 70.9,180.5 71.2,179.4 71.4,180.6 71.7,181.8 71.9,185.0 72.2,187.5 72.4,185.7 72.7,182.7 72.9,181.0 73.2,180.2 73.4,179.6 73.7,180.7 73.9,179.0 74.2,180.5 74.4,181.3 74.7,181.5 74.9,181.4 75.2,184.4 75.4,187.6 75.7,186.2 75.9,183.7 76.2,181.1 76.4,181.1 76.7,179.9 76.9,180.9 77.2,181.2 77.4,181.3 77.7,181.2 77.9,180.4 78.2,181.3 78.4,179.8 78.7,181.3 78.9,182.1 79.2,182.5 79.4,181.3 79.7,181.4 79.9,180.7 80.2,180.4 80.4,181.2 80.7,182.5 80.9,181.6 81.2,181.5 81.4,181.8 81.7,181.5 81.9,181.5 82.2,180.3 82.4,180.6 82.7,182.2 82.9,181.2 83.2,180.7 83.4,181.8 83.7,181.4 83.9,180.2 84.2,180.9 84.4,180.7 84.7,180.7 84.9,180.9 85.2,180.6 85.4,181.1 85.7,181.5 85.9,181.3 86.2,181.3 86.4,181.9 86.7,181.4 86.9,182.1 87.2,182.9 87.4,184.7 87.7,186.0 87.9,183.6 88.2,182.4 88.4,182.3 88.7,181.7 88.9,183.6 89.2,183.5 89.4,182.3 89.7,183.2 89.9,182.1 90.2,182.4 90.4,181.6 90.7,182.1 90.9,181.8 91.2,182.1 91.4,181.6 91.7,181.7 91.9,181.6 92.2,181.0 92.4,181.7 92.7,182.4 92.9,181.7 93.2,181.8 93.4,183.1 93.7,181.6 93.9,182.5 94.2,182.9 94.4,183.0 94.7,183.0 94.9,183.1 95.2,183.1 95.4,183.0 95.7,182.7 95.9,184.4 96.2,183.2 96.4,183.4 96.7,183.0 96.9,184.4 97.2,186.1 97.4,190.0 97.7,191.8 97.9,190.0 98.2,186.1 98.4,185.4 98.7,184.2 98.9,184.2 99.2,184.9 99.4,184.2 99.7,183.6 99.9,184.6 100.2,184.6 100.4,184.6 100.7,184.8 100.9,184.5 101.2,184.7 101.4,184.2 101.7,185.3 101.9,184.7 102.2,185.8 102.4,185.7 102.7,186.1 102.9,188.7 103.2,191.5 103.4,193.3 103.7,191.1 103.9,187.5 104.2,186.7 104.4,184.7 104.7,184.9 104.9,186.1 105.2,186.3 105.4,184.5 105.7,186.4 105.9,185.9 106.2,184.6 106.4,185.3 106.7,185.1 106.9,185.8 107.2,185.6 107.4,186.4 107.7,185.9 107.9,186.3 108.2,186.4 108.4,185.4 108.7,185.9 108.9,186.3 109.2,186.2 109.4,185.8 109.7,186.4 109.9,185.7 110.2,186.1 110.4,186.6 110.7,186.7 110.9,185.8 111.2,186.5 111.4,186.7 111.7,186.9 111.9,186.8 112.2,186.6 112.4,186.0 112.7,185.9 112.9,187.0 113.2,188.6 113.4,189.8 113.7,189.2 113.9,187.8 114.2,187.9 114.4,185.9 114.7,186.3 114.9,185.9 115.2,186.2 115.4,186.1 115.7,186.4 115.9,186.4 116.2,186.3 116.4,186.6 116.7,187.3 116.9,187.3 117.2,186.9 117.4,187.4 117.7,186.1 117.9,187.2 118.2,189.2 118.4,189.1 118.7,188.2 118.9,187.4 119.2,187.0 119.4,187.6 119.7,188.0 119.9,186.6 120.2,186.7 120.4,187.0 120.7,187.4 120.9,187.7 121.2,187.3 121.4,187.7 121.7,188.3 121.9,191.0 122.2,192.0 122.4,192.5 122.7,189.5 122.9,187.4 123.2,187.6 123.4,187.0 123.7,188.2 123.9,188.2 124.2,187.7 124.4,186.8 124.7,186.7 124.9,187.8 125.2,187.2 125.4,188.8 125.7,187.1 125.9,187.0 126.2,188.3 126.4,189.1 126.7,187.9 126.9,190.4 127.2,192.2 127.4,194.6 127.7,195.3 127.9,193.2 128.2,190.2 128.4,189.0 128.7,188.5 128.9,188.0 129.2,187.1 129.4,187.9 129.7,187.9 129.9,187.6 130.2,188.4 130.4,188.9 130.7,188.7 130.9,188.1 131.2,187.5 131.4,188.7 131.7,189.6 131.9,190.4 132.2,191.5 132.4,191.1 132.7,189.4 132.9,188.2 133.2,189.5 133.4,189.2 133.7,189.3 133.9,188.7 134.2,189.0 134.4,187.7 134.7,188.6 134.9,188.7 135.2,188.5 135.4,188.7 135.7,188.5 135.9,189.4 136.2,189.1 136.4,189.2 136.7,188.6 136.9,189.4 137.2,190.1 137.4,188.8 137.7,189.3 137.9,187.7 138.2,190.0 138.4,189.9 138.7,189.2 138.9,189.6 139.2,188.5 139.4,189.8 139.7,188.7 139.9,189.1 140.2,189.0 140.4,189.8 140.7,189.5 140.9,189.5 141.2,190.3 141.4,190.8 141.7,195.6 141.9,199.8 142.2,199.9 142.4,195.1 142.7,190.6 142.9,190.8 143.2,190.8 143.4,193.6 143.7,194.4 143.9,193.3 144.2,190.7 144.4,190.0 144.7,190.2 144.9,190.2 145.2,190.4 145.4,190.0 145.7,190.4 145.9,191.0 146.2,190.7 146.4,190.3 146.7,190.3 146.9,189.3 147.2,190.8 147.4,191.1 147.7,190.9 147.9,189.7 148.2,190.1 148.4,190.1 148.7,190.6 148.9,190.3 149.2,190.7 149.4,191.0 149.7,190.7 149.9,191.6 150.2,191.4 150.4,191.0 150.7,190.6 150.9,191.0 151.2,190.7 151.4,190.4 151.7,191.2 151.9,191.8 152.2,191.0 152.4,191.2 152.7,192.8 152.9,193.8 153.2,194.5 153.4,192.5 153.7,191.8 153.9,191.5 154.2,191.6 154.4,191.2 154.7,191.7 154.9,191.4 155.2,191.4 155.4,192.0 155.7,191.0 155.9,191.5 156.2,191.9 156.4,192.0 156.7,192.5 156.9,192.9 157.2,192.5 157.4,193.0 157.7,194.1 157.9,195.6 158.2,195.5 158.4,195.7 158.7,193.0 158.9,193.7 159.2,193.8 159.4,193.7 159.7,193.5 159.9,193.9 160.2,194.3 160.4,193.4 160.7,194.6 160.9,194.2 161.2,195.0 161.4,194.4 161.7,194.5 161.9,194.8 162.2,196.0 162.4,195.8 162.7,196.6 162.9,195.5 163.2,194.5 163.4,195.9 163.7,198.3 163.9,198.8 164.2,197.4 164.4,196.8 164.7,195.8" fill="none" stroke="#000" stroke-width="1.15" stroke-linejoin="round"/>
<polyline points="38.9,176.7 39.1,176.2 39.4,176.2 39.6,176.5 39.9,176.6 40.1,176.3 40.4,176.2 40.6,176.9 40.9,178.3 41.1,176.8 41.4,177.6 41.6,177.6 41.9,176.8 42.1,176.0 42.4,176.6 42.6,177.1 42.9,177.6 43.1,177.2 43.4,177.3 43.6,179.5 43.9,179.1 44.1,178.4 44.4,177.9 44.6,176.7 44.9,179.4 45.1,179.7 45.4,180.8 45.6,178.3 45.9,177.5 46.1,178.6 46.4,179.9 46.6,179.9 46.9,179.0 47.1,176.9 47.4,178.9 47.6,177.5 47.9,178.1 48.1,178.2 48.4,178.2 48.6,177.0 48.9,177.7 49.1,178.1 49.4,177.3 49.6,178.3 49.9,179.2 50.1,180.6 50.4,182.9 50.6,181.6 50.9,180.4 51.1,178.5 51.4,179.2 51.6,178.8 51.9,179.0 52.1,177.1 52.4,178.2 52.6,177.7 52.9,178.5 53.1,178.0 53.4,178.2 53.6,178.2 53.9,178.6 54.1,178.0 54.4,178.7 54.6,178.8 54.9,178.9 55.1,179.5 55.4,183.1 55.6,186.5 55.9,188.0 56.1,185.8 56.4,181.0 56.6,179.4 56.9,178.5 57.1,179.1 57.4,178.9 57.6,178.4 57.9,178.7 58.1,178.8 58.4,178.4 58.6,180.4 58.9,183.1 59.1,186.5 59.4,187.8 59.6,183.0 59.9,180.7 60.1,179.1 60.4,178.7 60.6,178.8 60.9,178.4 61.1,179.4 61.4,178.1 61.6,178.5 61.9,179.9 62.1,184.3 62.4,188.8 62.6,190.8 62.9,186.8 63.1,184.0 63.4,182.6 63.6,180.5 63.9,179.2 64.2,180.2 64.4,178.8 64.7,179.2 64.9,180.1 65.2,182.0 65.4,182.1 65.7,181.6 65.9,178.8 66.2,179.4 66.4,179.8 66.7,179.6 66.9,179.5 67.2,179.7 67.4,179.6 67.7,179.8 67.9,179.7 68.2,182.9 68.4,185.6 68.7,184.5 68.9,182.8 69.2,180.1 69.4,179.9 69.7,180.1 69.9,179.9 70.2,179.6 70.4,180.0 70.7,180.0 70.9,180.1 71.2,179.8 71.4,180.9 71.7,180.7 71.9,181.9 72.2,183.3 72.4,184.4 72.7,182.0 72.9,180.8 73.2,181.6 73.4,183.4 73.7,182.2 73.9,180.8 74.2,179.6 74.4,180.8 74.7,180.1 74.9,179.2 75.2,182.4 75.4,184.2 75.7,184.1 75.9,181.8 76.2,180.3 76.4,180.7 76.7,180.4 76.9,180.5 77.2,181.4 77.4,180.5 77.7,180.0 77.9,179.7 78.2,181.2 78.4,180.6 78.7,181.2 78.9,180.7 79.2,180.1 79.4,180.1 79.7,180.5 79.9,181.2 80.2,180.4 80.4,180.8 80.7,181.0 80.9,180.8 81.2,181.2 81.4,181.3 81.7,181.2 81.9,180.9 82.2,182.4 82.4,181.8 82.7,181.4 82.9,181.6 83.2,181.2 83.4,181.8 83.7,180.3 83.9,182.0 84.2,181.0 84.4,181.6 84.7,181.9 84.9,181.4 85.2,181.0 85.4,181.4 85.7,181.9 85.9,181.2 86.2,181.1 86.4,180.9 86.7,181.7 86.9,181.6 87.2,182.2 87.4,183.9 87.7,183.7 87.9,182.3 88.2,182.0 88.4,181.5 88.7,181.8 88.9,181.6 89.2,182.5 89.4,182.1 89.7,183.1 89.9,182.8 90.2,185.0 90.4,183.6 90.7,182.7 90.9,181.5 91.2,182.6 91.4,182.4 91.7,182.2 91.9,181.7 92.2,181.6 92.4,182.6 92.7,181.2 92.9,182.4 93.2,183.0 93.4,182.0 93.7,183.7 93.9,184.2 94.2,183.8 94.4,183.8 94.7,182.9 94.9,181.9 95.2,184.4 95.4,183.0 95.7,183.7 95.9,183.6 96.2,183.8 96.4,182.4 96.7,183.8 96.9,184.1 97.2,185.2 97.4,188.1 97.7,189.9 97.9,186.8 98.2,184.1 98.4,183.8 98.7,184.1 98.9,184.6 99.2,184.1 99.4,184.9 99.7,186.1 99.9,185.0 100.2,185.9 100.4,184.6 100.7,184.9 100.9,184.5 101.2,185.5 101.4,184.4 101.7,185.9 101.9,184.6 102.2,185.4 102.4,184.8 102.7,185.3 102.9,186.8 103.2,188.9 103.4,189.9 103.7,188.2 103.9,187.7 104.2,185.9 104.4,185.6 104.7,186.0 104.9,185.8 105.2,185.9 105.4,185.6 105.7,185.2 105.9,185.7 106.2,185.8 106.4,186.0 106.7,185.6 106.9,186.3 107.2,186.1 107.4,185.7 107.7,186.9 107.9,186.0 108.2,186.9 108.4,186.5 108.7,185.5 108.9,185.7 109.2,185.7 109.4,186.5 109.7,185.7 109.9,186.0 110.2,185.4 110.4,186.2 110.7,186.3 110.9,186.5 111.2,186.0 111.4,185.7 111.7,186.1 111.9,186.3 112.2,186.4 112.4,186.6 112.7,186.4 112.9,187.8 113.2,188.4 113.4,189.1 113.7,188.7 113.9,187.1 114.2,186.0 114.4,185.7 114.7,187.3 114.9,186.0 115.2,187.2 115.4,186.7 115.7,186.6 115.9,187.4 116.2,187.7 116.4,185.3 116.7,187.4 116.9,187.3 117.2,187.2 117.4,186.8 117.7,187.6 117.9,186.6 118.2,187.1 118.4,187.2 118.7,187.2 118.9,188.2 119.2,188.2 119.4,187.0 119.7,186.9 119.9,187.6 120.2,187.5 120.4,187.0 120.7,187.2 120.9,188.2 121.2,188.3 121.4,187.2 121.7,188.2 121.9,189.6 122.2,190.1 122.4,189.8 122.7,187.6 122.9,187.7 123.2,187.1 123.4,188.5 123.7,187.3 123.9,187.3 124.2,187.2 124.4,187.4 124.7,188.1 124.9,187.8 125.2,187.2 125.4,188.2 125.7,187.8 125.9,188.5 126.2,186.9 126.4,188.6 126.7,188.1 126.9,187.9 127.2,188.7 127.4,190.6 127.7,191.4 127.9,189.5 128.2,189.4 128.4,187.6 128.7,188.0 128.9,188.0 129.2,189.8 129.4,190.2 129.7,192.5 129.9,191.1 130.2,188.8 130.4,187.3 130.7,188.8 130.9,188.0 131.2,188.8 131.4,188.2 131.7,188.3 131.9,189.3 132.2,190.1 132.4,190.4 132.7,189.7 132.9,189.1 133.2,188.6 133.4,188.6 133.7,188.2 133.9,190.1 134.2,189.5 134.4,189.3 134.7,188.5 134.9,188.2 135.2,188.6 135.4,188.3 135.7,189.2 135.9,188.7 136.2,190.2 136.4,189.3 136.7,190.6 136.9,190.6 137.2,189.4 137.4,189.0 137.7,189.2 137.9,189.4 138.2,189.2 138.4,189.7 138.7,189.1 138.9,190.3 139.2,189.7 139.4,188.8 139.7,189.9 139.9,189.5 140.2,189.2 140.4,189.3 140.7,189.9 140.9,188.7 141.2,189.1 141.4,190.3 141.7,191.1 141.9,193.3 142.2,193.8 142.4,191.8 142.7,190.4 142.9,190.3 143.2,194.8 143.4,199.6 143.7,201.8 143.9,200.5 144.2,194.7 144.4,191.2 144.7,189.7 144.9,190.8 145.2,189.1 145.4,189.9 145.7,190.4 145.9,189.7 146.2,190.3 146.4,190.3 146.7,190.0 146.9,190.3 147.2,190.1 147.4,190.4 147.7,190.8 147.9,191.1 148.2,189.9 148.4,189.7 148.7,190.3 148.9,190.8 149.2,190.7 149.4,190.7 149.7,190.7 149.9,190.9 150.2,189.9 150.4,190.5 150.7,190.6 150.9,191.2 151.2,191.4 151.4,191.2 151.7,190.7 151.9,190.9 152.2,192.2 152.4,191.7 152.7,192.2 152.9,193.6 153.2,193.6 153.4,191.7 153.7,192.9 153.9,191.2 154.2,191.4 154.4,192.3 154.7,191.8 154.9,191.7 155.2,190.5 155.4,192.0 155.7,191.7 155.9,192.0 156.2,192.6 156.4,192.6 156.7,192.3 156.9,191.8 157.2,191.9 157.4,193.3 157.7,193.6 157.9,194.9 158.2,194.1 158.4,194.5 158.7,193.6 158.9,193.6 159.2,193.5 159.4,193.4 159.7,194.0 159.9,193.9 160.2,193.0 160.4,193.6 160.7,194.3 160.9,193.8 161.2,193.6 161.4,194.9 161.7,194.0 161.9,194.0 162.2,194.2 162.4,193.8 162.7,195.7 162.9,195.7 163.2,194.5 163.4,194.9 163.7,197.3 163.9,197.0 164.2,196.2 164.4,195.7 164.7,195.7" fill="none" stroke="#f47e70" stroke-width="1.1" stroke-linejoin="round"/>
<polyline points="187.4,180.5 187.7,178.8 187.9,179.2 188.2,178.9 188.4,180.9 188.7,181.9 188.9,182.9 189.2,183.9 189.4,185.0 189.7,185.0 189.9,183.7 190.2,183.9 190.4,181.2 190.7,179.0 190.9,182.1 191.2,178.9 191.4,178.5 191.7,180.5 191.9,179.1 192.2,178.6 192.4,178.1 192.7,179.2 192.9,177.6 193.2,179.5 193.4,179.7 193.7,178.5 193.9,176.3 194.2,180.9 194.4,180.1 194.7,181.4 194.9,183.4 195.2,184.6 195.4,188.3 195.7,188.1 195.9,186.6 196.2,186.5 196.4,184.7 196.7,184.4 196.9,181.1 197.2,181.4 197.4,180.1 197.7,180.6 197.9,179.8 198.2,180.1 198.4,177.3 198.7,178.5 198.9,182.1 199.2,181.4 199.4,180.0 199.7,181.2 199.9,180.1 200.2,180.7 200.4,178.8 200.7,180.3 200.9,179.0 201.2,180.4 201.4,184.1 201.7,184.1 201.9,184.0 202.2,181.8 202.4,180.7 202.7,180.3 202.9,177.4 203.2,178.3 203.4,178.3 203.7,180.5 203.9,181.5 204.2,180.0 204.4,180.4 204.7,182.3 204.9,180.8 205.2,180.0 205.4,182.7 205.7,182.5 205.9,186.0 206.2,189.1 206.4,185.2 206.7,181.1 206.9,181.0 207.2,179.8 207.4,180.7 207.7,180.3 207.9,180.6 208.2,180.2 208.4,179.7 208.7,180.0 208.9,180.9 209.2,181.0 209.4,180.5 209.7,180.6 209.9,181.1 210.2,181.9 210.4,182.3 210.7,180.9 210.9,181.2 211.2,179.3 211.4,180.3 211.7,181.8 211.9,181.8 212.2,181.3 212.4,181.9 212.7,180.3 212.9,183.3 213.2,179.9 213.4,183.2 213.7,182.0 213.9,181.3 214.2,181.6 214.4,181.4 214.7,182.9 214.9,183.1 215.2,180.7 215.4,182.6 215.7,181.8 215.9,182.9 216.2,184.3 216.4,183.2 216.7,182.6 216.9,182.4 217.2,182.6 217.4,183.3 217.7,182.5 217.9,181.7 218.2,181.6 218.4,182.7 218.7,184.0 218.9,182.6 219.2,183.9 219.4,180.8 219.7,182.3 219.9,184.4 220.2,182.8 220.4,183.6 220.7,183.3 220.9,182.5 221.2,182.6 221.4,182.7 221.7,182.2 221.9,183.7 222.2,184.5 222.4,182.5 222.7,182.9 222.9,181.8 223.2,183.0 223.4,183.6 223.7,183.6 223.9,182.6 224.2,185.0 224.4,184.4 224.7,186.5 224.9,189.9 225.2,189.7 225.4,189.5 225.7,189.3 225.9,187.9 226.2,188.3 226.4,184.8 226.7,182.1 226.9,184.6 227.2,184.4 227.4,185.4 227.7,181.7 227.9,184.5 228.2,181.8 228.4,185.1 228.7,183.1 228.9,183.9 229.2,183.3 229.4,183.4 229.7,186.1 229.9,190.4 230.2,188.9 230.4,188.2 230.7,186.6 230.9,187.7 231.2,185.7 231.4,184.2 231.7,184.2 231.9,183.0 232.2,184.5 232.4,184.5 232.7,184.0 232.9,184.9 233.2,187.2 233.4,186.3 233.7,184.7 233.9,185.8 234.2,184.8 234.4,183.6 234.7,184.0 234.9,184.2 235.2,186.2 235.4,186.6 235.7,186.7 235.9,184.9 236.2,185.6 236.4,187.6 236.7,183.8 236.9,186.2 237.2,184.7 237.4,185.5 237.7,186.5 237.9,184.0 238.2,183.7 238.4,184.9 238.7,184.7 238.9,184.3 239.2,187.2 239.4,186.6 239.7,187.3 239.9,187.0 240.2,188.0 240.4,185.2 240.7,187.8 240.9,187.2 241.2,187.3 241.4,189.7 241.7,190.2 241.9,186.9 242.2,186.7 242.4,186.5 242.7,186.3 242.9,185.2 243.2,186.1 243.4,185.0 243.7,186.5 243.9,183.8 244.2,185.9 244.4,186.2 244.7,185.7 244.9,184.9 245.2,187.1 245.4,186.1 245.7,187.2 245.9,187.7 246.2,185.8 246.4,186.5 246.7,185.5 246.9,186.4 247.2,184.9 247.4,186.1 247.7,188.1 247.9,187.6 248.2,185.3 248.4,185.6 248.7,187.0 248.9,187.9 249.2,186.8 249.4,185.5 249.7,187.2 249.9,187.4 250.2,186.6 250.4,188.0 250.7,188.6 250.9,186.0 251.2,187.6 251.4,186.9 251.7,186.8 251.9,185.8 252.2,187.6 252.4,186.9 252.7,186.6 252.9,188.5 253.2,186.9 253.4,186.0 253.7,188.6 253.9,190.5 254.2,189.8 254.4,188.2 254.7,188.0 254.9,189.9 255.2,185.7 255.4,185.4 255.7,188.5 255.9,186.9 256.1,188.0 256.4,186.7 256.6,187.4 256.9,185.4 257.1,188.2 257.4,187.2 257.6,187.8 257.9,188.4 258.1,189.3 258.4,186.8 258.6,187.0 258.9,187.0 259.1,186.3 259.4,185.7 259.6,187.7 259.9,187.8 260.1,188.1 260.4,187.1 260.6,185.9 260.9,187.0 261.1,186.8 261.4,186.7 261.6,188.0 261.9,187.8 262.1,190.0 262.4,186.8 262.6,188.5 262.9,189.3 263.1,189.0 263.4,186.9 263.6,191.8 263.9,192.1 264.1,194.8 264.4,194.7 264.6,191.6 264.9,190.7 265.1,190.2 265.4,189.2 265.6,187.8 265.9,190.7 266.1,191.0 266.4,189.1 266.6,189.6 266.9,187.0 267.1,188.9 267.4,188.6 267.6,190.3 267.9,190.0 268.1,191.2 268.4,192.1 268.6,189.4 268.9,188.8 269.1,191.5 269.4,189.8 269.6,191.8 269.9,190.1 270.1,192.4 270.4,190.4 270.6,190.0 270.9,191.4 271.1,190.5 271.4,190.7 271.6,190.5 271.9,190.1 272.1,192.7 272.4,190.9 272.6,188.5 272.9,190.8 273.1,191.9 273.4,192.5 273.6,190.9 273.9,190.6 274.1,191.4 274.4,191.3 274.6,192.1 274.9,192.0 275.1,194.2 275.4,191.0 275.6,192.7 275.9,191.0 276.1,191.5 276.4,192.8 276.6,191.6 276.9,193.9 277.1,192.1 277.4,193.4 277.6,196.6 277.9,200.5 278.1,201.4 278.4,203.9 278.6,204.0 278.9,204.0 279.1,201.9 279.4,198.4 279.6,194.0 279.9,194.1 280.1,193.8 280.4,194.9 280.6,194.8 280.9,195.9 281.1,195.5 281.4,195.6 281.6,195.3 281.9,194.6 282.1,195.9 282.4,194.4 282.6,196.8 282.9,196.7 283.1,197.2 283.4,197.7 283.6,197.5 283.9,196.2 284.1,194.2 284.4,196.5 284.6,198.4 284.9,200.2 285.1,199.9 285.4,199.9 285.6,197.9 285.9,194.6 286.1,195.8 286.4,199.3 286.6,199.3 286.9,197.6 287.1,196.9 287.4,199.0 287.6,195.4 287.9,196.5 288.1,197.1 288.4,195.9 288.6,198.7 288.9,197.4 289.1,196.1 289.4,198.2 289.6,198.3 289.9,200.3 290.1,200.7 290.4,198.9 290.6,198.0 290.9,197.8 291.1,196.9 291.4,197.0 291.6,198.3 291.9,196.8 292.1,197.6 292.4,198.0 292.6,199.5 292.9,197.8 293.1,198.8 293.4,198.4 293.6,197.3 293.9,198.1 294.1,196.2 294.4,199.2 294.6,199.3 294.9,200.4 295.1,199.5 295.4,199.0 295.6,196.7 295.9,199.5 296.1,198.7 296.4,199.3 296.6,197.5 296.9,199.3 297.1,198.0 297.4,199.1 297.6,199.3 297.9,200.2 298.1,198.9 298.4,201.3 298.6,198.2 298.9,201.1 299.1,199.5 299.4,200.0 299.6,201.0 299.9,201.5 300.1,201.0 300.4,200.8 300.6,200.5 300.9,201.5 301.1,201.1 301.4,199.4 301.6,201.9 301.9,201.7 302.1,200.5 302.4,200.3 302.6,199.8 302.9,202.1 303.1,200.5 303.4,200.9 303.6,200.7 303.9,201.6 304.1,201.8 304.4,200.9 304.6,200.7 304.9,201.3 305.1,201.3 305.4,201.9 305.6,203.1 305.9,202.5 306.1,200.8 306.4,202.1 306.6,202.6 306.9,201.5 307.1,202.8 307.4,203.5 307.6,204.6 307.9,200.9 308.1,203.2 308.4,201.2 308.6,203.9 308.9,204.7 309.1,203.5 309.4,204.2 309.6,204.2 309.9,207.6 310.1,206.2 310.4,205.0 310.6,202.9 310.9,202.7 311.1,205.0 311.4,204.8 311.6,201.5 311.9,204.9 312.1,203.6 312.4,204.1 312.6,203.3 312.9,205.0" fill="none" stroke="#000" stroke-width="1.25" stroke-linejoin="round"/>
<polyline points="187.4,179.3 187.7,178.0 187.9,179.5 188.2,179.3 188.4,178.7 188.7,179.9 188.9,179.9 189.2,182.2 189.4,184.6 189.7,184.9 189.9,184.6 190.2,179.8 190.4,179.5 190.7,177.8 190.9,178.8 191.2,177.9 191.4,179.4 191.7,178.3 191.9,178.6 192.2,178.9 192.4,180.7 192.7,182.4 192.9,183.6 193.2,180.7 193.4,178.7 193.7,180.3 193.9,179.7 194.2,180.3 194.4,180.5 194.7,179.1 194.9,179.8 195.2,180.5 195.4,182.9 195.7,185.3 195.9,185.9 196.2,185.6 196.4,184.9 196.7,181.0 196.9,180.5 197.2,180.3 197.4,177.8 197.7,180.0 197.9,179.3 198.2,179.3 198.4,181.1 198.7,179.5 198.9,179.0 199.2,178.4 199.4,181.0 199.7,180.3 199.9,179.1 200.2,180.5 200.4,180.5 200.7,178.6 200.9,181.0 201.2,181.6 201.4,185.2 201.7,184.2 201.9,182.7 202.2,178.9 202.4,179.2 202.7,179.0 202.9,181.4 203.2,179.6 203.4,180.0 203.7,179.2 203.9,179.5 204.2,180.4 204.4,182.4 204.7,179.8 204.9,182.0 205.2,183.3 205.4,184.8 205.7,186.8 205.9,186.5 206.2,182.8 206.4,181.3 206.7,179.9 206.9,180.1 207.2,180.8 207.4,182.2 207.7,181.3 207.9,181.2 208.2,178.9 208.4,181.7 208.7,180.1 208.9,181.3 209.2,181.2 209.4,181.9 209.7,180.5 209.9,181.1 210.2,181.0 210.4,180.7 210.7,182.0 210.9,182.0 211.2,183.4 211.4,184.3 211.7,183.5 211.9,179.1 212.2,181.4 212.4,181.2 212.7,183.7 212.9,178.3 213.2,181.6 213.4,181.9 213.7,182.0 213.9,183.8 214.2,182.7 214.4,182.1 214.7,180.0 214.9,182.1 215.2,182.3 215.4,183.6 215.7,183.5 215.9,185.9 216.2,185.8 216.4,182.4 216.7,183.3 216.9,181.2 217.2,181.2 217.4,183.9 217.7,185.5 217.9,186.2 218.2,184.4 218.4,182.3 218.7,182.8 218.9,182.0 219.2,183.3 219.4,183.3 219.7,181.6 219.9,182.4 220.2,182.5 220.4,183.8 220.7,183.8 220.9,182.8 221.2,182.4 221.4,183.0 221.7,184.6 221.9,183.9 222.2,184.4 222.4,184.4 222.7,183.3 222.9,182.3 223.2,181.4 223.4,184.5 223.7,183.8 223.9,184.5 224.2,183.8 224.4,183.7 224.7,182.9 224.9,184.3 225.2,188.1 225.4,190.2 225.7,188.9 225.9,185.8 226.2,183.8 226.4,183.8 226.7,183.7 226.9,183.0 227.2,182.8 227.4,185.0 227.7,184.7 227.9,182.5 228.2,183.1 228.4,185.7 228.7,186.2 228.9,187.6 229.2,190.9 229.4,191.3 229.7,190.1 229.9,188.9 230.2,189.0 230.4,187.8 230.7,186.0 230.9,184.4 231.2,184.9 231.4,182.0 231.7,183.2 231.9,184.0 232.2,184.3 232.4,185.4 232.7,184.6 232.9,184.1 233.2,182.6 233.4,184.3 233.7,184.5 233.9,185.7 234.2,184.5 234.4,184.5 234.7,184.5 234.9,186.3 235.2,188.5 235.4,187.2 235.7,185.0 235.9,184.3 236.2,184.9 236.4,184.8 236.7,185.5 236.9,183.9 237.2,185.4 237.4,186.0 237.7,184.6 237.9,184.7 238.2,186.1 238.4,183.1 238.7,185.2 238.9,184.7 239.2,187.1 239.4,186.8 239.7,186.9 239.9,187.4 240.2,187.4 240.4,187.4 240.7,186.7 240.9,187.2 241.2,186.9 241.4,187.8 241.7,188.4 241.9,188.4 242.2,186.7 242.4,186.5 242.7,184.6 242.9,186.7 243.2,185.5 243.4,184.7 243.7,186.7 243.9,185.7 244.2,185.0 244.4,186.4 244.7,186.4 244.9,185.6 245.2,186.3 245.4,187.0 245.7,185.8 245.9,186.9 246.2,185.8 246.4,185.1 246.7,186.2 246.9,186.9 247.2,186.9 247.4,187.0 247.7,188.4 247.9,186.6 248.2,186.5 248.4,186.5 248.7,186.4 248.9,186.5 249.2,186.6 249.4,188.8 249.7,186.5 249.9,189.6 250.2,191.8 250.4,188.4 250.7,187.1 250.9,187.3 251.2,186.6 251.4,187.5 251.7,186.9 251.9,187.7 252.2,187.8 252.4,187.4 252.7,187.0 252.9,186.4 253.2,187.0 253.4,185.4 253.7,188.8 253.9,191.1 254.2,190.9 254.4,189.8 254.7,187.1 254.9,187.0 255.2,189.0 255.4,187.8 255.7,187.1 255.9,186.8 256.1,186.5 256.4,186.6 256.6,187.3 256.9,188.0 257.1,186.4 257.4,187.1 257.6,188.8 257.9,187.7 258.1,188.7 258.4,188.9 258.6,187.0 258.9,186.0 259.1,188.4 259.4,187.6 259.6,188.9 259.9,187.2 260.1,188.0 260.4,187.4 260.6,188.5 260.9,186.9 261.1,188.3 261.4,187.2 261.6,187.3 261.9,188.9 262.1,187.4 262.4,189.1 262.6,187.2 262.9,189.2 263.1,189.7 263.4,190.3 263.6,190.9 263.9,197.4 264.1,202.6 264.4,207.0 264.6,198.1 264.9,193.7 265.1,190.7 265.4,189.6 265.6,189.9 265.9,188.1 266.1,190.2 266.4,190.8 266.6,189.7 266.9,189.4 267.1,188.9 267.4,190.1 267.6,190.0 267.9,188.8 268.1,190.2 268.4,189.1 268.6,189.5 268.9,188.9 269.1,190.7 269.4,189.1 269.6,189.2 269.9,189.1 270.1,191.3 270.4,190.2 270.6,190.2 270.9,190.7 271.1,189.7 271.4,191.5 271.6,190.6 271.9,188.7 272.1,190.6 272.4,190.5 272.6,189.9 272.9,192.2 273.1,191.1 273.4,192.4 273.6,193.8 273.9,196.1 274.1,198.2 274.4,198.1 274.6,195.2 274.9,193.3 275.1,191.6 275.4,192.9 275.6,191.3 275.9,192.2 276.1,193.3 276.4,193.0 276.6,192.4 276.9,193.3 277.1,193.1 277.4,191.6 277.6,194.7 277.9,195.6 278.1,201.5 278.4,203.7 278.6,203.8 278.9,199.4 279.1,197.9 279.4,195.8 279.6,192.8 279.9,193.6 280.1,192.5 280.4,194.4 280.6,194.2 280.9,194.6 281.1,195.1 281.4,195.5 281.6,195.1 281.9,195.2 282.1,194.3 282.4,194.3 282.6,195.2 282.9,195.7 283.1,194.9 283.4,196.1 283.6,196.7 283.9,196.1 284.1,196.5 284.4,197.7 284.6,201.0 284.9,203.7 285.1,202.5 285.4,198.8 285.6,196.0 285.9,194.9 286.1,196.2 286.4,196.0 286.6,196.7 286.9,195.0 287.1,197.5 287.4,198.5 287.6,201.8 287.9,199.0 288.1,199.7 288.4,196.5 288.6,197.3 288.9,196.5 289.1,197.0 289.4,196.5 289.6,197.4 289.9,199.6 290.1,199.9 290.4,198.9 290.6,197.7 290.9,198.4 291.1,198.1 291.4,196.9 291.6,198.8 291.9,197.5 292.1,198.0 292.4,198.3 292.6,198.2 292.9,198.6 293.1,198.0 293.4,197.6 293.6,199.3 293.9,198.1 294.1,199.8 294.4,199.6 294.6,199.8 294.9,198.8 295.1,196.9 295.4,199.0 295.6,199.2 295.9,198.6 296.1,200.1 296.4,199.7 296.6,198.7 296.9,200.8 297.1,198.6 297.4,200.9 297.6,198.2 297.9,199.6 298.1,198.8 298.4,199.9 298.6,198.6 298.9,199.5 299.1,199.7 299.4,200.0 299.6,201.5 299.9,198.9 300.1,199.6 300.4,199.5 300.6,202.1 300.9,200.4 301.1,199.7 301.4,199.9 301.6,201.1 301.9,200.3 302.1,200.1 302.4,201.1 302.6,199.9 302.9,202.0 303.1,202.5 303.4,203.4 303.6,202.6 303.9,201.8 304.1,200.8 304.4,201.5 304.6,202.3 304.9,202.3 305.1,201.1 305.4,202.8 305.6,203.6 305.9,201.8 306.1,202.5 306.4,202.9 306.6,202.8 306.9,201.5 307.1,202.7 307.4,201.6 307.6,202.2 307.9,203.7 308.1,202.6 308.4,201.1 308.6,203.4 308.9,203.1 309.1,202.0 309.4,203.5 309.6,202.9 309.9,205.5 310.1,203.1 310.4,206.1 310.6,209.6 310.9,209.1 311.1,205.3 311.4,206.2 311.6,203.8 311.9,204.4 312.1,203.7 312.4,204.2 312.6,204.0 312.9,204.1" fill="none" stroke="#f47e70" stroke-width="1.0" stroke-linejoin="round"/>
<polyline points="335.9,176.3 336.1,177.1 336.4,176.2 336.6,176.9 336.9,177.3 337.1,177.6 337.4,176.4 337.6,177.0 337.9,179.2 338.1,177.3 338.4,177.6 338.6,178.2 338.9,177.4 339.1,177.7 339.4,179.8 339.6,179.6 339.9,177.5 340.1,178.7 340.4,177.6 340.6,177.5 340.9,179.1 341.1,180.7 341.4,179.3 341.6,180.9 341.9,178.7 342.1,180.0 342.4,180.1 342.6,180.2 342.9,181.2 343.1,181.0 343.4,180.1 343.6,179.5 343.9,180.4 344.1,181.0 344.4,180.7 344.6,180.0 344.9,179.9 345.1,182.3 345.4,182.0 345.6,181.4 345.9,182.4 346.1,182.5 346.4,182.0 346.6,181.9 346.9,183.3 347.1,183.1 347.4,183.7 347.6,183.4 347.9,182.9 348.1,182.3 348.4,182.5 348.6,182.4 348.9,183.0 349.1,183.2 349.4,184.1 349.6,184.3 349.9,183.2 350.1,183.6 350.4,182.5 350.6,182.9 350.9,182.7 351.1,183.7 351.4,183.3 351.6,183.3 351.9,183.9 352.1,182.5 352.4,184.0 352.6,184.4 352.9,185.1 353.1,183.3 353.4,184.0 353.6,182.8 353.9,185.5 354.1,184.4 354.4,184.8 354.6,183.5 354.9,184.6 355.1,184.4 355.4,184.0 355.6,184.1 355.9,184.4 356.1,184.5 356.4,183.9 356.6,186.2 356.9,185.4 357.1,185.6 357.4,185.7 357.6,185.5 357.9,185.7 358.1,186.2 358.4,185.7 358.6,186.9 358.9,186.0 359.1,187.0 359.4,185.7 359.6,186.6 359.9,187.0 360.1,187.5 360.4,187.6 360.6,186.2 360.9,186.5 361.1,188.1 361.4,186.9 361.6,186.3 361.9,188.1 362.1,187.8 362.4,186.8 362.6,187.3 362.9,188.6 363.1,187.6 363.4,187.6 363.6,187.8 363.9,189.0 364.1,187.2 364.4,188.6 364.6,188.5 364.9,188.8 365.1,189.1 365.4,188.7 365.6,189.2 365.9,189.2 366.1,189.9 366.4,187.8 366.6,189.5 366.9,190.9 367.1,191.9 367.4,193.8 367.6,191.8 367.9,189.2 368.1,189.6 368.4,190.1 368.6,189.9 368.9,190.0 369.1,192.4 369.4,194.2 369.6,193.3 369.9,191.7 370.1,191.2 370.4,190.8 370.6,189.7 370.9,189.9 371.1,191.0 371.4,190.6 371.6,190.4 371.9,190.2 372.1,190.5 372.4,191.0 372.6,189.4 372.9,191.0 373.1,190.5 373.4,191.3 373.6,193.0 373.9,193.1 374.1,191.8 374.4,191.3 374.6,190.7 374.9,191.4 375.1,190.3 375.4,191.4 375.6,190.5 375.9,191.2 376.1,191.0 376.4,191.6 376.6,190.7 376.9,191.3 377.1,192.0 377.4,191.9 377.6,191.4 377.9,192.3 378.1,193.7 378.4,195.1 378.6,195.3 378.9,193.6 379.1,191.2 379.4,192.6 379.6,195.1 379.9,194.9 380.1,194.5 380.4,193.1 380.6,191.8 380.9,191.8 381.1,191.9 381.4,192.8 381.6,191.9 381.9,192.3 382.1,192.0 382.4,191.8 382.6,191.9 382.9,191.8 383.1,192.7 383.4,192.2 383.6,191.8 383.9,192.3 384.1,193.1 384.4,192.5 384.6,192.4 384.9,192.6 385.1,192.4 385.4,192.2 385.6,193.0 385.9,191.4 386.1,192.4 386.4,192.4 386.6,192.6 386.9,192.5 387.1,193.2 387.4,193.3 387.6,192.9 387.9,192.4 388.1,192.7 388.4,192.8 388.6,192.7 388.9,192.6 389.1,193.7 389.4,193.4 389.6,192.8 389.9,192.9 390.1,193.3 390.4,193.1 390.6,193.6 390.9,194.3 391.1,195.7 391.4,197.3 391.6,197.3 391.9,194.8 392.1,193.9 392.4,194.4 392.6,193.9 392.9,195.7 393.1,197.8 393.4,198.2 393.6,195.5 393.9,194.5 394.1,193.9 394.4,194.6 394.6,194.5 394.9,193.8 395.1,194.0 395.4,194.4 395.6,195.1 395.9,194.3 396.1,194.9 396.4,194.2 396.6,194.1 396.9,194.9 397.1,194.4 397.4,194.1 397.6,195.2 397.9,195.0 398.1,194.4 398.4,195.4 398.6,196.0 398.9,198.4 399.1,201.2 399.4,203.3 399.6,201.0 399.9,198.2 400.1,198.0 400.4,197.1 400.6,196.4 400.9,195.6 401.1,195.2 401.4,195.2 401.6,195.6 401.9,195.4 402.1,195.0 402.4,196.0 402.6,196.1 402.9,195.9 403.1,196.2 403.4,195.8 403.6,195.8 403.9,196.2 404.1,196.0 404.4,195.5 404.6,195.9 404.9,196.4 405.1,198.1 405.4,198.5 405.6,198.1 405.9,196.8 406.1,196.4 406.4,196.0 406.6,196.2 406.9,196.0 407.1,195.8 407.4,196.3 407.6,196.6 407.9,196.5 408.1,196.0 408.4,196.5 408.6,196.9 408.9,196.8 409.1,196.7 409.4,197.8 409.6,199.3 409.9,199.7 410.1,198.3 410.4,197.5 410.6,197.1 410.9,197.1 411.1,197.4 411.4,197.5 411.6,197.2 411.9,197.3 412.1,197.7 412.4,197.4 412.6,197.1 412.9,197.7 413.1,198.4 413.4,199.8 413.6,199.8 413.9,199.3 414.1,198.5 414.4,198.4 414.6,198.7 414.9,198.4 415.1,197.9 415.4,198.2 415.6,198.1 415.9,198.3 416.1,198.9 416.4,199.6 416.6,199.4 416.9,200.8 417.1,203.5 417.4,205.5 417.6,204.4 417.9,200.7 418.1,199.6 418.4,199.4 418.6,199.4 418.9,200.0 419.1,199.2 419.4,199.4 419.6,199.0 419.9,199.3 420.1,199.2 420.4,199.6 420.6,199.8 420.9,200.0 421.1,200.1 421.4,199.7 421.6,199.7 421.9,199.8 422.1,200.1 422.4,200.2 422.6,200.0 422.9,200.7 423.1,200.2 423.4,200.7 423.6,200.6 423.9,201.1 424.1,201.7 424.4,202.9 424.6,206.4 424.9,208.7 425.1,206.6 425.4,203.3 425.6,202.9 425.9,201.5 426.1,202.1 426.4,201.6 426.6,202.3 426.9,202.1 427.1,202.4 427.4,202.4 427.6,201.9 427.9,207.2 428.1,206.9 428.4,207.0 428.6,206.4 428.9,206.4 429.1,206.1 429.4,206.1 429.6,205.0 429.9,204.8 430.1,204.7 430.4,205.4 430.6,204.7 430.9,204.9 431.1,205.4 431.4,204.5 431.6,204.4 431.9,204.3 432.1,205.2 432.4,205.9 432.6,206.0 432.9,205.4 433.1,204.7 433.4,204.5 433.6,204.6 433.9,203.8 434.1,203.9 434.4,204.4 434.6,204.4 434.9,204.1 435.1,204.0 435.4,204.3 435.6,204.0 435.9,203.3 436.1,203.5 436.4,204.1 436.6,203.8 436.9,204.0 437.1,203.2 437.4,204.1 437.6,210.9 437.9,210.2 438.1,209.8 438.4,209.3 438.6,209.0 438.9,208.0 439.1,208.2 439.4,208.7 439.6,208.2 439.9,207.9 440.1,208.3 440.4,208.4 440.6,207.7 440.9,208.1 441.1,208.6 441.4,210.0 441.6,211.8 441.9,209.5 442.1,208.3 442.4,208.0 442.6,208.7 442.9,208.2 443.1,208.3 443.4,207.0 443.6,206.5 443.9,206.4 444.1,207.0 444.4,206.4 444.6,207.8 444.9,207.2 445.1,207.1 445.4,206.9 445.6,207.0 445.9,206.5 446.1,206.3 446.4,206.3 446.6,206.8 446.9,214.1 447.1,213.5 447.4,212.4 447.6,212.7 447.9,212.5 448.1,211.9 448.4,210.7 448.6,211.1 448.9,211.1 449.1,211.3 449.4,210.8 449.6,210.9 449.9,210.2 450.1,210.2 450.4,210.2 450.6,210.8 450.9,209.7 451.1,210.1 451.4,209.5 451.6,210.7 451.9,210.3 452.1,209.8 452.4,210.3 452.6,210.2 452.9,209.9 453.1,210.0 453.4,209.8 453.6,209.7 453.9,209.1 454.1,209.4 454.4,209.9 454.6,209.6 454.9,210.3 455.1,210.0 455.4,209.8 455.6,209.5 455.9,211.2 456.1,212.1 456.4,211.8 456.6,210.0 456.9,216.2 457.1,216.3 457.4,215.8 457.6,215.4 457.9,215.1 458.1,214.0 458.4,214.0 458.6,213.9 458.9,213.9 459.1,213.1 459.4,213.5 459.6,213.4 459.9,212.1 460.1,213.1 460.4,212.8 460.6,212.4 460.9,212.4 461.1,212.6 461.4,213.0 461.6,212.5 461.9,211.7" fill="none" stroke="#000" stroke-width="1.4" stroke-linejoin="round"/>
<polyline points="335.9,174.4 336.1,174.6 336.4,174.8 336.6,175.5 336.9,176.2 337.1,176.2 337.4,176.2 337.6,176.4 337.9,176.5 338.1,176.7 338.4,176.8 338.6,178.0 338.9,179.3 339.1,177.7 339.4,176.2 339.6,176.3 339.9,176.3 340.1,176.3 340.4,176.2 340.6,177.2 340.9,178.3 341.1,178.8 341.4,179.2 341.6,178.5 341.9,177.9 342.1,177.5 342.4,177.2 342.6,177.3 342.9,177.5 343.1,178.5 343.4,179.6 343.6,179.8 343.9,180.0 344.1,180.0 344.4,180.0 344.6,179.3 344.9,178.7 345.1,179.4 345.4,180.1 345.6,180.1 345.9,180.2 346.1,180.3 346.4,180.5 346.6,181.0 346.9,181.5 347.1,181.2 347.4,180.9 347.6,181.3 347.9,181.7 348.1,181.4 348.4,181.1 348.6,181.3 348.9,181.5 349.1,181.8 349.4,182.1 349.6,180.9 349.9,179.7 350.1,180.5 350.4,181.3 350.6,181.3 350.9,181.3 351.1,181.3 351.4,181.4 351.6,182.1 351.9,183.0 352.1,184.3 352.4,184.8 352.6,183.1 352.9,181.6 353.1,182.8 353.4,184.0 353.6,182.5 353.9,181.0 354.1,181.9 354.4,182.8 354.6,183.2 354.9,183.6 355.1,183.9 355.4,184.2 355.6,184.4 355.9,184.6 356.1,184.7 356.4,184.8 356.6,184.3 356.9,183.7 357.1,183.8 357.4,183.8 357.6,184.7 357.9,185.5 358.1,185.0 358.4,184.5 358.6,184.0 358.9,183.5 359.1,183.7 359.4,183.9 359.6,184.1 359.9,184.3 360.1,185.3 360.4,186.2 360.6,186.1 360.9,186.0 361.1,186.4 361.4,186.8 361.6,186.3 361.9,185.8 362.1,186.2 362.4,186.6 362.6,187.0 362.9,187.3 363.1,186.9 363.4,186.5 363.6,187.0 363.9,187.6 364.1,187.1 364.4,186.6 364.6,186.8 364.9,187.1 365.1,187.2 365.4,187.3 365.6,186.9 365.9,186.6 366.1,187.6 366.4,188.7 366.6,188.6 366.9,189.5 367.1,191.7 367.4,192.3 367.6,190.9 367.9,189.7 368.1,189.3 368.4,189.2 368.6,189.5 368.9,190.4 369.1,192.3 369.4,194.7 369.6,194.2 369.9,191.2 370.1,189.5 370.4,189.2 370.6,188.4 370.9,187.6 371.1,187.8 371.4,187.9 371.6,188.1 371.9,188.2 372.1,188.4 372.4,188.7 372.6,189.4 372.9,190.2 373.1,189.7 373.4,189.4 373.6,190.2 373.9,190.6 374.1,191.1 374.4,191.6 374.6,190.7 374.9,189.9 375.1,190.5 375.4,191.1 375.6,190.3 375.9,189.6 376.1,190.0 376.4,190.4 376.6,190.1 376.9,189.8 377.1,190.1 377.4,190.5 377.6,191.2 377.9,191.9 378.1,191.1 378.4,190.3 378.6,191.4 378.9,192.0 379.1,191.6 379.4,191.5 379.6,191.1 379.9,190.8 380.1,190.4 380.4,190.0 380.6,190.8 380.9,191.6 381.1,191.3 381.4,191.1 381.6,191.5 381.9,192.0 382.1,192.4 382.4,193.2 382.6,194.4 382.9,194.6 383.1,193.0 383.4,191.8 383.6,191.4 383.9,191.1 384.1,191.7 384.4,192.3 384.6,192.4 384.9,192.5 385.1,193.0 385.4,193.6 385.6,193.4 385.9,193.2 386.1,193.0 386.4,192.9 386.6,193.4 386.9,194.0 387.1,192.8 387.4,191.6 387.6,191.9 387.9,192.2 388.1,192.2 388.4,192.1 388.6,192.4 388.9,192.7 389.1,192.3 389.4,191.9 389.6,192.9 389.9,193.9 390.1,193.6 390.4,193.3 390.6,192.9 390.9,192.8 391.1,194.0 391.4,195.1 391.6,195.4 391.9,195.0 392.1,194.7 392.4,195.0 392.6,195.7 392.9,196.5 393.1,197.3 393.4,197.8 393.6,196.3 393.9,195.0 394.1,194.3 394.4,193.8 394.6,193.4 394.9,193.0 395.1,194.1 395.4,195.2 395.6,194.8 395.9,194.4 396.1,194.6 396.4,194.9 396.6,194.9 396.9,194.9 397.1,195.1 397.4,195.4 397.6,196.0 397.9,196.5 398.1,196.3 398.4,196.2 398.6,197.5 398.9,201.2 399.1,206.6 399.4,209.3 399.6,206.1 399.9,200.2 400.1,197.0 400.4,196.2 400.6,196.2 400.9,196.4 401.1,197.2 401.4,198.0 401.6,197.4 401.9,196.8 402.1,197.2 402.4,197.6 402.6,197.0 402.9,196.5 403.1,196.3 403.4,196.1 403.6,196.2 403.9,196.4 404.1,196.5 404.4,196.7 404.6,197.9 404.9,199.3 405.1,198.7 405.4,198.2 405.6,198.9 405.9,198.9 406.1,197.8 406.4,197.0 406.6,197.8 406.9,198.6 407.1,198.4 407.4,198.3 407.6,198.1 407.9,197.9 408.1,198.0 408.4,198.1 408.6,198.0 408.9,197.8 409.1,198.4 409.4,199.4 409.6,199.8 409.9,199.6 410.1,198.7 410.4,197.9 410.6,197.8 410.9,197.8 411.1,198.5 411.4,199.2 411.6,199.8 411.9,200.4 412.1,200.0 412.4,199.5 412.6,199.5 412.9,199.5 413.1,200.2 413.4,200.8 413.6,201.3 413.9,201.3 414.1,200.6 414.4,200.2 414.6,200.0 414.9,199.8 415.1,200.5 415.4,201.2 415.6,201.0 415.9,200.8 416.1,201.3 416.4,201.9 416.6,201.8 416.9,202.6 417.1,204.3 417.4,205.1 417.6,203.9 417.9,201.7 418.1,201.7 418.4,202.7 418.6,202.7 418.9,202.8 419.1,202.1 419.4,201.5 419.6,201.5 419.9,201.5 420.1,202.3 420.4,203.1 420.6,202.2 420.9,201.2 421.1,201.4 421.4,201.6 421.6,202.3 421.9,203.1 422.1,202.8 422.4,202.4 422.6,202.7 422.9,203.0 423.1,203.0 423.4,203.1 423.6,203.5 423.9,203.8 424.1,204.6 424.4,206.1 424.6,207.4 424.9,208.0 425.1,207.3 425.4,205.9 425.6,203.9 425.9,202.6 426.1,203.5 426.4,204.4 426.6,204.2 426.9,204.0 427.1,203.9 427.4,203.9 427.6,204.1 427.9,210.7 428.1,210.1 428.4,209.6 428.6,209.5 428.9,209.5 429.1,208.3 429.4,207.1 429.6,207.4 429.9,207.7 430.1,207.4 430.4,207.1 430.6,207.0 430.9,207.0 431.1,207.6 431.4,208.4 431.6,208.6 431.9,208.4 432.1,208.3 432.4,208.3 432.6,207.6 432.9,207.3 433.1,207.8 433.4,208.2 433.6,207.9 433.9,207.3 434.1,207.1 434.4,207.3 434.6,207.5 434.9,207.6 435.1,207.0 435.4,206.3 435.6,206.7 435.9,207.2 436.1,207.2 436.4,207.3 436.6,208.2 436.9,209.1 437.1,208.9 437.4,208.6 437.6,215.0 437.9,213.0 438.1,212.5 438.4,212.2 438.6,211.3 438.9,210.4 439.1,210.4 439.4,210.5 439.6,210.7 439.9,210.9 440.1,211.1 440.4,211.3 440.6,210.5 440.9,209.7 441.1,210.2 441.4,211.2 441.6,210.9 441.9,209.5 442.1,209.4 442.4,209.9 442.6,209.5 442.9,209.1 443.1,209.3 443.4,209.6 443.6,209.8 443.9,210.2 444.1,210.7 444.4,210.5 444.6,209.3 444.9,208.5 445.1,208.6 445.4,208.7 445.6,210.1 445.9,211.6 446.1,210.2 446.4,208.9 446.6,208.9 446.9,217.0 447.1,217.2 447.4,217.6 447.6,217.4 447.9,217.3 448.1,215.2 448.4,213.2 448.6,213.2 448.9,213.3 449.1,213.4 449.4,213.5 449.6,214.0 449.9,214.4 450.1,213.2 450.4,212.1 450.6,212.3 450.9,212.6 451.1,212.9 451.4,213.3 451.6,213.1 451.9,213.0 452.1,212.9 452.4,213.1 452.6,213.6 452.9,213.4 453.1,212.3 453.4,211.5 453.6,211.9 453.9,212.4 454.1,212.3 454.4,212.3 454.6,212.5 454.9,212.7 455.1,212.4 455.4,212.0 455.6,212.4 455.9,212.8 456.1,213.0 456.4,213.3 456.6,212.9 456.9,220.5 457.1,219.7 457.4,218.9 457.6,218.1 457.9,217.5 458.1,217.0 458.4,216.7 458.6,216.3 458.9,215.8 459.1,215.8 459.4,215.9 459.6,215.6 459.9,215.3 460.1,216.0 460.4,216.8 460.6,216.5 460.9,216.3 461.1,215.7 461.4,215.2 461.6,214.7 461.9,214.2" fill="none" stroke="#f47e70" stroke-width="1.1" stroke-linejoin="round"/>
<polyline points="38.9,201.4 39.1,201.1 39.4,201.2 39.6,201.9 39.9,199.5 40.1,200.3 40.4,201.7 40.6,200.6 40.9,200.9 41.1,200.6 41.4,201.4 41.6,201.2 41.9,201.8 42.1,200.3 42.4,199.4 42.6,201.2 42.9,202.1 43.1,201.2 43.4,200.5 43.6,200.5 43.9,201.2 44.1,200.7 44.4,201.1 44.6,200.7 44.9,204.5 45.1,209.3 45.4,209.3 45.6,205.0 45.9,203.0 46.1,202.8 46.4,203.3 46.6,203.8 46.9,203.7 47.1,201.5 47.4,201.3 47.6,202.2 47.9,201.4 48.1,201.1 48.4,200.4 48.6,201.4 48.9,201.4 49.1,201.1 49.4,202.1 49.6,202.0 49.9,205.6 50.1,212.6 50.4,216.9 50.6,212.3 50.9,205.9 51.1,202.4 51.4,201.8 51.6,201.3 51.9,202.2 52.1,200.6 52.4,201.9 52.6,201.5 52.9,202.0 53.1,202.8 53.4,201.9 53.6,202.3 53.9,202.8 54.1,201.8 54.4,203.1 54.6,203.9 54.9,203.7 55.1,204.5 55.4,207.8 55.6,214.6 55.9,218.6 56.1,215.5 56.4,208.5 56.6,203.1 56.9,202.5 57.1,201.6 57.4,202.0 57.6,202.0 57.9,201.7 58.1,202.3 58.4,203.0 58.6,203.8 58.9,206.1 59.1,210.7 59.4,210.5 59.6,208.1 59.9,203.4 60.1,204.3 60.4,202.5 60.6,202.0 60.9,202.1 61.1,203.1 61.4,203.1 61.6,203.2 61.9,204.0 62.1,205.9 62.4,210.5 62.6,210.9 62.9,208.6 63.1,205.5 63.4,202.4 63.6,204.1 63.9,203.5 64.2,202.4 64.4,203.4 64.7,203.6 64.9,204.3 65.2,206.3 65.4,206.1 65.7,204.8 65.9,203.8 66.2,203.4 66.4,203.4 66.7,203.5 66.9,204.1 67.2,204.3 67.4,203.3 67.7,203.6 67.9,206.7 68.2,211.8 68.4,216.5 68.7,215.4 68.9,210.3 69.2,205.7 69.4,203.1 69.7,203.6 69.9,202.9 70.2,203.4 70.4,203.6 70.7,204.5 70.9,202.6 71.2,203.5 71.4,204.3 71.7,205.8 71.9,209.7 72.2,212.1 72.4,210.7 72.7,206.4 72.9,205.1 73.2,203.9 73.4,204.0 73.7,204.3 73.9,203.8 74.2,204.7 74.4,203.7 74.7,204.3 74.9,204.6 75.2,208.0 75.4,210.2 75.7,210.8 75.9,205.7 76.2,205.8 76.4,205.6 76.7,205.9 76.9,206.6 77.2,204.1 77.4,204.6 77.7,205.1 77.9,204.8 78.2,204.3 78.4,204.8 78.7,204.2 78.9,204.3 79.2,204.2 79.4,205.1 79.7,204.7 79.9,205.8 80.2,205.0 80.4,203.9 80.7,205.1 80.9,204.1 81.2,204.7 81.4,205.6 81.7,206.6 81.9,208.3 82.2,207.4 82.4,206.0 82.7,205.0 82.9,204.8 83.2,205.7 83.4,205.2 83.7,205.2 83.9,205.5 84.2,205.9 84.4,205.7 84.7,204.5 84.9,205.3 85.2,205.5 85.4,205.6 85.7,205.1 85.9,205.2 86.2,204.7 86.4,205.0 86.7,204.7 86.9,206.1 87.2,206.3 87.4,208.0 87.7,209.4 87.9,207.8 88.2,205.8 88.4,205.7 88.7,205.1 88.9,205.7 89.2,205.4 89.4,205.6 89.7,205.3 89.9,205.2 90.2,205.7 90.4,204.8 90.7,206.3 90.9,205.4 91.2,206.7 91.4,206.1 91.7,206.2 91.9,206.6 92.2,207.3 92.4,206.8 92.7,206.3 92.9,206.4 93.2,206.1 93.4,206.7 93.7,205.8 93.9,206.2 94.2,206.6 94.4,206.0 94.7,206.5 94.9,207.3 95.2,206.8 95.4,207.0 95.7,208.4 95.9,207.2 96.2,207.1 96.4,207.6 96.7,206.8 96.9,208.4 97.2,211.7 97.4,217.7 97.7,218.1 97.9,214.8 98.2,210.2 98.4,208.3 98.7,207.9 98.9,207.9 99.2,208.4 99.4,208.2 99.7,207.5 99.9,208.0 100.2,208.6 100.4,208.3 100.7,208.1 100.9,208.7 101.2,208.0 101.4,208.9 101.7,209.0 101.9,208.5 102.2,208.3 102.4,209.3 102.7,209.0 102.9,212.4 103.2,217.0 103.4,220.3 103.7,217.2 103.9,212.3 104.2,210.2 104.4,208.8 104.7,209.2 104.9,209.1 105.2,209.0 105.4,208.3 105.7,209.2 105.9,209.2 106.2,210.6 106.4,211.8 106.7,209.9 106.9,210.0 107.2,209.9 107.4,208.8 107.7,209.8 107.9,209.5 108.2,209.7 108.4,210.9 108.7,211.0 108.9,211.5 109.2,211.5 109.4,210.8 109.7,209.9 109.9,210.2 110.2,209.1 110.4,209.8 110.7,210.2 110.9,209.6 111.2,210.3 111.4,210.2 111.7,210.3 111.9,210.7 112.2,210.8 112.4,209.7 112.7,210.4 112.9,211.9 113.2,213.4 113.4,216.1 113.7,214.9 113.9,211.8 114.2,210.5 114.4,209.9 114.7,210.7 114.9,210.2 115.2,210.2 115.4,209.9 115.7,211.0 115.9,210.2 116.2,210.2 116.4,209.7 116.7,210.9 116.9,210.8 117.2,211.1 117.4,211.4 117.7,210.9 117.9,210.6 118.2,210.0 118.4,210.9 118.7,211.0 118.9,211.0 119.2,209.9 119.4,211.5 119.7,211.2 119.9,210.8 120.2,210.8 120.4,210.1 120.7,211.7 120.9,212.0 121.2,211.9 121.4,213.0 121.7,213.1 121.9,214.6 122.2,216.1 122.4,214.6 122.7,212.8 122.9,211.8 123.2,211.2 123.4,211.3 123.7,211.4 123.9,210.8 124.2,211.8 124.4,211.9 124.7,211.2 124.9,211.1 125.2,212.5 125.4,212.1 125.7,210.4 125.9,211.5 126.2,211.1 126.4,211.1 126.7,211.3 126.9,212.0 127.2,213.3 127.4,215.2 127.7,216.3 127.9,213.9 128.2,212.7 128.4,212.1 128.7,212.3 128.9,212.3 129.2,211.9 129.4,211.7 129.7,213.0 129.9,211.5 130.2,211.3 130.4,211.8 130.7,212.1 130.9,212.7 131.2,211.8 131.4,211.4 131.7,213.1 131.9,213.7 132.2,214.6 132.4,214.2 132.7,213.3 132.9,211.6 133.2,213.1 133.4,212.3 133.7,212.4 133.9,212.9 134.2,212.0 134.4,212.5 134.7,212.5 134.9,212.8 135.2,213.8 135.4,212.0 135.7,212.5 135.9,213.6 136.2,212.1 136.4,213.4 136.7,212.7 136.9,213.2 137.2,213.0 137.4,212.9 137.7,212.3 137.9,212.7 138.2,213.1 138.4,212.6 138.7,212.3 138.9,212.4 139.2,213.6 139.4,213.7 139.7,212.6 139.9,212.9 140.2,213.6 140.4,213.1 140.7,213.1 140.9,213.5 141.2,213.0 141.4,214.8 141.7,219.3 141.9,222.9 142.2,222.6 142.4,218.3 142.7,214.5 142.9,214.7 143.2,216.4 143.4,218.3 143.7,219.3 143.9,217.3 144.2,217.0 144.4,217.8 144.7,217.7 144.9,215.9 145.2,215.1 145.4,214.7 145.7,214.9 145.9,215.4 146.2,214.7 146.4,214.9 146.7,214.8 146.9,214.0 147.2,214.3 147.4,215.2 147.7,214.8 147.9,215.1 148.2,214.4 148.4,215.4 148.7,215.1 148.9,215.5 149.2,215.5 149.4,214.7 149.7,216.1 149.9,215.0 150.2,215.6 150.4,215.5 150.7,216.5 150.9,216.4 151.2,217.3 151.4,217.2 151.7,217.4 151.9,217.3 152.2,217.8 152.4,218.7 152.7,220.3 152.9,221.5 153.2,222.7 153.4,221.0 153.7,219.7 153.9,221.1 154.2,219.8 154.4,221.2 154.7,221.0 154.9,222.4 155.2,222.1 155.4,221.3 155.7,222.6 155.9,221.2 156.2,222.8 156.4,222.5 156.7,222.2 156.9,223.4 157.2,223.7 157.4,224.4 157.7,226.4 157.9,228.0 158.2,227.1 158.4,225.7 158.7,223.7 158.9,223.6 159.2,226.7 159.4,226.8 159.7,225.3 159.9,224.5 160.2,225.7 160.4,224.9 160.7,224.9 160.9,224.8 161.2,225.7 161.4,224.2 161.7,225.3 161.9,225.0 162.2,225.3 162.4,225.8 162.7,225.2 162.9,225.4 163.2,224.7 163.4,226.0 163.7,227.2 163.9,228.8 164.2,228.1 164.4,227.4 164.7,227.6" fill="none" stroke="#000" stroke-width="1.15" stroke-linejoin="round"/>
<polyline points="38.9,200.2 39.1,200.7 39.4,200.9 39.6,200.0 39.9,200.8 40.1,199.6 40.4,200.6 40.6,199.7 40.9,200.3 41.1,201.3 41.4,200.8 41.6,201.1 41.9,199.8 42.1,200.0 42.4,200.7 42.6,201.2 42.9,199.8 43.1,201.3 43.4,200.6 43.6,201.7 43.9,200.4 44.1,200.3 44.4,200.8 44.6,200.4 44.9,202.4 45.1,204.2 45.4,205.2 45.6,202.9 45.9,200.7 46.1,200.8 46.4,201.9 46.6,201.7 46.9,200.9 47.1,202.4 47.4,200.5 47.6,201.6 47.9,200.5 48.1,200.7 48.4,200.1 48.6,201.7 48.9,200.8 49.1,202.0 49.4,201.1 49.6,203.2 49.9,204.9 50.1,205.1 50.4,206.8 50.6,204.5 50.9,202.3 51.1,201.8 51.4,201.9 51.6,202.1 51.9,201.2 52.1,202.0 52.4,201.8 52.6,201.5 52.9,201.1 53.1,201.6 53.4,203.6 53.6,201.3 53.9,202.3 54.1,202.9 54.4,204.5 54.6,204.0 54.9,203.0 55.1,203.5 55.4,203.8 55.6,207.5 55.9,207.8 56.1,207.5 56.4,204.8 56.6,202.2 56.9,202.8 57.1,201.8 57.4,201.8 57.6,201.7 57.9,201.7 58.1,201.7 58.4,202.5 58.6,204.7 58.9,207.0 59.1,211.3 59.4,213.0 59.6,208.6 59.9,204.7 60.1,203.2 60.4,202.9 60.6,202.3 60.9,202.6 61.1,203.4 61.4,203.1 61.6,203.7 61.9,204.8 62.1,207.8 62.4,212.2 62.6,214.4 62.9,210.5 63.1,205.3 63.4,204.7 63.6,204.0 63.9,206.2 64.2,204.7 64.4,205.0 64.7,205.8 64.9,206.2 65.2,207.0 65.4,206.4 65.7,205.5 65.9,204.2 66.2,203.5 66.4,202.6 66.7,203.5 66.9,202.1 67.2,203.1 67.4,204.4 67.7,204.0 67.9,204.9 68.2,207.0 68.4,209.7 68.7,209.4 68.9,206.2 69.2,203.5 69.4,204.6 69.7,204.8 69.9,203.6 70.2,204.4 70.4,203.3 70.7,204.2 70.9,203.3 71.2,204.7 71.4,204.4 71.7,204.3 71.9,206.9 72.2,209.0 72.4,207.4 72.7,205.5 72.9,204.5 73.2,204.5 73.4,205.5 73.7,206.0 73.9,204.1 74.2,205.4 74.4,204.4 74.7,205.5 74.9,205.6 75.2,207.7 75.4,208.5 75.7,207.5 75.9,206.3 76.2,205.6 76.4,205.7 76.7,206.8 76.9,207.0 77.2,206.5 77.4,204.7 77.7,204.7 77.9,203.8 78.2,204.7 78.4,204.6 78.7,204.8 78.9,205.4 79.2,204.8 79.4,203.2 79.7,205.6 79.9,205.0 80.2,205.3 80.4,204.5 80.7,205.4 80.9,205.9 81.2,204.5 81.4,206.4 81.7,205.1 81.9,204.9 82.2,205.1 82.4,206.3 82.7,204.1 82.9,204.8 83.2,205.2 83.4,205.6 83.7,205.2 83.9,205.5 84.2,204.7 84.4,205.7 84.7,205.9 84.9,204.7 85.2,204.9 85.4,205.6 85.7,205.6 85.9,205.7 86.2,204.8 86.4,205.3 86.7,205.2 86.9,206.4 87.2,206.1 87.4,206.9 87.7,207.1 87.9,206.8 88.2,206.7 88.4,204.9 88.7,205.8 88.9,206.0 89.2,206.8 89.4,206.1 89.7,206.5 89.9,205.9 90.2,205.2 90.4,205.5 90.7,206.3 90.9,206.7 91.2,206.1 91.4,205.8 91.7,207.0 91.9,204.7 92.2,205.5 92.4,207.5 92.7,206.4 92.9,205.9 93.2,205.7 93.4,206.9 93.7,206.9 93.9,207.0 94.2,205.9 94.4,206.8 94.7,206.7 94.9,207.1 95.2,206.1 95.4,207.4 95.7,208.2 95.9,207.0 96.2,208.4 96.4,208.6 96.7,208.1 96.9,208.2 97.2,210.3 97.4,213.0 97.7,214.5 97.9,211.7 98.2,209.6 98.4,207.8 98.7,207.2 98.9,208.9 99.2,207.1 99.4,209.2 99.7,207.1 99.9,208.9 100.2,208.6 100.4,207.6 100.7,208.3 100.9,208.1 101.2,208.2 101.4,209.3 101.7,208.2 101.9,207.9 102.2,209.7 102.4,209.4 102.7,209.6 102.9,210.9 103.2,214.2 103.4,215.6 103.7,213.8 103.9,211.0 104.2,210.5 104.4,210.5 104.7,210.3 104.9,212.0 105.2,210.3 105.4,209.9 105.7,210.6 105.9,209.9 106.2,209.9 106.4,209.6 106.7,210.1 106.9,209.0 107.2,209.6 107.4,209.7 107.7,209.3 107.9,211.1 108.2,210.1 108.4,209.7 108.7,210.4 108.9,209.6 109.2,210.8 109.4,211.2 109.7,209.6 109.9,211.1 110.2,210.6 110.4,211.2 110.7,210.7 110.9,210.2 111.2,209.8 111.4,210.1 111.7,210.5 111.9,211.4 112.2,211.2 112.4,211.1 112.7,211.9 112.9,210.8 113.2,212.8 113.4,213.8 113.7,213.6 113.9,211.1 114.2,211.1 114.4,212.1 114.7,211.9 114.9,212.3 115.2,211.1 115.4,210.9 115.7,211.7 115.9,211.1 116.2,211.9 116.4,212.4 116.7,212.9 116.9,213.1 117.2,212.7 117.4,212.4 117.7,211.8 117.9,212.3 118.2,211.8 118.4,211.5 118.7,211.2 118.9,211.8 119.2,212.5 119.4,212.6 119.7,212.3 119.9,212.6 120.2,212.1 120.4,213.3 120.7,212.5 120.9,212.3 121.2,212.9 121.4,212.6 121.7,213.4 121.9,215.3 122.2,215.3 122.4,215.0 122.7,213.7 122.9,213.1 123.2,214.0 123.4,213.5 123.7,213.9 123.9,212.4 124.2,215.0 124.4,215.1 124.7,214.8 124.9,214.4 125.2,213.9 125.4,214.2 125.7,213.4 125.9,213.4 126.2,213.1 126.4,213.3 126.7,213.8 126.9,214.2 127.2,214.5 127.4,216.1 127.7,216.5 127.9,216.0 128.2,214.0 128.4,213.7 128.7,214.1 128.9,214.0 129.2,214.5 129.4,215.1 129.7,214.0 129.9,214.8 130.2,214.5 130.4,214.2 130.7,214.5 130.9,214.9 131.2,213.7 131.4,214.7 131.7,215.3 131.9,215.1 132.2,217.0 132.4,216.3 132.7,214.6 132.9,214.8 133.2,213.7 133.4,213.8 133.7,213.7 133.9,214.7 134.2,214.4 134.4,214.2 134.7,214.5 134.9,214.8 135.2,215.1 135.4,215.5 135.7,216.2 135.9,215.3 136.2,215.3 136.4,216.1 136.7,215.6 136.9,214.4 137.2,216.4 137.4,215.1 137.7,216.6 137.9,215.8 138.2,216.4 138.4,214.9 138.7,215.6 138.9,215.9 139.2,216.5 139.4,216.6 139.7,216.5 139.9,216.5 140.2,216.1 140.4,216.4 140.7,216.7 140.9,215.7 141.2,216.7 141.4,217.0 141.7,219.0 141.9,221.0 142.2,219.7 142.4,218.7 142.7,218.3 142.9,219.0 143.2,221.6 143.4,227.7 143.7,229.3 143.9,225.3 144.2,220.0 144.4,218.2 144.7,217.9 144.9,217.2 145.2,218.0 145.4,217.3 145.7,217.2 145.9,218.1 146.2,217.7 146.4,217.4 146.7,218.2 146.9,218.6 147.2,218.2 147.4,218.9 147.7,217.7 147.9,217.8 148.2,218.7 148.4,217.7 148.7,218.7 148.9,217.5 149.2,217.9 149.4,218.4 149.7,218.3 149.9,219.4 150.2,218.1 150.4,218.7 150.7,218.9 150.9,218.9 151.2,219.8 151.4,219.0 151.7,219.3 151.9,219.6 152.2,221.8 152.4,222.5 152.7,222.8 152.9,222.8 153.2,221.7 153.4,221.8 153.7,221.2 153.9,221.8 154.2,221.4 154.4,220.9 154.7,221.3 154.9,222.6 155.2,221.0 155.4,221.1 155.7,222.0 155.9,222.6 156.2,221.7 156.4,221.0 156.7,222.9 156.9,221.6 157.2,223.0 157.4,223.6 157.7,223.2 157.9,224.0 158.2,224.2 158.4,221.7 158.7,222.2 158.9,222.3 159.2,222.4 159.4,221.5 159.7,221.9 159.9,221.3 160.2,221.3 160.4,221.1 160.7,222.1 160.9,222.1 161.2,222.6 161.4,220.5 161.7,221.2 161.9,221.9 162.2,222.7 162.4,221.3 162.7,220.7 162.9,221.4 163.2,221.7 163.4,222.6 163.7,223.6 163.9,224.0 164.2,223.0 164.4,223.3 164.7,221.3" fill="none" stroke="#f47e70" stroke-width="1.1" stroke-linejoin="round"/>
<polyline points="187.4,206.0 187.7,206.8 187.9,208.9 188.2,209.5 188.4,208.5 188.7,208.4 188.9,210.2 189.2,212.1 189.4,211.7 189.7,212.1 189.9,212.6 190.2,207.9 190.4,209.4 190.7,208.6 190.9,207.0 191.2,207.8 191.4,205.8 191.7,206.4 191.9,206.4 192.2,209.1 192.4,205.1 192.7,206.8 192.9,209.1 193.2,209.3 193.4,206.6 193.7,207.4 193.9,204.4 194.2,208.1 194.4,208.2 194.7,206.9 194.9,206.8 195.2,209.2 195.4,209.2 195.7,209.7 195.9,211.6 196.2,212.8 196.4,210.3 196.7,209.1 196.9,208.6 197.2,210.2 197.4,206.1 197.7,205.2 197.9,207.0 198.2,206.3 198.4,207.5 198.7,206.4 198.9,205.1 199.2,207.9 199.4,205.0 199.7,207.6 199.9,206.1 200.2,207.7 200.4,205.9 200.7,206.8 200.9,206.2 201.2,207.9 201.4,211.3 201.7,213.0 201.9,211.9 202.2,210.8 202.4,207.2 202.7,210.2 202.9,207.5 203.2,205.7 203.4,204.8 203.7,208.5 203.9,206.0 204.2,205.1 204.4,208.7 204.7,206.4 204.9,206.3 205.2,208.1 205.4,207.5 205.7,209.5 205.9,211.1 206.2,209.6 206.4,207.3 206.7,208.5 206.9,207.6 207.2,207.0 207.4,203.9 207.7,206.5 207.9,206.9 208.2,208.6 208.4,207.5 208.7,209.3 208.9,204.3 209.2,206.1 209.4,207.4 209.7,205.5 209.9,207.6 210.2,208.5 210.4,208.6 210.7,208.7 210.9,205.0 211.2,205.6 211.4,206.9 211.7,207.4 211.9,205.9 212.2,206.4 212.4,206.9 212.7,208.8 212.9,208.5 213.2,209.1 213.4,208.2 213.7,211.6 213.9,207.8 214.2,208.0 214.4,207.8 214.7,209.4 214.9,210.8 215.2,208.0 215.4,208.0 215.7,209.3 215.9,207.0 216.2,207.5 216.4,204.9 216.7,209.7 216.9,208.2 217.2,209.5 217.4,207.9 217.7,206.3 217.9,207.9 218.2,208.2 218.4,208.1 218.7,208.0 218.9,208.3 219.2,208.1 219.4,207.8 219.7,208.5 219.9,208.0 220.2,208.2 220.4,208.1 220.7,207.4 220.9,207.1 221.2,208.0 221.4,207.5 221.7,209.7 221.9,208.8 222.2,206.4 222.4,209.1 222.7,208.0 222.9,208.9 223.2,207.7 223.4,208.6 223.7,208.8 223.9,207.0 224.2,209.9 224.4,209.0 224.7,209.8 224.9,212.1 225.2,213.8 225.4,211.5 225.7,214.8 225.9,212.6 226.2,209.6 226.4,209.8 226.7,211.5 226.9,209.1 227.2,209.8 227.4,212.0 227.7,211.0 227.9,207.8 228.2,209.7 228.4,210.1 228.7,209.2 228.9,210.2 229.2,208.4 229.4,212.9 229.7,210.8 229.9,211.6 230.2,213.9 230.4,211.2 230.7,210.9 230.9,209.1 231.2,210.8 231.4,211.6 231.7,209.9 231.9,210.5 232.2,208.5 232.4,210.6 232.7,210.1 232.9,214.1 233.2,212.7 233.4,209.7 233.7,209.8 233.9,207.5 234.2,212.1 234.4,213.7 234.7,211.1 234.9,211.1 235.2,209.0 235.4,210.7 235.7,209.5 235.9,211.0 236.2,208.4 236.4,209.3 236.7,208.8 236.9,210.7 237.2,206.6 237.4,212.4 237.7,212.7 237.9,209.4 238.2,207.8 238.4,213.1 238.7,211.2 238.9,210.4 239.2,210.2 239.4,210.2 239.7,212.3 239.9,210.5 240.2,210.6 240.4,211.0 240.7,210.6 240.9,209.0 241.2,211.8 241.4,211.8 241.7,215.2 241.9,211.9 242.2,211.4 242.4,211.3 242.7,207.7 242.9,208.8 243.2,209.5 243.4,209.9 243.7,210.6 243.9,210.9 244.2,211.8 244.4,210.8 244.7,210.6 244.9,209.2 245.2,210.5 245.4,211.3 245.7,210.3 245.9,211.2 246.2,213.1 246.4,207.8 246.7,209.7 246.9,210.8 247.2,213.6 247.4,208.5 247.7,209.8 247.9,211.0 248.2,211.4 248.4,207.5 248.7,209.2 248.9,210.1 249.2,208.4 249.4,209.0 249.7,213.4 249.9,210.8 250.2,212.4 250.4,211.9 250.7,212.7 250.9,209.7 251.2,210.9 251.4,214.8 251.7,210.3 251.9,213.8 252.2,210.6 252.4,214.6 252.7,211.1 252.9,212.2 253.2,211.8 253.4,214.0 253.7,214.6 253.9,215.7 254.2,213.8 254.4,214.8 254.7,209.1 254.9,209.3 255.2,209.6 255.4,209.5 255.7,210.4 255.9,211.0 256.1,209.7 256.4,212.5 256.6,211.1 256.9,211.9 257.1,210.4 257.4,210.9 257.6,210.3 257.9,208.9 258.1,209.3 258.4,209.9 258.6,211.5 258.9,211.2 259.1,210.8 259.4,212.6 259.6,210.7 259.9,210.0 260.1,211.6 260.4,212.6 260.6,211.6 260.9,210.5 261.1,211.1 261.4,214.0 261.6,209.5 261.9,211.7 262.1,208.5 262.4,210.6 262.6,211.4 262.9,212.1 263.1,211.8 263.4,212.9 263.6,210.0 263.9,215.0 264.1,219.0 264.4,217.8 264.6,214.5 264.9,211.3 265.1,210.7 265.4,212.6 265.6,211.7 265.9,212.3 266.1,214.8 266.4,211.7 266.6,214.7 266.9,213.3 267.1,212.1 267.4,210.0 267.6,212.0 267.9,213.2 268.1,210.1 268.4,212.4 268.6,212.5 268.9,209.2 269.1,211.3 269.4,213.4 269.6,212.3 269.9,214.9 270.1,214.8 270.4,211.2 270.6,210.8 270.9,214.2 271.1,213.4 271.4,214.4 271.6,214.3 271.9,214.2 272.1,213.6 272.4,216.4 272.6,217.7 272.9,213.3 273.1,216.4 273.4,213.8 273.6,214.7 273.9,214.3 274.1,215.5 274.4,219.7 274.6,216.3 274.9,216.8 275.1,215.8 275.4,220.2 275.6,218.0 275.9,217.7 276.1,220.0 276.4,217.5 276.6,216.5 276.9,217.8 277.1,217.4 277.4,217.5 277.6,218.2 277.9,221.9 278.1,225.8 278.4,226.5 278.6,228.5 278.9,223.3 279.1,218.0 279.4,220.8 279.6,220.1 279.9,217.8 280.1,219.4 280.4,215.7 280.6,218.3 280.9,217.5 281.1,217.4 281.4,220.4 281.6,219.0 281.9,215.7 282.1,219.4 282.4,221.4 282.6,216.5 282.9,216.7 283.1,218.3 283.4,217.5 283.6,219.4 283.9,219.7 284.1,222.4 284.4,224.4 284.6,221.0 284.9,226.2 285.1,225.2 285.4,222.8 285.6,222.6 285.9,219.8 286.1,221.6 286.4,221.3 286.6,222.2 286.9,224.5 287.1,223.3 287.4,222.8 287.6,221.9 287.9,223.9 288.1,222.8 288.4,221.6 288.6,224.2 288.9,221.9 289.1,225.4 289.4,227.4 289.6,227.7 289.9,229.5 290.1,226.5 290.4,224.9 290.6,225.1 290.9,224.8 291.1,225.8 291.4,224.5 291.6,225.0 291.9,226.5 292.1,223.4 292.4,224.3 292.6,226.6 292.9,225.2 293.1,224.7 293.4,224.7 293.6,225.7 293.9,227.0 294.1,226.3 294.4,227.0 294.6,227.5 294.9,227.0 295.1,226.8 295.4,225.9 295.6,227.3 295.9,229.7 296.1,230.5 296.4,229.1 296.6,227.0 296.9,227.2 297.1,227.9 297.4,229.8 297.6,230.6 297.9,229.5 298.1,225.1 298.4,228.3 298.6,228.1 298.9,227.7 299.1,230.0 299.4,227.8 299.6,227.3 299.9,228.1 300.1,231.4 300.4,231.0 300.6,230.1 300.9,230.0 301.1,229.0 301.4,227.6 301.6,229.6 301.9,230.1 302.1,228.0 302.4,229.0 302.6,231.9 302.9,231.1 303.1,229.2 303.4,230.5 303.6,229.4 303.9,231.1 304.1,228.7 304.4,230.1 304.6,229.7 304.9,231.3 305.1,232.7 305.4,234.0 305.6,230.8 305.9,229.5 306.1,231.2 306.4,233.7 306.6,230.8 306.9,233.3 307.1,231.1 307.4,230.8 307.6,231.3 307.9,232.8 308.1,233.4 308.4,234.3 308.6,234.1 308.9,234.3 309.1,232.7 309.4,234.1 309.6,234.4 309.9,233.7 310.1,232.6 310.4,232.3 310.6,234.1 310.9,233.7 311.1,230.4 311.4,232.3 311.6,233.6 311.9,233.8 312.1,236.1 312.4,234.4 312.6,233.6 312.9,237.2" fill="none" stroke="#000" stroke-width="1.25" stroke-linejoin="round"/>
<polyline points="187.4,204.1 187.7,205.1 187.9,204.4 188.2,204.5 188.4,204.7 188.7,204.4 188.9,204.3 189.2,206.8 189.4,208.9 189.7,210.2 189.9,208.1 190.2,206.4 190.4,204.7 190.7,203.9 190.9,203.2 191.2,204.9 191.4,205.0 191.7,204.6 191.9,204.4 192.2,202.8 192.4,204.4 192.7,207.7 192.9,205.0 193.2,203.9 193.4,204.1 193.7,201.8 193.9,204.0 194.2,204.2 194.4,203.7 194.7,205.1 194.9,203.1 195.2,204.4 195.4,205.5 195.7,209.6 195.9,213.0 196.2,209.8 196.4,209.2 196.7,204.7 196.9,205.2 197.2,206.0 197.4,205.1 197.7,203.0 197.9,206.1 198.2,205.6 198.4,205.5 198.7,203.3 198.9,203.7 199.2,203.5 199.4,204.6 199.7,205.1 199.9,204.4 200.2,205.8 200.4,205.4 200.7,204.7 200.9,204.2 201.2,202.7 201.4,205.5 201.7,207.7 201.9,204.2 202.2,205.2 202.4,204.0 202.7,204.7 202.9,205.0 203.2,205.1 203.4,203.4 203.7,205.4 203.9,206.7 204.2,208.1 204.4,207.6 204.7,205.4 204.9,206.6 205.2,205.4 205.4,206.4 205.7,207.2 205.9,207.9 206.2,208.5 206.4,207.1 206.7,206.0 206.9,206.7 207.2,206.2 207.4,207.2 207.7,207.1 207.9,204.9 208.2,205.7 208.4,206.4 208.7,207.4 208.9,205.7 209.2,205.7 209.4,207.4 209.7,205.8 209.9,208.2 210.2,208.7 210.4,209.5 210.7,207.5 210.9,206.4 211.2,207.1 211.4,205.9 211.7,206.6 211.9,205.3 212.2,206.9 212.4,208.5 212.7,210.3 212.9,208.7 213.2,208.9 213.4,205.6 213.7,208.0 213.9,206.1 214.2,206.6 214.4,206.2 214.7,205.9 214.9,207.5 215.2,206.7 215.4,208.3 215.7,206.0 215.9,206.1 216.2,207.8 216.4,205.5 216.7,208.2 216.9,208.1 217.2,205.7 217.4,208.0 217.7,207.4 217.9,207.1 218.2,208.7 218.4,211.0 218.7,211.9 218.9,213.1 219.2,212.2 219.4,209.8 219.7,207.9 219.9,208.8 220.2,208.5 220.4,208.0 220.7,206.3 220.9,207.1 221.2,206.4 221.4,207.1 221.7,207.6 221.9,206.9 222.2,208.6 222.4,208.0 222.7,208.3 222.9,208.6 223.2,206.6 223.4,207.7 223.7,207.6 223.9,207.6 224.2,207.7 224.4,207.1 224.7,207.0 224.9,209.1 225.2,211.0 225.4,211.5 225.7,210.3 225.9,207.7 226.2,206.8 226.4,207.3 226.7,207.1 226.9,207.8 227.2,206.4 227.4,207.6 227.7,207.8 227.9,208.3 228.2,210.7 228.4,212.0 228.7,210.0 228.9,209.0 229.2,207.5 229.4,208.0 229.7,209.6 229.9,209.9 230.2,212.1 230.4,211.4 230.7,208.1 230.9,209.4 231.2,210.1 231.4,210.6 231.7,209.4 231.9,208.7 232.2,208.8 232.4,208.4 232.7,207.8 232.9,207.3 233.2,209.3 233.4,208.8 233.7,207.9 233.9,207.8 234.2,208.9 234.4,208.3 234.7,208.4 234.9,209.5 235.2,209.0 235.4,207.9 235.7,208.6 235.9,209.8 236.2,210.6 236.4,211.9 236.7,211.1 236.9,209.6 237.2,211.4 237.4,208.6 237.7,210.2 237.9,210.0 238.2,209.6 238.4,210.1 238.7,210.5 238.9,210.0 239.2,209.3 239.4,209.9 239.7,209.3 239.9,209.6 240.2,210.3 240.4,210.7 240.7,209.2 240.9,210.2 241.2,210.2 241.4,213.0 241.7,213.0 241.9,212.9 242.2,211.2 242.4,210.5 242.7,209.4 242.9,210.4 243.2,209.9 243.4,210.7 243.7,210.9 243.9,212.9 244.2,212.6 244.4,210.6 244.7,210.3 244.9,208.7 245.2,211.1 245.4,212.3 245.7,212.5 245.9,211.0 246.2,210.7 246.4,208.4 246.7,210.2 246.9,212.1 247.2,210.6 247.4,213.4 247.7,212.9 247.9,211.3 248.2,210.1 248.4,210.8 248.7,210.8 248.9,210.8 249.2,210.9 249.4,211.5 249.7,212.5 249.9,215.1 250.2,217.6 250.4,215.5 250.7,212.0 250.9,211.6 251.2,212.1 251.4,212.7 251.7,213.7 251.9,210.5 252.2,211.3 252.4,210.9 252.7,211.9 252.9,210.3 253.2,210.3 253.4,212.5 253.7,212.0 253.9,213.7 254.2,213.8 254.4,211.2 254.7,212.5 254.9,211.0 255.2,213.2 255.4,211.6 255.7,211.8 255.9,210.7 256.1,212.3 256.4,210.7 256.6,211.6 256.9,210.1 257.1,211.7 257.4,211.4 257.6,212.7 257.9,212.6 258.1,212.3 258.4,211.4 258.6,212.6 258.9,212.5 259.1,212.7 259.4,211.7 259.6,213.4 259.9,213.5 260.1,213.1 260.4,211.7 260.6,211.6 260.9,212.1 261.1,212.5 261.4,212.0 261.6,213.4 261.9,212.5 262.1,212.2 262.4,212.7 262.6,214.3 262.9,211.9 263.1,213.8 263.4,214.3 263.6,216.7 263.9,220.2 264.1,223.7 264.4,226.1 264.6,220.7 264.9,218.4 265.1,216.2 265.4,215.5 265.6,215.7 265.9,216.2 266.1,213.6 266.4,215.1 266.6,215.4 266.9,215.7 267.1,216.0 267.4,217.9 267.6,217.9 267.9,217.8 268.1,214.8 268.4,215.7 268.6,214.9 268.9,214.3 269.1,216.4 269.4,216.7 269.6,217.2 269.9,216.0 270.1,216.8 270.4,215.1 270.6,214.8 270.9,214.8 271.1,215.6 271.4,215.9 271.6,216.4 271.9,216.0 272.1,216.4 272.4,214.8 272.6,217.0 272.9,216.7 273.1,217.1 273.4,214.3 273.6,217.6 273.9,216.7 274.1,217.4 274.4,216.0 274.6,217.9 274.9,216.3 275.1,217.6 275.4,218.0 275.6,217.3 275.9,217.7 276.1,217.7 276.4,217.7 276.6,217.3 276.9,217.5 277.1,217.9 277.4,217.6 277.6,219.6 277.9,221.8 278.1,226.4 278.4,229.5 278.6,230.2 278.9,225.6 279.1,221.7 279.4,220.9 279.6,220.7 279.9,219.2 280.1,219.3 280.4,218.1 280.6,218.4 280.9,219.1 281.1,219.8 281.4,219.4 281.6,220.8 281.9,218.5 282.1,219.8 282.4,220.1 282.6,220.2 282.9,219.3 283.1,219.3 283.4,220.2 283.6,221.7 283.9,220.8 284.1,222.1 284.4,221.5 284.6,224.4 284.9,222.7 285.1,225.0 285.4,222.6 285.6,223.0 285.9,222.8 286.1,223.0 286.4,223.1 286.6,222.9 286.9,222.3 287.1,223.4 287.4,223.1 287.6,222.5 287.9,223.1 288.1,223.6 288.4,222.8 288.6,222.8 288.9,223.6 289.1,222.1 289.4,224.6 289.6,225.5 289.9,226.9 290.1,225.6 290.4,226.0 290.6,225.1 290.9,225.3 291.1,224.9 291.4,226.6 291.6,225.5 291.9,225.6 292.1,225.3 292.4,225.6 292.6,225.8 292.9,227.0 293.1,227.9 293.4,227.6 293.6,227.9 293.9,227.7 294.1,225.3 294.4,227.0 294.6,226.2 294.9,226.3 295.1,226.4 295.4,227.3 295.6,227.9 295.9,227.1 296.1,227.0 296.4,227.4 296.6,227.7 296.9,226.6 297.1,228.5 297.4,227.3 297.6,228.2 297.9,230.9 298.1,228.4 298.4,228.9 298.6,229.0 298.9,228.3 299.1,228.1 299.4,231.1 299.6,229.1 299.9,229.6 300.1,231.4 300.4,230.6 300.6,230.7 300.9,231.9 301.1,231.1 301.4,232.1 301.6,231.4 301.9,230.7 302.1,229.9 302.4,229.7 302.6,229.5 302.9,231.1 303.1,231.5 303.4,230.7 303.6,231.6 303.9,230.3 304.1,229.8 304.4,231.3 304.6,231.7 304.9,233.3 305.1,232.3 305.4,230.9 305.6,232.7 305.9,236.5 306.1,237.4 306.4,234.1 306.6,233.3 306.9,232.3 307.1,233.0 307.4,233.3 307.6,234.9 307.9,234.5 308.1,233.1 308.4,232.0 308.6,232.6 308.9,234.2 309.1,232.6 309.4,233.3 309.6,233.0 309.9,232.8 310.1,234.2 310.4,234.2 310.6,234.5 310.9,232.2 311.1,233.3 311.4,235.6 311.6,235.9 311.9,238.0 312.1,237.3 312.4,235.9 312.6,235.4 312.9,234.8" fill="none" stroke="#f47e70" stroke-width="1.0" stroke-linejoin="round"/>
<polyline points="335.9,207.0 336.1,205.9 336.4,206.1 336.6,207.2 336.9,205.2 337.1,206.3 337.4,204.1 337.6,202.7 337.9,201.8 338.1,208.1 338.4,206.8 338.6,204.8 338.9,204.8 339.1,205.0 339.4,204.0 339.6,204.6 339.9,205.5 340.1,208.1 340.4,207.0 340.6,203.9 340.9,208.6 341.1,208.2 341.4,207.1 341.6,207.0 341.9,207.8 342.1,207.4 342.4,205.9 342.6,210.5 342.9,209.0 343.1,208.2 343.4,206.3 343.6,205.9 343.9,209.4 344.1,208.5 344.4,208.9 344.6,206.4 344.9,208.3 345.1,206.3 345.4,207.7 345.6,208.4 345.9,210.9 346.1,207.5 346.4,207.0 346.6,209.8 346.9,210.1 347.1,206.6 347.4,210.0 347.6,210.9 347.9,208.7 348.1,209.6 348.4,211.0 348.6,211.4 348.9,210.9 349.1,210.5 349.4,210.7 349.6,210.7 349.9,209.5 350.1,208.7 350.4,210.9 350.6,211.3 350.9,211.6 351.1,209.6 351.4,212.6 351.6,213.9 351.9,209.3 352.1,211.0 352.4,211.5 352.6,207.7 352.9,210.1 353.1,209.0 353.4,210.1 353.6,209.0 353.9,210.2 354.1,210.8 354.4,210.6 354.6,212.8 354.9,211.1 355.1,212.3 355.4,212.1 355.6,211.4 355.9,211.4 356.1,212.9 356.4,212.7 356.6,213.5 356.9,210.8 357.1,212.5 357.4,211.9 357.6,212.2 357.9,213.3 358.1,214.7 358.4,210.8 358.6,211.7 358.9,213.9 359.1,213.0 359.4,214.6 359.6,213.7 359.9,212.8 360.1,213.3 360.4,215.5 360.6,212.5 360.9,213.6 361.1,212.1 361.4,213.1 361.6,213.4 361.9,212.7 362.1,213.3 362.4,211.4 362.6,212.7 362.9,213.1 363.1,213.2 363.4,215.1 363.6,211.1 363.9,214.5 364.1,214.2 364.4,211.1 364.6,212.2 364.9,214.1 365.1,215.6 365.4,212.7 365.6,213.4 365.9,213.9 366.1,212.4 366.4,214.3 366.6,215.8 366.9,214.8 367.1,215.5 367.4,217.6 367.6,215.8 367.9,212.4 368.1,215.3 368.4,215.2 368.6,214.4 368.9,214.9 369.1,216.4 369.4,218.1 369.6,218.3 369.9,214.8 370.1,214.5 370.4,214.1 370.6,215.1 370.9,214.7 371.1,214.3 371.4,214.3 371.6,216.1 371.9,214.9 372.1,214.5 372.4,212.1 372.6,215.0 372.9,213.4 373.1,215.4 373.4,216.6 373.6,214.6 373.9,218.0 374.1,218.1 374.4,214.9 374.6,216.4 374.9,213.5 375.1,213.9 375.4,215.3 375.6,214.1 375.9,216.4 376.1,216.3 376.4,214.6 376.6,215.5 376.9,216.1 377.1,215.7 377.4,215.9 377.6,215.0 377.9,215.0 378.1,217.2 378.4,216.8 378.6,218.0 378.9,217.0 379.1,214.9 379.4,214.9 379.6,216.5 379.9,214.8 380.1,215.5 380.4,215.5 380.6,215.8 380.9,215.0 381.1,215.9 381.4,214.7 381.6,214.5 381.9,217.4 382.1,217.1 382.4,214.7 382.6,215.7 382.9,215.3 383.1,215.9 383.4,216.0 383.6,215.7 383.9,216.9 384.1,215.4 384.4,215.2 384.6,216.2 384.9,216.9 385.1,214.6 385.4,216.6 385.6,216.3 385.9,216.8 386.1,217.0 386.4,216.1 386.6,216.9 386.9,216.6 387.1,216.5 387.4,216.3 387.6,216.2 387.9,217.3 388.1,216.4 388.4,216.6 388.6,217.0 388.9,216.2 389.1,216.6 389.4,216.6 389.6,217.0 389.9,216.7 390.1,216.8 390.4,216.5 390.6,217.0 390.9,217.7 391.1,219.3 391.4,220.8 391.6,220.8 391.9,219.1 392.1,217.7 392.4,216.8 392.6,217.4 392.9,219.1 393.1,221.0 393.4,221.8 393.6,219.5 393.9,217.6 394.1,217.4 394.4,217.7 394.6,217.4 394.9,217.6 395.1,217.5 395.4,217.8 395.6,217.9 395.9,217.8 396.1,218.4 396.4,217.2 396.6,218.0 396.9,218.0 397.1,218.0 397.4,217.6 397.6,217.8 397.9,218.8 398.1,218.5 398.4,218.6 398.6,219.6 398.9,221.1 399.1,225.6 399.4,226.5 399.6,224.7 399.9,221.6 400.1,220.2 400.4,219.2 400.6,219.9 400.9,219.7 401.1,219.0 401.4,218.6 401.6,218.0 401.9,218.3 402.1,218.1 402.4,218.4 402.6,218.4 402.9,218.3 403.1,219.2 403.4,219.2 403.6,218.7 403.9,218.6 404.1,218.9 404.4,218.7 404.6,217.8 404.9,218.9 405.1,220.1 405.4,221.6 405.6,221.4 405.9,219.3 406.1,218.5 406.4,218.5 406.6,218.8 406.9,217.8 407.1,219.1 407.4,218.5 407.6,218.3 407.9,218.5 408.1,219.3 408.4,218.6 408.6,218.6 408.9,218.6 409.1,219.3 409.4,220.3 409.6,221.5 409.9,222.2 410.1,221.0 410.4,219.8 410.6,219.4 410.9,219.1 411.1,219.1 411.4,219.9 411.6,219.2 411.9,219.4 412.1,220.3 412.4,219.5 412.6,219.7 412.9,219.9 413.1,221.3 413.4,221.7 413.6,221.9 413.9,221.1 414.1,219.5 414.4,220.2 414.6,219.5 414.9,220.1 415.1,220.7 415.4,219.9 415.6,220.7 415.9,220.9 416.1,220.2 416.4,220.9 416.6,220.9 416.9,222.6 417.1,225.1 417.4,226.6 417.6,225.4 417.9,223.0 418.1,220.7 418.4,220.4 418.6,221.1 418.9,221.1 419.1,221.0 419.4,220.6 419.6,221.3 419.9,221.2 420.1,220.5 420.4,220.6 420.6,221.5 420.9,221.1 421.1,222.0 421.4,222.3 421.6,221.3 421.9,222.6 422.1,221.8 422.4,222.1 422.6,222.6 422.9,223.0 423.1,222.5 423.4,222.7 423.6,222.4 423.9,223.4 424.1,223.9 424.4,225.5 424.6,227.5 424.9,230.1 425.1,228.6 425.4,226.2 425.6,223.3 425.9,224.3 426.1,223.7 426.4,224.1 426.6,224.2 426.9,223.9 427.1,224.8 427.4,225.6 427.6,225.4 427.9,230.6 428.1,230.0 428.4,229.2 428.6,228.7 428.9,228.6 429.1,229.0 429.4,228.5 429.6,228.0 429.9,227.3 430.1,227.5 430.4,228.6 430.6,230.2 430.9,229.6 431.1,228.4 431.4,227.9 431.6,227.4 431.9,227.8 432.1,227.1 432.4,227.6 432.6,227.5 432.9,227.3 433.1,227.2 433.4,227.5 433.6,226.7 433.9,227.5 434.1,226.9 434.4,226.9 434.6,226.8 434.9,226.5 435.1,226.9 435.4,226.2 435.6,226.5 435.9,226.3 436.1,226.8 436.4,226.9 436.6,226.2 436.9,227.5 437.1,226.0 437.4,226.6 437.6,233.7 437.9,233.5 438.1,233.0 438.4,232.3 438.6,231.5 438.9,231.7 439.1,231.7 439.4,231.2 439.6,231.2 439.9,230.1 440.1,231.0 440.4,231.2 440.6,230.3 440.9,230.6 441.1,231.9 441.4,233.4 441.6,234.6 441.9,233.2 442.1,231.2 442.4,230.6 442.6,230.6 442.9,230.3 443.1,229.7 443.4,230.6 443.6,230.6 443.9,231.6 444.1,231.8 444.4,231.1 444.6,230.6 444.9,230.0 445.1,229.9 445.4,229.9 445.6,230.0 445.9,230.3 446.1,230.1 446.4,230.1 446.6,230.0 446.9,237.7 447.1,236.7 447.4,236.7 447.6,235.8 447.9,235.6 448.1,235.1 448.4,234.2 448.6,234.8 448.9,234.8 449.1,233.9 449.4,234.6 449.6,234.9 449.9,234.3 450.1,234.8 450.4,234.7 450.6,233.8 450.9,233.5 451.1,233.5 451.4,234.0 451.6,233.0 451.9,233.9 452.1,234.0 452.4,232.8 452.6,233.2 452.9,234.0 453.1,233.9 453.4,233.0 453.6,233.4 453.9,233.7 454.1,233.5 454.4,233.2 454.6,233.0 454.9,233.6 455.1,233.2 455.4,233.4 455.6,233.6 455.9,233.7 456.1,232.7 456.4,233.7 456.6,233.8 456.9,240.9 457.1,241.1 457.4,240.7 457.6,241.5 457.9,240.9 458.1,239.7 458.4,238.0 458.6,238.3 458.9,237.7 459.1,237.5 459.4,237.1 459.6,237.7 459.9,237.0 460.1,237.8 460.4,237.3 460.6,237.4 460.9,237.3 461.1,236.7 461.4,237.5 461.6,236.8 461.9,236.8" fill="none" stroke="#000" stroke-width="1.4" stroke-linejoin="round"/>
<polyline points="335.9,200.4 336.1,199.9 336.4,199.4 336.6,200.0 336.9,200.7 337.1,200.5 337.4,200.4 337.6,200.6 337.9,200.8 338.1,202.5 338.4,204.1 338.6,202.4 338.9,200.6 339.1,201.5 339.4,202.4 339.6,201.2 339.9,199.9 340.1,201.1 340.4,202.2 340.6,202.5 340.9,202.9 341.1,202.5 341.4,202.2 341.6,202.1 341.9,202.0 342.1,202.4 342.4,202.9 342.6,203.3 342.9,203.7 343.1,204.7 343.4,205.6 343.6,203.4 343.9,201.1 344.1,202.2 344.4,203.3 344.6,203.9 344.9,204.6 345.1,204.3 345.4,204.1 345.6,204.6 345.9,205.2 346.1,205.2 346.4,205.4 346.6,205.0 346.9,204.2 347.1,203.9 347.4,203.8 347.6,203.1 347.9,202.4 348.1,202.8 348.4,203.2 348.6,203.4 348.9,203.7 349.1,205.2 349.4,206.6 349.6,206.0 349.9,205.6 350.1,204.6 350.4,203.6 350.6,204.3 350.9,205.0 351.1,205.0 351.4,204.9 351.6,204.8 351.9,204.7 352.1,204.5 352.4,204.4 352.6,204.4 352.9,204.5 353.1,206.1 353.4,207.8 353.6,205.7 353.9,203.6 354.1,203.7 354.4,203.7 354.6,205.9 354.9,208.0 355.1,207.2 355.4,206.4 355.6,206.2 355.9,206.0 356.1,206.6 356.4,207.2 356.6,206.5 356.9,205.9 357.1,206.3 357.4,206.7 357.6,205.9 357.9,205.2 358.1,205.4 358.4,205.5 358.6,207.4 358.9,209.2 359.1,209.2 359.4,209.2 359.6,208.6 359.9,208.0 360.1,207.9 360.4,207.9 360.6,208.8 360.9,209.6 361.1,209.6 361.4,209.6 361.6,209.5 361.9,209.5 362.1,210.0 362.4,210.5 362.6,209.8 362.9,209.0 363.1,209.3 363.4,209.8 363.6,209.9 363.9,210.0 364.1,210.0 364.4,210.1 364.6,209.8 364.9,209.6 365.1,210.7 365.4,211.8 365.6,211.0 365.9,210.2 366.1,210.7 366.4,211.2 366.6,212.2 366.9,214.1 367.1,215.8 367.4,215.9 367.6,214.7 367.9,213.8 368.1,213.5 368.4,213.7 368.6,214.0 368.9,215.0 369.1,216.7 369.4,218.8 369.6,218.2 369.9,215.0 370.1,213.1 370.4,212.7 370.6,212.6 370.9,212.5 371.1,212.4 371.4,212.3 371.6,213.6 371.9,215.0 372.1,214.5 372.4,213.9 372.6,214.5 372.9,215.0 373.1,215.2 373.4,215.7 373.6,215.3 373.9,214.4 374.1,214.2 374.4,214.0 374.6,213.5 374.9,213.2 375.1,213.7 375.4,214.3 375.6,214.0 375.9,213.7 376.1,215.5 376.4,217.2 376.6,216.1 376.9,214.9 377.1,214.4 377.4,213.9 377.6,214.5 377.9,215.2 378.1,216.2 378.4,217.2 378.6,216.9 378.9,216.1 379.1,214.6 379.4,213.3 379.6,215.6 379.9,218.0 380.1,217.0 380.4,216.1 380.6,215.7 380.9,215.2 381.1,215.1 381.4,215.1 381.6,215.2 381.9,215.3 382.1,215.6 382.4,215.8 382.6,216.3 382.9,216.8 383.1,216.8 383.4,216.9 383.6,216.7 383.9,216.6 384.1,216.5 384.4,216.9 384.6,218.6 384.9,219.3 385.1,218.0 385.4,217.0 385.6,216.7 385.9,216.5 386.1,215.5 386.4,214.5 386.6,215.8 386.9,217.1 387.1,217.4 387.4,217.6 387.6,217.8 387.9,217.9 388.1,216.9 388.4,215.9 388.6,216.7 388.9,217.5 389.1,217.3 389.4,217.2 389.6,217.3 389.9,217.5 390.1,217.5 390.4,217.5 390.6,217.6 390.9,217.9 391.1,218.5 391.4,219.2 391.6,219.2 391.9,218.3 392.1,217.3 392.4,216.8 392.6,217.5 392.9,218.5 393.1,219.1 393.4,219.2 393.6,218.4 393.9,217.6 394.1,218.0 394.4,218.5 394.6,219.0 394.9,219.5 395.1,218.7 395.4,217.9 395.6,217.7 395.9,217.6 396.1,219.1 396.4,220.5 396.6,219.5 396.9,218.4 397.1,218.0 397.4,217.6 397.6,218.1 397.9,218.6 398.1,219.3 398.4,220.3 398.6,220.9 398.9,224.0 399.1,229.9 399.4,233.1 399.6,229.8 399.9,223.8 400.1,221.2 400.4,221.1 400.6,220.3 400.9,219.5 401.1,219.4 401.4,219.4 401.6,220.2 401.9,221.1 402.1,220.7 402.4,220.3 402.6,221.4 402.9,222.3 403.1,221.7 403.4,221.2 403.6,221.2 403.9,221.1 404.1,221.6 404.4,222.0 404.6,221.4 404.9,221.0 405.1,221.7 405.4,222.5 405.6,223.3 405.9,223.5 406.1,222.7 406.4,222.3 406.6,221.5 406.9,220.8 407.1,222.3 407.4,223.8 407.6,223.1 407.9,222.5 408.1,222.8 408.4,223.1 408.6,223.1 408.9,223.2 409.1,223.6 409.4,224.5 409.6,225.3 409.9,225.7 410.1,225.1 410.4,224.2 410.6,225.3 410.9,226.8 411.1,225.5 411.4,223.5 411.6,223.6 411.9,224.2 412.1,224.1 412.4,224.0 412.6,223.9 412.9,223.9 413.1,224.3 413.4,224.8 413.6,224.9 413.9,224.6 414.1,224.1 414.4,223.9 414.6,224.7 414.9,225.5 415.1,225.5 415.4,225.6 415.6,225.5 415.9,225.4 416.1,224.9 416.4,224.4 416.6,225.7 416.9,227.9 417.1,229.1 417.4,229.4 417.6,229.5 417.9,228.7 418.1,227.8 418.4,227.5 418.6,226.5 418.9,225.8 419.1,226.1 419.4,226.4 419.6,226.7 419.9,227.0 420.1,227.0 420.4,227.0 420.6,226.3 420.9,225.6 421.1,226.4 421.4,227.3 421.6,227.1 421.9,226.9 422.1,227.2 422.4,227.4 422.6,227.0 422.9,226.7 423.1,228.0 423.4,229.1 423.6,229.4 423.9,229.5 424.1,230.1 424.4,231.5 424.6,232.5 424.9,232.7 425.1,231.4 425.4,229.4 425.6,229.0 425.9,229.3 426.1,229.6 426.4,230.0 426.6,229.3 426.9,228.7 427.1,228.2 427.4,227.8 427.6,228.8 427.9,236.0 428.1,235.0 428.4,234.1 428.6,233.4 428.9,232.8 429.1,232.9 429.4,233.0 429.6,232.7 429.9,232.5 430.1,232.2 430.4,232.0 430.6,231.5 430.9,231.0 431.1,231.1 431.4,231.3 431.6,232.1 431.9,232.9 432.1,231.8 432.4,230.7 432.6,231.0 432.9,231.4 433.1,231.3 433.4,231.2 433.6,231.4 433.9,231.6 434.1,231.0 434.4,230.4 434.6,231.1 434.9,231.7 435.1,231.8 435.4,231.8 435.6,232.2 435.9,232.6 436.1,232.7 436.4,232.7 436.6,231.7 436.9,230.7 437.1,230.4 437.4,230.1 437.6,238.4 437.9,238.3 438.1,237.4 438.4,236.6 438.6,236.0 438.9,235.5 439.1,235.1 439.4,234.7 439.6,234.7 439.9,234.7 440.1,235.3 440.4,236.0 440.6,235.3 440.9,234.7 441.1,236.1 441.4,238.0 441.6,237.2 441.9,235.2 442.1,234.9 442.4,235.1 442.6,234.9 442.9,234.7 443.1,234.9 443.4,235.1 443.6,235.6 443.9,236.2 444.1,235.9 444.4,235.9 444.6,236.6 444.9,236.6 445.1,235.6 445.4,235.0 445.6,234.7 445.9,234.4 446.1,234.6 446.4,234.8 446.6,234.4 446.9,242.1 447.1,241.5 447.4,241.1 447.6,240.8 447.9,240.6 448.1,239.5 448.4,238.6 448.6,239.3 448.9,240.1 449.1,238.1 449.4,236.2 449.6,237.3 449.9,238.4 450.1,238.1 450.4,237.8 450.6,237.5 450.9,237.2 451.1,237.2 451.4,237.2 451.6,237.7 451.9,238.3 452.1,238.0 452.4,237.8 452.6,238.0 452.9,238.3 453.1,238.6 453.4,238.9 453.6,237.4 453.9,235.9 454.1,235.8 454.4,235.7 454.6,236.3 454.9,236.8 455.1,237.3 455.4,237.7 455.6,237.6 455.9,237.5 456.1,237.0 456.4,236.5 456.6,236.8 456.9,245.2 457.1,244.3 457.4,243.6 457.6,243.0 457.9,242.6 458.1,241.9 458.4,241.2 458.6,241.8 458.9,242.5 459.1,240.8 459.4,239.2 459.6,239.9 459.9,240.6 460.1,240.3 460.4,240.1 460.6,239.9 460.9,239.6 461.1,239.4 461.4,239.2 461.6,239.0 461.9,238.9" fill="none" stroke="#f47e70" stroke-width="1.1" stroke-linejoin="round"/>
<polyline points="38.9,227.3 39.1,226.7 39.4,226.5 39.6,227.5 39.9,227.1 40.1,228.3 40.4,227.4 40.6,228.1 40.9,227.9 41.1,227.6 41.4,227.4 41.6,227.2 41.9,226.9 42.1,225.9 42.4,227.4 42.6,227.7 42.9,227.8 43.1,227.3 43.4,228.4 43.6,230.0 43.9,230.3 44.1,228.5 44.4,228.0 44.6,228.0 44.9,230.9 45.1,233.9 45.4,234.6 45.6,232.5 45.9,229.9 46.1,229.2 46.4,231.1 46.6,230.4 46.9,230.4 47.1,227.9 47.4,228.9 47.6,228.2 47.9,227.7 48.1,227.8 48.4,227.6 48.6,227.8 48.9,228.2 49.1,227.9 49.4,228.6 49.6,229.7 49.9,234.5 50.1,244.1 50.4,248.9 50.6,243.6 50.9,234.0 51.1,230.1 51.4,227.7 51.6,229.5 51.9,228.4 52.1,228.8 52.4,229.4 52.6,229.2 52.9,230.4 53.1,229.2 53.4,229.0 53.6,229.5 53.9,228.3 54.1,228.3 54.4,228.8 54.6,227.8 54.9,228.6 55.1,230.5 55.4,237.6 55.6,248.2 55.9,255.5 56.1,248.3 56.4,238.1 56.6,231.9 56.9,230.5 57.1,229.0 57.4,228.2 57.6,229.0 57.9,228.5 58.1,228.6 58.4,229.4 58.6,229.3 58.9,231.7 59.1,235.1 59.4,236.4 59.6,232.6 59.9,231.6 60.1,229.3 60.4,228.5 60.6,228.9 60.9,229.6 61.1,229.8 61.4,229.5 61.6,228.6 61.9,231.1 62.1,233.3 62.4,237.8 62.6,240.7 62.9,236.6 63.1,231.7 63.4,230.5 63.6,230.0 63.9,229.5 64.2,229.6 64.4,230.2 64.7,229.9 64.9,232.2 65.2,233.7 65.4,233.5 65.7,232.8 65.9,231.5 66.2,231.4 66.4,229.5 66.7,231.7 66.9,232.0 67.2,231.5 67.4,232.9 67.7,231.6 67.9,233.7 68.2,239.8 68.4,245.7 68.7,245.6 68.9,239.9 69.2,233.9 69.4,233.6 69.7,232.1 69.9,233.0 70.2,233.2 70.4,232.1 70.7,231.9 70.9,232.0 71.2,232.3 71.4,232.4 71.7,234.1 71.9,236.6 72.2,241.6 72.4,238.5 72.7,234.9 72.9,233.3 73.2,232.9 73.4,233.2 73.7,232.0 73.9,233.5 74.2,233.0 74.4,233.8 74.7,232.5 74.9,233.7 75.2,236.4 75.4,240.5 75.7,238.7 75.9,236.6 76.2,233.5 76.4,233.9 76.7,232.9 76.9,232.5 77.2,232.7 77.4,232.9 77.7,232.4 77.9,233.1 78.2,232.5 78.4,232.4 78.7,232.9 78.9,232.7 79.2,232.5 79.4,232.8 79.7,232.6 79.9,232.7 80.2,233.4 80.4,233.5 80.7,232.6 80.9,232.8 81.2,232.2 81.4,233.0 81.7,232.1 81.9,232.3 82.2,232.5 82.4,232.0 82.7,232.7 82.9,232.6 83.2,232.1 83.4,233.0 83.7,232.7 83.9,232.7 84.2,232.9 84.4,232.4 84.7,234.0 84.9,232.0 85.2,233.2 85.4,233.0 85.7,233.1 85.9,232.5 86.2,232.7 86.4,232.4 86.7,233.2 86.9,233.4 87.2,233.6 87.4,234.6 87.7,236.6 87.9,235.8 88.2,234.0 88.4,233.5 88.7,232.4 88.9,231.8 89.2,231.9 89.4,231.9 89.7,231.9 89.9,231.6 90.2,231.2 90.4,231.8 90.7,231.1 90.9,231.3 91.2,231.6 91.4,232.4 91.7,232.0 91.9,231.8 92.2,232.1 92.4,231.4 92.7,231.9 92.9,232.3 93.2,231.9 93.4,231.2 93.7,232.2 93.9,231.7 94.2,231.9 94.4,231.2 94.7,232.6 94.9,231.7 95.2,231.9 95.4,231.3 95.7,232.0 95.9,231.9 96.2,231.8 96.4,233.1 96.7,233.2 96.9,233.6 97.2,239.7 97.4,246.0 97.7,248.2 97.9,243.2 98.2,237.0 98.4,233.7 98.7,232.1 98.9,232.4 99.2,232.9 99.4,231.8 99.7,232.6 99.9,232.7 100.2,232.9 100.4,233.1 100.7,232.7 100.9,232.5 101.2,233.5 101.4,231.7 101.7,233.0 101.9,233.4 102.2,233.6 102.4,233.3 102.7,235.4 102.9,237.7 103.2,246.0 103.4,248.8 103.7,245.7 103.9,237.8 104.2,234.0 104.4,233.6 104.7,234.2 104.9,233.0 105.2,233.2 105.4,233.1 105.7,234.2 105.9,232.6 106.2,233.1 106.4,233.1 106.7,233.9 106.9,233.5 107.2,233.7 107.4,233.5 107.7,233.6 107.9,234.0 108.2,233.1 108.4,233.6 108.7,234.1 108.9,233.2 109.2,233.0 109.4,234.2 109.7,233.0 109.9,234.2 110.2,234.2 110.4,233.9 110.7,235.9 110.9,235.7 111.2,234.7 111.4,233.7 111.7,233.8 111.9,234.0 112.2,234.5 112.4,234.4 112.7,234.6 112.9,234.8 113.2,237.8 113.4,237.9 113.7,238.0 113.9,234.4 114.2,234.8 114.4,233.8 114.7,234.2 114.9,234.5 115.2,234.4 115.4,233.6 115.7,233.7 115.9,234.5 116.2,233.5 116.4,233.9 116.7,235.0 116.9,234.5 117.2,235.2 117.4,235.8 117.7,235.5 117.9,234.6 118.2,234.4 118.4,234.5 118.7,233.9 118.9,234.1 119.2,234.3 119.4,234.3 119.7,233.4 119.9,234.3 120.2,234.4 120.4,234.5 120.7,234.0 120.9,234.5 121.2,235.0 121.4,235.8 121.7,236.5 121.9,237.7 122.2,239.0 122.4,239.0 122.7,235.7 122.9,234.5 123.2,234.8 123.4,234.4 123.7,234.4 123.9,234.8 124.2,235.0 124.4,234.1 124.7,234.7 124.9,234.2 125.2,234.4 125.4,235.4 125.7,234.6 125.9,234.6 126.2,233.7 126.4,235.2 126.7,234.0 126.9,236.0 127.2,236.2 127.4,238.9 127.7,240.1 127.9,237.7 128.2,235.3 128.4,235.0 128.7,234.5 128.9,234.4 129.2,235.2 129.4,236.0 129.7,235.6 129.9,235.6 130.2,235.0 130.4,235.0 130.7,234.4 130.9,235.1 131.2,235.3 131.4,235.3 131.7,235.0 131.9,236.7 132.2,237.7 132.4,237.4 132.7,236.2 132.9,235.1 133.2,235.6 133.4,234.7 133.7,234.9 133.9,235.0 134.2,235.5 134.4,235.7 134.7,235.2 134.9,235.1 135.2,234.6 135.4,236.5 135.7,234.9 135.9,235.4 136.2,235.7 136.4,237.2 136.7,237.7 136.9,237.0 137.2,236.1 137.4,236.0 137.7,235.0 137.9,235.9 138.2,236.0 138.4,235.0 138.7,235.0 138.9,235.2 139.2,235.4 139.4,235.5 139.7,235.5 139.9,235.1 140.2,235.4 140.4,234.6 140.7,236.1 140.9,235.5 141.2,235.7 141.4,237.2 141.7,240.6 141.9,245.5 142.2,244.6 142.4,241.0 142.7,237.4 142.9,237.1 143.2,237.5 143.4,240.0 143.7,241.0 143.9,239.2 144.2,237.3 144.4,236.7 144.7,236.8 144.9,236.8 145.2,236.8 145.4,237.5 145.7,236.5 145.9,238.4 146.2,240.6 146.4,239.0 146.7,239.2 146.9,237.2 147.2,238.0 147.4,237.1 147.7,236.7 147.9,237.8 148.2,238.0 148.4,237.7 148.7,238.4 148.9,238.4 149.2,237.7 149.4,238.4 149.7,238.6 149.9,239.0 150.2,239.3 150.4,238.8 150.7,238.2 150.9,239.0 151.2,239.3 151.4,239.8 151.7,239.2 151.9,239.9 152.2,239.3 152.4,239.8 152.7,240.8 152.9,243.3 153.2,243.6 153.4,241.3 153.7,240.7 153.9,240.5 154.2,241.3 154.4,240.5 154.7,242.2 154.9,241.4 155.2,242.0 155.4,242.1 155.7,243.2 155.9,243.9 156.2,244.4 156.4,244.6 156.7,245.1 156.9,245.2 157.2,245.7 157.4,246.5 157.7,246.8 157.9,249.3 158.2,248.4 158.4,247.4 158.7,246.7 158.9,246.0 159.2,246.5 159.4,246.2 159.7,245.5 159.9,246.1 160.2,246.1 160.4,246.0 160.7,246.6 160.9,245.8 161.2,246.0 161.4,246.5 161.7,246.7 161.9,247.0 162.2,246.2 162.4,245.5 162.7,247.2 162.9,246.4 163.2,247.3 163.4,247.8 163.7,248.3 163.9,249.4 164.2,249.2 164.4,247.8 164.7,248.2" fill="none" stroke="#000" stroke-width="1.15" stroke-linejoin="round"/>
<polyline points="38.9,225.2 39.1,224.4 39.4,224.5 39.6,224.6 39.9,224.9 40.1,224.5 40.4,224.4 40.6,225.2 40.9,226.1 41.1,226.3 41.4,224.5 41.6,225.2 41.9,224.1 42.1,225.3 42.4,224.7 42.6,224.9 42.9,225.8 43.1,226.3 43.4,225.1 43.6,224.8 43.9,224.8 44.1,225.4 44.4,225.2 44.6,225.4 44.9,226.5 45.1,228.8 45.4,228.9 45.6,228.1 45.9,226.1 46.1,227.4 46.4,228.6 46.6,229.5 46.9,228.7 47.1,226.8 47.4,227.0 47.6,226.8 47.9,225.8 48.1,225.2 48.4,225.3 48.6,225.4 48.9,225.4 49.1,227.0 49.4,226.2 49.6,227.1 49.9,227.4 50.1,230.5 50.4,231.6 50.6,230.7 50.9,227.6 51.1,226.7 51.4,226.1 51.6,225.7 51.9,225.9 52.1,226.5 52.4,226.5 52.6,226.3 52.9,226.5 53.1,227.5 53.4,227.2 53.6,227.4 53.9,227.3 54.1,227.3 54.4,228.4 54.6,228.3 54.9,228.0 55.1,228.1 55.4,229.6 55.6,231.4 55.9,233.3 56.1,231.4 56.4,229.4 56.6,227.8 56.9,228.4 57.1,227.0 57.4,227.6 57.6,228.6 57.9,228.9 58.1,226.5 58.4,228.3 58.6,228.5 58.9,232.5 59.1,237.7 59.4,238.3 59.6,235.3 59.9,229.8 60.1,228.8 60.4,228.6 60.6,228.9 60.9,228.8 61.1,230.2 61.4,228.6 61.6,228.5 61.9,229.6 62.1,233.4 62.4,237.8 62.6,240.1 62.9,237.2 63.1,230.7 63.4,229.3 63.6,228.7 63.9,227.2 64.2,227.9 64.4,228.4 64.7,228.9 64.9,229.2 65.2,231.2 65.4,231.8 65.7,230.5 65.9,229.5 66.2,229.0 66.4,229.7 66.7,228.2 66.9,229.6 67.2,229.6 67.4,229.3 67.7,230.1 67.9,230.2 68.2,234.1 68.4,237.6 68.7,236.5 68.9,233.7 69.2,230.1 69.4,229.6 69.7,229.0 69.9,229.2 70.2,229.0 70.4,229.9 70.7,229.8 70.9,230.1 71.2,230.0 71.4,229.2 71.7,230.1 71.9,232.3 72.2,234.5 72.4,233.7 72.7,231.6 72.9,230.3 73.2,230.4 73.4,229.3 73.7,230.6 73.9,229.7 74.2,230.0 74.4,229.8 74.7,230.3 74.9,231.1 75.2,232.9 75.4,233.6 75.7,233.7 75.9,232.2 76.2,230.6 76.4,229.3 76.7,231.1 76.9,230.1 77.2,230.8 77.4,230.2 77.7,231.7 77.9,230.1 78.2,230.7 78.4,231.2 78.7,230.6 78.9,229.5 79.2,230.4 79.4,229.9 79.7,230.9 79.9,230.2 80.2,230.3 80.4,231.1 80.7,232.4 80.9,232.3 81.2,230.6 81.4,231.1 81.7,230.9 81.9,229.9 82.2,230.8 82.4,230.2 82.7,231.0 82.9,231.3 83.2,230.7 83.4,231.1 83.7,231.4 83.9,230.1 84.2,230.5 84.4,230.5 84.7,230.7 84.9,231.8 85.2,231.1 85.4,231.5 85.7,231.2 85.9,231.0 86.2,231.4 86.4,231.4 86.7,230.5 86.9,230.8 87.2,231.7 87.4,232.1 87.7,232.8 87.9,232.1 88.2,232.2 88.4,231.4 88.7,233.3 88.9,232.5 89.2,233.0 89.4,232.9 89.7,233.2 89.9,231.1 90.2,232.1 90.4,231.8 90.7,231.5 90.9,231.5 91.2,230.7 91.4,231.9 91.7,232.0 91.9,233.1 92.2,232.0 92.4,231.6 92.7,231.3 92.9,231.6 93.2,232.1 93.4,232.6 93.7,232.2 93.9,231.9 94.2,232.5 94.4,231.7 94.7,233.1 94.9,232.3 95.2,232.0 95.4,232.5 95.7,232.9 95.9,232.7 96.2,232.7 96.4,233.3 96.7,232.7 96.9,233.9 97.2,236.3 97.4,239.7 97.7,241.5 97.9,239.3 98.2,235.7 98.4,234.2 98.7,234.4 98.9,233.2 99.2,233.3 99.4,233.4 99.7,234.8 99.9,233.3 100.2,233.1 100.4,233.5 100.7,234.2 100.9,234.1 101.2,235.2 101.4,235.3 101.7,234.7 101.9,234.1 102.2,234.9 102.4,234.4 102.7,235.6 102.9,236.2 103.2,240.2 103.4,242.8 103.7,241.1 103.9,237.1 104.2,235.0 104.4,235.9 104.7,234.5 104.9,234.6 105.2,235.6 105.4,234.8 105.7,235.7 105.9,235.9 106.2,235.5 106.4,235.3 106.7,235.2 106.9,235.0 107.2,236.0 107.4,236.5 107.7,236.5 107.9,236.9 108.2,236.9 108.4,236.6 108.7,236.3 108.9,236.7 109.2,236.2 109.4,236.2 109.7,237.1 109.9,236.1 110.2,236.6 110.4,237.6 110.7,236.7 110.9,235.9 111.2,236.6 111.4,237.4 111.7,239.9 111.9,240.1 112.2,238.5 112.4,237.1 112.7,237.2 112.9,238.9 113.2,240.0 113.4,240.1 113.7,239.0 113.9,238.4 114.2,237.0 114.4,237.2 114.7,236.8 114.9,238.4 115.2,237.3 115.4,237.1 115.7,237.4 115.9,236.9 116.2,237.3 116.4,237.2 116.7,236.9 116.9,238.0 117.2,237.0 117.4,237.3 117.7,237.6 117.9,237.8 118.2,237.4 118.4,237.4 118.7,237.3 118.9,237.5 119.2,238.2 119.4,237.0 119.7,236.7 119.9,237.7 120.2,236.8 120.4,238.1 120.7,237.1 120.9,237.5 121.2,237.7 121.4,237.5 121.7,237.1 121.9,240.2 122.2,240.1 122.4,239.6 122.7,238.2 122.9,237.6 123.2,237.5 123.4,236.8 123.7,236.5 123.9,236.8 124.2,237.1 124.4,237.3 124.7,236.9 124.9,237.9 125.2,236.5 125.4,237.0 125.7,236.9 125.9,237.5 126.2,237.6 126.4,236.4 126.7,237.1 126.9,238.7 127.2,238.0 127.4,239.4 127.7,242.5 127.9,243.9 128.2,240.8 128.4,238.4 128.7,237.7 128.9,237.8 129.2,237.8 129.4,237.7 129.7,238.6 129.9,237.3 130.2,238.0 130.4,237.8 130.7,237.8 130.9,237.9 131.2,238.3 131.4,237.6 131.7,238.2 131.9,239.2 132.2,239.4 132.4,238.8 132.7,238.9 132.9,238.0 133.2,238.5 133.4,238.5 133.7,238.3 133.9,238.3 134.2,239.2 134.4,239.1 134.7,238.7 134.9,237.7 135.2,239.0 135.4,238.5 135.7,239.9 135.9,239.3 136.2,240.0 136.4,240.0 136.7,238.9 136.9,239.1 137.2,240.0 137.4,239.3 137.7,239.0 137.9,238.6 138.2,237.5 138.4,238.1 138.7,238.3 138.9,238.2 139.2,238.8 139.4,239.2 139.7,238.4 139.9,239.2 140.2,239.1 140.4,238.3 140.7,239.2 140.9,238.5 141.2,239.2 141.4,240.8 141.7,241.4 141.9,242.8 142.2,242.2 142.4,241.0 142.7,239.4 142.9,241.6 143.2,244.2 143.4,250.9 143.7,253.3 143.9,247.5 144.2,242.5 144.4,239.6 144.7,239.4 144.9,239.3 145.2,239.7 145.4,240.4 145.7,240.4 145.9,241.1 146.2,240.6 146.4,239.4 146.7,240.8 146.9,240.7 147.2,240.1 147.4,239.6 147.7,240.7 147.9,240.7 148.2,240.2 148.4,240.9 148.7,240.1 148.9,240.0 149.2,240.7 149.4,240.2 149.7,241.5 149.9,240.9 150.2,241.4 150.4,241.3 150.7,241.6 150.9,241.9 151.2,242.1 151.4,241.9 151.7,243.8 151.9,241.8 152.2,242.4 152.4,242.0 152.7,243.8 152.9,245.2 153.2,243.9 153.4,243.6 153.7,243.1 153.9,242.8 154.2,243.6 154.4,243.4 154.7,243.6 154.9,243.0 155.2,243.1 155.4,243.1 155.7,243.6 155.9,243.2 156.2,243.9 156.4,243.0 156.7,242.8 156.9,242.3 157.2,244.1 157.4,245.0 157.7,244.9 157.9,245.4 158.2,244.4 158.4,244.0 158.7,243.2 158.9,244.0 159.2,243.9 159.4,244.3 159.7,243.3 159.9,243.5 160.2,242.6 160.4,243.4 160.7,244.3 160.9,243.6 161.2,243.2 161.4,244.3 161.7,243.9 161.9,244.2 162.2,244.3 162.4,242.8 162.7,244.1 162.9,244.7 163.2,244.6 163.4,243.6 163.7,245.2 163.9,246.9 164.2,246.1 164.4,244.6 164.7,244.4" fill="none" stroke="#f47e70" stroke-width="1.1" stroke-linejoin="round"/>
<polyline points="187.4,232.1 187.7,234.4 187.9,231.4 188.2,232.6 188.4,233.2 188.7,234.4 188.9,233.2 189.2,236.3 189.4,236.4 189.7,234.3 189.9,231.6 190.2,236.2 190.4,234.9 190.7,234.0 190.9,231.0 191.2,232.2 191.4,232.6 191.7,232.9 191.9,232.1 192.2,233.4 192.4,230.4 192.7,230.3 192.9,232.2 193.2,234.4 193.4,230.8 193.7,230.3 193.9,234.8 194.2,231.6 194.4,233.0 194.7,235.0 194.9,231.9 195.2,234.1 195.4,235.4 195.7,235.1 195.9,235.2 196.2,234.6 196.4,234.5 196.7,235.9 196.9,230.5 197.2,233.6 197.4,232.5 197.7,232.3 197.9,232.0 198.2,231.7 198.4,232.8 198.7,229.6 198.9,234.3 199.2,234.5 199.4,233.1 199.7,232.0 199.9,233.0 200.2,234.5 200.4,233.9 200.7,233.5 200.9,229.4 201.2,236.0 201.4,237.9 201.7,240.5 201.9,239.8 202.2,236.4 202.4,229.8 202.7,232.7 202.9,230.9 203.2,231.8 203.4,231.2 203.7,232.7 203.9,231.8 204.2,230.9 204.4,231.2 204.7,232.1 204.9,233.4 205.2,231.0 205.4,233.4 205.7,235.5 205.9,236.0 206.2,232.5 206.4,234.0 206.7,232.9 206.9,233.0 207.2,232.1 207.4,233.6 207.7,233.7 207.9,231.8 208.2,232.8 208.4,234.5 208.7,232.8 208.9,232.6 209.2,234.7 209.4,229.1 209.7,233.9 209.9,231.5 210.2,228.9 210.4,233.2 210.7,234.0 210.9,231.9 211.2,232.8 211.4,233.6 211.7,231.5 211.9,232.6 212.2,233.2 212.4,231.2 212.7,232.1 212.9,231.0 213.2,230.8 213.4,232.1 213.7,233.0 213.9,232.9 214.2,233.6 214.4,233.9 214.7,234.0 214.9,232.2 215.2,232.7 215.4,231.6 215.7,235.2 215.9,233.9 216.2,232.1 216.4,232.5 216.7,233.7 216.9,231.4 217.2,232.0 217.4,231.5 217.7,232.7 217.9,234.5 218.2,232.0 218.4,234.5 218.7,233.3 218.9,232.5 219.2,234.2 219.4,231.6 219.7,233.3 219.9,233.0 220.2,235.8 220.4,232.2 220.7,233.1 220.9,231.1 221.2,231.4 221.4,233.6 221.7,235.0 221.9,234.4 222.2,230.7 222.4,231.3 222.7,230.9 222.9,232.6 223.2,234.2 223.4,233.9 223.7,232.9 223.9,232.8 224.2,229.8 224.4,228.6 224.7,233.8 224.9,232.8 225.2,235.8 225.4,234.6 225.7,236.9 225.9,234.8 226.2,234.0 226.4,234.4 226.7,235.1 226.9,232.3 227.2,234.4 227.4,230.8 227.7,230.8 227.9,232.0 228.2,232.5 228.4,233.5 228.7,232.6 228.9,232.6 229.2,230.9 229.4,235.0 229.7,233.6 229.9,235.7 230.2,236.8 230.4,240.3 230.7,234.7 230.9,235.0 231.2,235.5 231.4,230.0 231.7,233.0 231.9,234.7 232.2,235.6 232.4,233.3 232.7,235.4 232.9,232.0 233.2,235.0 233.4,232.9 233.7,231.4 233.9,235.2 234.2,234.2 234.4,234.9 234.7,235.1 234.9,232.9 235.2,232.6 235.4,233.8 235.7,235.2 235.9,233.9 236.2,232.6 236.4,235.7 236.7,232.3 236.9,232.9 237.2,233.0 237.4,233.3 237.7,234.1 237.9,234.3 238.2,232.5 238.4,232.7 238.7,235.1 238.9,235.3 239.2,232.9 239.4,235.6 239.7,234.4 239.9,236.7 240.2,238.1 240.4,238.1 240.7,236.3 240.9,237.3 241.2,237.2 241.4,238.8 241.7,237.7 241.9,235.7 242.2,234.5 242.4,234.9 242.7,234.6 242.9,234.0 243.2,233.6 243.4,234.6 243.7,236.3 243.9,234.3 244.2,234.8 244.4,233.1 244.7,233.6 244.9,233.8 245.2,236.5 245.4,235.3 245.7,235.3 245.9,234.3 246.2,235.2 246.4,236.6 246.7,236.0 246.9,233.9 247.2,235.3 247.4,235.5 247.7,233.2 247.9,232.0 248.2,234.2 248.4,234.2 248.7,234.7 248.9,235.6 249.2,236.2 249.4,236.6 249.7,233.2 249.9,235.1 250.2,236.4 250.4,236.2 250.7,233.1 250.9,234.9 251.2,234.9 251.4,233.8 251.7,232.8 251.9,234.0 252.2,236.0 252.4,234.0 252.7,234.2 252.9,234.1 253.2,236.1 253.4,235.1 253.7,233.6 253.9,234.2 254.2,237.0 254.4,234.9 254.7,234.0 254.9,236.8 255.2,236.8 255.4,236.2 255.7,237.9 255.9,238.2 256.1,235.3 256.4,234.0 256.6,232.8 256.9,236.3 257.1,237.3 257.4,233.5 257.6,233.9 257.9,233.6 258.1,235.4 258.4,233.9 258.6,235.9 258.9,232.5 259.1,237.8 259.4,236.4 259.6,234.0 259.9,233.2 260.1,232.8 260.4,234.7 260.6,234.2 260.9,233.6 261.1,233.6 261.4,234.1 261.6,234.0 261.9,233.6 262.1,236.0 262.4,236.2 262.6,234.4 262.9,235.8 263.1,235.2 263.4,237.7 263.6,234.8 263.9,238.6 264.1,240.5 264.4,240.2 264.6,237.8 264.9,237.0 265.1,235.9 265.4,237.8 265.6,233.9 265.9,233.2 266.1,236.0 266.4,235.9 266.6,235.5 266.9,235.4 267.1,237.5 267.4,238.5 267.6,235.6 267.9,238.2 268.1,237.1 268.4,237.5 268.6,236.4 268.9,236.5 269.1,238.4 269.4,235.6 269.6,236.9 269.9,237.7 270.1,236.1 270.4,235.8 270.6,236.2 270.9,238.5 271.1,237.3 271.4,236.7 271.6,236.2 271.9,238.2 272.1,237.4 272.4,237.5 272.6,236.4 272.9,237.3 273.1,236.8 273.4,238.9 273.6,238.0 273.9,236.1 274.1,238.9 274.4,237.9 274.6,241.4 274.9,238.3 275.1,239.2 275.4,238.4 275.6,238.9 275.9,240.6 276.1,241.6 276.4,241.6 276.6,242.5 276.9,240.4 277.1,241.2 277.4,238.2 277.6,244.6 277.9,241.6 278.1,247.8 278.4,250.0 278.6,248.7 278.9,245.6 279.1,248.2 279.4,244.4 279.6,242.2 279.9,243.8 280.1,244.5 280.4,240.0 280.6,241.5 280.9,238.3 281.1,240.0 281.4,242.0 281.6,244.2 281.9,242.8 282.1,245.6 282.4,242.4 282.6,238.8 282.9,240.9 283.1,244.0 283.4,243.4 283.6,242.1 283.9,244.0 284.1,243.8 284.4,244.3 284.6,241.8 284.9,246.3 285.1,243.8 285.4,243.0 285.6,245.5 285.9,244.2 286.1,245.1 286.4,246.3 286.6,244.1 286.9,244.0 287.1,244.9 287.4,244.9 287.6,244.3 287.9,244.9 288.1,247.7 288.4,245.2 288.6,245.8 288.9,244.7 289.1,245.0 289.4,247.2 289.6,247.9 289.9,250.2 290.1,249.3 290.4,250.7 290.6,250.3 290.9,248.6 291.1,251.5 291.4,251.7 291.6,248.1 291.9,246.8 292.1,249.2 292.4,249.5 292.6,245.9 292.9,245.6 293.1,247.6 293.4,250.9 293.6,249.3 293.9,249.5 294.1,247.0 294.4,248.5 294.6,247.4 294.9,248.7 295.1,251.0 295.4,249.9 295.6,249.7 295.9,249.3 296.1,249.4 296.4,250.1 296.6,248.9 296.9,250.9 297.1,249.8 297.4,252.4 297.6,247.5 297.9,250.6 298.1,249.8 298.4,251.1 298.6,250.4 298.9,249.8 299.1,251.5 299.4,252.7 299.6,252.5 299.9,253.7 300.1,252.3 300.4,253.2 300.6,251.1 300.9,251.2 301.1,252.9 301.4,250.7 301.6,251.4 301.9,253.2 302.1,251.4 302.4,254.5 302.6,254.1 302.9,251.2 303.1,253.7 303.4,252.3 303.6,253.0 303.9,252.9 304.1,252.7 304.4,253.2 304.6,252.4 304.9,250.8 305.1,254.1 305.4,254.2 305.6,253.7 305.9,255.6 306.1,254.1 306.4,256.1 306.6,253.8 306.9,255.7 307.1,256.1 307.4,257.0 307.6,253.4 307.9,255.1 308.1,257.4 308.4,253.0 308.6,254.4 308.9,254.6 309.1,255.6 309.4,257.0 309.6,255.3 309.9,256.8 310.1,256.6 310.4,254.2 310.6,256.7 310.9,256.5 311.1,257.9 311.4,258.0 311.6,256.5 311.9,256.4 312.1,258.4 312.4,259.9 312.6,257.8 312.9,259.2" fill="none" stroke="#000" stroke-width="1.25" stroke-linejoin="round"/>
<polyline points="187.4,227.7 187.7,225.2 187.9,228.1 188.2,228.3 188.4,227.2 188.7,227.8 188.9,226.6 189.2,230.1 189.4,231.7 189.7,233.2 189.9,229.7 190.2,228.9 190.4,227.8 190.7,226.0 190.9,228.0 191.2,225.8 191.4,228.5 191.7,228.4 191.9,226.1 192.2,228.2 192.4,227.1 192.7,227.2 192.9,227.2 193.2,225.5 193.4,226.9 193.7,226.8 193.9,227.5 194.2,225.6 194.4,228.1 194.7,229.7 194.9,228.2 195.2,229.0 195.4,230.1 195.7,231.8 195.9,234.3 196.2,234.4 196.4,230.3 196.7,229.8 196.9,228.0 197.2,228.2 197.4,227.8 197.7,227.4 197.9,228.1 198.2,227.8 198.4,227.2 198.7,226.2 198.9,227.8 199.2,227.9 199.4,229.2 199.7,227.0 199.9,227.8 200.2,227.4 200.4,225.5 200.7,227.1 200.9,228.1 201.2,227.7 201.4,230.8 201.7,231.2 201.9,230.7 202.2,230.9 202.4,228.7 202.7,229.0 202.9,228.2 203.2,228.4 203.4,227.5 203.7,228.1 203.9,228.3 204.2,228.2 204.4,228.6 204.7,229.5 204.9,228.0 205.2,227.7 205.4,229.3 205.7,229.5 205.9,232.4 206.2,230.6 206.4,228.9 206.7,228.9 206.9,227.5 207.2,228.0 207.4,229.0 207.7,227.0 207.9,228.7 208.2,228.1 208.4,228.6 208.7,229.5 208.9,229.2 209.2,229.4 209.4,228.5 209.7,229.9 209.9,229.2 210.2,227.5 210.4,230.4 210.7,229.2 210.9,231.9 211.2,229.9 211.4,230.2 211.7,230.2 211.9,229.1 212.2,229.6 212.4,229.9 212.7,228.0 212.9,231.0 213.2,229.4 213.4,230.0 213.7,229.8 213.9,230.4 214.2,229.8 214.4,228.8 214.7,230.5 214.9,228.1 215.2,230.7 215.4,228.6 215.7,230.9 215.9,230.6 216.2,230.2 216.4,229.8 216.7,230.3 216.9,229.7 217.2,230.9 217.4,230.8 217.7,231.4 217.9,230.1 218.2,230.3 218.4,230.4 218.7,229.6 218.9,230.9 219.2,233.5 219.4,235.4 219.7,233.6 219.9,231.7 220.2,232.4 220.4,229.6 220.7,232.0 220.9,229.9 221.2,231.5 221.4,230.9 221.7,231.4 221.9,231.1 222.2,230.8 222.4,231.1 222.7,231.0 222.9,232.1 223.2,230.3 223.4,231.9 223.7,230.9 223.9,230.3 224.2,232.3 224.4,230.4 224.7,230.9 224.9,233.2 225.2,235.2 225.4,236.1 225.7,234.5 225.9,231.7 226.2,231.7 226.4,231.7 226.7,231.0 226.9,233.2 227.2,233.0 227.4,234.1 227.7,231.9 227.9,231.2 228.2,231.9 228.4,231.8 228.7,232.5 228.9,230.3 229.2,231.8 229.4,232.7 229.7,231.6 229.9,233.5 230.2,235.3 230.4,235.4 230.7,232.4 230.9,232.7 231.2,231.2 231.4,229.2 231.7,232.4 231.9,233.1 232.2,234.3 232.4,235.1 232.7,232.5 232.9,231.7 233.2,232.1 233.4,231.2 233.7,231.7 233.9,231.7 234.2,232.7 234.4,232.4 234.7,232.8 234.9,232.6 235.2,234.8 235.4,233.2 235.7,233.0 235.9,233.3 236.2,233.0 236.4,232.2 236.7,232.3 236.9,234.5 237.2,231.7 237.4,232.1 237.7,233.2 237.9,232.8 238.2,233.4 238.4,231.3 238.7,232.1 238.9,233.1 239.2,232.1 239.4,234.6 239.7,232.6 239.9,232.2 240.2,232.7 240.4,233.2 240.7,234.2 240.9,233.4 241.2,233.6 241.4,235.9 241.7,236.7 241.9,234.8 242.2,235.0 242.4,232.9 242.7,232.1 242.9,233.7 243.2,233.8 243.4,231.8 243.7,233.3 243.9,232.1 244.2,232.9 244.4,233.1 244.7,232.8 244.9,233.5 245.2,233.4 245.4,233.0 245.7,233.2 245.9,233.9 246.2,233.2 246.4,234.1 246.7,235.8 246.9,238.3 247.2,236.6 247.4,236.9 247.7,233.5 247.9,234.8 248.2,235.3 248.4,235.6 248.7,235.9 248.9,235.7 249.2,236.1 249.4,234.8 249.7,237.1 249.9,237.5 250.2,237.2 250.4,235.1 250.7,233.4 250.9,234.5 251.2,234.5 251.4,235.6 251.7,234.7 251.9,234.7 252.2,233.5 252.4,234.6 252.7,234.5 252.9,237.7 253.2,237.2 253.4,235.5 253.7,236.4 253.9,236.8 254.2,237.0 254.4,235.1 254.7,235.6 254.9,234.4 255.2,235.7 255.4,234.9 255.7,235.3 255.9,236.3 256.1,237.4 256.4,238.5 256.6,238.1 256.9,235.4 257.1,235.2 257.4,234.3 257.6,234.8 257.9,234.6 258.1,235.1 258.4,235.1 258.6,235.0 258.9,235.4 259.1,234.7 259.4,236.6 259.6,234.8 259.9,236.0 260.1,236.1 260.4,237.4 260.6,238.2 260.9,238.6 261.1,235.7 261.4,236.0 261.6,234.9 261.9,235.9 262.1,236.8 262.4,234.8 262.6,235.1 262.9,236.9 263.1,236.5 263.4,238.7 263.6,239.3 263.9,243.2 264.1,249.6 264.4,251.6 264.6,246.9 264.9,243.2 265.1,240.1 265.4,236.6 265.6,235.5 265.9,236.3 266.1,237.2 266.4,238.2 266.6,237.4 266.9,236.9 267.1,237.4 267.4,236.1 267.6,238.8 267.9,239.7 268.1,240.8 268.4,241.0 268.6,238.0 268.9,238.9 269.1,238.4 269.4,238.3 269.6,237.9 269.9,238.4 270.1,239.1 270.4,239.9 270.6,238.1 270.9,239.3 271.1,238.4 271.4,239.7 271.6,239.7 271.9,238.0 272.1,239.6 272.4,239.1 272.6,239.4 272.9,239.5 273.1,239.6 273.4,240.2 273.6,240.1 273.9,240.5 274.1,241.0 274.4,239.6 274.6,240.1 274.9,239.3 275.1,239.9 275.4,241.3 275.6,241.2 275.9,241.4 276.1,242.4 276.4,241.6 276.6,241.8 276.9,242.4 277.1,243.3 277.4,241.1 277.6,241.1 277.9,245.3 278.1,248.4 278.4,254.2 278.6,252.7 278.9,248.1 279.1,244.6 279.4,240.6 279.6,241.5 279.9,242.8 280.1,243.8 280.4,244.0 280.6,243.7 280.9,242.5 281.1,242.8 281.4,244.5 281.6,243.8 281.9,243.7 282.1,243.5 282.4,243.6 282.6,243.4 282.9,243.3 283.1,244.6 283.4,247.5 283.6,248.4 283.9,248.2 284.1,248.3 284.4,250.6 284.6,251.0 284.9,252.8 285.1,250.1 285.4,248.1 285.6,247.3 285.9,246.0 286.1,246.4 286.4,246.0 286.6,246.6 286.9,246.6 287.1,245.8 287.4,247.9 287.6,247.5 287.9,248.7 288.1,246.7 288.4,247.6 288.6,245.8 288.9,246.6 289.1,248.1 289.4,247.6 289.6,248.9 289.9,249.9 290.1,249.2 290.4,250.0 290.6,249.7 290.9,250.4 291.1,248.2 291.4,248.9 291.6,248.6 291.9,248.7 292.1,250.2 292.4,251.2 292.6,249.5 292.9,249.8 293.1,249.5 293.4,249.3 293.6,249.4 293.9,250.9 294.1,251.0 294.4,250.7 294.6,250.5 294.9,249.1 295.1,250.3 295.4,251.1 295.6,250.5 295.9,251.6 296.1,252.3 296.4,251.2 296.6,251.6 296.9,251.1 297.1,252.0 297.4,252.0 297.6,250.5 297.9,251.4 298.1,250.9 298.4,252.7 298.6,253.2 298.9,252.7 299.1,251.3 299.4,252.6 299.6,252.6 299.9,256.2 300.1,254.9 300.4,254.3 300.6,253.0 300.9,254.3 301.1,252.4 301.4,254.6 301.6,253.9 301.9,253.2 302.1,253.3 302.4,255.4 302.6,254.8 302.9,255.2 303.1,254.3 303.4,255.2 303.6,254.4 303.9,254.8 304.1,254.9 304.4,256.1 304.6,255.2 304.9,253.7 305.1,256.9 305.4,255.9 305.6,255.1 305.9,255.5 306.1,257.5 306.4,256.9 306.6,256.5 306.9,254.2 307.1,256.4 307.4,256.1 307.6,258.0 307.9,256.8 308.1,257.3 308.4,258.8 308.6,259.2 308.9,259.0 309.1,258.9 309.4,258.9 309.6,256.7 309.9,256.6 310.1,258.2 310.4,258.4 310.6,258.7 310.9,258.4 311.1,260.1 311.4,257.6 311.6,261.1 311.9,259.1 312.1,259.5 312.4,259.3 312.6,258.8 312.9,260.3" fill="none" stroke="#f47e70" stroke-width="1.0" stroke-linejoin="round"/>
<polyline points="335.9,233.8 336.1,231.9 336.4,230.4 336.6,232.5 336.9,231.3 337.1,230.1 337.4,231.3 337.6,230.9 337.9,238.0 338.1,229.3 338.4,225.9 338.6,232.7 338.9,228.8 339.1,228.8 339.4,234.1 339.6,229.9 339.9,229.1 340.1,231.8 340.4,229.4 340.6,233.3 340.9,230.4 341.1,232.2 341.4,235.0 341.6,236.0 341.9,227.9 342.1,231.4 342.4,231.6 342.6,234.1 342.9,231.7 343.1,230.8 343.4,235.5 343.6,235.3 343.9,233.1 344.1,228.9 344.4,232.7 344.6,230.4 344.9,237.0 345.1,234.2 345.4,234.0 345.6,235.0 345.9,234.8 346.1,231.2 346.4,234.7 346.6,234.2 346.9,228.9 347.1,235.9 347.4,234.5 347.6,233.6 347.9,234.8 348.1,232.4 348.4,235.9 348.6,233.4 348.9,232.0 349.1,238.1 349.4,235.8 349.6,234.4 349.9,234.8 350.1,235.3 350.4,237.0 350.6,235.7 350.9,236.9 351.1,233.4 351.4,233.3 351.6,235.0 351.9,235.4 352.1,234.6 352.4,233.3 352.6,234.3 352.9,236.4 353.1,236.3 353.4,233.0 353.6,236.4 353.9,235.9 354.1,235.8 354.4,236.7 354.6,235.7 354.9,238.2 355.1,234.5 355.4,233.9 355.6,235.9 355.9,236.2 356.1,233.8 356.4,236.4 356.6,236.1 356.9,233.9 357.1,235.3 357.4,237.5 357.6,237.4 357.9,234.2 358.1,237.1 358.4,236.1 358.6,239.3 358.9,235.8 359.1,237.1 359.4,233.8 359.6,237.9 359.9,236.2 360.1,235.5 360.4,235.6 360.6,236.2 360.9,235.6 361.1,237.4 361.4,235.8 361.6,236.2 361.9,240.9 362.1,236.6 362.4,237.5 362.6,237.2 362.9,236.8 363.1,237.1 363.4,235.1 363.6,238.0 363.9,237.4 364.1,237.3 364.4,235.6 364.6,238.5 364.9,235.3 365.1,237.2 365.4,236.4 365.6,235.5 365.9,239.5 366.1,239.3 366.4,239.2 366.6,237.9 366.9,237.8 367.1,240.7 367.4,240.6 367.6,237.1 367.9,239.7 368.1,238.9 368.4,237.0 368.6,236.6 368.9,238.3 369.1,240.2 369.4,244.4 369.6,242.1 369.9,238.4 370.1,239.2 370.4,236.6 370.6,236.8 370.9,238.7 371.1,237.8 371.4,236.5 371.6,237.3 371.9,237.6 372.1,237.0 372.4,237.7 372.6,238.4 372.9,238.0 373.1,237.6 373.4,240.4 373.6,242.7 373.9,242.2 374.1,238.8 374.4,238.0 374.6,238.6 374.9,238.7 375.1,237.5 375.4,239.0 375.6,238.6 375.9,237.3 376.1,236.8 376.4,238.6 376.6,238.0 376.9,240.6 377.1,238.1 377.4,238.9 377.6,242.5 377.9,238.8 378.1,241.5 378.4,241.9 378.6,241.2 378.9,239.2 379.1,239.3 379.4,240.3 379.6,239.7 379.9,239.0 380.1,239.8 380.4,238.7 380.6,239.2 380.9,240.1 381.1,239.2 381.4,239.8 381.6,239.3 381.9,238.4 382.1,240.2 382.4,238.7 382.6,240.3 382.9,240.1 383.1,240.4 383.4,239.9 383.6,239.3 383.9,238.8 384.1,239.1 384.4,239.1 384.6,240.2 384.9,238.4 385.1,240.1 385.4,239.4 385.6,239.8 385.9,240.1 386.1,240.0 386.4,240.2 386.6,239.3 386.9,239.5 387.1,239.1 387.4,239.7 387.6,239.7 387.9,240.0 388.1,240.1 388.4,240.3 388.6,240.4 388.9,239.7 389.1,239.8 389.4,239.8 389.6,239.8 389.9,240.4 390.1,240.6 390.4,240.3 390.6,240.3 390.9,240.2 391.1,241.9 391.4,243.9 391.6,242.8 391.9,241.9 392.1,240.4 392.4,240.9 392.6,240.5 392.9,241.1 393.1,243.7 393.4,243.9 393.6,242.3 393.9,240.3 394.1,240.3 394.4,239.5 394.6,240.4 394.9,240.2 395.1,239.4 395.4,240.6 395.6,240.7 395.9,240.8 396.1,240.6 396.4,240.1 396.6,240.1 396.9,240.6 397.1,240.8 397.4,241.5 397.6,240.6 397.9,239.7 398.1,240.3 398.4,241.0 398.6,241.8 398.9,244.4 399.1,247.4 399.4,249.6 399.6,248.1 399.9,244.2 400.1,241.7 400.4,240.5 400.6,240.3 400.9,240.7 401.1,240.9 401.4,240.0 401.6,240.6 401.9,240.8 402.1,240.7 402.4,240.7 402.6,240.5 402.9,240.2 403.1,241.0 403.4,240.0 403.6,240.7 403.9,240.1 404.1,240.3 404.4,240.5 404.6,240.2 404.9,241.0 405.1,242.3 405.4,243.7 405.6,242.9 405.9,241.8 406.1,240.6 406.4,240.1 406.6,240.3 406.9,241.4 407.1,240.2 407.4,240.3 407.6,240.4 407.9,241.0 408.1,240.6 408.4,240.4 408.6,240.3 408.9,240.7 409.1,241.0 409.4,241.1 409.6,243.3 409.9,243.5 410.1,242.3 410.4,241.0 410.6,241.0 410.9,240.3 411.1,240.9 411.4,242.0 411.6,241.1 411.9,240.6 412.1,241.3 412.4,241.5 412.6,241.5 412.9,241.4 413.1,242.6 413.4,243.8 413.6,244.9 413.9,241.6 414.1,241.5 414.4,241.3 414.6,241.3 414.9,241.5 415.1,242.0 415.4,241.1 415.6,241.6 415.9,241.3 416.1,242.0 416.4,242.6 416.6,241.9 416.9,243.8 417.1,246.4 417.4,247.8 417.6,246.5 417.9,244.0 418.1,242.0 418.4,242.5 418.6,241.8 418.9,241.3 419.1,242.5 419.4,243.0 419.6,244.8 419.9,245.2 420.1,244.4 420.4,243.3 420.6,242.1 420.9,243.3 421.1,243.2 421.4,243.5 421.6,242.9 421.9,243.4 422.1,243.6 422.4,243.2 422.6,244.3 422.9,244.7 423.1,244.9 423.4,244.7 423.6,245.0 423.9,244.9 424.1,245.4 424.4,247.3 424.6,249.7 424.9,251.4 425.1,250.5 425.4,247.6 425.6,246.4 425.9,245.5 426.1,246.5 426.4,246.1 426.6,246.7 426.9,246.8 427.1,247.8 427.4,246.9 427.6,247.4 427.9,252.5 428.1,252.1 428.4,251.1 428.6,251.9 428.9,251.4 429.1,251.3 429.4,250.9 429.6,250.6 429.9,250.8 430.1,250.5 430.4,251.0 430.6,250.6 430.9,250.2 431.1,249.9 431.4,250.3 431.6,249.8 431.9,250.4 432.1,250.5 432.4,251.1 432.6,253.7 432.9,252.9 433.1,250.7 433.4,250.8 433.6,249.8 433.9,249.6 434.1,249.5 434.4,249.7 434.6,249.6 434.9,249.1 435.1,249.6 435.4,249.6 435.6,249.7 435.9,248.8 436.1,249.3 436.4,248.9 436.6,249.1 436.9,248.9 437.1,249.5 437.4,249.2 437.6,256.8 437.9,256.3 438.1,255.4 438.4,254.9 438.6,255.0 438.9,256.4 439.1,256.0 439.4,256.3 439.6,254.8 439.9,254.0 440.1,254.2 440.4,253.4 440.6,253.7 440.9,253.7 441.1,255.1 441.4,255.9 441.6,256.8 441.9,255.8 442.1,254.2 442.4,253.8 442.6,253.1 442.9,253.1 443.1,252.5 443.4,253.2 443.6,253.2 443.9,252.9 444.1,253.1 444.4,253.0 444.6,253.1 444.9,252.9 445.1,253.5 445.4,253.7 445.6,252.8 445.9,252.8 446.1,252.3 446.4,252.8 446.6,253.3 446.9,260.4 447.1,259.8 447.4,260.3 447.6,258.5 447.9,259.3 448.1,258.8 448.4,258.3 448.6,257.9 448.9,258.1 449.1,258.3 449.4,257.2 449.6,258.2 449.9,257.9 450.1,257.2 450.4,257.4 450.6,257.7 450.9,256.8 451.1,256.6 451.4,256.8 451.6,256.7 451.9,257.2 452.1,257.5 452.4,256.8 452.6,256.5 452.9,257.2 453.1,256.9 453.4,257.2 453.6,257.3 453.9,257.3 454.1,257.1 454.4,257.1 454.6,256.8 454.9,257.4 455.1,256.5 455.4,258.0 455.6,256.8 455.9,257.0 456.1,256.9 456.4,256.2 456.6,256.7 456.9,265.0 457.1,264.4 457.4,263.7 457.6,262.9 457.9,262.4 458.1,261.9 458.4,262.6 458.6,262.5 458.9,261.5 459.1,261.7 459.4,261.3 459.6,261.2 459.9,261.0 460.1,261.5 460.4,261.1 460.6,260.7 460.9,261.4 461.1,260.3 461.4,261.1 461.6,261.1 461.9,260.5" fill="none" stroke="#000" stroke-width="1.4" stroke-linejoin="round"/>
<polyline points="335.9,221.5 336.1,222.4 336.4,223.2 336.6,223.8 336.9,224.4 337.1,224.4 337.4,224.3 337.6,223.8 337.9,223.2 338.1,222.9 338.4,222.5 338.6,222.5 338.9,222.4 339.1,223.4 339.4,224.3 339.6,224.0 339.9,223.7 340.1,223.4 340.4,223.0 340.6,223.0 340.9,223.0 341.1,223.0 341.4,222.9 341.6,223.1 341.9,223.4 342.1,224.2 342.4,225.0 342.6,224.3 342.9,223.6 343.1,223.5 343.4,223.5 343.6,223.9 343.9,224.2 344.1,224.1 344.4,224.0 344.6,224.1 344.9,224.3 345.1,225.7 345.4,227.6 345.6,229.8 345.9,231.7 346.1,230.2 346.4,228.3 346.6,228.7 346.9,228.7 347.1,227.4 347.4,226.5 347.6,226.8 347.9,227.4 348.1,226.4 348.4,225.5 348.6,226.4 348.9,227.3 349.1,228.2 349.4,229.1 349.6,227.7 349.9,226.3 350.1,226.8 350.4,227.4 350.6,227.5 350.9,227.6 351.1,227.3 351.4,227.1 351.6,228.5 351.9,230.2 352.1,229.9 352.4,228.9 352.6,229.5 352.9,230.4 353.1,229.6 353.4,228.8 353.6,228.6 353.9,228.4 354.1,228.3 354.4,228.3 354.6,228.2 354.9,228.1 355.1,229.3 355.4,230.5 355.6,230.1 355.9,229.7 356.1,230.8 356.4,232.0 356.6,231.2 356.9,230.4 357.1,230.7 357.4,231.1 357.6,231.2 357.9,231.3 358.1,230.3 358.4,229.4 358.6,230.7 358.9,231.9 359.1,231.8 359.4,231.6 359.6,231.2 359.9,230.7 360.1,231.1 360.4,231.6 360.6,232.0 360.9,232.4 361.1,232.5 361.4,232.6 361.6,232.8 361.9,232.9 362.1,233.0 362.4,233.1 362.6,233.6 362.9,234.1 363.1,233.4 363.4,232.8 363.6,233.0 363.9,233.1 364.1,233.1 364.4,233.1 364.6,233.5 364.9,233.9 365.1,233.5 365.4,233.1 365.6,232.8 365.9,232.6 366.1,232.7 366.4,232.9 366.6,234.6 366.9,237.3 367.1,238.7 367.4,238.5 367.6,237.4 367.9,236.6 368.1,235.8 368.4,235.4 368.6,235.4 368.9,236.0 369.1,239.4 369.4,243.2 369.6,242.8 369.9,239.6 370.1,238.0 370.4,238.0 370.6,236.3 370.9,234.7 371.1,235.1 371.4,235.5 371.6,236.0 371.9,236.6 372.1,235.5 372.4,234.4 372.6,235.8 372.9,237.1 373.1,236.6 373.4,236.3 373.6,237.0 373.9,237.3 374.1,236.7 374.4,236.2 374.6,237.3 374.9,238.5 375.1,238.3 375.4,238.1 375.6,237.3 375.9,236.4 376.1,236.4 376.4,236.3 376.6,237.8 376.9,239.2 377.1,239.3 377.4,239.4 377.6,238.9 377.9,238.5 378.1,240.0 378.4,241.5 378.6,240.8 378.9,239.6 379.1,239.3 379.4,239.2 379.6,239.6 379.9,240.0 380.1,239.5 380.4,239.0 380.6,238.8 380.9,238.7 381.1,239.6 381.4,240.6 381.6,240.1 381.9,239.7 382.1,239.7 382.4,239.8 382.6,240.6 382.9,241.3 383.1,240.9 383.4,240.5 383.6,239.9 383.9,239.4 384.1,240.3 384.4,241.3 384.6,240.9 384.9,240.6 385.1,240.7 385.4,240.9 385.6,240.9 385.9,240.8 386.1,241.7 386.4,242.5 386.6,242.0 386.9,241.4 387.1,242.3 387.4,243.2 387.6,242.9 387.9,242.5 388.1,242.1 388.4,241.8 388.6,242.6 388.9,243.4 389.1,243.4 389.4,243.5 389.6,242.8 389.9,242.2 390.1,242.0 390.4,241.7 390.6,242.2 390.9,242.9 391.1,243.6 391.4,244.3 391.6,243.7 391.9,242.2 392.1,243.2 392.4,244.8 392.6,243.4 392.9,242.6 393.1,244.6 393.4,245.6 393.6,244.3 393.9,243.2 394.1,242.9 394.4,242.9 394.6,242.9 394.9,242.9 395.1,242.9 395.4,243.0 395.6,242.4 395.9,241.7 396.1,241.8 396.4,241.8 396.6,243.0 396.9,244.2 397.1,243.7 397.4,243.1 397.6,243.9 397.9,244.6 398.1,244.2 398.4,243.9 398.6,245.1 398.9,248.7 399.1,254.4 399.4,257.4 399.6,254.5 399.9,248.9 400.1,244.8 400.4,243.2 400.6,243.5 400.9,244.1 401.1,244.7 401.4,245.1 401.6,244.9 401.9,244.8 402.1,244.3 402.4,243.8 402.6,244.5 402.9,245.2 403.1,244.9 403.4,244.6 403.6,244.7 403.9,244.8 404.1,243.5 404.4,242.3 404.6,243.4 404.9,244.6 405.1,245.3 405.4,246.1 405.6,245.9 405.9,245.0 406.1,245.3 406.4,245.8 406.6,244.8 406.9,243.7 407.1,244.5 407.4,245.4 407.6,245.4 407.9,245.5 408.1,246.2 408.4,247.0 408.6,246.5 408.9,245.6 409.1,245.8 409.4,246.5 409.6,247.0 409.9,246.9 410.1,246.5 410.4,246.2 410.6,246.2 410.9,246.3 411.1,246.1 411.4,245.8 411.6,246.0 411.9,246.3 412.1,246.4 412.4,246.5 412.6,247.0 412.9,247.5 413.1,246.9 413.4,246.4 413.6,247.1 413.9,247.5 414.1,246.4 414.4,245.6 414.6,245.8 414.9,246.0 415.1,246.0 415.4,245.9 415.6,246.7 415.9,247.5 416.1,246.9 416.4,246.3 416.6,247.8 416.9,250.4 417.1,252.1 417.4,252.7 417.6,251.7 417.9,249.5 418.1,247.8 418.4,247.0 418.6,247.5 418.9,248.0 419.1,247.2 419.4,246.4 419.6,247.1 419.9,247.9 420.1,247.8 420.4,247.5 420.6,248.4 420.9,249.4 421.1,248.3 421.4,247.1 421.6,246.3 421.9,245.5 422.1,247.7 422.4,249.8 422.6,249.2 422.9,248.6 423.1,248.5 423.4,248.4 423.6,249.1 423.9,249.9 424.1,250.1 424.4,251.1 424.6,252.9 424.9,253.8 425.1,252.3 425.4,250.1 425.6,250.1 425.9,250.8 426.1,250.4 426.4,250.1 426.6,249.8 426.9,249.5 427.1,250.0 427.4,250.5 427.6,250.8 427.9,257.5 428.1,256.4 428.4,255.5 428.6,255.1 428.9,254.8 429.1,255.2 429.4,255.7 429.6,254.9 429.9,254.1 430.1,254.5 430.4,255.0 430.6,254.7 430.9,254.5 431.1,253.6 431.4,252.6 431.6,253.3 431.9,254.0 432.1,253.8 432.4,253.6 432.6,252.8 432.9,252.0 433.1,252.5 433.4,253.1 433.6,252.9 433.9,252.7 434.1,254.0 434.4,255.4 434.6,254.1 434.9,252.8 435.1,253.5 435.4,254.1 435.6,254.1 435.9,254.2 436.1,253.8 436.4,253.4 436.6,253.6 436.9,253.7 437.1,253.4 437.4,253.0 437.6,260.9 437.9,260.6 438.1,260.7 438.4,260.8 438.6,259.7 438.9,258.7 439.1,258.6 439.4,258.5 439.6,257.4 439.9,256.3 440.1,256.9 440.4,257.6 440.6,257.0 440.9,256.5 441.1,257.0 441.4,258.0 441.6,258.5 441.9,257.8 442.1,257.7 442.4,258.2 442.6,256.7 442.9,255.3 443.1,256.8 443.4,258.2 443.6,256.9 443.9,255.6 444.1,256.1 444.4,256.7 444.6,255.8 444.9,254.9 445.1,254.9 445.4,255.0 445.6,256.5 445.9,258.0 446.1,257.2 446.4,256.3 446.6,256.2 446.9,264.0 447.1,264.3 447.4,264.7 447.6,262.8 447.9,261.0 448.1,261.0 448.4,261.0 448.6,261.1 448.9,261.2 449.1,260.7 449.4,260.3 449.6,260.3 449.9,260.2 450.1,260.0 450.4,259.7 450.6,259.7 450.9,259.6 451.1,259.2 451.4,258.8 451.6,259.7 451.9,260.7 452.1,260.1 452.4,259.7 452.6,260.1 452.9,260.8 453.1,261.9 453.4,262.1 453.6,260.8 453.9,259.7 454.1,258.9 454.4,258.2 454.6,258.1 454.9,257.9 455.1,259.0 455.4,260.0 455.6,260.2 455.9,260.3 456.1,259.9 456.4,259.4 456.6,259.5 456.9,267.6 457.1,266.6 457.4,265.7 457.6,265.4 457.9,265.2 458.1,265.2 458.4,265.3 458.6,264.4 458.9,263.5 459.1,263.9 459.4,264.3 459.6,263.5 459.9,262.8 460.1,262.9 460.4,263.1 460.6,262.4 460.9,261.8 461.1,262.1 461.4,262.5 461.6,262.8 461.9,263.2" fill="none" stroke="#f47e70" stroke-width="1.1" stroke-linejoin="round"/>
<polyline points="38.9,257.2 39.1,257.8 39.4,257.0 39.6,258.5 39.9,258.6 40.1,256.8 40.4,256.8 40.6,257.5 40.9,257.9 41.1,258.6 41.4,258.3 41.6,260.3 41.9,259.9 42.1,260.1 42.4,258.9 42.6,257.8 42.9,257.7 43.1,258.5 43.4,258.4 43.6,258.8 43.9,257.3 44.1,259.3 44.4,259.6 44.6,260.3 44.9,261.3 45.1,264.3 45.4,265.5 45.6,262.3 45.9,260.4 46.1,258.8 46.4,261.1 46.6,261.9 46.9,260.2 47.1,259.3 47.4,260.7 47.6,259.8 47.9,258.6 48.1,259.9 48.4,258.8 48.6,258.6 48.9,258.9 49.1,259.2 49.4,260.0 49.6,261.4 49.9,268.5 50.1,280.7 50.4,288.5 50.6,280.6 50.9,268.7 51.1,260.9 51.4,260.2 51.6,259.8 51.9,259.3 52.1,259.6 52.4,259.2 52.6,259.3 52.9,259.7 53.1,260.2 53.4,258.8 53.6,259.5 53.9,260.1 54.1,259.1 54.4,259.1 54.6,260.4 54.9,260.0 55.1,263.8 55.4,272.4 55.6,288.5 55.9,297.9 56.1,288.5 56.4,272.0 56.6,262.7 56.9,259.8 57.1,259.9 57.4,260.4 57.6,259.7 57.9,259.7 58.1,259.9 58.4,261.4 58.6,262.0 58.9,263.6 59.1,265.6 59.4,266.7 59.6,263.0 59.9,262.1 60.1,260.9 60.4,261.8 60.6,261.0 60.9,260.6 61.1,261.2 61.4,260.6 61.6,261.3 61.9,261.8 62.1,265.9 62.4,271.3 62.6,272.1 62.9,269.6 63.1,262.5 63.4,260.9 63.6,261.4 63.9,261.4 64.2,262.1 64.4,261.3 64.7,261.9 64.9,263.9 65.2,265.2 65.4,266.3 65.7,264.2 65.9,263.0 66.2,263.4 66.4,263.4 66.7,262.9 66.9,264.3 67.2,263.1 67.4,264.5 67.7,265.7 67.9,268.0 68.2,273.5 68.4,279.5 68.7,279.2 68.9,273.2 69.2,266.8 69.4,264.1 69.7,264.5 69.9,263.9 70.2,265.5 70.4,265.1 70.7,265.1 70.9,263.8 71.2,264.1 71.4,264.6 71.7,266.4 71.9,269.8 72.2,272.7 72.4,272.1 72.7,267.3 72.9,266.6 73.2,266.0 73.4,265.0 73.7,265.2 73.9,266.3 74.2,265.6 74.4,264.8 74.7,265.5 74.9,266.1 75.2,268.9 75.4,270.8 75.7,271.2 75.9,267.7 76.2,265.7 76.4,266.0 76.7,265.6 76.9,264.6 77.2,266.3 77.4,267.4 77.7,268.3 77.9,268.2 78.2,265.8 78.4,266.2 78.7,265.3 78.9,265.7 79.2,264.8 79.4,265.7 79.7,266.7 79.9,265.9 80.2,265.9 80.4,264.0 80.7,264.9 80.9,265.3 81.2,266.0 81.4,266.3 81.7,267.1 81.9,265.7 82.2,266.5 82.4,266.1 82.7,264.5 82.9,265.2 83.2,265.7 83.4,264.5 83.7,264.7 83.9,265.1 84.2,265.1 84.4,264.6 84.7,264.3 84.9,264.7 85.2,264.7 85.4,266.0 85.7,265.4 85.9,264.6 86.2,263.8 86.4,264.9 86.7,263.7 86.9,263.4 87.2,265.3 87.4,266.6 87.7,267.9 87.9,265.9 88.2,264.3 88.4,263.5 88.7,263.5 88.9,263.2 89.2,262.8 89.4,263.3 89.7,263.3 89.9,262.2 90.2,262.8 90.4,263.1 90.7,263.2 90.9,263.7 91.2,263.2 91.4,263.0 91.7,262.6 91.9,262.7 92.2,262.5 92.4,263.0 92.7,262.0 92.9,264.1 93.2,266.7 93.4,265.6 93.7,263.8 93.9,263.1 94.2,263.1 94.4,263.7 94.7,262.2 94.9,263.1 95.2,264.0 95.4,263.6 95.7,263.1 95.9,264.2 96.2,263.7 96.4,263.7 96.7,264.2 96.9,266.3 97.2,274.2 97.4,284.8 97.7,288.0 97.9,280.4 98.2,270.2 98.4,265.3 98.7,264.5 98.9,264.2 99.2,264.4 99.4,264.4 99.7,265.3 99.9,263.8 100.2,264.7 100.4,266.3 100.7,267.7 100.9,269.5 101.2,268.7 101.4,266.5 101.7,265.5 101.9,264.8 102.2,265.0 102.4,265.1 102.7,267.2 102.9,272.5 103.2,281.3 103.4,287.1 103.7,281.6 103.9,272.1 104.2,266.7 104.4,265.7 104.7,265.4 104.9,265.3 105.2,265.6 105.4,264.9 105.7,264.4 105.9,265.1 106.2,264.8 106.4,263.9 106.7,264.5 106.9,264.1 107.2,264.8 107.4,264.4 107.7,263.6 107.9,264.0 108.2,265.1 108.4,264.4 108.7,264.5 108.9,264.2 109.2,264.4 109.4,264.9 109.7,264.5 109.9,264.1 110.2,264.3 110.4,265.0 110.7,264.5 110.9,264.1 111.2,264.9 111.4,263.6 111.7,263.0 111.9,264.2 112.2,264.7 112.4,264.9 112.7,264.5 112.9,266.8 113.2,268.9 113.4,270.4 113.7,268.3 113.9,265.4 114.2,263.8 114.4,264.3 114.7,264.2 114.9,264.1 115.2,264.2 115.4,264.6 115.7,263.6 115.9,263.4 116.2,264.2 116.4,264.4 116.7,264.1 116.9,263.2 117.2,264.0 117.4,263.8 117.7,264.1 117.9,264.2 118.2,263.6 118.4,263.9 118.7,263.7 118.9,264.0 119.2,264.6 119.4,263.6 119.7,264.4 119.9,264.3 120.2,263.7 120.4,264.6 120.7,262.9 120.9,265.1 121.2,264.9 121.4,264.2 121.7,264.6 121.9,266.9 122.2,268.6 122.4,269.1 122.7,265.3 122.9,264.8 123.2,263.6 123.4,264.3 123.7,264.5 123.9,264.1 124.2,264.9 124.4,264.3 124.7,264.7 124.9,264.3 125.2,263.8 125.4,264.3 125.7,264.6 125.9,264.8 126.2,264.1 126.4,263.9 126.7,264.3 126.9,264.4 127.2,266.1 127.4,268.4 127.7,269.8 127.9,268.0 128.2,265.0 128.4,264.8 128.7,264.3 128.9,265.0 129.2,264.2 129.4,264.1 129.7,264.0 129.9,264.5 130.2,264.6 130.4,264.2 130.7,264.7 130.9,263.4 131.2,264.8 131.4,264.8 131.7,264.2 131.9,267.3 132.2,268.0 132.4,267.5 132.7,266.4 132.9,264.8 133.2,264.3 133.4,266.2 133.7,265.4 133.9,264.8 134.2,264.4 134.4,266.1 134.7,265.0 134.9,265.1 135.2,265.0 135.4,265.1 135.7,265.9 135.9,264.7 136.2,265.4 136.4,264.9 136.7,264.5 136.9,264.3 137.2,264.7 137.4,264.4 137.7,265.2 137.9,265.5 138.2,264.9 138.4,264.3 138.7,263.9 138.9,264.1 139.2,265.0 139.4,264.9 139.7,265.2 139.9,264.0 140.2,264.4 140.4,265.1 140.7,264.6 140.9,263.9 141.2,264.2 141.4,265.3 141.7,268.8 141.9,273.6 142.2,271.8 142.4,269.3 142.7,266.1 142.9,265.2 143.2,266.0 143.4,270.4 143.7,271.5 143.9,269.9 144.2,266.4 144.4,264.1 144.7,265.0 144.9,265.0 145.2,263.6 145.4,264.1 145.7,264.1 145.9,263.4 146.2,264.1 146.4,264.1 146.7,264.3 146.9,264.1 147.2,263.9 147.4,264.0 147.7,263.9 147.9,265.0 148.2,264.8 148.4,264.8 148.7,265.3 148.9,265.5 149.2,265.1 149.4,263.9 149.7,264.7 149.9,264.6 150.2,264.6 150.4,263.9 150.7,265.0 150.9,264.1 151.2,263.8 151.4,265.5 151.7,264.6 151.9,264.7 152.2,266.3 152.4,265.6 152.7,268.3 152.9,270.1 153.2,271.7 153.4,272.4 153.7,271.9 153.9,272.9 154.2,273.2 154.4,274.2 154.7,275.1 154.9,277.5 155.2,277.4 155.4,278.6 155.7,278.1 155.9,280.2 156.2,280.1 156.4,280.9 156.7,281.3 156.9,281.2 157.2,281.4 157.4,281.0 157.7,282.2 157.9,284.7 158.2,285.6 158.4,283.3 158.7,281.7 158.9,281.1 159.2,280.7 159.4,280.9 159.7,280.5 159.9,280.7 160.2,281.1 160.4,280.2 160.7,280.7 160.9,280.9 161.2,281.0 161.4,280.7 161.7,280.9 161.9,281.1 162.2,281.5 162.4,280.2 162.7,281.3 162.9,280.6 163.2,281.5 163.4,280.8 163.7,282.5 163.9,283.7 164.2,281.7 164.4,282.2 164.7,281.1" fill="none" stroke="#000" stroke-width="1.15" stroke-linejoin="round"/>
<polyline points="38.9,257.0 39.1,257.1 39.4,256.2 39.6,256.8 39.9,257.7 40.1,256.7 40.4,257.1 40.6,257.6 40.9,258.4 41.1,258.4 41.4,257.4 41.6,257.3 41.9,256.5 42.1,256.9 42.4,256.9 42.6,257.3 42.9,257.7 43.1,257.0 43.4,257.1 43.6,257.6 43.9,256.9 44.1,257.6 44.4,256.9 44.6,258.4 44.9,259.2 45.1,261.0 45.4,261.2 45.6,259.4 45.9,259.5 46.1,258.3 46.4,260.4 46.6,261.9 46.9,261.4 47.1,259.6 47.4,259.1 47.6,258.6 47.9,258.4 48.1,257.3 48.4,258.1 48.6,257.9 48.9,258.4 49.1,257.9 49.4,257.6 49.6,258.6 49.9,259.2 50.1,262.8 50.4,263.4 50.6,262.6 50.9,260.7 51.1,260.0 51.4,258.7 51.6,257.7 51.9,257.6 52.1,257.7 52.4,258.7 52.6,258.3 52.9,259.1 53.1,258.4 53.4,258.1 53.6,259.4 53.9,258.8 54.1,259.1 54.4,258.5 54.6,259.1 54.9,259.8 55.1,259.4 55.4,260.4 55.6,264.4 55.9,265.6 56.1,263.2 56.4,260.3 56.6,259.7 56.9,260.0 57.1,259.9 57.4,259.0 57.6,259.4 57.9,259.9 58.1,259.7 58.4,259.2 58.6,261.1 58.9,266.0 59.1,271.1 59.4,270.9 59.6,266.6 59.9,262.1 60.1,260.4 60.4,258.7 60.6,260.4 60.9,260.1 61.1,259.3 61.4,260.4 61.6,259.3 61.9,260.3 62.1,263.8 62.4,270.3 62.6,271.6 62.9,267.1 63.1,263.5 63.4,260.8 63.6,260.0 63.9,260.9 64.2,260.4 64.4,260.4 64.7,261.0 64.9,261.9 65.2,262.8 65.4,263.4 65.7,261.0 65.9,260.4 66.2,260.2 66.4,261.0 66.7,260.4 66.9,261.9 67.2,260.6 67.4,260.1 67.7,259.3 67.9,262.0 68.2,265.4 68.4,268.4 68.7,268.2 68.9,264.8 69.2,261.4 69.4,260.8 69.7,261.2 69.9,260.8 70.2,260.7 70.4,259.7 70.7,260.1 70.9,260.4 71.2,260.5 71.4,260.8 71.7,263.4 71.9,265.9 72.2,266.4 72.4,264.2 72.7,262.5 72.9,261.9 73.2,261.0 73.4,260.6 73.7,261.2 73.9,261.5 74.2,260.9 74.4,262.0 74.7,261.9 74.9,262.8 75.2,264.5 75.4,265.4 75.7,265.0 75.9,262.4 76.2,261.5 76.4,260.6 76.7,261.7 76.9,259.7 77.2,260.8 77.4,261.3 77.7,261.0 77.9,261.3 78.2,260.8 78.4,262.1 78.7,260.6 78.9,261.5 79.2,261.5 79.4,261.8 79.7,261.2 79.9,261.9 80.2,261.3 80.4,262.1 80.7,262.2 80.9,261.0 81.2,261.5 81.4,261.3 81.7,262.1 81.9,262.4 82.2,262.6 82.4,262.1 82.7,261.8 82.9,261.2 83.2,261.5 83.4,262.7 83.7,261.9 83.9,262.1 84.2,262.3 84.4,262.0 84.7,262.1 84.9,262.3 85.2,262.0 85.4,262.7 85.7,261.4 85.9,262.3 86.2,261.7 86.4,261.6 86.7,261.1 86.9,263.5 87.2,262.9 87.4,263.8 87.7,264.2 87.9,263.6 88.2,263.8 88.4,263.4 88.7,263.0 88.9,262.9 89.2,262.8 89.4,265.2 89.7,266.1 89.9,267.4 90.2,266.9 90.4,264.3 90.7,263.8 90.9,264.4 91.2,263.7 91.4,263.5 91.7,264.3 91.9,264.5 92.2,263.7 92.4,263.8 92.7,264.2 92.9,264.6 93.2,263.6 93.4,264.8 93.7,264.6 93.9,264.6 94.2,265.3 94.4,265.4 94.7,264.9 94.9,265.1 95.2,263.9 95.4,264.8 95.7,265.4 95.9,265.2 96.2,265.2 96.4,266.1 96.7,265.2 96.9,266.7 97.2,270.2 97.4,275.5 97.7,277.9 97.9,274.4 98.2,268.2 98.4,266.4 98.7,265.7 98.9,265.9 99.2,265.6 99.4,265.4 99.7,266.0 99.9,265.0 100.2,265.6 100.4,265.4 100.7,266.1 100.9,265.0 101.2,265.8 101.4,266.5 101.7,265.9 101.9,265.5 102.2,266.5 102.4,266.6 102.7,266.0 102.9,269.9 103.2,273.8 103.4,276.7 103.7,272.8 103.9,269.7 104.2,267.5 104.4,268.0 104.7,267.1 104.9,267.3 105.2,266.4 105.4,267.3 105.7,267.0 105.9,267.6 106.2,266.8 106.4,266.8 106.7,267.2 106.9,266.5 107.2,267.6 107.4,269.5 107.7,267.4 107.9,267.4 108.2,266.6 108.4,267.2 108.7,267.5 108.9,267.3 109.2,267.9 109.4,267.3 109.7,266.2 109.9,266.4 110.2,267.1 110.4,267.3 110.7,268.0 110.9,267.6 111.2,267.3 111.4,267.6 111.7,267.6 111.9,267.0 112.2,267.3 112.4,267.2 112.7,268.0 112.9,269.5 113.2,272.2 113.4,273.0 113.7,272.2 113.9,270.0 114.2,268.3 114.4,267.9 114.7,267.1 114.9,270.1 115.2,269.6 115.4,271.2 115.7,270.3 115.9,269.1 116.2,269.0 116.4,268.2 116.7,267.8 116.9,268.8 117.2,269.1 117.4,269.2 117.7,268.5 117.9,269.5 118.2,268.6 118.4,268.2 118.7,269.2 118.9,269.7 119.2,269.2 119.4,268.8 119.7,269.3 119.9,269.3 120.2,269.8 120.4,268.8 120.7,269.8 120.9,269.6 121.2,270.1 121.4,269.8 121.7,269.8 121.9,271.8 122.2,273.0 122.4,272.7 122.7,270.4 122.9,272.1 123.2,270.2 123.4,270.1 123.7,270.9 123.9,270.0 124.2,270.9 124.4,269.7 124.7,270.3 124.9,270.7 125.2,270.0 125.4,269.5 125.7,270.3 125.9,271.3 126.2,270.3 126.4,270.6 126.7,271.1 126.9,270.9 127.2,271.8 127.4,273.8 127.7,273.1 127.9,273.0 128.2,271.4 128.4,270.6 128.7,270.8 128.9,272.0 129.2,271.9 129.4,271.2 129.7,271.6 129.9,270.7 130.2,272.3 130.4,271.2 130.7,271.9 130.9,270.7 131.2,269.4 131.4,270.4 131.7,271.2 131.9,271.6 132.2,271.7 132.4,271.8 132.7,271.6 132.9,271.3 133.2,270.7 133.4,270.1 133.7,271.2 133.9,270.6 134.2,271.8 134.4,273.2 134.7,272.5 134.9,272.4 135.2,270.8 135.4,271.0 135.7,270.7 135.9,271.1 136.2,270.8 136.4,270.5 136.7,270.5 136.9,270.5 137.2,271.1 137.4,270.7 137.7,271.5 137.9,271.5 138.2,271.4 138.4,271.5 138.7,271.3 138.9,271.9 139.2,271.6 139.4,271.4 139.7,270.5 139.9,271.6 140.2,271.1 140.4,271.1 140.7,271.8 140.9,271.2 141.2,271.2 141.4,271.9 141.7,273.5 141.9,275.7 142.2,276.1 142.4,275.2 142.7,273.6 142.9,273.9 143.2,276.9 143.4,283.0 143.7,286.4 143.9,283.7 144.2,276.6 144.4,272.8 144.7,271.0 144.9,272.7 145.2,272.2 145.4,273.6 145.7,273.2 145.9,273.3 146.2,273.8 146.4,272.8 146.7,272.5 146.9,272.2 147.2,272.2 147.4,271.3 147.7,273.1 147.9,271.6 148.2,271.4 148.4,272.0 148.7,272.2 148.9,272.6 149.2,272.0 149.4,272.2 149.7,272.2 149.9,272.9 150.2,272.2 150.4,270.8 150.7,271.9 150.9,271.0 151.2,271.8 151.4,272.0 151.7,271.8 151.9,272.3 152.2,272.3 152.4,272.4 152.7,274.5 152.9,275.2 153.2,274.1 153.4,275.2 153.7,275.2 153.9,274.5 154.2,275.8 154.4,275.7 154.7,276.8 154.9,276.3 155.2,276.6 155.4,277.1 155.7,276.9 155.9,277.8 156.2,276.7 156.4,276.9 156.7,277.0 156.9,277.1 157.2,277.5 157.4,277.8 157.7,276.8 157.9,279.3 158.2,279.1 158.4,278.2 158.7,277.3 158.9,277.0 159.2,276.7 159.4,276.3 159.7,277.5 159.9,276.7 160.2,277.6 160.4,277.4 160.7,277.2 160.9,276.8 161.2,277.1 161.4,277.2 161.7,278.4 161.9,279.0 162.2,276.9 162.4,278.6 162.7,278.2 162.9,279.1 163.2,277.9 163.4,279.0 163.7,278.5 163.9,280.1 164.2,279.1 164.4,277.9 164.7,278.7" fill="none" stroke="#f47e70" stroke-width="1.1" stroke-linejoin="round"/>
<polyline points="187.4,264.1 187.7,262.8 187.9,262.8 188.2,264.9 188.4,264.1 188.7,264.6 188.9,264.8 189.2,266.1 189.4,268.3 189.7,265.0 189.9,263.9 190.2,264.3 190.4,265.4 190.7,264.2 190.9,262.3 191.2,263.4 191.4,263.6 191.7,265.9 191.9,263.7 192.2,264.4 192.4,264.9 192.7,263.5 192.9,265.0 193.2,263.3 193.4,263.2 193.7,265.3 193.9,265.2 194.2,262.7 194.4,264.4 194.7,265.2 194.9,265.6 195.2,265.3 195.4,265.9 195.7,267.3 195.9,269.3 196.2,267.8 196.4,268.0 196.7,265.3 196.9,265.2 197.2,264.7 197.4,264.7 197.7,264.2 197.9,264.6 198.2,264.3 198.4,262.4 198.7,262.5 198.9,264.7 199.2,265.7 199.4,263.8 199.7,265.6 199.9,263.9 200.2,262.9 200.4,262.9 200.7,262.0 200.9,265.0 201.2,266.6 201.4,273.5 201.7,277.1 201.9,274.0 202.2,267.8 202.4,259.9 202.7,265.1 202.9,262.0 203.2,265.2 203.4,264.1 203.7,263.9 203.9,263.5 204.2,262.1 204.4,264.1 204.7,264.7 204.9,264.1 205.2,263.7 205.4,264.6 205.7,266.5 205.9,268.9 206.2,267.2 206.4,268.5 206.7,264.5 206.9,265.2 207.2,266.7 207.4,262.8 207.7,266.0 207.9,264.0 208.2,266.6 208.4,267.1 208.7,265.0 208.9,265.7 209.2,265.0 209.4,265.3 209.7,262.7 209.9,263.1 210.2,264.9 210.4,263.7 210.7,265.2 210.9,261.8 211.2,266.7 211.4,262.8 211.7,264.4 211.9,263.3 212.2,262.4 212.4,265.7 212.7,262.2 212.9,267.0 213.2,264.5 213.4,267.6 213.7,264.6 213.9,265.0 214.2,263.9 214.4,263.5 214.7,262.9 214.9,262.9 215.2,265.0 215.4,264.5 215.7,266.3 215.9,262.1 216.2,264.1 216.4,266.2 216.7,263.5 216.9,265.6 217.2,264.5 217.4,264.3 217.7,263.9 217.9,265.8 218.2,265.0 218.4,265.7 218.7,265.1 218.9,265.3 219.2,264.0 219.4,267.0 219.7,265.4 219.9,266.7 220.2,267.5 220.4,266.8 220.7,267.9 220.9,265.1 221.2,263.5 221.4,261.9 221.7,265.7 221.9,264.2 222.2,263.2 222.4,264.3 222.7,263.5 222.9,263.7 223.2,263.9 223.4,264.6 223.7,262.8 223.9,264.1 224.2,265.0 224.4,264.8 224.7,263.6 224.9,265.6 225.2,267.5 225.4,267.3 225.7,267.6 225.9,265.2 226.2,264.2 226.4,263.7 226.7,264.6 226.9,263.1 227.2,263.1 227.4,265.6 227.7,264.4 227.9,265.1 228.2,261.4 228.4,265.1 228.7,263.8 228.9,267.4 229.2,261.9 229.4,266.4 229.7,269.1 229.9,268.7 230.2,266.4 230.4,266.0 230.7,265.1 230.9,264.5 231.2,266.6 231.4,263.4 231.7,266.1 231.9,265.7 232.2,265.8 232.4,265.6 232.7,263.7 232.9,266.1 233.2,263.0 233.4,265.4 233.7,264.4 233.9,265.6 234.2,266.2 234.4,262.8 234.7,264.3 234.9,264.7 235.2,264.1 235.4,264.0 235.7,263.3 235.9,263.2 236.2,265.4 236.4,266.0 236.7,262.2 236.9,267.6 237.2,266.2 237.4,267.1 237.7,264.3 237.9,264.9 238.2,266.6 238.4,263.5 238.7,264.6 238.9,263.3 239.2,265.4 239.4,266.8 239.7,267.0 239.9,266.8 240.2,265.4 240.4,266.3 240.7,263.9 240.9,266.7 241.2,265.9 241.4,267.6 241.7,270.5 241.9,265.0 242.2,265.9 242.4,262.9 242.7,267.8 242.9,264.2 243.2,264.1 243.4,265.5 243.7,263.7 243.9,265.6 244.2,264.7 244.4,263.4 244.7,263.1 244.9,264.2 245.2,264.5 245.4,264.5 245.7,263.4 245.9,265.7 246.2,266.8 246.4,266.9 246.7,264.5 246.9,265.3 247.2,261.4 247.4,263.3 247.7,262.8 247.9,263.0 248.2,265.4 248.4,263.7 248.7,263.5 248.9,262.0 249.2,266.2 249.4,264.3 249.7,264.6 249.9,263.4 250.2,264.3 250.4,265.6 250.7,263.1 250.9,262.8 251.2,263.3 251.4,264.6 251.7,264.8 251.9,264.1 252.2,265.3 252.4,265.3 252.7,265.1 252.9,263.5 253.2,265.4 253.4,265.1 253.7,266.1 253.9,267.4 254.2,266.7 254.4,264.8 254.7,264.5 254.9,263.3 255.2,263.5 255.4,264.6 255.7,265.3 255.9,264.8 256.1,264.7 256.4,267.6 256.6,263.4 256.9,266.6 257.1,266.8 257.4,264.8 257.6,266.6 257.9,265.8 258.1,264.5 258.4,264.9 258.6,264.5 258.9,264.1 259.1,265.6 259.4,264.3 259.6,264.5 259.9,264.9 260.1,263.7 260.4,263.5 260.6,265.3 260.9,266.3 261.1,266.0 261.4,266.0 261.6,267.8 261.9,264.7 262.1,265.9 262.4,266.3 262.6,267.6 262.9,264.7 263.1,266.9 263.4,268.1 263.6,269.5 263.9,268.8 264.1,271.3 264.4,270.3 264.6,270.7 264.9,268.6 265.1,266.7 265.4,267.8 265.6,267.6 265.9,264.4 266.1,266.2 266.4,268.1 266.6,266.1 266.9,266.7 267.1,265.5 267.4,267.1 267.6,265.8 267.9,265.0 268.1,264.6 268.4,266.4 268.6,265.3 268.9,265.3 269.1,268.2 269.4,266.4 269.6,268.5 269.9,264.8 270.1,267.9 270.4,266.3 270.6,264.8 270.9,266.6 271.1,268.4 271.4,267.2 271.6,267.8 271.9,268.7 272.1,267.0 272.4,267.4 272.6,268.0 272.9,266.0 273.1,266.9 273.4,270.9 273.6,270.6 273.9,268.6 274.1,270.2 274.4,269.6 274.6,271.9 274.9,271.3 275.1,272.2 275.4,271.7 275.6,269.7 275.9,267.5 276.1,268.7 276.4,269.6 276.6,268.5 276.9,269.4 277.1,271.4 277.4,272.7 277.6,272.2 277.9,273.1 278.1,278.2 278.4,280.5 278.6,278.1 278.9,276.4 279.1,273.5 279.4,273.1 279.6,271.8 279.9,272.6 280.1,272.1 280.4,272.3 280.6,272.8 280.9,271.1 281.1,271.6 281.4,271.1 281.6,271.6 281.9,274.2 282.1,273.9 282.4,274.2 282.6,272.4 282.9,274.1 283.1,275.8 283.4,274.2 283.6,274.8 283.9,274.4 284.1,275.2 284.4,275.3 284.6,275.6 284.9,280.3 285.1,275.5 285.4,273.8 285.6,276.6 285.9,275.9 286.1,274.0 286.4,274.9 286.6,274.6 286.9,279.1 287.1,276.0 287.4,277.9 287.6,275.9 287.9,278.0 288.1,277.2 288.4,276.4 288.6,276.8 288.9,278.9 289.1,276.6 289.4,276.1 289.6,279.4 289.9,281.4 290.1,281.0 290.4,279.8 290.6,275.1 290.9,275.6 291.1,277.5 291.4,280.2 291.6,278.5 291.9,275.6 292.1,279.7 292.4,277.8 292.6,279.5 292.9,278.5 293.1,281.6 293.4,280.4 293.6,280.4 293.9,279.9 294.1,280.3 294.4,280.8 294.6,279.2 294.9,281.7 295.1,281.3 295.4,281.0 295.6,278.2 295.9,280.0 296.1,283.1 296.4,282.0 296.6,281.9 296.9,280.0 297.1,281.4 297.4,280.9 297.6,283.0 297.9,279.9 298.1,283.2 298.4,281.8 298.6,282.3 298.9,284.9 299.1,284.1 299.4,284.2 299.6,287.1 299.9,285.1 300.1,282.1 300.4,283.3 300.6,286.4 300.9,283.4 301.1,285.9 301.4,288.7 301.6,284.5 301.9,284.9 302.1,287.8 302.4,286.0 302.6,284.6 302.9,285.2 303.1,286.4 303.4,285.7 303.6,284.5 303.9,284.4 304.1,285.3 304.4,287.0 304.6,284.2 304.9,286.6 305.1,286.0 305.4,284.1 305.6,285.7 305.9,287.2 306.1,290.0 306.4,285.0 306.6,284.8 306.9,288.2 307.1,289.2 307.4,288.3 307.6,288.5 307.9,288.0 308.1,286.1 308.4,286.4 308.6,287.6 308.9,286.4 309.1,286.0 309.4,287.7 309.6,287.5 309.9,284.5 310.1,286.4 310.4,286.1 310.6,287.6 310.9,288.4 311.1,287.4 311.4,288.1 311.6,290.3 311.9,287.8 312.1,289.5 312.4,288.1 312.6,290.0 312.9,287.9" fill="none" stroke="#000" stroke-width="1.25" stroke-linejoin="round"/>
<polyline points="187.4,256.8 187.7,258.9 187.9,258.5 188.2,259.7 188.4,258.8 188.7,261.0 188.9,260.1 189.2,261.4 189.4,264.2 189.7,265.7 189.9,262.1 190.2,260.9 190.4,258.9 190.7,257.7 190.9,258.0 191.2,259.5 191.4,258.8 191.7,260.0 191.9,259.8 192.2,260.0 192.4,258.4 192.7,258.5 192.9,260.3 193.2,258.8 193.4,259.1 193.7,259.7 193.9,258.9 194.2,260.8 194.4,259.7 194.7,261.1 194.9,260.7 195.2,258.9 195.4,261.8 195.7,261.8 195.9,264.9 196.2,265.9 196.4,263.6 196.7,260.4 196.9,260.1 197.2,260.7 197.4,259.4 197.7,259.1 197.9,260.6 198.2,259.3 198.4,258.5 198.7,260.1 198.9,259.1 199.2,259.8 199.4,260.9 199.7,258.8 199.9,260.0 200.2,258.8 200.4,259.3 200.7,260.4 200.9,259.4 201.2,260.6 201.4,261.4 201.7,263.2 201.9,262.2 202.2,261.9 202.4,259.5 202.7,259.9 202.9,259.7 203.2,259.9 203.4,259.6 203.7,258.0 203.9,259.9 204.2,261.7 204.4,264.1 204.7,265.9 204.9,267.3 205.2,262.5 205.4,261.4 205.7,261.4 205.9,263.3 206.2,262.9 206.4,261.4 206.7,260.3 206.9,261.8 207.2,261.4 207.4,262.2 207.7,262.0 207.9,262.5 208.2,260.5 208.4,261.5 208.7,260.6 208.9,261.8 209.2,260.4 209.4,260.5 209.7,261.3 209.9,260.8 210.2,261.5 210.4,259.3 210.7,262.6 210.9,262.3 211.2,261.9 211.4,261.3 211.7,260.9 211.9,261.5 212.2,260.7 212.4,261.0 212.7,261.4 212.9,264.2 213.2,263.4 213.4,262.7 213.7,263.5 213.9,262.0 214.2,261.6 214.4,262.6 214.7,262.9 214.9,262.6 215.2,262.2 215.4,262.0 215.7,262.2 215.9,261.0 216.2,261.8 216.4,262.1 216.7,261.7 216.9,262.1 217.2,261.2 217.4,262.7 217.7,263.1 217.9,263.4 218.2,262.5 218.4,262.7 218.7,262.6 218.9,261.5 219.2,261.5 219.4,260.7 219.7,262.2 219.9,262.6 220.2,263.0 220.4,263.9 220.7,263.1 220.9,263.4 221.2,265.1 221.4,266.9 221.7,265.1 221.9,263.5 222.2,264.3 222.4,261.8 222.7,261.9 222.9,262.8 223.2,262.3 223.4,262.5 223.7,262.8 223.9,263.2 224.2,262.4 224.4,262.4 224.7,264.5 224.9,264.3 225.2,265.7 225.4,267.1 225.7,265.8 225.9,264.7 226.2,262.7 226.4,263.9 226.7,262.2 226.9,262.6 227.2,261.8 227.4,263.3 227.7,262.6 227.9,262.4 228.2,263.3 228.4,261.6 228.7,264.8 228.9,262.8 229.2,262.5 229.4,262.8 229.7,264.5 229.9,265.7 230.2,267.2 230.4,267.0 230.7,264.8 230.9,263.2 231.2,263.5 231.4,263.2 231.7,263.4 231.9,264.1 232.2,263.4 232.4,262.9 232.7,264.5 232.9,264.4 233.2,264.0 233.4,266.3 233.7,263.0 233.9,263.3 234.2,263.9 234.4,263.5 234.7,262.8 234.9,263.1 235.2,262.7 235.4,264.7 235.7,262.1 235.9,263.1 236.2,263.6 236.4,264.8 236.7,265.2 236.9,266.5 237.2,264.4 237.4,263.9 237.7,262.3 237.9,262.9 238.2,264.9 238.4,264.0 238.7,264.0 238.9,262.0 239.2,264.3 239.4,265.2 239.7,265.7 239.9,265.0 240.2,264.5 240.4,267.1 240.7,266.1 240.9,263.7 241.2,265.6 241.4,267.5 241.7,268.9 241.9,266.1 242.2,266.0 242.4,265.5 242.7,266.1 242.9,264.1 243.2,264.2 243.4,266.3 243.7,266.7 243.9,268.2 244.2,267.3 244.4,266.2 244.7,266.8 244.9,265.8 245.2,266.9 245.4,269.2 245.7,268.8 245.9,266.5 246.2,267.4 246.4,266.4 246.7,269.6 246.9,271.0 247.2,268.4 247.4,266.4 247.7,266.8 247.9,265.8 248.2,266.1 248.4,266.5 248.7,267.7 248.9,267.0 249.2,265.7 249.4,267.1 249.7,268.9 249.9,267.8 250.2,267.3 250.4,267.1 250.7,266.9 250.9,266.8 251.2,268.5 251.4,268.6 251.7,267.2 251.9,267.3 252.2,267.0 252.4,268.1 252.7,267.1 252.9,268.6 253.2,270.3 253.4,271.9 253.7,273.8 253.9,272.5 254.2,270.8 254.4,268.6 254.7,269.9 254.9,266.5 255.2,266.6 255.4,267.9 255.7,266.4 255.9,267.1 256.1,267.8 256.4,267.9 256.6,269.3 256.9,268.5 257.1,267.4 257.4,268.5 257.6,268.1 257.9,268.5 258.1,270.2 258.4,267.7 258.6,267.3 258.9,266.1 259.1,269.5 259.4,268.8 259.6,268.1 259.9,268.6 260.1,268.6 260.4,268.9 260.6,268.6 260.9,269.2 261.1,268.2 261.4,269.7 261.6,268.4 261.9,268.5 262.1,267.7 262.4,268.9 262.6,268.3 262.9,269.0 263.1,268.9 263.4,268.9 263.6,272.8 263.9,276.7 264.1,281.3 264.4,282.1 264.6,276.1 264.9,272.3 265.1,271.1 265.4,269.2 265.6,268.3 265.9,268.7 266.1,268.7 266.4,268.7 266.6,269.7 266.9,269.3 267.1,269.8 267.4,269.4 267.6,272.2 267.9,271.2 268.1,268.7 268.4,268.9 268.6,270.6 268.9,270.3 269.1,271.0 269.4,271.6 269.6,270.8 269.9,270.1 270.1,270.9 270.4,271.0 270.6,270.1 270.9,269.0 271.1,270.9 271.4,271.0 271.6,271.7 271.9,270.4 272.1,270.3 272.4,271.6 272.6,271.7 272.9,274.3 273.1,275.5 273.4,273.7 273.6,274.2 273.9,272.8 274.1,271.0 274.4,273.7 274.6,271.4 274.9,270.5 275.1,271.8 275.4,272.1 275.6,272.5 275.9,273.8 276.1,272.2 276.4,272.9 276.6,272.5 276.9,273.8 277.1,273.7 277.4,273.6 277.6,274.0 277.9,276.7 278.1,281.7 278.4,286.0 278.6,287.4 278.9,280.5 279.1,276.7 279.4,273.9 279.6,274.0 279.9,272.8 280.1,274.0 280.4,273.7 280.6,274.8 280.9,274.3 281.1,275.0 281.4,273.3 281.6,276.0 281.9,273.5 282.1,274.4 282.4,274.4 282.6,274.9 282.9,275.5 283.1,276.9 283.4,274.9 283.6,277.9 283.9,276.2 284.1,275.8 284.4,274.9 284.6,277.8 284.9,277.6 285.1,277.7 285.4,277.4 285.6,276.6 285.9,277.6 286.1,276.6 286.4,276.3 286.6,277.5 286.9,278.4 287.1,278.7 287.4,276.9 287.6,277.0 287.9,280.7 288.1,279.1 288.4,279.2 288.6,278.4 288.9,279.9 289.1,278.6 289.4,278.9 289.6,282.5 289.9,283.9 290.1,283.4 290.4,279.1 290.6,280.3 290.9,280.0 291.1,279.9 291.4,279.5 291.6,280.8 291.9,280.8 292.1,279.2 292.4,278.3 292.6,281.7 292.9,283.5 293.1,284.5 293.4,289.3 293.6,286.9 293.9,285.1 294.1,282.4 294.4,282.3 294.6,282.2 294.9,282.3 295.1,281.5 295.4,284.0 295.6,285.0 295.9,285.3 296.1,284.1 296.4,283.1 296.6,282.0 296.9,284.9 297.1,284.2 297.4,284.5 297.6,284.9 297.9,284.9 298.1,285.7 298.4,287.6 298.6,287.0 298.9,287.1 299.1,284.6 299.4,285.1 299.6,282.7 299.9,284.5 300.1,285.8 300.4,283.8 300.6,285.7 300.9,286.2 301.1,283.6 301.4,284.9 301.6,285.4 301.9,286.2 302.1,286.0 302.4,286.6 302.6,289.1 302.9,291.4 303.1,293.3 303.4,291.1 303.6,289.9 303.9,289.2 304.1,286.6 304.4,287.3 304.6,287.7 304.9,286.8 305.1,287.4 305.4,287.5 305.6,289.4 305.9,289.9 306.1,288.9 306.4,289.2 306.6,288.1 306.9,288.0 307.1,287.3 307.4,289.3 307.6,287.4 307.9,288.6 308.1,290.3 308.4,290.6 308.6,289.9 308.9,288.5 309.1,286.9 309.4,289.9 309.6,288.8 309.9,287.6 310.1,290.0 310.4,288.4 310.6,287.7 310.9,290.4 311.1,289.7 311.4,289.4 311.6,290.6 311.9,289.9 312.1,290.5 312.4,288.5 312.6,288.8 312.9,289.5" fill="none" stroke="#f47e70" stroke-width="1.0" stroke-linejoin="round"/>
<polyline points="335.9,262.5 336.1,268.1 336.4,266.1 336.6,264.1 336.9,263.8 337.1,262.0 337.4,267.3 337.6,265.5 337.9,267.0 338.1,267.6 338.4,263.9 338.6,267.7 338.9,265.9 339.1,266.3 339.4,261.8 339.6,266.6 339.9,264.5 340.1,264.0 340.4,265.3 340.6,264.2 340.9,264.6 341.1,263.6 341.4,263.9 341.6,265.4 341.9,269.1 342.1,262.1 342.4,260.3 342.6,265.1 342.9,267.2 343.1,264.6 343.4,260.4 343.6,263.6 343.9,263.7 344.1,261.6 344.4,266.9 344.6,266.2 344.9,263.0 345.1,267.0 345.4,264.5 345.6,268.6 345.9,267.0 346.1,269.5 346.4,265.7 346.6,267.6 346.9,264.5 347.1,266.0 347.4,267.2 347.6,266.4 347.9,266.1 348.1,266.8 348.4,266.0 348.6,264.8 348.9,266.9 349.1,266.3 349.4,266.8 349.6,266.0 349.9,267.4 350.1,266.5 350.4,263.1 350.6,268.1 350.9,267.5 351.1,265.5 351.4,268.7 351.6,267.7 351.9,269.6 352.1,268.4 352.4,268.3 352.6,269.5 352.9,266.9 353.1,264.9 353.4,267.4 353.6,269.6 353.9,268.2 354.1,267.8 354.4,265.6 354.6,265.7 354.9,267.3 355.1,266.2 355.4,267.4 355.6,268.6 355.9,269.8 356.1,269.4 356.4,270.2 356.6,266.4 356.9,265.1 357.1,267.0 357.4,265.5 357.6,268.6 357.9,269.1 358.1,271.3 358.4,266.5 358.6,267.2 358.9,266.4 359.1,267.8 359.4,270.5 359.6,268.7 359.9,269.0 360.1,266.5 360.4,267.6 360.6,268.1 360.9,268.3 361.1,268.8 361.4,269.7 361.6,267.3 361.9,269.4 362.1,268.1 362.4,269.9 362.6,269.7 362.9,269.4 363.1,268.0 363.4,266.8 363.6,269.7 363.9,269.8 364.1,268.6 364.4,268.0 364.6,269.0 364.9,269.0 365.1,266.6 365.4,268.1 365.6,269.7 365.9,270.8 366.1,270.4 366.4,269.0 366.6,269.5 366.9,270.0 367.1,271.4 367.4,272.2 367.6,270.3 367.9,269.4 368.1,269.5 368.4,267.6 368.6,268.0 368.9,270.6 369.1,268.7 369.4,272.2 369.6,272.8 369.9,270.0 370.1,268.3 370.4,265.0 370.6,268.3 370.9,268.0 371.1,268.0 371.4,267.8 371.6,267.7 371.9,270.9 372.1,269.7 372.4,269.4 372.6,270.1 372.9,268.5 373.1,268.8 373.4,269.5 373.6,272.5 373.9,272.5 374.1,273.1 374.4,268.8 374.6,266.0 374.9,270.3 375.1,268.0 375.4,268.6 375.6,266.8 375.9,270.0 376.1,269.8 376.4,269.3 376.6,270.8 376.9,269.3 377.1,268.3 377.4,269.7 377.6,268.3 377.9,270.5 378.1,271.9 378.4,272.0 378.6,270.2 378.9,267.8 379.1,270.4 379.4,269.5 379.6,269.5 379.9,269.0 380.1,269.2 380.4,269.0 380.6,267.5 380.9,269.0 381.1,269.2 381.4,268.8 381.6,268.8 381.9,269.5 382.1,268.4 382.4,268.3 382.6,268.6 382.9,269.9 383.1,269.1 383.4,270.6 383.6,270.1 383.9,270.8 384.1,270.3 384.4,269.4 384.6,270.5 384.9,269.5 385.1,269.6 385.4,269.7 385.6,269.0 385.9,269.7 386.1,269.6 386.4,268.8 386.6,268.4 386.9,270.2 387.1,269.0 387.4,269.4 387.6,269.8 387.9,268.8 388.1,268.7 388.4,268.7 388.6,269.7 388.9,269.5 389.1,269.3 389.4,270.0 389.6,268.9 389.9,268.7 390.1,269.9 390.4,269.0 390.6,270.2 390.9,269.9 391.1,271.7 391.4,273.2 391.6,273.5 391.9,271.0 392.1,269.7 392.4,270.4 392.6,270.4 392.9,271.5 393.1,273.2 393.4,273.7 393.6,271.7 393.9,270.5 394.1,269.6 394.4,270.3 394.6,269.8 394.9,269.5 395.1,269.7 395.4,269.8 395.6,270.0 395.9,270.2 396.1,269.5 396.4,270.0 396.6,269.6 396.9,270.2 397.1,270.1 397.4,269.6 397.6,269.8 397.9,269.9 398.1,270.1 398.4,269.6 398.6,271.0 398.9,273.6 399.1,278.0 399.4,279.6 399.6,277.9 399.9,273.6 400.1,271.3 400.4,270.1 400.6,269.9 400.9,269.9 401.1,270.7 401.4,270.8 401.6,270.1 401.9,270.2 402.1,269.8 402.4,270.9 402.6,269.9 402.9,269.7 403.1,269.9 403.4,269.5 403.6,269.6 403.9,270.4 404.1,270.2 404.4,269.6 404.6,270.6 404.9,270.3 405.1,271.5 405.4,273.1 405.6,272.3 405.9,271.2 406.1,270.3 406.4,269.5 406.6,270.3 406.9,270.1 407.1,269.9 407.4,270.2 407.6,269.7 407.9,270.0 408.1,269.7 408.4,270.0 408.6,270.6 408.9,270.5 409.1,270.0 409.4,270.6 409.6,273.2 409.9,273.2 410.1,271.8 410.4,270.7 410.6,270.5 410.9,270.5 411.1,270.4 411.4,270.8 411.6,270.4 411.9,270.6 412.1,270.9 412.4,270.3 412.6,270.8 412.9,270.9 413.1,272.3 413.4,273.9 413.6,273.6 413.9,271.5 414.1,271.6 414.4,270.9 414.6,270.6 414.9,271.0 415.1,270.8 415.4,271.9 415.6,270.7 415.9,271.2 416.1,271.0 416.4,271.4 416.6,271.4 416.9,273.7 417.1,275.9 417.4,277.1 417.6,276.7 417.9,273.2 418.1,272.1 418.4,271.5 418.6,272.1 418.9,271.7 419.1,271.7 419.4,271.3 419.6,271.9 419.9,272.0 420.1,271.2 420.4,272.0 420.6,271.9 420.9,272.0 421.1,272.1 421.4,272.7 421.6,272.8 421.9,273.4 422.1,273.0 422.4,273.0 422.6,273.7 422.9,273.9 423.1,274.1 423.4,274.4 423.6,274.1 423.9,274.8 424.1,275.0 424.4,276.5 424.6,279.7 424.9,281.6 425.1,279.9 425.4,277.6 425.6,276.0 425.9,276.5 426.1,276.3 426.4,277.2 426.6,276.5 426.9,277.0 427.1,277.3 427.4,276.8 427.6,276.9 427.9,282.4 428.1,282.1 428.4,282.5 428.6,281.8 428.9,281.8 429.1,281.7 429.4,282.0 429.6,281.3 429.9,281.7 430.1,280.8 430.4,281.1 430.6,281.0 430.9,280.9 431.1,280.6 431.4,281.1 431.6,280.3 431.9,281.0 432.1,280.1 432.4,281.0 432.6,280.0 432.9,280.2 433.1,280.0 433.4,280.6 433.6,280.7 433.9,279.8 434.1,281.0 434.4,280.2 434.6,280.7 434.9,281.4 435.1,280.5 435.4,279.8 435.6,280.2 435.9,280.6 436.1,280.2 436.4,280.5 436.6,280.2 436.9,280.6 437.1,280.4 437.4,279.5 437.6,288.3 437.9,287.1 438.1,287.1 438.4,286.1 438.6,285.4 438.9,285.5 439.1,286.1 439.4,285.0 439.6,284.9 439.9,285.9 440.1,286.0 440.4,285.3 440.6,285.5 440.9,284.8 441.1,285.7 441.4,287.5 441.6,288.8 441.9,286.3 442.1,285.2 442.4,284.8 442.6,284.2 442.9,284.7 443.1,284.3 443.4,284.7 443.6,284.1 443.9,283.7 444.1,284.2 444.4,284.1 444.6,284.1 444.9,284.4 445.1,283.6 445.4,284.5 445.6,284.1 445.9,284.7 446.1,284.6 446.4,284.1 446.6,284.2 446.9,292.5 447.1,291.8 447.4,291.0 447.6,291.5 447.9,290.2 448.1,291.1 448.4,289.6 448.6,290.4 448.9,290.3 449.1,289.6 449.4,289.9 449.6,289.2 449.9,289.0 450.1,289.6 450.4,289.0 450.6,288.9 450.9,289.0 451.1,290.0 451.4,289.5 451.6,289.1 451.9,289.4 452.1,288.8 452.4,288.8 452.6,289.2 452.9,289.7 453.1,290.1 453.4,288.5 453.6,289.1 453.9,288.7 454.1,288.3 454.4,288.7 454.6,289.0 454.9,288.4 455.1,288.7 455.4,287.9 455.6,288.7 455.9,287.5 456.1,287.9 456.4,288.1 456.6,288.3 456.9,295.6 457.1,295.5 457.4,294.6 457.6,294.4 457.9,294.3 458.1,293.7 458.4,294.7 458.6,293.0 458.9,293.5 459.1,292.6 459.4,293.2 459.6,292.9 459.9,292.4 460.1,291.8 460.4,292.5 460.6,291.3 460.9,292.0 461.1,292.4 461.4,292.2 461.6,291.7 461.9,291.8" fill="none" stroke="#000" stroke-width="1.4" stroke-linejoin="round"/>
<polyline points="335.9,254.6 336.1,256.3 336.4,258.0 336.6,258.1 336.9,258.2 337.1,258.4 337.4,258.5 337.6,257.1 337.9,256.1 338.1,257.3 338.4,258.8 338.6,259.1 338.9,258.0 339.1,257.6 339.4,257.9 339.6,258.1 339.9,258.3 340.1,258.0 340.4,257.8 340.6,257.7 340.9,257.7 341.1,257.5 341.4,257.3 341.6,257.0 341.9,256.8 342.1,257.7 342.4,258.9 342.6,257.9 342.9,256.6 343.1,258.2 343.4,260.0 343.6,258.5 343.9,257.2 344.1,256.3 344.4,255.4 344.6,257.0 344.9,258.6 345.1,258.5 345.4,258.5 345.6,259.0 345.9,259.5 346.1,259.5 346.4,259.5 346.6,258.9 346.9,258.3 347.1,259.2 347.4,260.0 347.6,259.1 347.9,258.3 348.1,258.9 348.4,259.6 348.6,258.6 348.9,257.7 349.1,258.2 349.4,258.8 349.6,259.2 349.9,259.6 350.1,259.2 350.4,258.8 350.6,260.2 350.9,261.6 351.1,262.6 351.4,263.6 351.6,261.9 351.9,260.3 352.1,260.3 352.4,260.2 352.6,259.6 352.9,259.0 353.1,260.2 353.4,261.3 353.6,261.2 353.9,261.0 354.1,261.4 354.4,261.7 354.6,261.0 354.9,260.3 355.1,260.9 355.4,261.4 355.6,261.6 355.9,261.9 356.1,263.0 356.4,264.2 356.6,262.8 356.9,261.4 357.1,262.4 357.4,263.4 357.6,263.4 357.9,263.4 358.1,263.1 358.4,262.8 358.6,262.6 358.9,262.4 359.1,263.4 359.4,264.4 359.6,263.9 359.9,263.4 360.1,264.4 360.4,265.4 360.6,265.8 360.9,266.2 361.1,264.6 361.4,262.9 361.6,263.8 361.9,264.8 362.1,264.5 362.4,264.3 362.6,263.8 362.9,263.3 363.1,263.6 363.4,264.0 363.6,265.0 363.9,266.1 364.1,266.7 364.4,267.4 364.6,266.8 364.9,266.2 365.1,266.8 365.4,267.4 365.6,267.1 365.9,266.9 366.1,267.3 366.4,267.8 366.6,267.1 366.9,267.3 367.1,269.1 367.4,269.3 367.6,268.6 367.9,268.1 368.1,266.7 368.4,265.6 368.6,265.8 368.9,266.7 369.1,269.9 369.4,273.6 369.6,273.8 369.9,271.2 370.1,268.5 370.4,267.3 370.6,267.6 370.9,268.0 371.1,267.7 371.4,267.3 371.6,268.7 371.9,270.1 372.1,269.0 372.4,267.9 372.6,268.2 372.9,268.4 373.1,268.5 373.4,268.9 373.6,270.4 373.9,271.5 374.1,270.9 374.4,270.3 374.6,270.0 374.9,269.8 375.1,269.2 375.4,268.6 375.6,269.5 375.9,270.4 376.1,271.4 376.4,272.3 376.6,271.6 376.9,270.7 377.1,269.5 377.4,268.4 377.6,269.5 377.9,270.7 378.1,270.9 378.4,271.1 378.6,271.2 378.9,270.8 379.1,270.8 379.4,270.9 379.6,270.2 379.9,269.4 380.1,270.4 380.4,271.4 380.6,271.3 380.9,271.1 381.1,271.6 381.4,272.2 381.6,270.9 381.9,269.7 382.1,270.2 382.4,270.7 382.6,271.3 382.9,272.0 383.1,271.8 383.4,271.6 383.6,271.1 383.9,270.7 384.1,271.2 384.4,271.8 384.6,271.8 384.9,271.7 385.1,271.5 385.4,271.3 385.6,271.6 385.9,271.8 386.1,272.7 386.4,273.5 386.6,272.9 386.9,272.4 387.1,272.3 387.4,272.3 387.6,272.7 387.9,273.1 388.1,272.1 388.4,271.0 388.6,271.5 388.9,271.9 389.1,272.3 389.4,272.8 389.6,272.8 389.9,272.9 390.1,272.5 390.4,272.2 390.6,272.5 390.9,273.1 391.1,273.5 391.4,274.0 391.6,273.9 391.9,273.0 392.1,273.2 392.4,273.8 392.6,273.7 392.9,273.9 393.1,273.9 393.4,273.5 393.6,273.7 393.9,273.9 394.1,273.8 394.4,273.9 394.6,274.0 394.9,274.2 395.1,273.9 395.4,273.6 395.6,273.5 395.9,273.5 396.1,273.4 396.4,273.3 396.6,274.2 396.9,275.1 397.1,275.8 397.4,276.4 397.6,275.4 397.9,274.3 398.1,275.1 398.4,276.1 398.6,277.0 398.9,280.3 399.1,286.0 399.4,288.9 399.6,286.4 399.9,281.3 400.1,277.4 400.4,276.0 400.6,276.6 400.9,277.4 401.1,276.5 401.4,275.6 401.6,276.3 401.9,276.9 402.1,276.7 402.4,276.4 402.6,275.8 402.9,275.3 403.1,276.0 403.4,276.7 403.6,276.6 403.9,276.5 404.1,276.4 404.4,276.3 404.6,275.9 404.9,275.8 405.1,277.9 405.4,279.9 405.6,279.7 405.9,279.0 406.1,278.1 406.4,277.5 406.6,278.0 406.9,278.4 407.1,278.6 407.4,278.8 407.6,278.3 407.9,277.7 408.1,279.1 408.4,280.5 408.6,278.8 408.9,277.2 409.1,277.7 409.4,278.5 409.6,279.7 409.9,280.3 410.1,279.6 410.4,279.1 410.6,278.7 410.9,278.6 411.1,278.5 411.4,278.4 411.6,279.3 411.9,280.3 412.1,279.2 412.4,278.0 412.6,278.5 412.9,279.0 413.1,279.6 413.4,280.3 413.6,280.5 413.9,280.4 414.1,280.5 414.4,280.9 414.6,280.2 414.9,279.7 415.1,279.5 415.4,279.3 415.6,279.6 415.9,279.9 416.1,280.0 416.4,280.1 416.6,280.5 416.9,282.0 417.1,285.4 417.4,287.7 417.6,285.5 417.9,282.3 418.1,281.0 418.4,280.8 418.6,280.6 418.9,280.4 419.1,280.4 419.4,280.4 419.6,281.2 419.9,282.0 420.1,281.1 420.4,280.2 420.6,280.1 420.9,280.2 421.1,281.0 421.4,281.9 421.6,282.4 421.9,282.9 422.1,282.4 422.4,281.8 422.6,282.8 422.9,283.8 423.1,283.3 423.4,282.9 423.6,282.5 423.9,282.2 424.1,283.1 424.4,284.8 424.6,287.3 424.9,288.9 425.1,287.7 425.4,285.5 425.6,284.0 425.9,283.5 426.1,283.1 426.4,282.9 426.6,283.9 426.9,284.9 427.1,284.5 427.4,284.0 427.6,284.5 427.9,291.3 428.1,290.4 428.4,289.7 428.6,288.1 428.9,286.7 429.1,287.0 429.4,287.3 429.6,288.0 429.9,288.7 430.1,287.7 430.4,286.8 430.6,287.0 430.9,287.3 431.1,287.2 431.4,287.1 431.6,286.6 431.9,286.2 432.1,286.2 432.4,286.3 432.6,286.2 432.9,286.2 433.1,286.9 433.4,287.6 433.6,286.8 433.9,286.0 434.1,286.2 434.4,286.4 434.6,287.3 434.9,288.2 435.1,287.4 435.4,286.6 435.6,286.1 435.9,285.7 436.1,286.5 436.4,287.4 436.6,287.7 436.9,288.0 437.1,287.7 437.4,287.4 437.6,294.7 437.9,293.7 438.1,293.4 438.4,293.1 438.6,291.4 438.9,289.8 439.1,290.0 439.4,290.2 439.6,290.0 439.9,289.9 440.1,290.4 440.4,290.9 440.6,290.5 440.9,290.2 441.1,290.3 441.4,290.9 441.6,291.6 441.9,291.2 442.1,291.1 442.4,291.6 442.6,290.9 442.9,290.3 443.1,290.8 443.4,291.3 443.6,291.0 443.9,290.7 444.1,290.4 444.4,290.4 444.6,290.9 444.9,291.0 445.1,290.8 445.4,290.8 445.6,290.2 445.9,289.7 446.1,290.3 446.4,290.9 446.6,290.0 446.9,297.1 447.1,297.0 447.4,297.1 447.6,295.8 447.9,294.7 448.1,294.8 448.4,294.9 448.6,295.6 448.9,296.2 449.1,295.3 449.4,294.4 449.6,294.3 449.9,294.1 450.1,293.8 450.4,293.5 450.6,294.0 450.9,294.4 451.1,293.9 451.4,293.3 451.6,293.4 451.9,293.4 452.1,293.2 452.4,293.0 452.6,294.0 452.9,295.0 453.1,294.2 453.4,293.5 453.6,293.7 453.9,293.8 454.1,294.5 454.4,295.2 454.6,294.7 454.9,294.2 455.1,293.9 455.4,293.6 455.6,293.4 455.9,293.3 456.1,293.5 456.4,293.8 456.6,293.9 456.9,302.1 457.1,300.4 457.4,298.9 457.6,298.4 457.9,298.0 458.1,297.9 458.4,297.8 458.6,297.6 458.9,297.4 459.1,297.2 459.4,297.1 459.6,296.6 459.9,296.2 460.1,296.6 460.4,297.1 460.6,296.9 460.9,296.7 461.1,296.1 461.4,295.6 461.6,295.7 461.9,295.7" fill="none" stroke="#f47e70" stroke-width="1.1" stroke-linejoin="round"/>
<text x="76.8" y="33.5" class="sl">K4V</text>
<text x="76.8" y="58.3" class="sl">K5V</text>
<text x="76.8" y="82.8" class="sl">K7V</text>
<text x="76.8" y="107.6" class="sl">M0V</text>
<text x="76.8" y="131.7" class="sl">M1V</text>
<text x="76.8" y="155.4" class="sl">M2V</text>
<text x="76.8" y="178.8" class="sl">M3V</text>
<text x="76.8" y="203.0" class="sl">M4V</text>
<text x="76.8" y="227.1" class="sl">M5V</text>
<text x="76.8" y="258.1" class="sl">M6V</text>
<text x="234.8" y="33.5" class="sl">K4V</text>
<text x="234.8" y="58.3" class="sl">K5V</text>
<text x="234.8" y="82.8" class="sl">K7V</text>
<text x="234.8" y="107.6" class="sl">M0V</text>
<text x="234.8" y="131.7" class="sl">M1V</text>
<text x="234.8" y="155.4" class="sl">M2V</text>
<text x="234.8" y="178.8" class="sl">M3V</text>
<text x="234.8" y="203.0" class="sl">M4V</text>
<text x="234.8" y="227.1" class="sl">M5V</text>
<text x="234.8" y="258.1" class="sl">M6V</text>
<text x="358.2" y="33.5" class="sl">K4V</text>
<text x="358.2" y="58.3" class="sl">K5V</text>
<text x="358.2" y="82.8" class="sl">K7V</text>
<text x="358.2" y="107.6" class="sl">M0V</text>
<text x="358.2" y="131.7" class="sl">M1V</text>
<text x="358.2" y="155.4" class="sl">M2V</text>
<text x="358.2" y="178.8" class="sl">M3V</text>
<text x="358.2" y="203.0" class="sl">M4V</text>
<text x="358.2" y="227.1" class="sl">M5V</text>
<text x="358.2" y="258.1" class="sl">M6V</text>
<!-- line markers -->
<path d="M50.9 27.3V19.7H56.4V27.3M98.2 33.4V26.1H103.5V33.4M113.3 27.7V35.4M230.5 22.1V32.8M278.4 34.2V45.9M399.4 38.2V48.7" stroke="#000" stroke-width="0.9" fill="none"/>
<text x="51.2" y="17.9" class="mk">K I</text>
<text x="98.6" y="24.3" class="mk">K I</text>
<text x="111.1" y="26.7" class="mk">Na I</text>
<text x="227.6" y="18.9" class="mk">Si I</text>
<text x="274.3" y="30.0" class="mk">Mg I</text>
<text x="395.7" y="35.0" class="mk">Na I</text>
<text x="402.4" y="14.2" style="font-size:6.7px;fill:#f47e70;stroke:#f47e70;stroke-width:0.15px">EPIC21069_tel</text>
<text x="402.4" y="20.6" style="font-size:6.7px;fill:#000;stroke:#000;stroke-width:0.2px">Standards</text>
<!-- axis numbers -->
<text x="34.2" y="11.8" class="ax" text-anchor="end">4</text>
<text x="34.2" y="87.5" class="ax" text-anchor="end">3</text>
<text x="34.2" y="167.5" class="ax" text-anchor="end">2</text>
<text x="34.2" y="247.5" class="ax" text-anchor="end">1</text>
<g class="ax" text-anchor="middle">
<text x="70.4" y="326.8" class="ax">1.20</text>
<text x="102.2" y="326.8" class="ax">1.25</text>
<text x="133.9" y="326.8" class="ax">1.30</text>
<text x="187.0" y="326.8" class="ax">1.48</text>
<text x="229.2" y="326.8" class="ax">1.59</text>
<text x="271.3" y="326.8" class="ax">1.69</text>
<text x="313.5" y="326.8" class="ax">1.80</text>
<text x="364.3" y="326.8" class="ax">2.1</text>
<text x="397.0" y="326.8" class="ax">2.2</text>
<text x="429.6" y="326.8" class="ax">2.3</text>
<text x="462.3" y="326.8" class="ax">2.4</text>
</g>
<text x="251.5" y="344.5" class="ax" text-anchor="middle">λ [μm]</text>
<text transform="translate(12.2,235.6) rotate(-90)" class="ax" style="stroke:none;font-size:16.3px">Normalized <tspan style="font-family:'Liberation Serif',serif;font-style:italic">f</tspan><tspan dy="3.5" style="font-size:11px">λ</tspan><tspan dy="-3.5"> + const.</tspan></text>
</svg>
</body></html>
